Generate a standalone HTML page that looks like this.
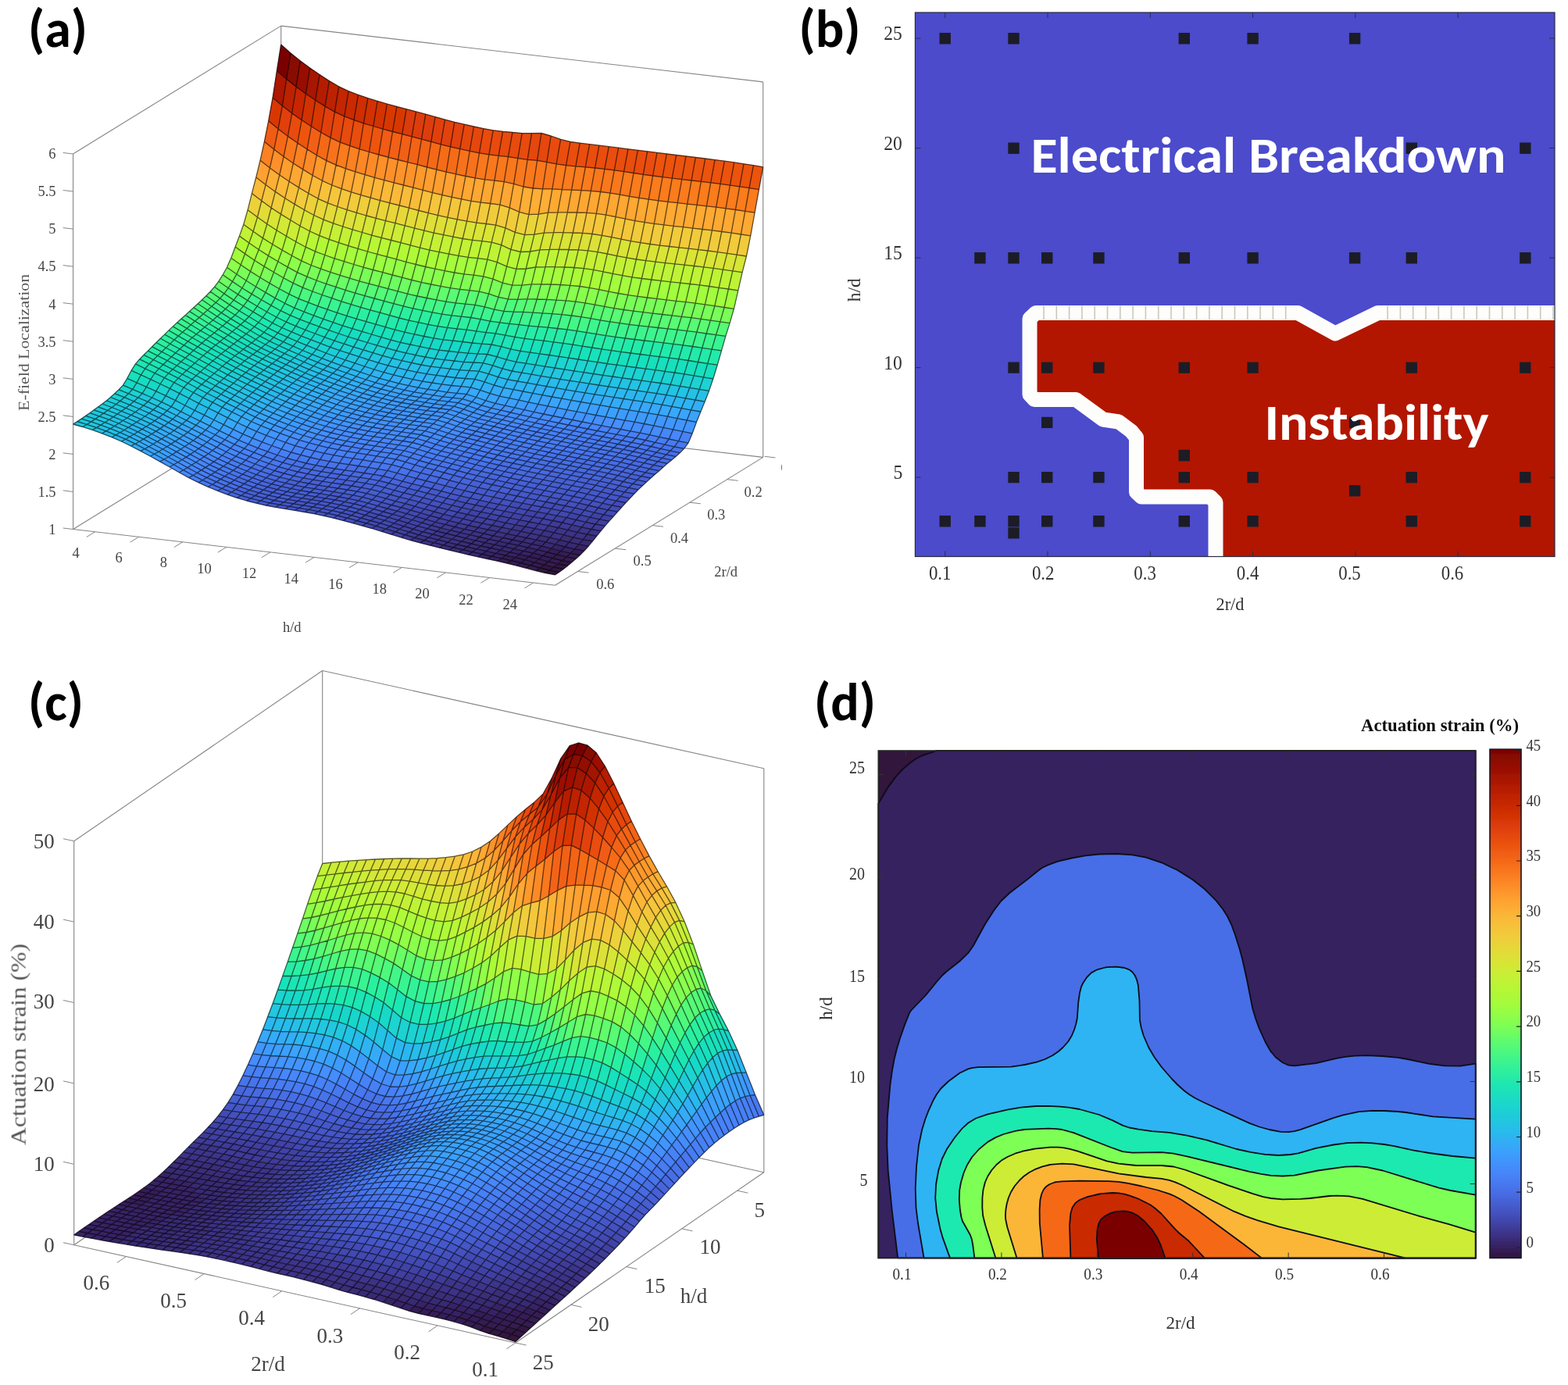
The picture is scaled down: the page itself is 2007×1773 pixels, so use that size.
<!DOCTYPE html><html><head><meta charset="utf-8"><title>Figure</title><style>html,body{margin:0;padding:0;background:#fff;width:2007px;height:1773px;overflow:hidden}svg{display:block}</style></head><body><svg width="2007" height="1773" viewBox="0 0 2007 1773"><defs><filter id="soft" x="0" y="0" width="2007" height="1773" filterUnits="userSpaceOnUse"><feGaussianBlur stdDeviation="0.45"/></filter><clipPath id="clipA"><rect x="0" y="0" width="1001" height="840"/></clipPath><linearGradient id="cbar" x1="0" y1="0" x2="0" y2="1"><stop offset="0.0000" stop-color="#7a0403"/><stop offset="0.0417" stop-color="#9b0f01"/><stop offset="0.0833" stop-color="#b91e02"/><stop offset="0.1250" stop-color="#d02f05"/><stop offset="0.1667" stop-color="#e4450a"/><stop offset="0.2083" stop-color="#f26014"/><stop offset="0.2500" stop-color="#fb7e21"/><stop offset="0.2917" stop-color="#fe9e2f"/><stop offset="0.3333" stop-color="#faba39"/><stop offset="0.3750" stop-color="#eecf3a"/><stop offset="0.4167" stop-color="#d9e436"/><stop offset="0.4583" stop-color="#bef434"/><stop offset="0.5000" stop-color="#a4fc3c"/><stop offset="0.5417" stop-color="#80ff53"/><stop offset="0.5833" stop-color="#55fa76"/><stop offset="0.6250" stop-color="#32f298"/><stop offset="0.6667" stop-color="#1ae4b6"/><stop offset="0.7083" stop-color="#1ad2d2"/><stop offset="0.7500" stop-color="#28bceb"/><stop offset="0.7917" stop-color="#3ba0fd"/><stop offset="0.8333" stop-color="#4685fa"/><stop offset="0.8750" stop-color="#466be3"/><stop offset="0.9167" stop-color="#434eba"/><stop offset="0.9583" stop-color="#3b2f80"/><stop offset="1.0000" stop-color="#30123b"/></linearGradient></defs><rect width="2007" height="1773" fill="#fff"/><g filter="url(#soft)"><line x1="93.6" y1="677.5" x2="93.6" y2="197" stroke="#858585" stroke-width="1.1"/><line x1="93.6" y1="197" x2="359.7" y2="33.1" stroke="#858585" stroke-width="1.1"/><line x1="359.7" y1="33.1" x2="976.7" y2="104.9" stroke="#858585" stroke-width="1.1"/><line x1="976.7" y1="104.9" x2="976.7" y2="585.4" stroke="#858585" stroke-width="1.1"/><line x1="359.7" y1="33.1" x2="359.7" y2="513.6" stroke="#858585" stroke-width="1.1"/><line x1="93.6" y1="677.5" x2="710.6" y2="749.3" stroke="#858585" stroke-width="1.1"/><line x1="710.6" y1="749.3" x2="976.7" y2="585.4" stroke="#858585" stroke-width="1.1"/><line x1="359.7" y1="513.6" x2="976.7" y2="585.4" stroke="#858585" stroke-width="1.1"/><line x1="93.6" y1="677.5" x2="359.7" y2="513.6" stroke="#858585" stroke-width="1.1"/><line x1="93.6" y1="677.5" x2="80.7" y2="676" stroke="#858585" stroke-width="1.0"/><text x="71.5" y="683.8" font-size="18.5" text-anchor="end" font-family="'Liberation Serif','Times New Roman',serif" fill="#444">1</text><line x1="93.6" y1="629.5" x2="80.7" y2="627.9" stroke="#858585" stroke-width="1.0"/><text x="71.5" y="635.7" font-size="18.5" text-anchor="end" font-family="'Liberation Serif','Times New Roman',serif" fill="#444">1.5</text><line x1="93.6" y1="581.4" x2="80.7" y2="579.9" stroke="#858585" stroke-width="1.0"/><text x="71.5" y="587.7" font-size="18.5" text-anchor="end" font-family="'Liberation Serif','Times New Roman',serif" fill="#444">2</text><line x1="93.6" y1="533.4" x2="80.7" y2="531.8" stroke="#858585" stroke-width="1.0"/><text x="71.5" y="539.6" font-size="18.5" text-anchor="end" font-family="'Liberation Serif','Times New Roman',serif" fill="#444">2.5</text><line x1="93.6" y1="485.3" x2="80.7" y2="483.8" stroke="#858585" stroke-width="1.0"/><text x="71.5" y="491.6" font-size="18.5" text-anchor="end" font-family="'Liberation Serif','Times New Roman',serif" fill="#444">3</text><line x1="93.6" y1="437.2" x2="80.7" y2="435.7" stroke="#858585" stroke-width="1.0"/><text x="71.5" y="443.5" font-size="18.5" text-anchor="end" font-family="'Liberation Serif','Times New Roman',serif" fill="#444">3.5</text><line x1="93.6" y1="389.2" x2="80.7" y2="387.7" stroke="#858585" stroke-width="1.0"/><text x="71.5" y="395.5" font-size="18.5" text-anchor="end" font-family="'Liberation Serif','Times New Roman',serif" fill="#444">4</text><line x1="93.6" y1="341.2" x2="80.7" y2="339.6" stroke="#858585" stroke-width="1.0"/><text x="71.5" y="347.4" font-size="18.5" text-anchor="end" font-family="'Liberation Serif','Times New Roman',serif" fill="#444">4.5</text><line x1="93.6" y1="293.1" x2="80.7" y2="291.6" stroke="#858585" stroke-width="1.0"/><text x="71.5" y="299.4" font-size="18.5" text-anchor="end" font-family="'Liberation Serif','Times New Roman',serif" fill="#444">5</text><line x1="93.6" y1="245.1" x2="80.7" y2="243.5" stroke="#858585" stroke-width="1.0"/><text x="71.5" y="251.3" font-size="18.5" text-anchor="end" font-family="'Liberation Serif','Times New Roman',serif" fill="#444">5.5</text><line x1="93.6" y1="197" x2="80.7" y2="195.5" stroke="#858585" stroke-width="1.0"/><text x="71.5" y="203.3" font-size="18.5" text-anchor="end" font-family="'Liberation Serif','Times New Roman',serif" fill="#444">6</text><line x1="121.6" y1="680.8" x2="110.6" y2="687.6" stroke="#858585" stroke-width="1.0"/><text x="97.2" y="713.8" font-size="18.5" text-anchor="middle" font-family="'Liberation Serif','Times New Roman',serif" fill="#444">4</text><line x1="177.7" y1="687.3" x2="166.7" y2="694.1" stroke="#858585" stroke-width="1.0"/><text x="152" y="719.8" font-size="18.5" text-anchor="middle" font-family="'Liberation Serif','Times New Roman',serif" fill="#444">6</text><line x1="233.8" y1="693.8" x2="222.8" y2="700.6" stroke="#858585" stroke-width="1.0"/><text x="209.3" y="726.3" font-size="18.5" text-anchor="middle" font-family="'Liberation Serif','Times New Roman',serif" fill="#444">8</text><line x1="289.9" y1="700.3" x2="278.8" y2="707.2" stroke="#858585" stroke-width="1.0"/><text x="261.6" y="733.8" font-size="18.5" text-anchor="middle" font-family="'Liberation Serif','Times New Roman',serif" fill="#444">10</text><line x1="346" y1="706.9" x2="334.9" y2="713.7" stroke="#858585" stroke-width="1.0"/><text x="318.9" y="740.3" font-size="18.5" text-anchor="middle" font-family="'Liberation Serif','Times New Roman',serif" fill="#444">12</text><line x1="402.1" y1="713.4" x2="391" y2="720.2" stroke="#858585" stroke-width="1.0"/><text x="372.7" y="747.3" font-size="18.5" text-anchor="middle" font-family="'Liberation Serif','Times New Roman',serif" fill="#444">14</text><line x1="458.2" y1="719.9" x2="447.1" y2="726.7" stroke="#858585" stroke-width="1.0"/><text x="429.5" y="753.7" font-size="18.5" text-anchor="middle" font-family="'Liberation Serif','Times New Roman',serif" fill="#444">16</text><line x1="514.3" y1="726.5" x2="503.2" y2="733.3" stroke="#858585" stroke-width="1.0"/><text x="485.8" y="760.2" font-size="18.5" text-anchor="middle" font-family="'Liberation Serif','Times New Roman',serif" fill="#444">18</text><line x1="570.4" y1="733" x2="559.3" y2="739.8" stroke="#858585" stroke-width="1.0"/><text x="540.6" y="766.1" font-size="18.5" text-anchor="middle" font-family="'Liberation Serif','Times New Roman',serif" fill="#444">20</text><line x1="626.5" y1="739.5" x2="615.4" y2="746.3" stroke="#858585" stroke-width="1.0"/><text x="596.4" y="773.6" font-size="18.5" text-anchor="middle" font-family="'Liberation Serif','Times New Roman',serif" fill="#444">22</text><line x1="682.6" y1="746" x2="671.5" y2="752.9" stroke="#858585" stroke-width="1.0"/><text x="652.7" y="779.6" font-size="18.5" text-anchor="middle" font-family="'Liberation Serif','Times New Roman',serif" fill="#444">24</text><line x1="978.6" y1="584.3" x2="992.5" y2="585.9" stroke="#858585" stroke-width="1.0"/><line x1="930.7" y1="613.7" x2="944.7" y2="615.3" stroke="#858585" stroke-width="1.0"/><text x="964.1" y="635.6" font-size="18.5" text-anchor="middle" font-family="'Liberation Serif','Times New Roman',serif" fill="#444">0.2</text><line x1="882.9" y1="643.2" x2="896.8" y2="644.8" stroke="#858585" stroke-width="1.0"/><text x="916.8" y="665" font-size="18.5" text-anchor="middle" font-family="'Liberation Serif','Times New Roman',serif" fill="#444">0.3</text><line x1="835.1" y1="672.6" x2="849" y2="674.2" stroke="#858585" stroke-width="1.0"/><text x="869.5" y="695.4" font-size="18.5" text-anchor="middle" font-family="'Liberation Serif','Times New Roman',serif" fill="#444">0.4</text><line x1="787.3" y1="702.1" x2="801.2" y2="703.7" stroke="#858585" stroke-width="1.0"/><text x="822.1" y="723.8" font-size="18.5" text-anchor="middle" font-family="'Liberation Serif','Times New Roman',serif" fill="#444">0.5</text><line x1="739.5" y1="731.5" x2="753.4" y2="733.1" stroke="#858585" stroke-width="1.0"/><text x="774.8" y="753.7" font-size="18.5" text-anchor="middle" font-family="'Liberation Serif','Times New Roman',serif" fill="#444">0.6</text><text x="1011" y="605.3" font-size="18.5" text-anchor="middle" font-family="'Liberation Serif','Times New Roman',serif" fill="#444" clip-path="url(#clipA)">0.1</text><text x="373.7" y="808.5" font-size="18.5" text-anchor="middle" font-family="'Liberation Serif','Times New Roman',serif" fill="#444">h/d</text><text x="929.2" y="737.7" font-size="18.5" text-anchor="middle" font-family="'Liberation Serif','Times New Roman',serif" fill="#444">2r/d</text><text x="30.5" y="444.9" font-size="19" text-anchor="middle" font-family="'Liberation Serif','Times New Roman',serif" fill="#555" textLength="175" lengthAdjust="spacingAndGlyphs" transform="rotate(-90 30.5 438.4)">E-field Localization</text><g><path fill="#30123b" stroke="#30123b" stroke-width="0.6" d="M698.3 733.5l12.3 2.3 5.3 -3.5 -12.3 -2.3z"/><path fill="#321543" stroke="#321543" stroke-width="0.6" d="M685.9 730.6l12.3 3 5.3 -3.6 -12.3 -3zM691.2 727l12.3 3 5.3 -3.9 -12.3 -3zM703.6 730l12.3 2.3 5.3 -3.9 -12.3 -2.3zM708.9 726.1l12.3 2.3 5.3 -4.2 -12.3 -2.3zM714.2 721.9l12.3 2.3 5.3 -4.4 -12.3 -2.3z"/><path fill="#341b51" stroke="#341b51" stroke-width="0.6" d="M661.2 724l12.3 3.3 5.3 -3.5 -12.3 -3.2zM666.6 720.5l12.3 3.2 5.3 -3.9 -12.3 -3.2zM673.6 727.3l12.3 3.3 5.3 -3.5 -12.3 -3.3zM678.9 723.7l12.3 3.3 5.3 -3.9 -12.3 -3.3zM684.2 719.9l12.3 3.3 5.3 -4.2 -12.3 -3.2zM696.6 723.1l12.3 3 5.3 -4.2 -12.3 -2.9zM701.9 718.9l12.3 2.9 5.3 -4.4 -12.3 -2.9zM707.2 714.5l12.3 2.9 5.3 -4.5 -12.3 -2.9zM719.5 717.5l12.3 2.3 5.3 -4.5 -12.3 -2.3zM724.9 712.9l12.3 2.3 5.3 -4.7 -12.3 -2.3z"/><path fill="#351e58" stroke="#351e58" stroke-width="0.6" d="M636.6 718.2l12.3 2.8 5.3 -3.5 -12.3 -2.8zM641.9 714.8l12.3 2.8 5.3 -3.8 -12.3 -2.8zM648.9 721l12.3 3 5.3 -3.5 -12.3 -2.9zM654.2 717.5l12.3 2.9 5.3 -3.9 -12.3 -2.9zM659.5 713.7l12.3 2.9 5.3 -4.1 -12.3 -2.9zM671.9 716.6l12.3 3.2 5.3 -4.2 -12.3 -3.2zM677.2 712.5l12.3 3.2 5.3 -4.4 -12.3 -3.2zM689.5 715.7l12.3 3.2 5.3 -4.4 -12.3 -3.2zM694.9 711.3l12.3 3.2 5.3 -4.5 -12.3 -3.2zM700.2 706.9l12.3 3.2 5.3 -4.7 -12.3 -3.1zM712.5 710l12.3 2.9 5.3 -4.7 -12.3 -2.9zM730.2 708.2l12.3 2.3 5.3 -5.4 -12.3 -2.3z"/><path fill="#372466" stroke="#372466" stroke-width="0.6" d="M611.9 712.8l12.3 2.7 5.3 -3.5 -12.3 -2.7zM617.2 709.4l12.3 2.7 5.3 -3.8 -12.3 -2.7zM624.2 715.5l12.3 2.7 5.3 -3.5 -12.3 -2.7zM629.5 712.1l12.3 2.7 5.3 -3.8 -12.3 -2.7zM634.9 708.3l12.3 2.7 5.3 -4.1 -12.3 -2.7zM647.2 711l12.3 2.8 5.3 -4.1 -12.3 -2.7zM652.5 706.9l12.3 2.7 5.3 -4.3 -12.3 -2.7zM664.9 709.6l12.3 2.9 5.3 -4.3 -12.3 -2.9zM670.2 705.3l12.3 2.9 5.3 -4.5 -12.3 -2.8zM682.5 708.2l12.3 3.2 5.3 -4.5 -12.3 -3.1zM687.9 703.7l12.3 3.1 5.3 -4.7 -12.3 -3.1zM705.5 702.2l12.3 3.1 5.3 -5.3 -12.3 -3.1zM717.9 705.3l12.3 2.9 5.3 -5.4 -12.3 -2.8zM735.5 702.9l12.3 2.3 5.3 -6 -12.3 -2.3z"/><path fill="#392a73" stroke="#392a73" stroke-width="0.6" d="M587.2 707.1l12.3 2.9 5.3 -3.4 -12.3 -2.9zM592.5 703.7l12.3 2.9 5.3 -3.8 -12.3 -2.9zM599.5 710l12.3 2.8 5.3 -3.4 -12.3 -2.8zM604.9 706.6l12.3 2.8 5.3 -3.8 -12.3 -2.7zM610.2 702.8l12.3 2.7 5.3 -4 -12.3 -2.7zM615.5 698.8l12.3 2.7 5.3 -4.2 -12.3 -2.7zM622.5 705.6l12.3 2.7 5.3 -4.1 -12.3 -2.7zM627.8 701.5l12.3 2.7 5.3 -4.3 -12.3 -2.6zM633.2 697.3l12.3 2.6 5.3 -4.4 -12.3 -2.6zM640.2 704.2l12.3 2.7 5.3 -4.3 -12.3 -2.6zM645.5 699.9l12.3 2.6 5.3 -4.4 -12.3 -2.6zM650.8 695.6l12.3 2.6 5.3 -4.6 -12.3 -2.6zM657.8 702.6l12.3 2.7 5.3 -4.4 -12.3 -2.7zM663.2 698.2l12.3 2.7 5.3 -4.6 -12.3 -2.7zM675.5 700.9l12.3 2.8 5.3 -4.6 -12.3 -2.8zM680.8 696.3l12.3 2.8 5.3 -5.2 -12.3 -2.8zM693.2 699.1l12.3 3.1 5.3 -5.3 -12.3 -3.1zM710.8 696.9l12.3 3.1 5.3 -5.9 -12.3 -3.1zM723.2 700l12.3 2.8 5.3 -5.9 -12.3 -2.8zM740.8 696.9l12.3 2.3 5.3 -6.4 -12.3 -2.2z"/><path fill="#3a2d79" stroke="#3a2d79" stroke-width="0.6" d="M562.5 701.2l12.3 3 5.3 -3.4 -12.3 -3zM567.8 697.8l12.3 3 5.3 -3.7 -12.3 -3zM574.9 704.2l12.3 2.9 5.3 -3.4 -12.3 -2.9zM580.2 700.8l12.3 2.9 5.3 -3.7 -12.3 -2.9zM585.5 697.1l12.3 2.9 5.3 -4 -12.3 -2.9zM590.8 693.1l12.3 2.9 5.3 -4.2 -12.3 -2.9zM597.8 700l12.3 2.9 5.3 -4 -12.3 -2.8zM603.2 696l12.3 2.8 5.3 -4.2 -12.3 -2.8zM608.5 691.8l12.3 2.8 5.3 -4.3 -12.3 -2.8zM620.8 694.6l12.3 2.7 5.3 -4.4 -12.3 -2.7zM626.2 690.3l12.3 2.7 5.3 -4.5 -12.3 -2.6zM638.5 692.9l12.3 2.6 5.3 -4.5 -12.3 -2.6zM643.8 688.4l12.3 2.6 5.3 -5.1 -12.3 -2.6zM656.2 691l12.3 2.6 5.3 -5.2 -12.3 -2.6zM668.5 693.6l12.3 2.7 5.3 -5.2 -12.3 -2.6zM686.2 691.1l12.3 2.8 5.3 -5.8 -12.3 -2.7zM698.5 693.8l12.3 3.1 5.3 -5.8 -12.3 -3zM716.2 691.1l12.3 3.1 5.3 -6.3 -12.3 -3zM728.5 694.1l12.3 2.8 5.3 -6.3 -12.3 -2.8zM746.2 690.6l12.3 2.2 5.3 -6.6 -12.3 -2.2z"/><path fill="#3c3286" stroke="#3c3286" stroke-width="0.6" d="M537.8 694.9l12.3 3.2 5.3 -3.4 -12.3 -3.2zM550.2 698.1l12.3 3.1 5.3 -3.4 -12.3 -3.1zM555.5 694.7l12.3 3.1 5.3 -3.7 -12.3 -3zM560.8 691.1l12.3 3 5.3 -3.9 -12.3 -3zM573.2 694.1l12.3 3 5.3 -4 -12.3 -2.9zM578.5 690.2l12.3 2.9 5.3 -4.2 -12.3 -2.9zM583.8 686l12.3 2.9 5.3 -4.3 -12.3 -2.9zM596.1 688.9l12.3 2.9 5.3 -4.3 -12.3 -2.8zM601.5 684.7l12.3 2.8 5.3 -4.5 -12.3 -2.8zM613.8 687.5l12.3 2.8 5.3 -4.5 -12.3 -2.7zM619.1 683l12.3 2.7 5.3 -5 -12.3 -2.7zM631.5 685.8l12.3 2.6 5.3 -5.1 -12.3 -2.6zM649.1 683.3l12.3 2.6 5.3 -5.6 -12.3 -2.5zM661.5 685.9l12.3 2.6 5.3 -5.7 -12.3 -2.5zM673.8 688.5l12.3 2.6 5.3 -5.7 -12.3 -2.6zM691.5 685.3l12.3 2.7 5.3 -6.2 -12.3 -2.7zM703.8 688.1l12.3 3 5.3 -6.2 -12.3 -3zM721.5 684.8l12.3 3 5.3 -6.5 -12.3 -2.9zM733.8 687.8l12.3 2.8 5.3 -6.5 -12.3 -2.7z"/><path fill="#3d358b" stroke="#3d358b" stroke-width="0.6" d="M525.5 691.6l12.3 3.3 5.3 -3.3 -12.3 -3.3zM530.8 688.3l12.3 3.3 5.3 -3.6 -12.3 -3.3zM543.2 691.6l12.3 3.2 5.3 -3.7 -12.3 -3.1zM548.5 687.9l12.3 3.1 5.3 -3.9 -12.3 -3.1zM553.8 684l12.3 3.1 5.3 -4.1 -12.3 -3.1zM559.1 680l12.3 3.1 5.3 -4.2 -12.3 -3zM566.1 687.1l12.3 3 5.3 -4.1 -12.3 -3zM571.5 683l12.3 3 5.3 -4.2 -12.3 -3zM576.8 678.8l12.3 3 5.3 -4.4 -12.3 -2.9zM589.1 681.8l12.3 2.9 5.3 -4.4 -12.3 -2.9zM594.5 677.4l12.3 2.9 5.3 -5 -12.3 -2.8zM606.8 680.2l12.3 2.8 5.3 -5 -12.3 -2.8zM624.5 678l12.3 2.7 5.3 -5.6 -12.3 -2.7zM636.8 680.7l12.3 2.6 5.3 -5.6 -12.3 -2.6zM654.5 677.7l12.3 2.5 5.3 -6 -12.3 -2.5zM666.8 680.2l12.3 2.5 5.3 -6.1 -12.3 -2.5zM679.1 682.8l12.3 2.6 5.3 -6.1 -12.3 -2.5zM696.8 679.2l12.3 2.7 5.3 -6.4 -12.3 -2.6zM709.1 681.9l12.3 3 5.3 -6.5 -12.3 -2.9zM726.8 678.4l12.3 2.9 5.3 -6.5 -12.3 -2.9zM739.1 681.3l12.3 2.7 5.3 -6.6 -12.3 -2.7zM751.5 684l12.3 2.2 5.3 -6.6 -12.3 -2.2z"/><path fill="#3f3b97" stroke="#3f3b97" stroke-width="0.6" d="M513.2 688l12.3 3.6 5.3 -3.3 -12.3 -3.6zM518.5 684.7l12.3 3.6 5.3 -3.6 -12.3 -3.6zM523.8 681.1l12.3 3.6 5.3 -3.9 -12.3 -3.5zM536.1 684.6l12.3 3.3 5.3 -3.9 -12.3 -3.2zM541.5 680.8l12.3 3.2 5.3 -4.1 -12.3 -3.2zM546.8 676.7l12.3 3.2 5.3 -4.2 -12.3 -3.2zM552.1 672.6l12.3 3.2 5.3 -4.3 -12.3 -3.1zM564.5 675.8l12.3 3 5.3 -4.4 -12.3 -3zM569.8 671.4l12.3 3 5.3 -4.9 -12.3 -3zM582.1 674.5l12.3 2.9 5.3 -4.9 -12.3 -2.9zM599.8 672.5l12.3 2.8 5.3 -5.5 -12.3 -2.8zM612.1 675.3l12.3 2.8 5.3 -5.5 -12.3 -2.7zM629.8 672.5l12.3 2.7 5.3 -5.9 -12.3 -2.6zM642.1 675.2l12.3 2.6 5.3 -6 -12.3 -2.5zM659.8 671.8l12.3 2.5 5.3 -6.3 -12.3 -2.4zM672.1 674.2l12.3 2.5 5.3 -6.3 -12.3 -2.4zM684.5 676.7l12.3 2.5 5.3 -6.3 -12.3 -2.5zM702.1 672.9l12.3 2.6 5.3 -6.4 -12.3 -2.6zM714.5 675.5l12.3 2.9 5.3 -6.5 -12.3 -2.8zM744.5 674.8l12.3 2.7 5.3 -6.4 -12.3 -2.7zM756.8 677.5l12.3 2.2 5.3 -6.4 -12.3 -2.2z"/><path fill="#4040a2" stroke="#4040a2" stroke-width="0.6" d="M500.8 684.1l12.3 3.8 5.3 -3.3 -12.3 -3.8zM506.1 680.9l12.3 3.8 5.3 -3.6 -12.3 -3.7zM511.5 677.3l12.3 3.7 5.3 -3.8 -12.3 -3.7zM516.8 673.6l12.3 3.7 5.3 -4 -12.3 -3.7zM529.1 677.3l12.3 3.5 5.3 -4 -12.3 -3.5zM534.4 673.3l12.3 3.5 5.3 -4.2 -12.3 -3.4zM539.8 669.2l12.3 3.4 5.3 -4.3 -12.3 -3.4zM557.4 668.3l12.3 3.1 5.3 -4.8 -12.3 -3.1zM575.1 666.6l12.3 3 5.3 -5.3 -12.3 -2.9zM587.4 669.6l12.3 2.9 5.3 -5.4 -12.3 -2.8zM592.8 664.2l12.3 2.8 5.3 -5.8 -12.3 -2.8zM605.1 667.1l12.3 2.8 5.3 -5.8 -12.3 -2.7zM617.4 669.8l12.3 2.7 5.3 -5.9 -12.3 -2.7zM635.1 666.6l12.3 2.6 5.3 -6.2 -12.3 -2.6zM647.4 669.3l12.3 2.5 5.3 -6.2 -12.3 -2.5zM665.1 665.6l12.3 2.4 5.3 -6.3 -12.3 -2.4zM677.4 668l12.3 2.4 5.3 -6.4 -12.3 -2.4zM689.8 670.4l12.3 2.5 5.3 -6.4 -12.3 -2.4zM707.4 666.5l12.3 2.6 5.3 -6.4 -12.3 -2.5zM719.8 669l12.3 2.8 5.3 -6.4 -12.3 -2.8zM732.1 671.9l12.3 2.9 5.3 -6.4 -12.3 -2.9zM749.8 668.4l12.3 2.7 5.3 -6.2 -12.3 -2.7zM762.1 671l12.3 2.2 5.3 -6.1 -12.3 -2.2z"/><path fill="#4143a7" stroke="#4143a7" stroke-width="0.6" d="M476.1 676.5l12.3 3.7 5.3 -3.2 -12.3 -3.7zM488.5 680.3l12.3 3.9 5.3 -3.2 -12.3 -3.8zM493.8 677.1l12.3 3.8 5.3 -3.5 -12.3 -3.8zM499.1 673.6l12.3 3.8 5.3 -3.8 -12.3 -3.7zM504.4 669.8l12.3 3.7 5.3 -4 -12.3 -3.7zM509.8 665.9l12.3 3.7 5.3 -4.1 -12.3 -3.7zM522.1 669.6l12.3 3.7 5.3 -4.1 -12.3 -3.6zM527.4 665.5l12.3 3.6 5.3 -4.2 -12.3 -3.6zM532.8 661.3l12.3 3.6 5.3 -4.7 -12.3 -3.5zM545.1 664.9l12.3 3.4 5.3 -4.8 -12.3 -3.3zM550.4 660.2l12.3 3.3 5.3 -5.2 -12.3 -3.3zM562.8 663.5l12.3 3.1 5.3 -5.3 -12.3 -3zM580.4 661.3l12.3 2.9 5.3 -5.7 -12.3 -2.9zM598.1 658.5l12.3 2.8 5.3 -6 -12.3 -2.7zM610.4 661.3l12.3 2.7 5.3 -6.1 -12.3 -2.7zM622.8 664l12.3 2.7 5.3 -6.1 -12.3 -2.6zM640.4 660.5l12.3 2.6 5.3 -6.2 -12.3 -2.5zM652.8 663.1l12.3 2.5 5.3 -6.3 -12.3 -2.4zM670.4 659.3l12.3 2.4 5.3 -6.3 -12.3 -2.3zM682.8 661.6l12.3 2.4 5.3 -6.3 -12.3 -2.3zM695.1 664l12.3 2.4 5.3 -6.3 -12.3 -2.4zM725.1 662.7l12.3 2.8 5.3 -6.2 -12.3 -2.9zM737.4 665.5l12.3 2.9 5.3 -6.2 -12.3 -2.9zM755.1 662.2l12.3 2.7 5.3 -6 -12.3 -2.8zM767.4 664.9l12.3 2.2 5.3 -5.9 -12.3 -2.3z"/><path fill="#4249b1" stroke="#4249b1" stroke-width="0.6" d="M463.8 673.1l12.3 3.5 5.3 -3.2 -12.3 -3.4zM469.1 669.9l12.3 3.4 5.3 -3.5 -12.3 -3.4zM474.4 666.5l12.3 3.4 5.3 -3.7 -12.3 -3.4zM481.5 673.3l12.3 3.7 5.3 -3.5 -12.3 -3.7zM486.8 669.9l12.3 3.7 5.3 -3.7 -12.3 -3.6zM492.1 666.2l12.3 3.6 5.3 -3.9 -12.3 -3.6zM497.4 662.3l12.3 3.6 5.3 -4 -12.3 -3.5zM502.8 658.3l12.3 3.5 5.3 -4.2 -12.3 -3.5zM515.1 661.9l12.3 3.7 5.3 -4.2 -12.3 -3.6zM520.4 657.7l12.3 3.6 5.3 -4.7 -12.3 -3.5zM538.1 656.7l12.3 3.5 5.3 -5.2 -12.3 -3.4zM555.7 655l12.3 3.3 5.3 -5.6 -12.3 -3.2zM568.1 658.3l12.3 3 5.3 -5.6 -12.3 -3zM573.4 652.7l12.3 3 5.3 -5.9 -12.3 -2.9zM585.7 655.7l12.3 2.9 5.3 -5.9 -12.3 -2.8zM603.4 652.6l12.3 2.7 5.3 -6.1 -12.3 -2.7zM615.7 655.3l12.3 2.7 5.3 -6.2 -12.3 -2.6zM628.1 657.9l12.3 2.6 5.3 -6.2 -12.3 -2.6zM645.7 654.3l12.3 2.5 5.3 -6.2 -12.3 -2.5zM658.1 656.9l12.3 2.4 5.3 -6.2 -12.3 -2.4zM688.1 655.4l12.3 2.3 5.3 -6.4 -12.3 -2.4zM700.4 657.7l12.3 2.4 5.3 -6.3 -12.3 -2.4zM712.8 660.1l12.3 2.5 5.3 -6.3 -12.3 -2.6zM730.4 656.4l12.3 2.9 5.3 -6.2 -12.3 -2.9zM742.8 659.3l12.3 2.9 5.3 -6.1 -12.3 -3zM760.4 656.1l12.3 2.8 5.3 -6 -12.3 -2.8zM772.8 658.8l12.3 2.3 5.3 -5.9 -12.3 -2.4z"/><path fill="#424bb5" stroke="#424bb5" stroke-width="0.6" d="M451.5 669.7l12.3 3.4 5.3 -3.2 -12.3 -3.4zM456.8 666.5l12.3 3.4 5.3 -3.4 -12.3 -3.4zM462.1 663.1l12.3 3.4 5.3 -3.7 -12.3 -3.4zM467.4 659.4l12.3 3.4 5.3 -3.8 -12.3 -3.4zM479.8 662.8l12.3 3.4 5.3 -3.9 -12.3 -3.3zM485.1 659l12.3 3.3 5.3 -4 -12.3 -3.3zM490.4 655l12.3 3.3 5.3 -4.1 -12.3 -3.3zM508.1 654.2l12.3 3.5 5.3 -4.6 -12.3 -3.4zM513.4 649.7l12.3 3.4 5.3 -5 -12.3 -3.4zM525.7 653.1l12.3 3.5 5.3 -5.1 -12.3 -3.5zM543.4 651.6l12.3 3.4 5.3 -5.5 -12.3 -3.4zM561.1 649.5l12.3 3.2 5.3 -5.8 -12.3 -3.1zM578.7 646.9l12.3 2.9 5.3 -6 -12.3 -2.9zM591.1 649.8l12.3 2.8 5.3 -6.1 -12.3 -2.7zM608.7 646.5l12.3 2.7 5.3 -6.1 -12.3 -2.6zM621.1 649.2l12.3 2.6 5.3 -6.2 -12.3 -2.6zM633.4 651.8l12.3 2.6 5.3 -6.2 -12.3 -2.5zM651.1 648.2l12.3 2.5 5.3 -6.5 -12.3 -2.5zM663.4 650.6l12.3 2.4 5.3 -6.4 -12.3 -2.4zM675.7 653l12.3 2.3 5.3 -6.4 -12.3 -2.4zM693.4 649l12.3 2.4 5.3 -6.4 -12.3 -2.5zM705.7 651.4l12.3 2.4 5.3 -6.3 -12.3 -2.5zM718.1 653.8l12.3 2.6 5.3 -6.2 -12.3 -2.7zM735.7 650.2l12.3 2.9 5.3 -6.1 -12.3 -3zM748.1 653.1l12.3 3 5.3 -6 -12.3 -3zM765.8 650l12.3 2.8 5.3 -5.9 -12.3 -2.8zM778.1 652.8l12.3 2.4 5.3 -5.9 -12.3 -2.4zM783.4 646.9l12.3 2.4 5.3 -5.8 -12.3 -2.4z"/><path fill="#4451bf" stroke="#4451bf" stroke-width="0.6" d="M426.8 663.2l12.3 3.2 5.3 -3.2 -12.3 -3.2zM432.1 660l12.3 3.2 5.3 -3.5 -12.3 -3.2zM437.4 656.5l12.3 3.2 5.3 -3.7 -12.3 -3.2zM439.1 666.4l12.3 3.3 5.3 -3.2 -12.3 -3.3zM444.4 663.2l12.3 3.3 5.3 -3.4 -12.3 -3.4zM449.8 659.7l12.3 3.4 5.3 -3.7 -12.3 -3.4zM455.1 656l12.3 3.4 5.3 -3.8 -12.3 -3.4zM460.4 652.2l12.3 3.4 5.3 -3.9 -12.3 -3.4zM472.7 655.6l12.3 3.4 5.3 -3.9 -12.3 -3.4zM478.1 651.7l12.3 3.4 5.3 -4.1 -12.3 -3.4zM483.4 647.6l12.3 3.4 5.3 -4.5 -12.3 -3.4zM495.7 651l12.3 3.3 5.3 -4.5 -12.3 -3.2zM501.1 646.5l12.3 3.2 5.3 -5 -12.3 -3.2zM518.7 644.7l12.3 3.4 5.3 -5.4 -12.3 -3.3zM531.1 648.1l12.3 3.5 5.3 -5.4 -12.3 -3.4zM536.4 642.7l12.3 3.4 5.3 -5.7 -12.3 -3.3zM548.7 646.1l12.3 3.4 5.3 -5.8 -12.3 -3.3zM566.4 643.7l12.3 3.1 5.3 -6 -12.3 -3.1zM584 640.9l12.3 2.9 5.3 -6.1 -12.3 -2.8zM596.4 643.8l12.3 2.7 5.3 -6.1 -12.3 -2.7zM626.4 643.1l12.3 2.6 5.3 -6.6 -12.3 -2.6zM638.7 645.6l12.3 2.5 5.3 -6.5 -12.3 -2.6zM668.7 644.1l12.3 2.4 5.3 -6.5 -12.3 -2.5zM681.1 646.6l12.3 2.4 5.3 -6.4 -12.3 -2.5zM698.7 642.5l12.3 2.5 5.3 -6.2 -12.3 -2.5zM711.1 645l12.3 2.5 5.3 -6.1 -12.3 -2.6zM723.4 647.5l12.3 2.7 5.3 -6.1 -12.3 -2.7zM741.1 644.1l12.3 3 5.3 -5.9 -12.3 -2.9zM753.4 647l12.3 3 5.3 -5.9 -12.3 -3zM771.1 644.1l12.3 2.8 5.3 -5.8 -12.3 -2.8zM788.7 641.1l12.3 2.4 5.3 -5.7 -12.3 -2.4z"/><path fill="#4456c7" stroke="#4456c7" stroke-width="0.6" d="M389.8 655.5l12.3 2.2 5.3 -3.1 -12.3 -2.2zM395.1 652.4l12.3 2.2 5.3 -3.4 -12.3 -2.2zM402.1 657.7l12.3 2.6 5.3 -3.2 -12.3 -2.5zM407.4 654.6l12.3 2.5 5.3 -3.4 -12.3 -2.5zM412.7 651.2l12.3 2.5 5.3 -3.6 -12.3 -2.4zM418.1 647.6l12.3 2.4 5.3 -3.8 -12.3 -2.4zM414.4 660.3l12.3 2.9 5.3 -3.2 -12.3 -2.9zM419.8 657.1l12.3 2.9 5.3 -3.5 -12.3 -2.8zM425.1 653.7l12.3 2.8 5.3 -3.7 -12.3 -2.8zM430.4 650.1l12.3 2.8 5.3 -3.9 -12.3 -2.7zM435.7 646.3l12.3 2.7 5.3 -4 -12.3 -2.6zM442.7 652.8l12.3 3.2 5.3 -3.8 -12.3 -3.2zM448.1 649l12.3 3.2 5.3 -4 -12.3 -3.2zM453.4 645l12.3 3.2 5.3 -4.1 -12.3 -3.2zM465.7 648.2l12.3 3.4 5.3 -4.1 -12.3 -3.5zM471.1 644.1l12.3 3.5 5.3 -4.5 -12.3 -3.5zM488.7 643.1l12.3 3.4 5.3 -4.9 -12.3 -3.3zM494 638.2l12.3 3.3 5.3 -5.2 -12.3 -3.3zM506.4 641.6l12.3 3.2 5.3 -5.3 -12.3 -3.1zM524 639.4l12.3 3.3 5.3 -5.6 -12.3 -3.2zM541.7 637.1l12.3 3.3 5.3 -5.8 -12.3 -3.3zM554 640.4l12.3 3.3 5.3 -5.9 -12.3 -3.2zM571.7 637.8l12.3 3.1 5.3 -6 -12.3 -3zM601.7 637.7l12.3 2.7 5.3 -6.6 -12.3 -2.7zM614 640.4l12.3 2.6 5.3 -6.6 -12.3 -2.7zM631.7 636.4l12.3 2.6 5.3 -6.7 -12.3 -2.7zM644 639.1l12.3 2.6 5.3 -6.7 -12.3 -2.6zM656.4 641.6l12.3 2.5 5.3 -6.6 -12.3 -2.6zM674 637.6l12.3 2.5 5.3 -6.3 -12.3 -2.5zM686.4 640.1l12.3 2.5 5.3 -6.2 -12.3 -2.5zM704.1 636.3l12.3 2.5 5.3 -5.9 -12.3 -2.5zM716.4 638.8l12.3 2.6 5.3 -5.9 -12.3 -2.6zM728.7 641.4l12.3 2.7 5.3 -5.9 -12.3 -2.7zM746.4 638.2l12.3 2.9 5.3 -5.8 -12.3 -2.9zM758.7 641.1l12.3 3 5.3 -5.8 -12.3 -3zM764.1 635.3l12.3 3 5.3 -5.7 -12.3 -3zM776.4 638.3l12.3 2.8 5.3 -5.7 -12.3 -2.8zM794.1 635.4l12.3 2.4 5.3 -5.6 -12.3 -2.4z"/><path fill="#4559cb" stroke="#4559cb" stroke-width="0.6" d="M340.4 647l12.3 2.3 5.3 -3.1 -12.3 -2.4zM345.7 643.8l12.3 2.4 5.3 -3.4 -12.3 -2.4zM352.7 649.3l12.3 2.1 5.3 -3.1 -12.3 -2.1zM358.1 646.2l12.3 2.1 5.3 -3.4 -12.3 -2.1zM363.4 642.8l12.3 2.1 5.3 -3.6 -12.3 -2.1zM368.7 639.3l12.3 2.1 5.3 -3.7 -12.3 -2.1zM365.1 651.4l12.3 2 5.3 -3.1 -12.3 -2zM370.4 648.3l12.3 2 5.3 -3.4 -12.3 -2zM375.7 644.9l12.3 2 5.3 -3.6 -12.3 -2zM381 641.4l12.3 2 5.3 -3.7 -12.3 -2zM386.4 637.7l12.3 2 5.3 -3.8 -12.3 -2zM377.4 653.4l12.3 2.1 5.3 -3.1 -12.3 -2.1zM382.7 650.3l12.3 2.1 5.3 -3.4 -12.3 -2zM388.1 646.9l12.3 2 5.3 -3.6 -12.3 -2zM393.4 643.4l12.3 2 5.3 -3.7 -12.3 -2zM398.7 639.7l12.3 2 5.3 -3.8 -12.3 -2zM404 635.9l12.3 2 5.3 -3.9 -12.3 -2zM400.4 649l12.3 2.2 5.3 -3.6 -12.3 -2.2zM405.7 645.4l12.3 2.2 5.3 -3.7 -12.3 -2.2zM411 641.7l12.3 2.2 5.3 -3.9 -12.3 -2.2zM416.4 637.9l12.3 2.2 5.3 -4 -12.3 -2.1zM421.7 633.9l12.3 2.1 5.3 -4.3 -12.3 -2.1zM423.4 643.9l12.3 2.4 5.3 -3.9 -12.3 -2.3zM428.7 640l12.3 2.3 5.3 -4 -12.3 -2.3zM434 636l12.3 2.3 5.3 -4.4 -12.3 -2.2zM441.1 642.4l12.3 2.6 5.3 -4.1 -12.3 -2.6zM446.4 638.3l12.3 2.6 5.3 -4.5 -12.3 -2.5zM458.7 640.9l12.3 3.2 5.3 -4.5 -12.3 -3.2zM464 636.4l12.3 3.2 5.3 -4.9 -12.3 -3.2zM476.4 639.7l12.3 3.5 5.3 -4.9 -12.3 -3.5zM481.7 634.8l12.3 3.5 5.3 -5.2 -12.3 -3.4zM499.4 633l12.3 3.3 5.3 -5.5 -12.3 -3.3zM511.7 636.3l12.3 3.1 5.3 -5.6 -12.3 -3zM517 630.8l12.3 3 5.3 -5.7 -12.3 -3zM529.4 633.9l12.3 3.2 5.3 -5.8 -12.3 -3.2zM547 631.3l12.3 3.3 5.3 -5.9 -12.3 -3.2zM559.4 634.6l12.3 3.2 5.3 -6 -12.3 -3.2zM577 631.9l12.3 3 5.3 -6.7 -12.3 -3.1zM589.4 634.9l12.3 2.8 5.3 -6.7 -12.3 -2.8zM607 631l12.3 2.7 5.3 -6.9 -12.3 -2.8zM619.4 633.8l12.3 2.7 5.3 -6.8 -12.3 -2.7zM649.4 632.3l12.3 2.6 5.3 -6.3 -12.3 -2.7zM661.7 635l12.3 2.6 5.3 -6.3 -12.3 -2.6zM679.4 631.3l12.3 2.5 5.3 -5.9 -12.3 -2.5zM691.7 633.8l12.3 2.5 5.3 -5.9 -12.3 -2.5zM709.4 630.4l12.3 2.5 5.3 -5.7 -12.3 -2.5zM721.7 632.9l12.3 2.6 5.3 -5.8 -12.3 -2.5zM734.1 635.5l12.3 2.7 5.3 -5.8 -12.3 -2.7zM739.4 629.7l12.3 2.7 5.3 -5.7 -12.3 -2.6zM751.7 632.4l12.3 2.9 5.3 -5.7 -12.3 -2.9zM769.4 629.6l12.3 3 5.3 -5.5 -12.3 -2.9zM781.7 632.6l12.3 2.8 5.3 -5.6 -12.3 -2.8zM787 627l12.3 2.8 5.3 -5.4 -12.3 -2.8zM799.4 629.8l12.3 2.4 5.3 -5.4 -12.3 -2.4z"/><path fill="#455ed3" stroke="#455ed3" stroke-width="0.6" d="M315.7 641l12.3 3.2 5.3 -3.1 -12.3 -3.2zM328.1 644.2l12.3 2.8 5.3 -3.1 -12.3 -2.8zM333.4 641.1l12.3 2.8 5.3 -3.4 -12.3 -2.8zM338.7 637.7l12.3 2.8 5.3 -3.6 -12.3 -2.8zM344 634.1l12.3 2.8 5.3 -3.7 -12.3 -2.8zM349.3 630.4l12.3 2.8 5.3 -3.8 -12.3 -2.8zM351 640.5l12.3 2.4 5.3 -3.6 -12.3 -2.4zM356.4 636.9l12.3 2.4 5.3 -3.7 -12.3 -2.4zM361.7 633.2l12.3 2.4 5.3 -3.8 -12.3 -2.4zM367 629.4l12.3 2.4 5.3 -3.9 -12.3 -2.4zM372.3 625.4l12.3 2.4 5.3 -4.2 -12.3 -2.4zM374 635.6l12.3 2.1 5.3 -3.8 -12.3 -2.1zM379.4 631.7l12.3 2.1 5.3 -3.9 -12.3 -2.1zM384.7 627.8l12.3 2.1 5.3 -4.2 -12.3 -2.1zM391.7 633.9l12.3 2 5.3 -3.9 -12.3 -2zM397 630l12.3 2 5.3 -4.3 -12.3 -1.9zM402.3 625.7l12.3 1.9 5.3 -4.6 -12.3 -1.9zM409.4 631.9l12.3 2 5.3 -4.3 -12.3 -2zM414.7 627.7l12.3 2 5.3 -4.7 -12.3 -1.9zM427 629.6l12.3 2.1 5.3 -4.7 -12.3 -2zM439.4 631.7l12.3 2.2 5.3 -4.8 -12.3 -2.2zM444.7 627l12.3 2.2 5.3 -5.1 -12.3 -2.1zM451.7 633.9l12.3 2.5 5.3 -4.9 -12.3 -2.4zM457 629.2l12.3 2.4 5.3 -5.2 -12.3 -2.3zM469.4 631.6l12.3 3.2 5.3 -5.2 -12.3 -3.2zM487 629.6l12.3 3.4 5.3 -5.5 -12.3 -3.4zM504.7 627.6l12.3 3.3 5.3 -5.7 -12.3 -3.2zM522.3 625.2l12.3 3 5.3 -5.8 -12.3 -3zM534.7 628.2l12.3 3.2 5.3 -5.9 -12.3 -3.1zM552.3 625.5l12.3 3.2 5.3 -6.8 -12.3 -3.2zM564.7 628.7l12.3 3.2 5.3 -6.7 -12.3 -3.2zM594.7 628.2l12.3 2.8 5.3 -6.9 -12.3 -2.9zM624.7 626.9l12.3 2.7 5.3 -6.4 -12.3 -2.8zM637 629.6l12.3 2.7 5.3 -6.4 -12.3 -2.7zM654.7 626l12.3 2.7 5.3 -5.9 -12.3 -2.7zM667 628.6l12.3 2.6 5.3 -5.9 -12.3 -2.6zM672.4 622.8l12.3 2.6 5.3 -5.7 -12.3 -2.6zM684.7 625.4l12.3 2.5 5.3 -5.7 -12.3 -2.5zM697 627.9l12.3 2.5 5.3 -5.7 -12.3 -2.5zM702.4 622.2l12.3 2.5 5.3 -5.6 -12.3 -2.5zM714.7 624.7l12.3 2.5 5.3 -5.6 -12.3 -2.5zM727 627.2l12.3 2.5 5.3 -5.6 -12.3 -2.5zM744.7 624.1l12.3 2.6 5.3 -5.5 -12.3 -2.6zM757 626.7l12.3 2.9 5.3 -5.5 -12.3 -2.9zM762.4 621.2l12.3 2.9 5.3 -5.3 -12.3 -2.9zM774.7 624.1l12.3 2.9 5.3 -5.4 -12.3 -2.9zM792.4 621.7l12.3 2.8 5.3 -5.1 -12.3 -2.8zM804.7 624.4l12.3 2.4 5.3 -5.1 -12.3 -2.4zM810 619.3l12.3 2.4 5.3 -4.9 -12.3 -2.4z"/><path fill="#4661d6" stroke="#4661d6" stroke-width="0.6" d="M303.4 637.4l12.3 3.6 5.3 -3.1 -12.3 -3.6zM308.7 634.3l12.3 3.6 5.3 -3.4 -12.3 -3.6zM314 630.9l12.3 3.6 5.3 -3.6 -12.3 -3.6zM321 637.9l12.3 3.2 5.3 -3.4 -12.3 -3.2zM326.4 634.5l12.3 3.2 5.3 -3.6 -12.3 -3.2zM331.7 630.9l12.3 3.2 5.3 -3.7 -12.3 -3.2zM337 627.2l12.3 3.2 5.3 -3.8 -12.3 -3.2zM342.3 623.4l12.3 3.2 5.3 -3.9 -12.3 -3.2zM354.7 626.6l12.3 2.8 5.3 -3.9 -12.3 -2.8zM360 622.7l12.3 2.8 5.3 -4.2 -12.3 -2.8zM365.3 618.4l12.3 2.8 5.3 -4.5 -12.3 -2.8zM377.7 621.2l12.3 2.4 5.3 -4.6 -12.3 -2.4zM383 616.7l12.3 2.4 5.3 -4.9 -12.3 -2.3zM390 623.6l12.3 2.1 5.3 -4.6 -12.3 -2.1zM395.3 619l12.3 2.1 5.3 -4.9 -12.3 -2.1zM407.7 621.1l12.3 1.9 5.3 -4.9 -12.3 -1.9zM420 623.1l12.3 1.9 5.3 -5 -12.3 -1.9zM425.3 618.1l12.3 1.9 5.3 -5.2 -12.3 -1.8zM432.3 625l12.3 2 5.3 -5 -12.3 -2zM437.7 620l12.3 2 5.3 -5.3 -12.3 -2zM450 622l12.3 2.1 5.3 -5.4 -12.3 -2zM462.3 624.1l12.3 2.3 5.3 -5.4 -12.3 -2.2zM474.7 626.4l12.3 3.2 5.3 -5.5 -12.3 -3.2zM480 620.9l12.3 3.2 5.3 -5.6 -12.3 -3.2zM492.3 624.1l12.3 3.4 5.3 -5.6 -12.3 -3.4zM510 621.9l12.3 3.2 5.3 -5.8 -12.3 -3.2zM540 622.3l12.3 3.1 5.3 -6.8 -12.3 -3.2zM570 621.9l12.3 3.2 5.3 -7.1 -12.3 -3.3zM582.3 625.1l12.3 3.1 5.3 -7 -12.3 -3.1zM600 621.2l12.3 2.9 5.3 -6.5 -12.3 -2.9zM612.3 624.1l12.3 2.8 5.3 -6.4 -12.3 -2.8zM617.7 617.6l12.3 2.8 5.3 -5.8 -12.3 -2.8zM630 620.5l12.3 2.8 5.3 -5.8 -12.3 -2.8zM642.4 623.2l12.3 2.7 5.3 -5.8 -12.3 -2.7zM647.7 617.4l12.3 2.7 5.3 -5.7 -12.3 -2.7zM660 620.1l12.3 2.7 5.3 -5.7 -12.3 -2.6zM677.7 617.1l12.3 2.6 5.3 -5.5 -12.3 -2.6zM690 619.7l12.3 2.5 5.3 -5.6 -12.3 -2.5zM707.7 616.6l12.3 2.5 5.3 -5.5 -12.3 -2.4zM720 619.1l12.3 2.5 5.3 -5.5 -12.3 -2.4zM732.4 621.6l12.3 2.5 5.3 -5.5 -12.3 -2.5zM737.7 616.1l12.3 2.5 5.3 -5.3 -12.3 -2.5zM750 618.6l12.3 2.6 5.3 -5.3 -12.3 -2.6zM767.7 615.9l12.3 2.9 5.3 -5.1 -12.3 -2.8zM780 618.7l12.3 2.9 5.3 -5.1 -12.3 -2.9zM785.3 613.6l12.3 2.9 5.3 -4.9 -12.3 -2.9zM797.7 616.5l12.3 2.8 5.3 -4.9 -12.3 -2.8zM803 611.6l12.3 2.8 5.3 -4.8 -12.3 -2.8zM815.3 614.4l12.3 2.4 5.3 -4.8 -12.3 -2.4zM820.7 609.6l12.3 2.4 5.3 -4.7 -12.3 -2.5z"/><path fill="#4666dd" stroke="#4666dd" stroke-width="0.6" d="M291 633.1l12.3 4.3 5.3 -3.2 -12.3 -4.3zM296.4 630l12.3 4.3 5.3 -3.4 -12.3 -4.3zM301.7 626.6l12.3 4.3 5.3 -3.6 -12.3 -4.2zM319.3 627.3l12.3 3.6 5.3 -3.7 -12.3 -3.6zM324.7 623.6l12.3 3.6 5.3 -3.8 -12.3 -3.6zM330 619.8l12.3 3.6 5.3 -3.9 -12.3 -3.6zM335.3 615.9l12.3 3.6 5.3 -4.2 -12.3 -3.6zM347.7 619.5l12.3 3.2 5.3 -4.2 -12.3 -3.2zM353 615.3l12.3 3.2 5.3 -4.5 -12.3 -3.1zM370.6 613.9l12.3 2.8 5.3 -4.9 -12.3 -2.7zM388.3 611.8l12.3 2.3 5.3 -5.1 -12.3 -2.3zM400.6 614.2l12.3 2.1 5.3 -5.2 -12.3 -2zM413 616.2l12.3 1.9 5.3 -5.2 -12.3 -1.8zM418.3 611.1l12.3 1.8 5.3 -5.4 -12.3 -1.8zM430.6 612.9l12.3 1.8 5.3 -5.4 -12.3 -1.8zM443 614.7l12.3 2 5.3 -5.5 -12.3 -1.9zM455.3 616.7l12.3 2 5.3 -5.6 -12.3 -1.9zM467.7 618.7l12.3 2.2 5.3 -5.6 -12.3 -2.2zM485.3 615.3l12.3 3.2 5.3 -5.8 -12.3 -3.2zM497.7 618.5l12.3 3.4 5.3 -5.8 -12.3 -3.5zM515.3 616.1l12.3 3.2 5.3 -6.8 -12.3 -3.3zM527.7 619.4l12.3 3 5.3 -6.8 -12.3 -3zM557.7 618.7l12.3 3.2 5.3 -7.1 -12.3 -3.3zM575.3 614.8l12.3 3.3 5.3 -6.5 -12.3 -3.3zM587.7 618.1l12.3 3.1 5.3 -6.5 -12.3 -3.1zM605.3 614.7l12.3 2.9 5.3 -5.8 -12.3 -2.9zM623 611.8l12.3 2.8 5.3 -5.6 -12.3 -2.8zM635.3 614.6l12.3 2.8 5.3 -5.6 -12.3 -2.7zM653 611.8l12.3 2.7 5.3 -5.5 -12.3 -2.7zM665.3 614.5l12.3 2.6 5.3 -5.5 -12.3 -2.6zM670.7 608.9l12.3 2.6 5.3 -5.4 -12.3 -2.6zM683 611.6l12.3 2.6 5.3 -5.4 -12.3 -2.6zM695.3 614.1l12.3 2.5 5.3 -5.4 -12.3 -2.5zM700.7 608.7l12.3 2.5 5.3 -5.3 -12.3 -2.5zM713 611.2l12.3 2.4 5.3 -5.3 -12.3 -2.4zM725.3 613.6l12.3 2.4 5.3 -5.3 -12.3 -2.4zM730.7 608.4l12.3 2.4 5.3 -5.1 -12.3 -2.4zM743 610.8l12.3 2.5 5.3 -5.1 -12.3 -2.5zM748.3 605.7l12.3 2.5 5.3 -4.9 -12.3 -2.5zM755.3 613.3l12.3 2.6 5.3 -5.1 -12.3 -2.6zM760.7 608.2l12.3 2.6 5.3 -4.9 -12.3 -2.6zM773 610.8l12.3 2.8 5.3 -4.9 -12.3 -2.8zM778.3 605.9l12.3 2.8 5.3 -4.8 -12.3 -2.8zM790.7 608.7l12.3 2.9 5.3 -4.8 -12.3 -2.9zM796 603.9l12.3 2.9 5.3 -4.7 -12.3 -2.9zM808.3 606.8l12.3 2.8 5.3 -4.7 -12.3 -2.8zM813.6 602.1l12.3 2.8 5.3 -4.7 -12.3 -2.8zM826 604.9l12.3 2.5 5.3 -4.7 -12.3 -2.5zM831.3 600.2l12.3 2.5 5.3 -4.7 -12.3 -2.5z"/><path fill="#466be3" stroke="#466be3" stroke-width="0.6" d="M278.7 628.4l12.3 4.7 5.3 -3.1 -12.3 -4.7zM284 625.3l12.3 4.7 5.3 -3.4 -12.3 -4.7zM307 623.1l12.3 4.2 5.3 -3.7 -12.3 -4.2zM312.3 619.4l12.3 4.2 5.3 -3.8 -12.3 -4.2zM317.6 615.6l12.3 4.2 5.3 -3.9 -12.3 -4.2zM323 611.7l12.3 4.2 5.3 -4.2 -12.3 -4.2zM340.6 611.7l12.3 3.6 5.3 -4.5 -12.3 -3.5zM346 607.3l12.3 3.5 5.3 -4.8 -12.3 -3.5zM358.3 610.8l12.3 3.1 5.3 -4.8 -12.3 -3.1zM363.6 606l12.3 3.1 5.3 -5.1 -12.3 -3.1zM376 609.1l12.3 2.7 5.3 -5.1 -12.3 -2.7zM381.3 604l12.3 2.7 5.3 -5.4 -12.3 -2.7zM393.6 606.7l12.3 2.3 5.3 -5.4 -12.3 -2.3zM406 609l12.3 2 5.3 -5.4 -12.3 -2zM411.3 603.7l12.3 2 5.3 -5.7 -12.3 -2zM423.6 605.7l12.3 1.8 5.3 -5.7 -12.3 -1.8zM436 607.5l12.3 1.8 5.3 -5.7 -12.3 -1.8zM448.3 609.3l12.3 1.9 5.3 -5.7 -12.3 -1.9zM460.6 611.2l12.3 1.9 5.3 -5.8 -12.3 -1.9zM473 613.1l12.3 2.2 5.3 -5.8 -12.3 -2.1zM503 612.6l12.3 3.5 5.3 -6.9 -12.3 -3.6zM533 612.5l12.3 3 5.3 -7.2 -12.3 -3.1zM545.3 615.5l12.3 3.2 5.3 -7.2 -12.3 -3.2zM563 611.5l12.3 3.3 5.3 -6.5 -12.3 -3.3zM580.7 608.3l12.3 3.3 5.3 -5.8 -12.3 -3.2zM593 611.6l12.3 3.1 5.3 -5.8 -12.3 -3.1zM598.3 605.8l12.3 3.1 5.3 -5.6 -12.3 -3.1zM610.7 608.9l12.3 2.9 5.3 -5.6 -12.3 -2.9zM628.3 606.2l12.3 2.8 5.3 -5.5 -12.3 -2.8zM640.7 609l12.3 2.7 5.3 -5.5 -12.3 -2.7zM646 603.6l12.3 2.7 5.3 -5.4 -12.3 -2.7zM658.3 606.3l12.3 2.7 5.3 -5.4 -12.3 -2.6zM676 603.6l12.3 2.6 5.3 -5.3 -12.3 -2.6zM688.3 606.2l12.3 2.6 5.3 -5.3 -12.3 -2.5zM693.6 600.9l12.3 2.5 5.3 -5.1 -12.3 -2.5zM706 603.5l12.3 2.5 5.3 -5.1 -12.3 -2.5zM718.3 605.9l12.3 2.4 5.3 -5.1 -12.3 -2.4zM723.6 600.9l12.3 2.4 5.3 -4.9 -12.3 -2.4zM736 603.3l12.3 2.4 5.3 -4.9 -12.3 -2.4zM741.3 598.4l12.3 2.4 5.3 -4.8 -12.3 -2.4zM753.6 600.8l12.3 2.5 5.3 -4.8 -12.3 -2.5zM766 603.3l12.3 2.6 5.3 -4.8 -12.3 -2.6zM771.3 598.5l12.3 2.6 5.3 -4.7 -12.3 -2.6zM783.6 601.1l12.3 2.8 5.3 -4.7 -12.3 -2.8zM789 596.4l12.3 2.8 5.3 -4.7 -12.3 -2.8zM801.3 599.2l12.3 2.9 5.3 -4.7 -12.3 -2.9zM806.6 594.5l12.3 2.9 5.3 -4.7 -12.3 -2.9zM819 597.4l12.3 2.8 5.3 -4.8 -12.3 -2.8zM824.3 592.7l12.3 2.8 5.3 -4.7 -12.3 -2.8zM836.6 595.4l12.3 2.5 5.3 -4.6 -12.3 -2.5zM842 590.8l12.3 2.5 5.3 -4.4 -12.3 -2.5z"/><path fill="#476ee6" stroke="#476ee6" stroke-width="0.6" d="M289.3 621.9l12.3 4.7 5.3 -3.6 -12.3 -4.7zM294.7 618.4l12.3 4.7 5.3 -3.7 -12.3 -4.6zM300 614.7l12.3 4.6 5.3 -3.8 -12.3 -4.6zM305.3 611l12.3 4.6 5.3 -3.9 -12.3 -4.6zM310.6 607.1l12.3 4.6 5.3 -4.1 -12.3 -4.5zM328.3 607.6l12.3 4.2 5.3 -4.5 -12.3 -4.1zM333.6 603.1l12.3 4.1 5.3 -4.8 -12.3 -4.1zM351.3 602.5l12.3 3.5 5.3 -5.1 -12.3 -3.5zM368.9 600.9l12.3 3.1 5.3 -5.3 -12.3 -3zM386.6 598.6l12.3 2.7 5.3 -5.7 -12.3 -2.7zM398.9 601.3l12.3 2.3 5.3 -5.7 -12.3 -2.3zM441.3 601.8l12.3 1.8 5.3 -7.1 -12.3 -1.8zM453.6 603.6l12.3 1.9 5.3 -7.1 -12.3 -1.9zM466 605.5l12.3 1.9 5.3 -7.1 -12.3 -1.9zM478.3 607.4l12.3 2.1 5.3 -7 -12.3 -2.1zM490.6 609.5l12.3 3.2 5.3 -7 -12.3 -3.2zM520.6 609.2l12.3 3.3 5.3 -7.3 -12.3 -3.4zM538.3 605.3l12.3 3.1 5.3 -6.6 -12.3 -3.1zM550.6 608.3l12.3 3.2 5.3 -6.5 -12.3 -3.2zM568.3 605l12.3 3.3 5.3 -5.7 -12.3 -3.3zM586 602.5l12.3 3.2 5.3 -5.5 -12.3 -3.2zM603.6 600.3l12.3 3.1 5.3 -5.4 -12.3 -3zM616 603.3l12.3 2.9 5.3 -5.4 -12.3 -2.9zM621.3 597.9l12.3 2.9 5.3 -5.3 -12.3 -2.8zM633.6 600.8l12.3 2.8 5.3 -5.3 -12.3 -2.8zM639 595.5l12.3 2.8 5.3 -5.2 -12.3 -2.7zM651.3 598.2l12.3 2.7 5.3 -5.2 -12.3 -2.7zM663.6 600.9l12.3 2.6 5.3 -5.2 -12.3 -2.6zM669 595.7l12.3 2.6 5.3 -5 -12.3 -2.6zM681.3 598.3l12.3 2.6 5.3 -5 -12.3 -2.6zM686.6 593.3l12.3 2.6 5.3 -4.9 -12.3 -2.6zM699 595.9l12.3 2.5 5.3 -4.9 -12.3 -2.5zM704.3 591l12.3 2.5 5.3 -4.8 -12.3 -2.5zM711.3 598.4l12.3 2.5 5.3 -4.9 -12.3 -2.5zM716.6 593.5l12.3 2.5 5.3 -4.8 -12.3 -2.5zM729 596l12.3 2.4 5.3 -4.8 -12.3 -2.4zM734.3 591.2l12.3 2.4 5.3 -4.7 -12.3 -2.4zM746.6 593.6l12.3 2.4 5.3 -4.7 -12.3 -2.4zM751.9 588.9l12.3 2.4 5.3 -4.7 -12.3 -2.4zM759 596.1l12.3 2.5 5.3 -4.7 -12.3 -2.5zM764.3 591.4l12.3 2.5 5.3 -4.7 -12.3 -2.5zM776.6 593.8l12.3 2.6 5.3 -4.7 -12.3 -2.6zM782 589.2l12.3 2.6 5.3 -4.7 -12.3 -2.6zM794.3 591.7l12.3 2.8 5.3 -4.7 -12.3 -2.8zM799.6 587l12.3 2.8 5.3 -4.6 -12.3 -2.8zM812 589.8l12.3 2.9 5.3 -4.6 -12.3 -2.9zM817.3 585.2l12.3 2.9 5.3 -4.4 -12.3 -2.9zM829.6 588l12.3 2.8 5.3 -4.4 -12.3 -2.8zM834.9 583.6l12.3 2.8 5.3 -4.5 -12.3 -2.8zM847.3 586.4l12.3 2.5 5.3 -4.4 -12.3 -2.5zM852.6 581.9l12.3 2.5 5.3 -4.7 -12.3 -2.5z"/><path fill="#4773eb" stroke="#4773eb" stroke-width="0.6" d="M266.4 623.3l12.3 5.1 5.3 -3.1 -12.3 -5.1zM271.7 620.2l12.3 5.1 5.3 -3.4 -12.3 -5.1zM277 616.9l12.3 5.1 5.3 -3.5 -12.3 -5zM282.3 613.4l12.3 5 5.3 -3.7 -12.3 -5zM287.6 609.7l12.3 5 5.3 -3.8 -12.3 -5zM293 606l12.3 5 5.3 -3.9 -12.3 -4.9zM316 603l12.3 4.5 5.3 -4.4 -12.3 -4.5zM321.3 598.7l12.3 4.5 5.3 -4.7 -12.3 -4.4zM338.9 598.4l12.3 4.1 5.3 -5 -12.3 -4zM356.6 597.5l12.3 3.5 5.3 -5.3 -12.3 -3.4zM361.9 592.2l12.3 3.4 5.3 -5.7 -12.3 -3.4zM374.3 595.6l12.3 3 5.3 -5.7 -12.3 -3zM404.3 595.7l12.3 2.3 5.3 -7.3 -12.3 -2.4zM416.6 598l12.3 2 5.3 -7.2 -12.3 -2.1zM428.9 600l12.3 1.8 5.3 -7.2 -12.3 -1.9zM496 602.4l12.3 3.2 5.3 -7.5 -12.3 -3.3zM508.3 605.7l12.3 3.6 5.3 -7.4 -12.3 -3.7zM526 601.9l12.3 3.4 5.3 -6.6 -12.3 -3.5zM543.6 598.7l12.3 3.1 5.3 -5.7 -12.3 -3.1zM556 601.7l12.3 3.2 5.3 -5.7 -12.3 -3.2zM561.3 596.1l12.3 3.2 5.3 -5.4 -12.3 -3.2zM573.6 599.3l12.3 3.3 5.3 -5.5 -12.3 -3.2zM579 593.8l12.3 3.2 5.3 -5.3 -12.3 -3.2zM591.3 597.1l12.3 3.2 5.3 -5.4 -12.3 -3.2zM596.6 591.7l12.3 3.2 5.3 -5.3 -12.3 -3.1zM609 594.9l12.3 3 5.3 -5.3 -12.3 -3zM626.6 592.7l12.3 2.8 5.3 -5.2 -12.3 -2.8zM644.3 590.3l12.3 2.7 5.3 -5 -12.3 -2.7zM656.6 593l12.3 2.7 5.3 -5 -12.3 -2.7zM661.9 588l12.3 2.7 5.3 -4.9 -12.3 -2.6zM674.3 590.7l12.3 2.6 5.3 -4.9 -12.3 -2.6zM679.6 585.8l12.3 2.6 5.3 -4.7 -12.3 -2.6zM691.9 588.4l12.3 2.6 5.3 -4.8 -12.3 -2.6zM697.3 583.7l12.3 2.6 5.3 -4.7 -12.3 -2.6zM709.6 586.2l12.3 2.5 5.3 -4.7 -12.3 -2.5zM714.9 581.6l12.3 2.5 5.3 -4.7 -12.3 -2.5zM721.9 588.8l12.3 2.5 5.3 -4.7 -12.3 -2.5zM727.3 584.1l12.3 2.5 5.3 -4.7 -12.3 -2.4zM739.6 586.5l12.3 2.4 5.3 -4.7 -12.3 -2.4zM744.9 581.9l12.3 2.4 5.3 -4.7 -12.3 -2.4zM757.3 584.3l12.3 2.4 5.3 -4.7 -12.3 -2.4zM762.6 579.6l12.3 2.4 5.3 -4.6 -12.3 -2.4zM769.6 586.7l12.3 2.5 5.3 -4.7 -12.3 -2.5zM774.9 582l12.3 2.5 5.3 -4.6 -12.3 -2.4zM780.3 577.4l12.3 2.4 5.3 -4.4 -12.3 -2.4zM787.3 584.4l12.3 2.6 5.3 -4.6 -12.3 -2.5zM792.6 579.8l12.3 2.5 5.3 -4.4 -12.3 -2.5zM797.9 575.4l12.3 2.5 5.3 -4.4 -12.3 -2.5zM804.9 582.4l12.3 2.8 5.3 -4.4 -12.3 -2.8zM810.3 578l12.3 2.8 5.3 -4.5 -12.3 -2.8zM822.6 580.7l12.3 2.9 5.3 -4.5 -12.3 -2.8zM827.9 576.3l12.3 2.8 5.3 -4.8 -12.3 -2.8zM840.3 579.1l12.3 2.8 5.3 -4.8 -12.3 -2.8zM845.6 574.4l12.3 2.8 5.3 -5.3 -12.3 -2.8zM857.9 577.1l12.3 2.5 5.3 -5.3 -12.3 -2.5z"/><path fill="#4778f0" stroke="#4778f0" stroke-width="0.6" d="M254 617.7l12.3 5.6 5.3 -3.1 -12.3 -5.6zM259.3 614.6l12.3 5.6 5.3 -3.3 -12.3 -5.6zM264.7 611.3l12.3 5.6 5.3 -3.5 -12.3 -5.5zM270 607.9l12.3 5.5 5.3 -3.6 -12.3 -5.5zM298.3 602.2l12.3 4.9 5.3 -4.1 -12.3 -4.9zM303.6 598.2l12.3 4.9 5.3 -4.4 -12.3 -4.8zM308.9 593.8l12.3 4.8 5.3 -4.7 -12.3 -4.7zM326.6 594l12.3 4.4 5.3 -5 -12.3 -4.4zM344.3 593.4l12.3 4 5.3 -5.3 -12.3 -4zM349.6 588.2l12.3 4 5.3 -5.7 -12.3 -4zM379.6 589.9l12.3 3 5.3 -7.4 -12.3 -3.1zM391.9 593l12.3 2.7 5.3 -7.4 -12.3 -2.8zM434.3 592.8l12.3 1.9 5.3 -7.8 -12.3 -1.9zM446.6 594.7l12.3 1.8 5.3 -7.7 -12.3 -1.9zM458.9 596.5l12.3 1.9 5.3 -7.7 -12.3 -2zM471.3 598.4l12.3 1.9 5.3 -7.6 -12.3 -1.9zM483.6 600.3l12.3 2.1 5.3 -7.6 -12.3 -2.2zM513.6 598.2l12.3 3.7 5.3 -6.7 -12.3 -3.8zM531.3 595.2l12.3 3.5 5.3 -5.7 -12.3 -3.5zM549 593l12.3 3.1 5.3 -5.4 -12.3 -3zM566.6 590.7l12.3 3.2 5.3 -5.3 -12.3 -3.1zM584.3 588.6l12.3 3.2 5.3 -5.2 -12.3 -3.2zM601.9 586.5l12.3 3.1 5.3 -5.1 -12.3 -3.1zM614.3 589.7l12.3 3 5.3 -5.2 -12.3 -3zM619.6 584.5l12.3 3 5.3 -5 -12.3 -2.9zM631.9 587.5l12.3 2.8 5.3 -5 -12.3 -2.8zM637.3 582.5l12.3 2.8 5.3 -4.8 -12.3 -2.8zM649.6 585.3l12.3 2.7 5.3 -4.8 -12.3 -2.7zM654.9 580.5l12.3 2.7 5.3 -4.7 -12.3 -2.7zM667.3 583.2l12.3 2.6 5.3 -4.7 -12.3 -2.6zM672.6 578.4l12.3 2.6 5.3 -4.7 -12.3 -2.6zM684.9 581.1l12.3 2.6 5.3 -4.7 -12.3 -2.6zM690.2 576.4l12.3 2.6 5.3 -4.6 -12.3 -2.6zM702.6 579l12.3 2.6 5.3 -4.7 -12.3 -2.5zM707.9 574.4l12.3 2.5 5.3 -4.7 -12.3 -2.5zM720.2 576.9l12.3 2.5 5.3 -4.7 -12.3 -2.5zM725.6 572.2l12.3 2.5 5.3 -4.6 -12.3 -2.5zM732.6 579.4l12.3 2.4 5.3 -4.7 -12.3 -2.4zM737.9 574.7l12.3 2.4 5.3 -4.6 -12.3 -2.4zM743.2 570.2l12.3 2.4 5.3 -4.4 -12.3 -2.4zM750.3 577.2l12.3 2.4 5.3 -4.6 -12.3 -2.4zM755.6 572.6l12.3 2.4 5.3 -4.4 -12.3 -2.4zM767.9 575l12.3 2.4 5.3 -4.4 -12.3 -2.4zM773.2 570.6l12.3 2.4 5.3 -4.4 -12.3 -2.4zM785.6 573l12.3 2.4 5.3 -4.4 -12.3 -2.4zM790.9 568.5l12.3 2.4 5.3 -4.7 -12.3 -2.4zM803.2 571l12.3 2.5 5.3 -4.7 -12.3 -2.5zM815.6 573.5l12.3 2.8 5.3 -4.7 -12.3 -2.7zM820.9 568.8l12.3 2.7 5.3 -5.3 -12.3 -2.7zM833.2 571.5l12.3 2.8 5.3 -5.3 -12.3 -2.8zM863.2 571.8l12.3 2.5 5.3 -7.1 -12.3 -2.5z"/><path fill="#477bf2" stroke="#477bf2" stroke-width="0.6" d="M275.3 604.3l12.3 5.5 5.3 -3.7 -12.3 -5.4zM280.6 600.6l12.3 5.4 5.3 -3.8 -12.3 -5.4zM286 596.8l12.3 5.4 5.3 -4 -12.3 -5.3zM291.3 592.9l12.3 5.3 5.3 -4.3 -12.3 -5.2zM314.3 589.2l12.3 4.7 5.3 -5 -12.3 -4.7zM331.9 589l12.3 4.4 5.3 -5.3 -12.3 -4.4zM337.2 583.8l12.3 4.4 5.3 -5.6 -12.3 -4.3zM367.2 586.5l12.3 3.4 5.3 -7.5 -12.3 -3.5zM397.2 585.5l12.3 2.8 5.3 -8.1 -12.3 -2.9zM409.6 588.3l12.3 2.4 5.3 -8 -12.3 -2.5zM421.9 590.7l12.3 2.1 5.3 -7.9 -12.3 -2.2zM451.9 586.8l12.3 1.9 5.3 -6.9 -12.3 -2zM464.3 588.7l12.3 2 5.3 -6.8 -12.3 -2zM476.6 590.8l12.3 1.9 5.3 -6.8 -12.3 -2zM488.9 592.7l12.3 2.2 5.3 -6.8 -12.3 -2.2zM501.3 594.9l12.3 3.3 5.3 -6.7 -12.3 -3.4zM506.6 588l12.3 3.4 5.3 -5.7 -12.3 -3.4zM519 591.4l12.3 3.8 5.3 -5.7 -12.3 -3.8zM524.3 585.7l12.3 3.8 5.3 -5.4 -12.3 -3.8zM536.6 589.5l12.3 3.5 5.3 -5.4 -12.3 -3.5zM541.9 584.1l12.3 3.5 5.3 -5.2 -12.3 -3.5zM554.3 587.6l12.3 3 5.3 -5.2 -12.3 -3zM559.6 582.4l12.3 3 5.3 -5.1 -12.3 -3zM571.9 585.4l12.3 3.1 5.3 -5.2 -12.3 -3.1zM577.3 580.3l12.3 3.1 5.3 -5.1 -12.3 -3.1zM589.6 583.4l12.3 3.2 5.3 -5.1 -12.3 -3.1zM594.9 578.3l12.3 3.1 5.3 -4.9 -12.3 -3.1zM607.3 581.4l12.3 3.1 5.3 -5 -12.3 -3.1zM612.6 576.5l12.3 3.1 5.3 -4.8 -12.3 -3zM624.9 579.6l12.3 2.9 5.3 -4.8 -12.3 -2.9zM630.2 574.8l12.3 2.9 5.3 -4.7 -12.3 -2.9zM642.6 577.7l12.3 2.8 5.3 -4.7 -12.3 -2.8zM647.9 573l12.3 2.8 5.3 -4.6 -12.3 -2.7zM660.2 575.7l12.3 2.7 5.3 -4.7 -12.3 -2.7zM665.6 571.1l12.3 2.7 5.3 -4.6 -12.3 -2.7zM677.9 573.8l12.3 2.6 5.3 -4.6 -12.3 -2.6zM683.2 569.2l12.3 2.6 5.3 -4.6 -12.3 -2.6zM695.6 571.8l12.3 2.6 5.3 -4.7 -12.3 -2.6zM700.9 567.1l12.3 2.6 5.3 -4.6 -12.3 -2.6zM713.2 569.7l12.3 2.5 5.3 -4.6 -12.3 -2.5zM718.6 565.1l12.3 2.5 5.3 -4.4 -12.3 -2.5zM730.9 567.7l12.3 2.5 5.3 -4.4 -12.3 -2.5zM736.2 563.3l12.3 2.5 5.3 -4.4 -12.3 -2.5zM748.6 565.8l12.3 2.4 5.3 -4.4 -12.3 -2.4zM753.9 561.3l12.3 2.4 5.3 -4.7 -12.3 -2.4zM760.9 568.2l12.3 2.4 5.3 -4.4 -12.3 -2.4zM766.2 563.8l12.3 2.4 5.3 -4.7 -12.3 -2.4zM778.6 566.1l12.3 2.4 5.3 -4.7 -12.3 -2.4zM783.9 561.4l12.3 2.4 5.3 -5.2 -12.3 -2.4zM796.2 563.8l12.3 2.4 5.3 -5.2 -12.3 -2.4zM808.6 566.3l12.3 2.5 5.3 -5.3 -12.3 -2.5zM838.6 566.3l12.3 2.8 5.3 -7.1 -12.3 -2.8zM850.9 569.1l12.3 2.8 5.3 -7.1 -12.3 -2.7z"/><path fill="#4680f6" stroke="#4680f6" stroke-width="0.6" d="M241.7 611.6l12.3 6.1 5.3 -3.1 -12.3 -6.1zM247 608.5l12.3 6.1 5.3 -3.3 -12.3 -6zM252.3 605.3l12.3 6 5.3 -3.5 -12.3 -6zM257.6 601.9l12.3 6 5.3 -3.6 -12.3 -5.9zM263 598.4l12.3 5.9 5.3 -3.7 -12.3 -5.8zM268.3 594.8l12.3 5.8 5.3 -3.8 -12.3 -5.8zM296.6 588.6l12.3 5.2 5.3 -4.6 -12.3 -5.2zM301.9 584.1l12.3 5.2 5.3 -4.9 -12.3 -5.1zM319.6 584.3l12.3 4.7 5.3 -5.2 -12.3 -4.6zM354.9 582.5l12.3 4 5.3 -7.6 -12.3 -4zM384.9 582.4l12.3 3.1 5.3 -8.2 -12.3 -3.2zM414.9 580.2l12.3 2.5 5.3 -7 -12.3 -2.6zM427.2 582.7l12.3 2.2 5.3 -7 -12.3 -2.3zM439.6 584.9l12.3 1.9 5.3 -6.9 -12.3 -2zM444.9 577.9l12.3 2 5.3 -5.7 -12.3 -2zM457.2 579.9l12.3 2 5.3 -5.7 -12.3 -2zM469.6 581.9l12.3 2 5.3 -5.7 -12.3 -2zM481.9 583.9l12.3 2 5.3 -5.7 -12.3 -1.9zM494.3 585.9l12.3 2.2 5.3 -5.7 -12.3 -2.1zM499.6 580.2l12.3 2.1 5.3 -5.4 -12.3 -2.1zM511.9 582.3l12.3 3.4 5.3 -5.4 -12.3 -3.4zM529.6 580.3l12.3 3.8 5.3 -5.2 -12.3 -3.8zM547.3 578.9l12.3 3.5 5.3 -5.1 -12.3 -3.5zM564.9 577.3l12.3 3 5.3 -5 -12.3 -3zM570.2 572.3l12.3 3 5.3 -4.9 -12.3 -2.9zM582.6 575.2l12.3 3.1 5.3 -4.9 -12.3 -3zM587.9 570.4l12.3 3 5.3 -4.7 -12.3 -3zM600.2 573.4l12.3 3.1 5.3 -4.8 -12.3 -3.1zM605.6 568.7l12.3 3.1 5.3 -4.7 -12.3 -3zM617.9 571.7l12.3 3 5.3 -4.7 -12.3 -3zM623.2 567.1l12.3 3 5.3 -4.6 -12.3 -3zM635.6 570.1l12.3 2.9 5.3 -4.6 -12.3 -2.9zM640.9 565.5l12.3 2.9 5.3 -4.6 -12.3 -2.9zM653.2 568.4l12.3 2.7 5.3 -4.6 -12.3 -2.7zM658.5 563.8l12.3 2.7 5.3 -4.6 -12.3 -2.7zM670.9 566.5l12.3 2.7 5.3 -4.6 -12.3 -2.7zM676.2 561.9l12.3 2.7 5.3 -4.5 -12.3 -2.6zM681.5 557.4l12.3 2.6 5.3 -4.4 -12.3 -2.6zM688.6 564.5l12.3 2.6 5.3 -4.5 -12.3 -2.6zM693.9 560l12.3 2.6 5.3 -4.4 -12.3 -2.6zM699.2 555.6l12.3 2.6 5.3 -4.4 -12.3 -2.6zM706.2 562.6l12.3 2.6 5.3 -4.4 -12.3 -2.5zM711.5 558.2l12.3 2.5 5.3 -4.4 -12.3 -2.5zM723.9 560.8l12.3 2.5 5.3 -4.4 -12.3 -2.5zM729.2 556.3l12.3 2.5 5.3 -4.7 -12.3 -2.5zM741.5 558.8l12.3 2.5 5.3 -4.7 -12.3 -2.5zM746.9 554.2l12.3 2.5 5.3 -5.2 -12.3 -2.5zM759.2 556.6l12.3 2.4 5.3 -5.2 -12.3 -2.4zM771.5 559l12.3 2.4 5.3 -5.2 -12.3 -2.4zM801.5 558.6l12.3 2.4 5.3 -6.9 -12.3 -2.4zM813.9 561l12.3 2.5 5.3 -6.9 -12.3 -2.5zM826.2 563.5l12.3 2.7 5.3 -7 -12.3 -2.7z"/><path fill="#4682f8" stroke="#4682f8" stroke-width="0.6" d="M273.6 591.1l12.3 5.8 5.3 -4 -12.3 -5.7zM278.9 587.2l12.3 5.7 5.3 -4.2 -12.3 -5.6zM284.3 583l12.3 5.6 5.3 -4.5 -12.3 -5.5zM307.2 579.3l12.3 5.1 5.3 -5.2 -12.3 -5zM324.9 579.2l12.3 4.6 5.3 -5.6 -12.3 -4.6zM342.6 578.2l12.3 4.3 5.3 -7.6 -12.3 -4.4zM372.6 579l12.3 3.5 5.3 -8.3 -12.3 -3.6zM390.2 574.1l12.3 3.2 5.3 -7.2 -12.3 -3.2zM402.6 577.3l12.3 2.9 5.3 -7.1 -12.3 -2.9zM420.2 573.1l12.3 2.6 5.3 -5.7 -12.3 -2.6zM432.6 575.7l12.3 2.3 5.3 -5.7 -12.3 -2.3zM437.9 570l12.3 2.3 5.3 -5.3 -12.3 -2.3zM450.2 572.2l12.3 2 5.3 -5.3 -12.3 -2zM462.6 574.3l12.3 2 5.3 -5.3 -12.3 -2zM474.9 576.2l12.3 2 5.3 -5.3 -12.3 -2zM480.2 570.9l12.3 2 5.3 -5.1 -12.3 -2zM487.3 578.3l12.3 1.9 5.3 -5.4 -12.3 -1.9zM492.6 572.9l12.3 1.9 5.3 -5.2 -12.3 -1.8zM504.9 574.8l12.3 2.1 5.3 -5.2 -12.3 -2zM517.3 576.9l12.3 3.4 5.3 -5.2 -12.3 -3.5zM534.9 575.1l12.3 3.8 5.3 -5.1 -12.3 -3.9zM540.2 569.9l12.3 3.9 5.3 -5 -12.3 -3.9zM552.6 573.8l12.3 3.5 5.3 -5 -12.3 -3.5zM557.9 568.8l12.3 3.5 5.3 -4.9 -12.3 -3.5zM575.6 567.4l12.3 2.9 5.3 -4.7 -12.3 -2.9zM580.9 562.7l12.3 2.9 5.3 -4.6 -12.3 -2.9zM593.2 565.7l12.3 3 5.3 -4.6 -12.3 -3zM598.5 561l12.3 3 5.3 -4.6 -12.3 -3zM610.9 564l12.3 3 5.3 -4.6 -12.3 -3zM616.2 559.5l12.3 3 5.3 -4.5 -12.3 -3zM628.5 562.5l12.3 3 5.3 -4.6 -12.3 -3zM633.9 557.9l12.3 3 5.3 -4.6 -12.3 -2.9zM646.2 560.9l12.3 2.9 5.3 -4.6 -12.3 -2.8zM651.5 556.3l12.3 2.8 5.3 -4.5 -12.3 -2.8zM656.9 551.9l12.3 2.8 5.3 -4.3 -12.3 -2.8zM663.9 559.2l12.3 2.7 5.3 -4.5 -12.3 -2.7zM669.2 554.7l12.3 2.7 5.3 -4.4 -12.3 -2.7zM674.5 550.3l12.3 2.7 5.3 -4.4 -12.3 -2.7zM686.9 553l12.3 2.6 5.3 -4.4 -12.3 -2.6zM692.2 548.6l12.3 2.6 5.3 -4.7 -12.3 -2.6zM704.5 551.2l12.3 2.6 5.3 -4.7 -12.3 -2.6zM716.9 553.8l12.3 2.5 5.3 -4.7 -12.3 -2.5zM722.2 549.1l12.3 2.5 5.3 -5.1 -12.3 -2.5zM734.5 551.6l12.3 2.5 5.3 -5.1 -12.3 -2.5zM764.5 551.5l12.3 2.4 5.3 -6.7 -12.3 -2.3zM776.9 553.9l12.3 2.4 5.3 -6.8 -12.3 -2.3zM789.2 556.2l12.3 2.4 5.3 -6.8 -12.3 -2.3zM868.6 564.7l12.3 2.5 5.3 -12.4 -12.3 -2.4z"/><path fill="#4687fb" stroke="#4687fb" stroke-width="0.6" d="M229.3 604.7l12.3 6.8 5.3 -3 -12.3 -6.8zM234.7 601.8l12.3 6.8 5.3 -3.2 -12.3 -6.7zM240 598.6l12.3 6.7 5.3 -3.4 -12.3 -6.6zM245.3 595.3l12.3 6.6 5.3 -3.5 -12.3 -6.6zM250.6 591.8l12.3 6.6 5.3 -3.6 -12.3 -6.5zM256 588.3l12.3 6.5 5.3 -3.7 -12.3 -6.4zM261.3 584.6l12.3 6.4 5.3 -3.9 -12.3 -6.3zM289.6 578.5l12.3 5.5 5.3 -4.8 -12.3 -5.5zM294.9 573.8l12.3 5.5 5.3 -5.1 -12.3 -5.4zM312.6 574.2l12.3 5 5.3 -5.6 -12.3 -5zM330.2 573.6l12.3 4.6 5.3 -7.6 -12.3 -4.6zM360.2 574.9l12.3 4 5.3 -8.4 -12.3 -4.1zM377.9 570.6l12.3 3.6 5.3 -7.2 -12.3 -3.6zM395.6 566.9l12.3 3.2 5.3 -5.7 -12.3 -3.3zM407.9 570.2l12.3 2.9 5.3 -5.7 -12.3 -2.9zM413.2 564.4l12.3 2.9 5.3 -5.3 -12.3 -3zM425.6 567.4l12.3 2.6 5.3 -5.3 -12.3 -2.6zM443.2 564.7l12.3 2.3 5.3 -5.1 -12.3 -2.3zM455.6 566.9l12.3 2 5.3 -5.1 -12.3 -2zM460.9 561.8l12.3 2 5.3 -5.1 -12.3 -2zM467.9 569l12.3 2 5.3 -5.1 -12.3 -1.9zM473.2 563.9l12.3 1.9 5.3 -5.1 -12.3 -1.9zM485.6 565.8l12.3 2 5.3 -5.1 -12.3 -2zM497.9 567.8l12.3 1.8 5.3 -5.1 -12.3 -1.8zM510.2 569.6l12.3 2 5.3 -5.2 -12.3 -2zM515.6 564.5l12.3 2 5.3 -5.1 -12.3 -1.9zM522.6 571.6l12.3 3.5 5.3 -5.2 -12.3 -3.5zM527.9 566.5l12.3 3.5 5.3 -5.1 -12.3 -3.5zM545.6 564.9l12.3 3.9 5.3 -4.9 -12.3 -3.9zM563.2 563.9l12.3 3.5 5.3 -4.7 -12.3 -3.5zM568.5 559.2l12.3 3.5 5.3 -4.6 -12.3 -3.5zM586.2 558.1l12.3 2.9 5.3 -4.5 -12.3 -2.9zM591.5 553.6l12.3 2.9 5.3 -4.5 -12.3 -2.9zM603.9 556.5l12.3 3 5.3 -4.5 -12.3 -2.9zM609.2 552l12.3 2.9 5.3 -4.5 -12.3 -2.9zM621.5 555l12.3 3 5.3 -4.5 -12.3 -3zM626.9 550.5l12.3 3 5.3 -4.4 -12.3 -2.9zM632.2 546l12.3 2.9 5.3 -4.3 -12.3 -2.9zM639.2 553.4l12.3 2.9 5.3 -4.5 -12.3 -2.9zM644.5 549l12.3 2.9 5.3 -4.3 -12.3 -2.9zM649.8 544.7l12.3 2.9 5.3 -4.4 -12.3 -2.8zM662.2 547.5l12.3 2.8 5.3 -4.4 -12.3 -2.8zM667.5 543.2l12.3 2.8 5.3 -4.6 -12.3 -2.7zM679.8 545.9l12.3 2.7 5.3 -4.7 -12.3 -2.6zM685.2 541.3l12.3 2.6 5.3 -5 -12.3 -2.6zM697.5 544l12.3 2.6 5.3 -5.1 -12.3 -2.6zM709.8 546.6l12.3 2.6 5.3 -5.1 -12.3 -2.5zM727.5 544l12.3 2.5 5.3 -6.6 -12.3 -2.5zM739.8 546.5l12.3 2.5 5.3 -6.6 -12.3 -2.4zM752.2 549l12.3 2.5 5.3 -6.7 -12.3 -2.4zM843.9 559.3l12.3 2.8 5.3 -12.1 -12.3 -2.6zM856.2 562l12.3 2.7 5.3 -12.3 -12.3 -2.6z"/><path fill="#458cfd" stroke="#458cfd" stroke-width="0.6" d="M266.6 580.8l12.3 6.3 5.3 -4.2 -12.3 -6.3zM271.9 576.7l12.3 6.3 5.3 -4.5 -12.3 -6.2zM277.2 572.4l12.3 6.2 5.3 -4.7 -12.3 -6.1zM300.2 568.8l12.3 5.4 5.3 -5.5 -12.3 -5.3zM317.9 568.6l12.3 5 5.3 -7.7 -12.3 -5zM347.9 570.5l12.3 4.4 5.3 -8.5 -12.3 -4.4zM365.5 566.4l12.3 4.1 5.3 -7.3 -12.3 -4.2zM383.2 563.3l12.3 3.6 5.3 -5.7 -12.3 -3.6zM400.9 561.2l12.3 3.3 5.3 -5.3 -12.3 -3.3zM418.5 559.1l12.3 3 5.3 -5.1 -12.3 -3zM430.9 562l12.3 2.6 5.3 -5.1 -12.3 -2.6zM436.2 556.9l12.3 2.6 5.3 -5.1 -12.3 -2.6zM448.5 559.6l12.3 2.3 5.3 -5.1 -12.3 -2.3zM453.9 554.5l12.3 2.3 5.3 -5 -12.3 -2.3zM466.2 556.8l12.3 2 5.3 -5 -12.3 -2zM478.5 558.8l12.3 1.9 5.3 -5 -12.3 -1.9zM483.9 553.8l12.3 1.9 5.3 -4.8 -12.3 -1.9zM490.9 560.7l12.3 2 5.3 -5 -12.3 -2zM496.2 555.7l12.3 2 5.3 -4.8 -12.3 -2zM503.2 562.7l12.3 1.8 5.3 -5 -12.3 -1.7zM508.5 557.7l12.3 1.7 5.3 -4.9 -12.3 -1.7zM520.9 559.5l12.3 1.9 5.3 -4.9 -12.3 -1.9zM533.2 561.4l12.3 3.5 5.3 -4.9 -12.3 -3.5zM538.5 556.5l12.3 3.5 5.3 -4.8 -12.3 -3.5zM550.9 560l12.3 3.9 5.3 -4.7 -12.3 -4zM556.2 555.2l12.3 4 5.3 -4.6 -12.3 -4zM573.9 554.6l12.3 3.5 5.3 -4.5 -12.3 -3.6zM579.2 550l12.3 3.6 5.3 -4.5 -12.3 -3.6zM584.5 545.5l12.3 3.6 5.3 -4.5 -12.3 -3.6zM596.8 549.1l12.3 2.9 5.3 -4.5 -12.3 -2.9zM602.2 544.7l12.3 2.9 5.3 -4.4 -12.3 -2.8zM607.5 540.3l12.3 2.8 5.3 -4.2 -12.3 -2.8zM614.5 547.5l12.3 2.9 5.3 -4.4 -12.3 -2.9zM619.8 543.2l12.3 2.9 5.3 -4.3 -12.3 -2.9zM625.2 538.9l12.3 2.9 5.3 -4.3 -12.3 -2.8zM637.5 541.8l12.3 2.9 5.3 -4.4 -12.3 -2.9zM642.8 537.4l12.3 2.9 5.3 -4.6 -12.3 -2.8zM655.2 540.3l12.3 2.8 5.3 -4.6 -12.3 -2.8zM660.5 535.7l12.3 2.8 5.3 -5 -12.3 -2.8zM672.8 538.6l12.3 2.7 5.3 -5 -12.3 -2.7zM702.8 538.9l12.3 2.6 5.3 -6.5 -12.3 -2.5zM715.2 541.5l12.3 2.5 5.3 -6.5 -12.3 -2.5zM806.9 551.8l12.3 2.4 5.3 -11.7 -12.3 -2.2zM819.2 554.1l12.3 2.5 5.3 -11.8 -12.3 -2.3zM831.5 556.6l12.3 2.7 5.3 -12 -12.3 -2.5z"/><path fill="#448ffe" stroke="#448ffe" stroke-width="0.6" d="M217 597.8l12.3 7 5.3 -3 -12.3 -6.9zM222.3 594.8l12.3 6.9 5.3 -3.2 -12.3 -6.9zM227.6 591.7l12.3 6.9 5.3 -3.3 -12.3 -6.8zM233 588.5l12.3 6.8 5.3 -3.5 -12.3 -6.8zM238.3 585.1l12.3 6.8 5.3 -3.6 -12.3 -6.7zM243.6 581.6l12.3 6.7 5.3 -3.6 -12.3 -6.6zM248.9 578l12.3 6.6 5.3 -3.8 -12.3 -6.5zM254.3 574.3l12.3 6.5 5.3 -4.1 -12.3 -6.4zM282.6 567.7l12.3 6.1 5.3 -5 -12.3 -6zM335.5 565.9l12.3 4.6 5.3 -8.5 -12.3 -4.7zM353.2 562l12.3 4.4 5.3 -7.3 -12.3 -4.5zM370.9 559.1l12.3 4.2 5.3 -5.8 -12.3 -4.2zM388.5 557.5l12.3 3.6 5.3 -5.3 -12.3 -3.6zM406.2 555.8l12.3 3.3 5.3 -5.1 -12.3 -3.3zM411.5 550.7l12.3 3.3 5.3 -5.1 -12.3 -3.3zM423.9 554l12.3 3 5.3 -5.1 -12.3 -3zM429.2 548.9l12.3 3 5.3 -5 -12.3 -3zM441.5 551.9l12.3 2.6 5.3 -5 -12.3 -2.7zM446.8 546.8l12.3 2.7 5.3 -4.9 -12.3 -2.7zM459.2 549.5l12.3 2.3 5.3 -4.9 -12.3 -2.3zM471.5 551.8l12.3 2 5.3 -4.8 -12.3 -2zM476.8 547l12.3 2 5.3 -4.7 -12.3 -2zM489.2 549l12.3 1.9 5.3 -4.7 -12.3 -1.9zM494.5 544.3l12.3 1.9 5.3 -4.6 -12.3 -1.9zM501.5 550.9l12.3 2 5.3 -4.7 -12.3 -2zM506.8 546.2l12.3 2 5.3 -4.6 -12.3 -2zM513.9 552.9l12.3 1.7 5.3 -4.7 -12.3 -1.7zM519.2 548.2l12.3 1.7 5.3 -4.6 -12.3 -1.7zM526.2 554.6l12.3 1.9 5.3 -4.8 -12.3 -1.8zM531.5 549.8l12.3 1.8 5.3 -4.7 -12.3 -1.8zM536.8 545.2l12.3 1.8 5.3 -4.6 -12.3 -1.7zM543.9 551.7l12.3 3.5 5.3 -4.7 -12.3 -3.6zM549.2 547l12.3 3.6 5.3 -4.6 -12.3 -3.6zM561.5 550.6l12.3 4 5.3 -4.5 -12.3 -4.1zM566.8 546l12.3 4.1 5.3 -4.5 -12.3 -4.1zM572.2 541.4l12.3 4.1 5.3 -4.5 -12.3 -4.1zM589.8 541.1l12.3 3.6 5.3 -4.4 -12.3 -3.6zM595.2 536.7l12.3 3.6 5.3 -4.2 -12.3 -3.6zM612.8 536.1l12.3 2.8 5.3 -4.3 -12.3 -2.8zM618.1 531.8l12.3 2.8 5.3 -4.5 -12.3 -2.8zM630.5 534.6l12.3 2.8 5.3 -4.6 -12.3 -2.8zM635.8 530.1l12.3 2.8 5.3 -4.9 -12.3 -2.8zM648.1 532.9l12.3 2.8 5.3 -4.9 -12.3 -2.8zM665.8 530.8l12.3 2.8 5.3 -6.3 -12.3 -2.7zM678.1 533.6l12.3 2.7 5.3 -6.3 -12.3 -2.6zM690.5 536.3l12.3 2.6 5.3 -6.4 -12.3 -2.6zM757.5 542.4l12.3 2.4 5.3 -11.1 -12.3 -2.2zM769.8 544.8l12.3 2.3 5.3 -11.2 -12.3 -2.2zM782.2 547.1l12.3 2.3 5.3 -11.4 -12.3 -2.2zM794.5 549.5l12.3 2.3 5.3 -11.5 -12.3 -2.2z"/><path fill="#4294ff" stroke="#4294ff" stroke-width="0.6" d="M259.6 570.3l12.3 6.4 5.3 -4.4 -12.3 -6.4zM264.9 566l12.3 6.4 5.3 -4.7 -12.3 -6.3zM287.9 562.8l12.3 6 5.3 -5.5 -12.3 -5.9zM305.5 563.3l12.3 5.3 5.3 -7.7 -12.3 -5.3zM323.2 560.9l12.3 5 5.3 -8.6 -12.3 -5zM358.5 554.6l12.3 4.5 5.3 -5.8 -12.3 -4.5zM376.2 553.4l12.3 4.2 5.3 -5.3 -12.3 -4.2zM393.9 552.2l12.3 3.6 5.3 -5.1 -12.3 -3.6zM399.2 547.1l12.3 3.6 5.3 -5.1 -12.3 -3.6zM416.8 545.6l12.3 3.3 5.3 -5 -12.3 -3.3zM434.5 543.9l12.3 3 5.3 -4.9 -12.3 -3zM452.2 541.9l12.3 2.7 5.3 -4.8 -12.3 -2.7zM457.5 537.2l12.3 2.7 5.3 -4.7 -12.3 -2.7zM464.5 544.6l12.3 2.3 5.3 -4.7 -12.3 -2.4zM469.8 539.9l12.3 2.4 5.3 -4.6 -12.3 -2.4zM475.1 535.2l12.3 2.4 5.3 -4.6 -12.3 -2.4zM482.2 542.2l12.3 2 5.3 -4.6 -12.3 -2zM487.5 537.6l12.3 2 5.3 -4.5 -12.3 -2zM499.8 539.6l12.3 1.9 5.3 -4.5 -12.3 -1.9zM505.1 535.1l12.3 1.9 5.3 -4.5 -12.3 -2zM512.2 541.6l12.3 2 5.3 -4.5 -12.3 -2zM517.5 537l12.3 2 5.3 -4.5 -12.3 -2zM524.5 543.6l12.3 1.7 5.3 -4.6 -12.3 -1.6zM529.8 539l12.3 1.6 5.3 -4.5 -12.3 -1.6zM535.2 534.5l12.3 1.6 5.3 -4.5 -12.3 -1.6zM542.2 540.6l12.3 1.7 5.3 -4.6 -12.3 -1.7zM547.5 536.1l12.3 1.7 5.3 -4.5 -12.3 -1.7zM554.5 542.4l12.3 3.6 5.3 -4.5 -12.3 -3.6zM559.8 537.8l12.3 3.6 5.3 -4.5 -12.3 -3.7zM577.5 536.9l12.3 4.1 5.3 -4.4 -12.3 -4.2zM582.8 532.5l12.3 4.2 5.3 -4.3 -12.3 -4.2zM600.5 532.5l12.3 3.6 5.3 -4.3 -12.3 -3.6zM605.8 528.1l12.3 3.6 5.3 -4.5 -12.3 -3.7zM623.5 527.3l12.3 2.8 5.3 -4.9 -12.3 -2.8zM641.1 525.2l12.3 2.8 5.3 -6.1 -12.3 -2.7zM653.5 528l12.3 2.8 5.3 -6.2 -12.3 -2.7zM720.5 535l12.3 2.5 5.3 -10.6 -12.3 -2.3zM732.8 537.5l12.3 2.5 5.3 -10.8 -12.3 -2.3zM745.2 540l12.3 2.4 5.3 -10.9 -12.3 -2.3zM873.9 552.4l12.3 2.4 5.3 -14.6 -12.3 -2.2z"/><path fill="#4196ff" stroke="#4196ff" stroke-width="0.6" d="M204.7 590.9l12.3 6.9 5.3 -2.9 -12.3 -6.8zM210 588l12.3 6.8 5.3 -3.1 -12.3 -6.8zM215.3 585l12.3 6.8 5.3 -3.3 -12.3 -6.7zM220.6 581.8l12.3 6.7 5.3 -3.4 -12.3 -6.7zM225.9 578.4l12.3 6.7 5.3 -3.5 -12.3 -6.6zM231.3 575l12.3 6.6 5.3 -3.6 -12.3 -6.5zM236.6 571.5l12.3 6.5 5.3 -3.7 -12.3 -6.5zM241.9 567.8l12.3 6.5 5.3 -4 -12.3 -6.4zM247.2 563.9l12.3 6.4 5.3 -4.3 -12.3 -6.3zM270.2 561.5l12.3 6.3 5.3 -4.9 -12.3 -6.2zM293.2 557.4l12.3 5.9 5.3 -7.7 -12.3 -5.9zM340.9 557.3l12.3 4.7 5.3 -7.4 -12.3 -4.7zM346.2 549.9l12.3 4.7 5.3 -5.8 -12.3 -4.7zM363.9 548.9l12.3 4.5 5.3 -5.3 -12.3 -4.5zM381.5 548l12.3 4.2 5.3 -5.1 -12.3 -4.1zM386.8 542.9l12.3 4.1 5.3 -5.1 -12.3 -4.1zM404.5 542l12.3 3.6 5.3 -5 -12.3 -3.6zM409.8 536.9l12.3 3.6 5.3 -4.9 -12.3 -3.7zM422.2 540.6l12.3 3.3 5.3 -4.9 -12.3 -3.3zM427.5 535.7l12.3 3.3 5.3 -4.8 -12.3 -3.3zM439.8 538.9l12.3 3 5.3 -4.8 -12.3 -3zM445.1 534.1l12.3 3 5.3 -4.7 -12.3 -3zM462.8 532.5l12.3 2.7 5.3 -4.6 -12.3 -2.8zM468.1 527.9l12.3 2.8 5.3 -4.5 -12.3 -2.8zM480.5 530.6l12.3 2.4 5.3 -4.5 -12.3 -2.4zM485.8 526.1l12.3 2.4 5.3 -4.4 -12.3 -2.4zM492.8 533l12.3 2 5.3 -4.5 -12.3 -2.1zM498.1 528.5l12.3 2.1 5.3 -4.4 -12.3 -2.1zM503.5 524.1l12.3 2.1 5.3 -4.4 -12.3 -2.1zM510.5 530.6l12.3 2 5.3 -4.4 -12.3 -1.9zM515.8 526.2l12.3 1.9 5.3 -4.4 -12.3 -2zM521.1 521.8l12.3 2 5.3 -4.3 -12.3 -2zM522.8 532.5l12.3 2 5.3 -4.4 -12.3 -2zM528.1 528.1l12.3 2 5.3 -4.4 -12.3 -2zM533.5 523.8l12.3 2 5.3 -4.3 -12.3 -2zM540.5 530.1l12.3 1.6 5.3 -4.4 -12.3 -1.5zM545.8 525.7l12.3 1.5 5.3 -4.3 -12.3 -1.5zM551.1 521.5l12.3 1.5 5.3 -4.3 -12.3 -1.5zM552.8 531.6l12.3 1.7 5.3 -4.4 -12.3 -1.6zM558.1 527.2l12.3 1.6 5.3 -4.3 -12.3 -1.6zM563.5 523l12.3 1.6 5.3 -4.4 -12.3 -1.5zM565.2 533.3l12.3 3.7 5.3 -4.4 -12.3 -3.7zM570.5 528.9l12.3 3.7 5.3 -4.3 -12.3 -3.7zM575.8 524.5l12.3 3.7 5.3 -4.4 -12.3 -3.7zM588.1 528.2l12.3 4.2 5.3 -4.3 -12.3 -4.3zM593.5 523.9l12.3 4.3 5.3 -4.5 -12.3 -4.3zM611.1 523.6l12.3 3.7 5.3 -4.8 -12.3 -3.7zM628.8 522.4l12.3 2.8 5.3 -6 -12.3 -2.7zM683.5 527.3l12.3 2.6 5.3 -10.1 -12.3 -2.5zM695.8 530l12.3 2.6 5.3 -10.3 -12.3 -2.4zM708.1 532.5l12.3 2.5 5.3 -10.5 -12.3 -2.4zM836.9 544.8l12.3 2.5 5.3 -14.1 -12.3 -2.3zM849.2 547.3l12.3 2.6 5.3 -14.2 -12.3 -2.4zM861.5 549.9l12.3 2.6 5.3 -14.4 -12.3 -2.4z"/><path fill="#3e9bfe" stroke="#3e9bfe" stroke-width="0.6" d="M252.6 559.7l12.3 6.3 5.3 -4.6 -12.3 -6.2zM257.9 555.3l12.3 6.2 5.3 -4.9 -12.3 -6.1zM275.5 556.6l12.3 6.2 5.3 -5.4 -12.3 -6.1zM310.9 555.6l12.3 5.3 5.3 -8.7 -12.3 -5.4zM328.5 552.3l12.3 5 5.3 -7.4 -12.3 -5zM351.5 544.2l12.3 4.7 5.3 -5.3 -12.3 -4.7zM369.2 543.6l12.3 4.5 5.3 -5.1 -12.3 -4.4zM374.5 538.5l12.3 4.4 5.3 -5.1 -12.3 -4.4zM392.2 537.9l12.3 4.1 5.3 -5.1 -12.3 -4.1zM397.5 532.8l12.3 4.1 5.3 -4.9 -12.3 -4.1zM415.1 532l12.3 3.7 5.3 -4.8 -12.3 -3.7zM432.8 530.9l12.3 3.3 5.3 -4.7 -12.3 -3.3zM438.1 526.1l12.3 3.3 5.3 -4.6 -12.3 -3.3zM450.5 529.4l12.3 3 5.3 -4.6 -12.3 -3.1zM455.8 524.8l12.3 3.1 5.3 -4.5 -12.3 -3.1zM461.1 520.2l12.3 3.1 5.3 -4.5 -12.3 -3.1zM473.4 523.3l12.3 2.8 5.3 -4.5 -12.3 -2.8zM478.8 518.8l12.3 2.8 5.3 -4.4 -12.3 -2.8zM491.1 521.7l12.3 2.4 5.3 -4.4 -12.3 -2.5zM496.4 517.3l12.3 2.5 5.3 -4.3 -12.3 -2.5zM501.8 513l12.3 2.5 5.3 -4.3 -12.3 -2.5zM508.8 519.7l12.3 2.1 5.3 -4.3 -12.3 -2.1zM514.1 515.5l12.3 2.1 5.3 -4.3 -12.3 -2.1zM526.4 517.5l12.3 2 5.3 -4.3 -12.3 -2zM531.8 513.2l12.3 2 5.3 -4.5 -12.3 -2zM538.8 519.5l12.3 2 5.3 -4.3 -12.3 -2zM544.1 515.2l12.3 2 5.3 -4.5 -12.3 -2zM556.4 517.1l12.3 1.5 5.3 -4.6 -12.3 -1.4zM561.8 512.6l12.3 1.4 5.3 -4.8 -12.3 -1.4zM568.8 518.6l12.3 1.5 5.3 -4.6 -12.3 -1.5zM574.1 514.1l12.3 1.5 5.3 -4.9 -12.3 -1.4zM581.1 520.2l12.3 3.7 5.3 -4.6 -12.3 -3.8zM586.4 515.6l12.3 3.8 5.3 -4.9 -12.3 -3.8zM598.8 519.3l12.3 4.3 5.3 -4.8 -12.3 -4.3zM616.4 518.8l12.3 3.7 5.3 -6 -12.3 -3.6zM658.8 521.9l12.3 2.7 5.3 -9.8 -12.3 -2.6zM671.1 524.6l12.3 2.7 5.3 -10 -12.3 -2.5zM787.5 535.9l12.3 2.2 5.3 -13.3 -12.3 -2zM799.8 538.1l12.3 2.2 5.3 -13.5 -12.3 -2zM812.2 540.2l12.3 2.2 5.3 -13.7 -12.3 -2zM824.5 542.5l12.3 2.3 5.3 -13.9 -12.3 -2.1z"/><path fill="#3ba0fd" stroke="#3ba0fd" stroke-width="0.6" d="M192.3 584l12.3 6.9 5.3 -2.9 -12.3 -6.8zM197.6 581.2l12.3 6.8 5.3 -3.1 -12.3 -6.8zM203 578.2l12.3 6.8 5.3 -3.2 -12.3 -6.7zM208.3 575l12.3 6.7 5.3 -3.3 -12.3 -6.7zM213.6 571.8l12.3 6.7 5.3 -3.4 -12.3 -6.6zM218.9 568.4l12.3 6.6 5.3 -3.5 -12.3 -6.6zM224.3 564.9l12.3 6.6 5.3 -3.7 -12.3 -6.5zM229.6 561.3l12.3 6.5 5.3 -3.9 -12.3 -6.4zM234.9 557.5l12.3 6.4 5.3 -4.2 -12.3 -6.3zM263.2 550.5l12.3 6.1 5.3 -5.3 -12.3 -6.1zM280.9 551.3l12.3 6.1 5.3 -7.7 -12.3 -6.1zM298.5 549.7l12.3 5.9 5.3 -8.7 -12.3 -5.9zM316.2 546.9l12.3 5.4 5.3 -7.4 -12.3 -5.4zM333.9 544.9l12.3 5 5.3 -5.7 -12.3 -5zM339.2 539.2l12.3 5 5.3 -5.3 -12.3 -5zM356.8 538.9l12.3 4.7 5.3 -5.1 -12.3 -4.6zM362.2 533.9l12.3 4.6 5.3 -5.1 -12.3 -4.6zM379.8 533.4l12.3 4.4 5.3 -5 -12.3 -4.4zM385.1 528.4l12.3 4.4 5.3 -4.9 -12.3 -4.4zM402.8 527.9l12.3 4.1 5.3 -4.8 -12.3 -4.1zM408.1 523l12.3 4.1 5.3 -4.7 -12.3 -4.1zM420.5 527.2l12.3 3.7 5.3 -4.7 -12.3 -3.7zM425.8 522.5l12.3 3.7 5.3 -4.6 -12.3 -3.7zM431.1 517.8l12.3 3.7 5.3 -4.6 -12.3 -3.7zM443.4 521.5l12.3 3.3 5.3 -4.6 -12.3 -3.3zM448.8 516.9l12.3 3.3 5.3 -4.5 -12.3 -3.3zM466.4 515.7l12.3 3.1 5.3 -4.4 -12.3 -3.1zM471.8 511.3l12.3 3.1 5.3 -4.3 -12.3 -3.1zM484.1 514.4l12.3 2.8 5.3 -4.3 -12.3 -2.9zM489.4 510.1l12.3 2.9 5.3 -4.4 -12.3 -2.9zM494.7 505.7l12.3 2.9 5.3 -4.5 -12.3 -2.9zM507.1 508.6l12.3 2.5 5.3 -4.5 -12.3 -2.5zM512.4 504.1l12.3 2.5 5.3 -4.8 -12.3 -2.5zM519.4 511.1l12.3 2.1 5.3 -4.5 -12.3 -2.1zM524.7 506.6l12.3 2.1 5.3 -4.8 -12.3 -2.1zM537.1 508.7l12.3 2 5.3 -4.8 -12.3 -2zM549.4 510.7l12.3 2 5.3 -4.8 -12.3 -1.9zM567.1 507.8l12.3 1.4 5.3 -5.8 -12.3 -1.3zM579.4 509.2l12.3 1.4 5.3 -5.9 -12.3 -1.4zM591.8 510.7l12.3 3.8 5.3 -5.9 -12.3 -3.8zM604.1 514.4l12.3 4.3 5.3 -6 -12.3 -4.3zM634.1 516.4l12.3 2.7 5.3 -9.5 -12.3 -2.5zM646.4 519.2l12.3 2.7 5.3 -9.6 -12.3 -2.5zM738.1 526.9l12.3 2.3 5.3 -12.6 -12.3 -2.1zM750.5 529.2l12.3 2.3 5.3 -12.8 -12.3 -2.1zM762.8 531.5l12.3 2.2 5.3 -13 -12.3 -2.1zM775.2 533.7l12.3 2.2 5.3 -13.1 -12.3 -2z"/><path fill="#3aa3fc" stroke="#3aa3fc" stroke-width="0.6" d="M185.3 574.6l12.3 6.6 5.3 -3 -12.3 -6.5zM190.6 571.7l12.3 6.5 5.3 -3.2 -12.3 -6.5zM195.9 568.5l12.3 6.5 5.3 -3.3 -12.3 -6.5zM201.3 565.3l12.3 6.5 5.3 -3.4 -12.3 -6.4zM206.6 561.9l12.3 6.4 5.3 -3.5 -12.3 -6.4zM240.2 553.4l12.3 6.3 5.3 -4.5 -12.3 -6.3zM245.5 549l12.3 6.3 5.3 -4.8 -12.3 -6.2zM321.5 539.5l12.3 5.4 5.3 -5.7 -12.3 -5.4zM344.5 533.9l12.3 5 5.3 -5 -12.3 -4.9zM367.5 528.8l12.3 4.6 5.3 -5 -12.3 -4.6zM390.5 523.5l12.3 4.4 5.3 -4.8 -12.3 -4.4zM413.4 518.3l12.3 4.1 5.3 -4.7 -12.3 -4.2zM418.8 513.6l12.3 4.2 5.3 -4.6 -12.3 -4.2zM436.4 513.2l12.3 3.7 5.3 -4.5 -12.3 -3.7zM441.8 508.7l12.3 3.7 5.3 -4.4 -12.3 -3.7zM454.1 512.4l12.3 3.3 5.3 -4.4 -12.3 -3.3zM459.4 508l12.3 3.3 5.3 -4.3 -12.3 -3.4zM464.7 503.6l12.3 3.4 5.3 -4.4 -12.3 -3.4zM477.1 507l12.3 3.1 5.3 -4.4 -12.3 -3.2zM482.4 502.6l12.3 3.2 5.3 -4.6 -12.3 -3.2zM500.1 501.2l12.3 2.9 5.3 -4.8 -12.3 -2.9zM517.7 499.3l12.3 2.5 5.3 -5.6 -12.3 -2.5zM530.1 501.9l12.3 2.1 5.3 -5.7 -12.3 -2.1zM542.4 503.9l12.3 2 5.3 -5.7 -12.3 -1.9zM554.7 505.9l12.3 1.9 5.3 -5.8 -12.3 -1.9zM621.8 512.8l12.3 3.6 5.3 -9.3 -12.3 -3.5zM688.8 517.3l12.3 2.5 5.3 -11.8 -12.3 -2.3zM701.1 519.8l12.3 2.4 5.3 -12 -12.3 -2.2zM713.5 522.2l12.3 2.4 5.3 -12.2 -12.3 -2.2zM725.8 524.6l12.3 2.3 5.3 -12.4 -12.3 -2.1zM866.9 535.6l12.3 2.4 5.3 -13.2 -12.3 -2.3zM879.2 538l12.3 2.2 5.3 -13.3 -12.3 -2.1z"/><path fill="#37a8fa" stroke="#37a8fa" stroke-width="0.6" d="M180 577.4l12.3 6.6 5.3 -2.8 -12.3 -6.6zM211.9 558.5l12.3 6.4 5.3 -3.6 -12.3 -6.3zM217.2 555l12.3 6.3 5.3 -3.8 -12.3 -6.3zM222.6 551.2l12.3 6.3 5.3 -4.1 -12.3 -6.2zM227.9 547.2l12.3 6.2 5.3 -4.4 -12.3 -6.2zM250.9 544.3l12.3 6.2 5.3 -5.3 -12.3 -6.1zM268.5 545.2l12.3 6.1 5.3 -7.7 -12.3 -6.1zM286.2 543.6l12.3 6.1 5.3 -8.7 -12.3 -6.1zM303.8 541l12.3 5.9 5.3 -7.4 -12.3 -5.9zM326.8 533.8l12.3 5.4 5.3 -5.2 -12.3 -5.3zM332.2 528.6l12.3 5.3 5.3 -5 -12.3 -5.3zM349.8 528.9l12.3 4.9 5.3 -5 -12.3 -4.9zM355.1 524l12.3 4.9 5.3 -5 -12.3 -4.9zM372.8 523.8l12.3 4.6 5.3 -4.9 -12.3 -4.6zM378.1 518.9l12.3 4.6 5.3 -4.8 -12.3 -4.5zM395.8 518.7l12.3 4.4 5.3 -4.7 -12.3 -4.4zM401.1 513.9l12.3 4.4 5.3 -4.7 -12.3 -4.4zM424.1 509l12.3 4.2 5.3 -4.5 -12.3 -4.2zM429.4 504.5l12.3 4.2 5.3 -4.4 -12.3 -4.2zM447.1 504.2l12.3 3.7 5.3 -4.4 -12.3 -3.7zM452.4 499.9l12.3 3.7 5.3 -4.4 -12.3 -3.8zM470.1 499.2l12.3 3.4 5.3 -4.6 -12.3 -3.4zM475.4 494.6l12.3 3.4 5.3 -4.8 -12.3 -3.4zM487.7 498l12.3 3.2 5.3 -4.8 -12.3 -3.2zM493 493.2l12.3 3.2 5.3 -5.6 -12.3 -3.2zM505.4 496.4l12.3 2.9 5.3 -5.6 -12.3 -2.9zM560.1 500.2l12.3 1.9 5.3 -8.6 -12.3 -1.7zM572.4 502.1l12.3 1.3 5.3 -8.8 -12.3 -1.1zM584.7 503.4l12.3 1.4 5.3 -8.9 -12.3 -1.2zM597.1 504.7l12.3 3.8 5.3 -9.1 -12.3 -3.6zM609.4 508.5l12.3 4.3 5.3 -9.2 -12.3 -4.2zM651.8 509.7l12.3 2.5 5.3 -11.2 -12.3 -2.3zM664.1 512.2l12.3 2.6 5.3 -11.4 -12.3 -2.4zM676.4 514.8l12.3 2.5 5.3 -11.6 -12.3 -2.3zM805.2 524.8l12.3 2 5.3 -12.5 -12.3 -1.9zM817.5 526.8l12.3 2 5.3 -12.6 -12.3 -1.9zM829.8 528.8l12.3 2.1 5.3 -12.8 -12.3 -2zM842.2 530.9l12.3 2.3 5.3 -12.9 -12.3 -2.2zM854.5 533.2l12.3 2.4 5.3 -13.1 -12.3 -2.3z"/><path fill="#35abf8" stroke="#35abf8" stroke-width="0.6" d="M167.6 571l12.3 6.4 5.3 -2.8 -12.3 -6.4zM173 568.2l12.3 6.4 5.3 -3 -12.3 -6.4zM178.3 565.2l12.3 6.4 5.3 -3.1 -12.3 -6.4zM183.6 562.1l12.3 6.4 5.3 -3.2 -12.3 -6.4zM188.9 558.9l12.3 6.4 5.3 -3.3 -12.3 -6.4zM194.2 555.5l12.3 6.4 5.3 -3.4 -12.3 -6.4zM199.6 552.1l12.3 6.4 5.3 -3.5 -12.3 -6.4zM204.9 548.6l12.3 6.4 5.3 -3.8 -12.3 -6.3zM233.2 542.8l12.3 6.2 5.3 -4.7 -12.3 -6.1zM256.2 539.1l12.3 6.1 5.3 -7.7 -12.3 -6.1zM309.2 533.5l12.3 5.9 5.3 -5.7 -12.3 -5.9zM314.5 527.9l12.3 5.9 5.3 -5.2 -12.3 -5.8zM337.5 523.7l12.3 5.3 5.3 -5 -12.3 -5.2zM360.5 519l12.3 4.9 5.3 -4.9 -12.3 -4.8zM365.8 514.1l12.3 4.8 5.3 -4.8 -12.3 -4.8zM383.4 514.1l12.3 4.5 5.3 -4.7 -12.3 -4.5zM388.8 509.4l12.3 4.5 5.3 -4.7 -12.3 -4.5zM406.4 509.3l12.3 4.4 5.3 -4.6 -12.3 -4.4zM411.8 504.7l12.3 4.4 5.3 -4.5 -12.3 -4.4zM417.1 500.2l12.3 4.4 5.3 -4.4 -12.3 -4.4zM434.7 500.1l12.3 4.2 5.3 -4.4 -12.3 -4.2zM440.1 495.7l12.3 4.2 5.3 -4.4 -12.3 -4.2zM457.7 495.4l12.3 3.8 5.3 -4.6 -12.3 -3.8zM463 490.8l12.3 3.8 5.3 -4.8 -12.3 -3.8zM480.7 489.8l12.3 3.4 5.3 -5.6 -12.3 -3.4zM523 493.7l12.3 2.5 5.3 -8.2 -12.3 -2.4zM535.4 496.2l12.3 2.1 5.3 -8.3 -12.3 -1.9zM547.7 498.3l12.3 1.9 5.3 -8.4 -12.3 -1.8zM627.1 503.6l12.3 3.5 5.3 -10.8 -12.3 -3.3zM639.4 507.1l12.3 2.5 5.3 -11 -12.3 -2.4zM731.1 512.4l12.3 2.1 5.3 -11.7 -12.3 -2zM743.5 514.5l12.3 2.1 5.3 -11.8 -12.3 -2zM755.8 516.6l12.3 2.1 5.3 -12 -12.3 -2zM768.1 518.7l12.3 2.1 5.3 -12.1 -12.3 -1.9zM780.5 520.8l12.3 2 5.3 -12.3 -12.3 -1.9zM792.8 522.8l12.3 2 5.3 -12.4 -12.3 -1.9z"/><path fill="#31aff5" stroke="#31aff5" stroke-width="0.6" d="M210.2 544.9l12.3 6.3 5.3 -4 -12.3 -6.3zM215.5 540.9l12.3 6.3 5.3 -4.3 -12.3 -6.3zM238.5 538.2l12.3 6.1 5.3 -5.2 -12.3 -6.1zM273.8 537.5l12.3 6.1 5.3 -8.8 -12.3 -6.1zM291.5 534.8l12.3 6.1 5.3 -7.4 -12.3 -6.1zM296.8 527.4l12.3 6.1 5.3 -5.6 -12.3 -6.1zM319.8 522.8l12.3 5.8 5.3 -4.9 -12.3 -5.8zM342.8 518.7l12.3 5.2 5.3 -5 -12.3 -5.2zM348.1 513.8l12.3 5.2 5.3 -4.9 -12.3 -5.1zM371.1 509.3l12.3 4.8 5.3 -4.7 -12.3 -4.8zM376.4 504.6l12.3 4.8 5.3 -4.6 -12.3 -4.7zM394.1 504.8l12.3 4.5 5.3 -4.6 -12.3 -4.5zM399.4 500.2l12.3 4.5 5.3 -4.5 -12.3 -4.5zM404.7 495.7l12.3 4.5 5.3 -4.4 -12.3 -4.5zM422.4 495.7l12.3 4.4 5.3 -4.4 -12.3 -4.4zM427.7 491.4l12.3 4.4 5.3 -4.5 -12.3 -4.4zM445.4 491.3l12.3 4.2 5.3 -4.6 -12.3 -4.2zM450.7 486.6l12.3 4.2 5.3 -4.8 -12.3 -4.2zM468.4 486l12.3 3.8 5.3 -5.5 -12.3 -3.7zM498.4 487.6l12.3 3.2 5.3 -7.9 -12.3 -3.1zM510.7 490.8l12.3 2.9 5.3 -8 -12.3 -2.8zM614.7 499.4l12.3 4.2 5.3 -10.7 -12.3 -4.1zM681.8 503.4l12.3 2.3 5.3 -11.1 -12.3 -2.2zM694.1 505.7l12.3 2.3 5.3 -11.3 -12.3 -2.1zM706.4 508l12.3 2.2 5.3 -11.4 -12.3 -2.1zM718.8 510.2l12.3 2.2 5.3 -11.6 -12.3 -2zM884.5 524.8l12.3 2.1 5.3 -12.9 -12.3 -2z"/><path fill="#2eb4f2" stroke="#2eb4f2" stroke-width="0.6" d="M155.3 565l12.3 6 5.3 -2.8 -12.3 -6zM160.6 562.2l12.3 6 5.3 -3 -12.3 -6.1zM165.9 559.2l12.3 6.1 5.3 -3.1 -12.3 -6.1zM171.3 556l12.3 6.1 5.3 -3.2 -12.3 -6.1zM176.6 552.8l12.3 6.1 5.3 -3.3 -12.3 -6.1zM181.9 549.4l12.3 6.1 5.3 -3.4 -12.3 -6.2zM187.2 546l12.3 6.2 5.3 -3.5 -12.3 -6.2zM192.6 542.4l12.3 6.2 5.3 -3.7 -12.3 -6.2zM197.9 538.7l12.3 6.2 5.3 -4 -12.3 -6.2zM220.9 536.6l12.3 6.3 5.3 -4.7 -12.3 -6.2zM226.2 532l12.3 6.2 5.3 -5.2 -12.3 -6.2zM243.8 533l12.3 6.1 5.3 -7.7 -12.3 -6.1zM261.5 531.4l12.3 6.1 5.3 -8.8 -12.3 -6.2zM279.2 528.7l12.3 6.1 5.3 -7.4 -12.3 -6.1zM302.2 521.8l12.3 6.1 5.3 -5.1 -12.3 -6zM325.1 517.9l12.3 5.8 5.3 -4.9 -12.3 -5.7zM330.5 513l12.3 5.7 5.3 -4.9 -12.3 -5.7zM353.4 509l12.3 5.1 5.3 -4.8 -12.3 -5.1zM358.8 504.2l12.3 5.1 5.3 -4.7 -12.3 -5zM381.7 500l12.3 4.7 5.3 -4.6 -12.3 -4.7zM387.1 495.5l12.3 4.7 5.3 -4.5 -12.3 -4.7zM410.1 491.3l12.3 4.5 5.3 -4.4 -12.3 -4.4zM415.4 486.9l12.3 4.4 5.3 -4.5 -12.3 -4.4zM433 486.9l12.3 4.4 5.3 -4.6 -12.3 -4.3zM438.4 482.3l12.3 4.3 5.3 -4.8 -12.3 -4.3zM456 481.9l12.3 4.2 5.3 -5.5 -12.3 -4.1zM473.7 480.5l12.3 3.7 5.3 -7.7 -12.3 -3.6zM486 484.3l12.3 3.4 5.3 -7.8 -12.3 -3.2zM528.4 485.7l12.3 2.4 5.3 -9.4 -12.3 -2.2zM540.7 488.1l12.3 1.9 5.3 -9.6 -12.3 -1.8zM553 490l12.3 1.8 5.3 -9.8 -12.3 -1.6zM565.4 491.8l12.3 1.7 5.3 -10 -12.3 -1.6zM577.7 493.5l12.3 1.1 5.3 -10.2 -12.3 -0.9zM590.1 494.6l12.3 1.2 5.3 -10.4 -12.3 -1zM602.4 495.8l12.3 3.6 5.3 -10.5 -12.3 -3.5zM644.7 496.3l12.3 2.4 5.3 -10.7 -12.3 -2.2zM657.1 498.7l12.3 2.3 5.3 -10.8 -12.3 -2.2zM669.4 501l12.3 2.4 5.3 -11 -12.3 -2.2zM835.2 516.1l12.3 2 5.3 -12.5 -12.3 -1.9zM847.5 518.1l12.3 2.2 5.3 -12.6 -12.3 -2.1zM859.9 520.3l12.3 2.3 5.3 -12.7 -12.3 -2.2zM872.2 522.6l12.3 2.3 5.3 -12.8 -12.3 -2.2z"/><path fill="#2cb7f0" stroke="#2cb7f0" stroke-width="0.6" d="M143 559.7l12.3 5.3 5.3 -2.8 -12.3 -5.4zM148.3 556.8l12.3 5.4 5.3 -3 -12.3 -5.4zM153.6 553.7l12.3 5.4 5.3 -3.1 -12.3 -5.5zM158.9 550.5l12.3 5.5 5.3 -3.3 -12.3 -5.6zM164.2 547.2l12.3 5.6 5.3 -3.4 -12.3 -5.6zM169.6 543.8l12.3 5.6 5.3 -3.4 -12.3 -5.7zM203.2 534.7l12.3 6.2 5.3 -4.3 -12.3 -6.2zM208.5 530.4l12.3 6.2 5.3 -4.6 -12.3 -6.2zM284.5 521.3l12.3 6.1 5.3 -5.6 -12.3 -6.1zM307.5 516.8l12.3 6 5.3 -4.9 -12.3 -6zM312.8 512l12.3 6 5.3 -4.9 -12.3 -5.9zM335.8 508.2l12.3 5.7 5.3 -4.8 -12.3 -5.6zM341.1 503.4l12.3 5.6 5.3 -4.7 -12.3 -5.6zM364.1 499.6l12.3 5 5.3 -4.6 -12.3 -5zM369.4 495l12.3 5 5.3 -4.5 -12.3 -5zM374.7 490.5l12.3 5 5.3 -4.5 -12.3 -4.9zM392.4 491l12.3 4.7 5.3 -4.4 -12.3 -4.6zM397.7 486.6l12.3 4.6 5.3 -4.4 -12.3 -4.6zM403 482.3l12.3 4.6 5.3 -4.4 -12.3 -4.6zM420.7 482.5l12.3 4.4 5.3 -4.6 -12.3 -4.4zM426 477.9l12.3 4.4 5.3 -4.8 -12.3 -4.4zM443.7 477.5l12.3 4.3 5.3 -5.5 -12.3 -4.3zM461.3 476.4l12.3 4.1 5.3 -7.5 -12.3 -4zM503.7 479.8l12.3 3.1 5.3 -9.1 -12.3 -2.9zM516 482.9l12.3 2.8 5.3 -9.3 -12.3 -2.6zM632.4 493l12.3 3.3 5.3 -10.5 -12.3 -3.2zM736.5 500.8l12.3 2 5.3 -11.7 -12.3 -1.9zM748.8 502.8l12.3 2 5.3 -11.8 -12.3 -1.9zM761.1 504.8l12.3 2 5.3 -11.9 -12.3 -1.8zM773.5 506.7l12.3 1.9 5.3 -12 -12.3 -1.8zM785.8 508.6l12.3 1.9 5.3 -12.1 -12.3 -1.8zM798.2 510.5l12.3 1.9 5.3 -12.2 -12.3 -1.8zM810.5 512.4l12.3 1.9 5.3 -12.3 -12.3 -1.8zM822.8 514.2l12.3 1.9 5.3 -12.4 -12.3 -1.8z"/><path fill="#28bceb" stroke="#28bceb" stroke-width="0.6" d="M174.9 540.3l12.3 5.7 5.3 -3.5 -12.3 -5.7zM180.2 536.7l12.3 5.7 5.3 -3.7 -12.3 -5.7zM185.5 533l12.3 5.7 5.3 -4 -12.3 -5.8zM190.9 528.9l12.3 5.8 5.3 -4.3 -12.3 -5.8zM213.8 525.8l12.3 6.2 5.3 -5.2 -12.3 -6.2zM231.5 526.8l12.3 6.2 5.3 -7.7 -12.3 -6.3zM249.2 525.3l12.3 6.1 5.3 -8.8 -12.3 -6.2zM266.8 522.5l12.3 6.2 5.3 -7.4 -12.3 -6.2zM289.8 515.8l12.3 6.1 5.3 -5.1 -12.3 -6zM295.1 510.8l12.3 6 5.3 -4.8 -12.3 -5.9zM318.1 507.1l12.3 5.9 5.3 -4.9 -12.3 -5.9zM323.4 502.3l12.3 5.9 5.3 -4.8 -12.3 -5.8zM346.4 498.7l12.3 5.6 5.3 -4.7 -12.3 -5.5zM351.7 494.1l12.3 5.5 5.3 -4.6 -12.3 -5.5zM357.1 489.5l12.3 5.5 5.3 -4.5 -12.3 -5.4zM380.1 486.1l12.3 4.9 5.3 -4.4 -12.3 -4.9zM385.4 481.7l12.3 4.9 5.3 -4.3 -12.3 -4.9zM408.4 477.9l12.3 4.6 5.3 -4.6 -12.3 -4.6zM413.7 473.3l12.3 4.6 5.3 -4.7 -12.3 -4.5zM431.3 473.2l12.3 4.4 5.3 -5.4 -12.3 -4.3zM449 472.2l12.3 4.3 5.3 -7.4 -12.3 -4.1zM479 473l12.3 3.6 5.3 -8.8 -12.3 -3.4zM491.3 476.6l12.3 3.2 5.3 -9 -12.3 -3.1zM533.7 476.4l12.3 2.2 5.3 -9.5 -12.3 -2.1zM546 478.6l12.3 1.8 5.3 -9.6 -12.3 -1.6zM558.4 480.4l12.3 1.6 5.3 -9.8 -12.3 -1.5zM570.7 482l12.3 1.6 5.3 -9.9 -12.3 -1.4zM583 483.5l12.3 0.9 5.3 -10.1 -12.3 -0.8zM595.4 484.5l12.3 1 5.3 -10.2 -12.3 -0.8zM620.1 488.9l12.3 4.1 5.3 -10.4 -12.3 -4zM674.8 490.2l12.3 2.2 5.3 -11.1 -12.3 -2.1zM687.1 492.4l12.3 2.2 5.3 -11.2 -12.3 -2.1zM699.4 494.6l12.3 2.1 5.3 -11.4 -12.3 -2zM711.8 496.7l12.3 2.1 5.3 -11.5 -12.3 -1.9zM724.1 498.8l12.3 2 5.3 -11.6 -12.3 -1.9z"/><path fill="#25c0e7" stroke="#25c0e7" stroke-width="0.6" d="M130.6 554.8l12.3 4.9 5.3 -2.9 -12.3 -5zM135.9 551.8l12.3 5 5.3 -3.1 -12.3 -5zM141.3 548.7l12.3 5 5.3 -3.2 -12.3 -5.1zM146.6 545.4l12.3 5.1 5.3 -3.3 -12.3 -5.2zM151.9 542l12.3 5.2 5.3 -3.4 -12.3 -5.3zM157.2 538.5l12.3 5.3 5.3 -3.5 -12.3 -5.3zM162.6 535l12.3 5.3 5.3 -3.6 -12.3 -5.4zM167.9 531.3l12.3 5.4 5.3 -3.8 -12.3 -5.4zM173.2 527.5l12.3 5.4 5.3 -4 -12.3 -5.5zM196.2 524.6l12.3 5.8 5.3 -4.6 -12.3 -5.8zM272.1 515.1l12.3 6.2 5.3 -5.5 -12.3 -6.2zM277.5 509.6l12.3 6.2 5.3 -5 -12.3 -6.1zM300.5 506l12.3 5.9 5.3 -4.8 -12.3 -5.9zM305.8 501.2l12.3 5.9 5.3 -4.8 -12.3 -5.8zM328.8 497.6l12.3 5.8 5.3 -4.7 -12.3 -5.8zM334.1 492.9l12.3 5.8 5.3 -4.6 -12.3 -5.7zM362.4 485.1l12.3 5.4 5.3 -4.4 -12.3 -5.4zM367.7 480.7l12.3 5.4 5.3 -4.3 -12.3 -5.3zM390.7 477.5l12.3 4.9 5.3 -4.4 -12.3 -4.8zM396 473.1l12.3 4.8 5.3 -4.6 -12.3 -4.8zM419 468.7l12.3 4.5 5.3 -5.3 -12.3 -4.4zM436.7 467.8l12.3 4.3 5.3 -7.2 -12.3 -4.1zM466.7 469l12.3 4 5.3 -8.6 -12.3 -3.8zM509 470.9l12.3 2.9 5.3 -9.3 -12.3 -2.8zM521.3 473.8l12.3 2.6 5.3 -9.4 -12.3 -2.5zM607.7 485.4l12.3 3.5 5.3 -10.3 -12.3 -3.4zM650.1 485.8l12.3 2.2 5.3 -10.9 -12.3 -2.1zM662.4 488l12.3 2.2 5.3 -11 -12.3 -2.1zM877.5 509.9l12.3 2.2 5.3 -13.6 -12.3 -2.1zM889.9 512l12.3 2 5.3 -13.7 -12.3 -1.9z"/><path fill="#23c3e4" stroke="#23c3e4" stroke-width="0.6" d="M118.3 550.4l12.3 4.4 5.3 -3 -12.3 -4.5zM123.6 547.4l12.3 4.5 5.3 -3.1 -12.3 -4.6zM128.9 544.1l12.3 4.6 5.3 -3.3 -12.3 -4.7zM134.2 540.7l12.3 4.7 5.3 -3.4 -12.3 -4.8zM139.6 537.2l12.3 4.8 5.3 -3.5 -12.3 -4.9zM144.9 533.7l12.3 4.9 5.3 -3.5 -12.3 -5zM150.2 530l12.3 5 5.3 -3.6 -12.3 -5zM155.5 526.3l12.3 5 5.3 -3.8 -12.3 -5.1zM178.5 523.5l12.3 5.5 5.3 -4.3 -12.3 -5.5zM183.8 519.1l12.3 5.5 5.3 -4.7 -12.3 -5.6zM201.5 519.9l12.3 5.8 5.3 -5.2 -12.3 -5.9zM219.2 520.6l12.3 6.2 5.3 -7.8 -12.3 -6.3zM236.8 519l12.3 6.3 5.3 -8.9 -12.3 -6.4zM254.5 516.4l12.3 6.2 5.3 -7.4 -12.3 -6.2zM259.8 508.9l12.3 6.2 5.3 -5.5 -12.3 -6.2zM282.8 504.7l12.3 6.1 5.3 -4.8 -12.3 -6.1zM288.1 499.9l12.3 6.1 5.3 -4.8 -12.3 -6zM311.1 496.5l12.3 5.8 5.3 -4.7 -12.3 -5.8zM316.4 491.8l12.3 5.8 5.3 -4.6 -12.3 -5.8zM339.4 488.4l12.3 5.7 5.3 -4.5 -12.3 -5.7zM344.7 483.9l12.3 5.7 5.3 -4.5 -12.3 -5.6zM350.1 479.5l12.3 5.6 5.3 -4.4 -12.3 -5.6zM373 476.4l12.3 5.3 5.3 -4.3 -12.3 -5.3zM378.4 472.2l12.3 5.3 5.3 -4.4 -12.3 -5.2zM383.7 467.8l12.3 5.2 5.3 -4.5 -12.3 -5.2zM401.3 468.5l12.3 4.8 5.3 -4.7 -12.3 -4.7zM406.7 463.9l12.3 4.7 5.3 -5.3 -12.3 -4.7zM424.3 463.4l12.3 4.4 5.3 -7.1 -12.3 -4.3zM454.3 464.9l12.3 4.1 5.3 -8.5 -12.3 -3.9zM484.3 464.4l12.3 3.4 5.3 -9.1 -12.3 -3.3zM496.7 467.8l12.3 3.1 5.3 -9.2 -12.3 -2.9zM625.4 478.6l12.3 4 5.3 -10.7 -12.3 -3.9zM637.7 482.6l12.3 3.2 5.3 -10.8 -12.3 -3.2zM778.8 494.8l12.3 1.8 5.3 -12.9 -12.3 -1.7zM791.1 496.6l12.3 1.8 5.3 -13 -12.3 -1.7zM803.5 498.4l12.3 1.8 5.3 -13 -12.3 -1.7zM815.8 500.2l12.3 1.8 5.3 -13.1 -12.3 -1.7zM828.2 501.9l12.3 1.8 5.3 -13.2 -12.3 -1.7zM840.5 503.7l12.3 1.9 5.3 -13.3 -12.3 -1.8zM852.8 505.6l12.3 2.1 5.3 -13.4 -12.3 -2zM865.2 507.7l12.3 2.2 5.3 -13.5 -12.3 -2.1z"/><path fill="#20c7df" stroke="#20c7df" stroke-width="0.6" d="M93.6 543l12.3 3.5 5.3 -3.2 -12.3 -3.7zM105.9 546.5l12.3 4 5.3 -3.1 -12.3 -4.1zM111.3 543.3l12.3 4.1 5.3 -3.2 -12.3 -4.2zM116.6 539.9l12.3 4.2 5.3 -3.4 -12.3 -4.3zM121.9 536.4l12.3 4.3 5.3 -3.5 -12.3 -4.5zM127.2 532.8l12.3 4.5 5.3 -3.6 -12.3 -4.6zM132.6 529.1l12.3 4.6 5.3 -3.6 -12.3 -4.7zM137.9 525.3l12.3 4.7 5.3 -3.7 -12.3 -4.8zM160.9 522.4l12.3 5.1 5.3 -4.1 -12.3 -5.2zM166.2 518.3l12.3 5.2 5.3 -4.4 -12.3 -5.2zM189.2 514.3l12.3 5.6 5.3 -5.2 -12.3 -5.7zM206.8 514.7l12.3 5.9 5.3 -7.9 -12.3 -6zM242.1 510l12.3 6.4 5.3 -7.4 -12.3 -6.4zM265.1 503.5l12.3 6.2 5.3 -5 -12.3 -6.1zM293.4 495.2l12.3 6 5.3 -4.8 -12.3 -6zM298.8 490.5l12.3 6 5.3 -4.7 -12.3 -5.9zM321.7 487.2l12.3 5.8 5.3 -4.6 -12.3 -5.7zM327.1 482.6l12.3 5.7 5.3 -4.5 -12.3 -5.7zM355.4 475.1l12.3 5.6 5.3 -4.3 -12.3 -5.5zM360.7 470.9l12.3 5.5 5.3 -4.2 -12.3 -5.5zM366 466.7l12.3 5.5 5.3 -4.3 -12.3 -5.4zM389 463.4l12.3 5.2 5.3 -4.6 -12.3 -5.1zM412 458.7l12.3 4.7 5.3 -6.9 -12.3 -4.5zM442 460.8l12.3 4.1 5.3 -8.3 -12.3 -4zM472 460.6l12.3 3.8 5.3 -9 -12.3 -3.7zM526.7 464.4l12.3 2.5 5.3 -10 -12.3 -2.5zM539 467l12.3 2.1 5.3 -10 -12.3 -2.1zM551.4 469.1l12.3 1.6 5.3 -10.1 -12.3 -1.6zM563.7 470.7l12.3 1.5 5.3 -10.2 -12.3 -1.4zM576 472.2l12.3 1.4 5.3 -10.3 -12.3 -1.3zM588.4 473.6l12.3 0.8 5.3 -10.4 -12.3 -0.6zM600.7 474.4l12.3 0.8 5.3 -10.6 -12.3 -0.6zM613 475.2l12.3 3.4 5.3 -10.6 -12.3 -3.3zM692.4 481.3l12.3 2.1 5.3 -12.3 -12.3 -1.9zM704.8 483.3l12.3 2 5.3 -12.4 -12.3 -1.9zM717.1 485.3l12.3 1.9 5.3 -12.5 -12.3 -1.9zM729.4 487.3l12.3 1.9 5.3 -12.5 -12.3 -1.9zM741.8 489.2l12.3 1.9 5.3 -12.6 -12.3 -1.8zM754.1 491.1l12.3 1.9 5.3 -12.7 -12.3 -1.8zM766.5 493l12.3 1.8 5.3 -12.8 -12.3 -1.8z"/><path fill="#1fc9dd" stroke="#1fc9dd" stroke-width="0.6" d="M98.9 539.6l12.3 3.7 5.3 -3.4 -12.3 -3.8zM104.2 536.1l12.3 3.8 5.3 -3.5 -12.3 -4zM109.6 532.4l12.3 4 5.3 -3.6 -12.3 -4.1zM114.9 528.7l12.3 4.1 5.3 -3.7 -12.3 -4.3zM120.2 524.8l12.3 4.3 5.3 -3.8 -12.3 -4.4zM143.2 521.5l12.3 4.8 5.3 -3.9 -12.3 -4.9zM148.5 517.5l12.3 4.9 5.3 -4.1 -12.3 -5zM153.8 513.3l12.3 5 5.3 -4.5 -12.3 -5.1zM171.5 513.8l12.3 5.2 5.3 -4.7 -12.3 -5.3zM176.8 509l12.3 5.3 5.3 -5.3 -12.3 -5.4zM224.5 512.7l12.3 6.3 5.3 -9 -12.3 -6.4zM247.5 502.5l12.3 6.4 5.3 -5.5 -12.3 -6.4zM270.5 498.5l12.3 6.1 5.3 -4.7 -12.3 -6.1zM275.8 493.8l12.3 6.1 5.3 -4.7 -12.3 -6.1zM304.1 485.8l12.3 5.9 5.3 -4.6 -12.3 -5.9zM309.4 481.2l12.3 5.9 5.3 -4.5 -12.3 -5.9zM332.4 478.2l12.3 5.7 5.3 -4.4 -12.3 -5.6zM337.7 473.8l12.3 5.6 5.3 -4.3 -12.3 -5.6zM343 469.6l12.3 5.6 5.3 -4.2 -12.3 -5.5zM348.4 465.4l12.3 5.5 5.3 -4.2 -12.3 -5.5zM371.3 462.4l12.3 5.4 5.3 -4.5 -12.3 -5.4zM376.7 458l12.3 5.4 5.3 -4.6 -12.3 -5.3zM394.3 458.8l12.3 5.1 5.3 -5.2 -12.3 -5zM429.6 456.5l12.3 4.3 5.3 -8.1 -12.3 -4.1zM459.6 456.6l12.3 3.9 5.3 -8.8 -12.3 -3.8zM502 458.7l12.3 2.9 5.3 -9.8 -12.3 -2.9zM514.3 461.7l12.3 2.8 5.3 -9.9 -12.3 -2.7zM655.4 475l12.3 2.1 5.3 -11.9 -12.3 -1.9zM667.7 477.1l12.3 2.1 5.3 -12 -12.3 -1.9zM680.1 479.2l12.3 2.1 5.3 -12.2 -12.3 -1.9z"/><path fill="#1ccdd8" stroke="#1ccdd8" stroke-width="0.6" d="M125.5 520.9l12.3 4.4 5.3 -3.8 -12.3 -4.5zM130.9 517l12.3 4.5 5.3 -4 -12.3 -4.7zM136.2 512.9l12.3 4.7 5.3 -4.2 -12.3 -4.8zM159.2 508.7l12.3 5.1 5.3 -4.8 -12.3 -5.2zM194.5 509l12.3 5.7 5.3 -8 -12.3 -5.8zM212.1 506.7l12.3 6 5.3 -9.1 -12.3 -6.2zM229.8 503.6l12.3 6.4 5.3 -7.5 -12.3 -6.5zM252.8 497l12.3 6.4 5.3 -4.9 -12.3 -6.4zM258.1 492.1l12.3 6.4 5.3 -4.7 -12.3 -6.4zM281.1 489.1l12.3 6.1 5.3 -4.7 -12.3 -6.1zM286.4 484.4l12.3 6.1 5.3 -4.7 -12.3 -6zM291.7 479.8l12.3 6 5.3 -4.6 -12.3 -6zM314.7 476.8l12.3 5.9 5.3 -4.5 -12.3 -5.8zM320 472.3l12.3 5.8 5.3 -4.4 -12.3 -5.8zM325.4 468l12.3 5.8 5.3 -4.3 -12.3 -5.8zM353.7 461.2l12.3 5.5 5.3 -4.3 -12.3 -5.5zM359 456.9l12.3 5.5 5.3 -4.4 -12.3 -5.4zM382 453.5l12.3 5.3 5.3 -5.1 -12.3 -5.2zM399.6 453.7l12.3 5 5.3 -6.7 -12.3 -4.8zM417.3 452l12.3 4.5 5.3 -7.9 -12.3 -4.3zM447.3 452.7l12.3 4 5.3 -8.7 -12.3 -3.8zM489.7 455.4l12.3 3.3 5.3 -9.7 -12.3 -3.2zM556.7 459.1l12.3 1.6 5.3 -11.1 -12.3 -1.5zM569 460.6l12.3 1.4 5.3 -11.1 -12.3 -1.3zM581.4 462l12.3 1.3 5.3 -11.1 -12.3 -1.3zM593.7 463.3l12.3 0.6 5.3 -11.1 -12.3 -0.7zM630.7 467.9l12.3 3.9 5.3 -11.5 -12.3 -3.7zM643.1 471.9l12.3 3.2 5.3 -11.7 -12.3 -3z"/><path fill="#1ad2d2" stroke="#1ad2d2" stroke-width="0.6" d="M141.5 508.5l12.3 4.8 5.3 -4.6 -12.3 -4.9zM146.8 503.8l12.3 4.9 5.3 -4.9 -12.3 -5zM164.5 503.8l12.3 5.2 5.3 -5.4 -12.3 -5.3zM182.1 503.6l12.3 5.4 5.3 -8.2 -12.3 -5.6zM235.1 496l12.3 6.5 5.3 -5.5 -12.3 -6.5zM263.4 487.4l12.3 6.4 5.3 -4.7 -12.3 -6.4zM268.8 482.7l12.3 6.4 5.3 -4.7 -12.3 -6.4zM297.1 475.2l12.3 6 5.3 -4.5 -12.3 -6zM302.4 470.8l12.3 6 5.3 -4.4 -12.3 -6zM330.7 463.8l12.3 5.8 5.3 -4.2 -12.3 -5.7zM336 459.6l12.3 5.7 5.3 -4.2 -12.3 -5.7zM341.3 455.5l12.3 5.7 5.3 -4.3 -12.3 -5.7zM364.3 452.6l12.3 5.4 5.3 -4.5 -12.3 -5.4zM369.6 448.1l12.3 5.4 5.3 -5 -12.3 -5.3zM387.3 448.5l12.3 5.2 5.3 -6.5 -12.3 -5zM405 447.2l12.3 4.8 5.3 -7.7 -12.3 -4.6zM435 448.6l12.3 4.1 5.3 -8.6 -12.3 -3.9zM465 447.9l12.3 3.8 5.3 -9.6 -12.3 -3.7zM477.3 451.7l12.3 3.7 5.3 -9.7 -12.3 -3.6zM519.7 451.8l12.3 2.7 5.3 -10.9 -12.3 -2.6zM532 454.6l12.3 2.5 5.3 -10.9 -12.3 -2.4zM544.3 457l12.3 2.1 5.3 -11 -12.3 -2zM606 464l12.3 0.6 5.3 -11.1 -12.3 -0.6zM618.4 464.6l12.3 3.3 5.3 -11.3 -12.3 -3.1zM796.5 483.8l12.3 1.7 5.3 -15 -12.3 -1.6zM808.8 485.5l12.3 1.7 5.3 -15 -12.3 -1.6zM821.1 487.1l12.3 1.7 5.3 -15.1 -12.3 -1.6zM833.5 488.8l12.3 1.7 5.3 -15.2 -12.3 -1.6zM845.8 490.5l12.3 1.8 5.3 -15.3 -12.3 -1.7zM858.2 492.3l12.3 2 5.3 -15.4 -12.3 -1.9zM870.5 494.3l12.3 2.1 5.3 -15.5 -12.3 -2zM882.8 496.3l12.3 2.1 5.3 -15.5 -12.3 -2zM895.2 498.4l12.3 1.9 5.3 -15.6 -12.3 -1.9z"/><path fill="#1ad4d0" stroke="#1ad4d0" stroke-width="0.6" d="M152.1 498.8l12.3 5 5.3 -5.5 -12.3 -5.2zM199.8 500.9l12.3 5.8 5.3 -9.3 -12.3 -6zM217.5 497.4l12.3 6.2 5.3 -7.6 -12.3 -6.3zM240.5 490.5l12.3 6.5 5.3 -4.9 -12.3 -6.6zM245.8 485.5l12.3 6.6 5.3 -4.7 -12.3 -6.6zM274.1 478l12.3 6.4 5.3 -4.6 -12.3 -6.4zM279.4 473.4l12.3 6.4 5.3 -4.6 -12.3 -6.4zM307.7 466.4l12.3 6 5.3 -4.3 -12.3 -6zM313 462l12.3 6 5.3 -4.2 -12.3 -5.9zM318.4 457.8l12.3 5.9 5.3 -4.2 -12.3 -5.9zM346.7 451.3l12.3 5.7 5.3 -4.4 -12.3 -5.6zM352 446.9l12.3 5.6 5.3 -4.5 -12.3 -5.6zM375 443.2l12.3 5.3 5.3 -6.3 -12.3 -5.1zM392.6 442.2l12.3 5 5.3 -7.4 -12.3 -4.8zM422.6 444.4l12.3 4.3 5.3 -8.4 -12.3 -4.1zM452.6 444.1l12.3 3.8 5.3 -9.5 -12.3 -3.7zM495 445.7l12.3 3.2 5.3 -10.7 -12.3 -3.2zM507.3 449l12.3 2.9 5.3 -10.8 -12.3 -2.8zM697.7 469.1l12.3 1.9 5.3 -14.7 -12.3 -1.8zM710.1 471l12.3 1.9 5.3 -14.8 -12.3 -1.8zM722.4 472.9l12.3 1.9 5.3 -14.8 -12.3 -1.9zM734.8 474.8l12.3 1.9 5.3 -14.7 -12.3 -1.9zM747.1 476.7l12.3 1.8 5.3 -14.7 -12.3 -1.8zM759.4 478.5l12.3 1.8 5.3 -14.8 -12.3 -1.8zM771.8 480.3l12.3 1.8 5.3 -14.8 -12.3 -1.7zM784.1 482l12.3 1.7 5.3 -14.9 -12.3 -1.7z"/><path fill="#18d7ca" stroke="#18d7ca" stroke-width="0.6" d="M169.8 498.3l12.3 5.3 5.3 -8.3 -12.3 -5.5zM222.8 489.7l12.3 6.3 5.3 -5.5 -12.3 -6.4zM228.1 484.1l12.3 6.4 5.3 -5 -12.3 -6.4zM251.1 480.8l12.3 6.6 5.3 -4.7 -12.3 -6.6zM256.4 476.1l12.3 6.6 5.3 -4.7 -12.3 -6.7zM284.7 468.8l12.3 6.4 5.3 -4.5 -12.3 -6.4zM290 464.3l12.3 6.4 5.3 -4.4 -12.3 -6.5zM323.7 453.7l12.3 5.9 5.3 -4.1 -12.3 -5.9zM329 449.6l12.3 5.9 5.3 -4.2 -12.3 -5.9zM334.3 445.4l12.3 5.9 5.3 -4.4 -12.3 -5.9zM357.3 442.5l12.3 5.6 5.3 -4.9 -12.3 -5.5zM410.3 439.7l12.3 4.6 5.3 -8.2 -12.3 -4.4zM440.3 440.2l12.3 3.9 5.3 -9.3 -12.3 -3.8zM482.6 442.2l12.3 3.6 5.3 -10.7 -12.3 -3.5zM648.4 460.3l12.3 3 5.3 -13.9 -12.3 -2.6zM660.7 463.3l12.3 1.9 5.3 -14.2 -12.3 -1.7zM673.1 465.2l12.3 1.9 5.3 -14.4 -12.3 -1.7zM685.4 467.2l12.3 1.9 5.3 -14.6 -12.3 -1.7z"/><path fill="#18d9c8" stroke="#18d9c8" stroke-width="0.6" d="M157.5 493.1l12.3 5.2 5.3 -8.5 -12.3 -5.4zM187.5 495.3l12.3 5.6 5.3 -9.4 -12.3 -5.8zM205.1 491.5l12.3 6 5.3 -7.7 -12.3 -6.1zM233.4 479.1l12.3 6.4 5.3 -4.7 -12.3 -6.5zM261.7 471.3l12.3 6.7 5.3 -4.6 -12.3 -6.7zM267.1 466.6l12.3 6.7 5.3 -4.6 -12.3 -6.8zM295.4 459.9l12.3 6.5 5.3 -4.3 -12.3 -6.5zM300.7 455.6l12.3 6.5 5.3 -4.2 -12.3 -6.5zM306 451.4l12.3 6.5 5.3 -4.1 -12.3 -6.5zM311.3 447.2l12.3 6.5 5.3 -4.1 -12.3 -6.5zM339.6 441l12.3 5.9 5.3 -4.4 -12.3 -5.8zM345 436.7l12.3 5.8 5.3 -4.8 -12.3 -5.8zM362.6 437.7l12.3 5.5 5.3 -6.1 -12.3 -5.3zM380.3 437.1l12.3 5.1 5.3 -7.2 -12.3 -4.9zM397.9 434.9l12.3 4.8 5.3 -8.1 -12.3 -4.6zM428 436.1l12.3 4.1 5.3 -9.2 -12.3 -4zM470.3 438.5l12.3 3.7 5.3 -10.6 -12.3 -3.6zM537.3 443.7l12.3 2.4 5.3 -13.2 -12.3 -2.3zM549.7 446.1l12.3 2 5.3 -13.3 -12.3 -1.9zM562 448.1l12.3 1.5 5.3 -13.3 -12.3 -1.4zM574.3 449.5l12.3 1.3 5.3 -13.3 -12.3 -1.3zM586.7 450.9l12.3 1.3 5.3 -13.2 -12.3 -1.5zM599 452.2l12.3 0.7 5.3 -12.8 -12.3 -1.1zM611.4 452.9l12.3 0.6 5.3 -12.6 -12.3 -0.8zM623.7 453.5l12.3 3.1 5.3 -12.9 -12.3 -2.7zM636 456.7l12.3 3.7 5.3 -13.5 -12.3 -3.1z"/><path fill="#18ddc2" stroke="#18ddc2" stroke-width="0.6" d="M175.1 489.8l12.3 5.5 5.3 -9.6 -12.3 -5.7zM192.8 485.7l12.3 5.8 5.3 -7.8 -12.3 -5.9zM210.4 483.6l12.3 6.1 5.3 -5.6 -12.3 -6.2zM215.8 477.9l12.3 6.2 5.3 -5 -12.3 -6.3zM238.8 474.3l12.3 6.5 5.3 -4.7 -12.3 -6.5zM244.1 469.5l12.3 6.5 5.3 -4.8 -12.3 -6.6zM272.4 462l12.3 6.8 5.3 -4.5 -12.3 -6.8zM277.7 457.5l12.3 6.8 5.3 -4.4 -12.3 -6.9zM283 453l12.3 6.9 5.3 -4.3 -12.3 -6.9zM316.7 443.1l12.3 6.5 5.3 -4.2 -12.3 -6.5zM322 438.9l12.3 6.5 5.3 -4.3 -12.3 -6.5zM350.3 431.9l12.3 5.8 5.3 -6 -12.3 -5.6zM367.9 431.7l12.3 5.3 5.3 -7 -12.3 -5.1zM385.6 430.1l12.3 4.9 5.3 -7.9 -12.3 -4.7zM415.6 431.7l12.3 4.4 5.3 -9.1 -12.3 -4.3zM445.6 431l12.3 3.8 5.3 -10.4 -12.3 -3.7zM458 434.8l12.3 3.7 5.3 -10.5 -12.3 -3.6zM512.6 438.3l12.3 2.8 5.3 -13.1 -12.3 -2.7zM525 441l12.3 2.6 5.3 -13.1 -12.3 -2.6z"/><path fill="#18e0bd" stroke="#18e0bd" stroke-width="0.6" d="M198.1 477.7l12.3 5.9 5.3 -5.7 -12.3 -6zM221.1 472.8l12.3 6.3 5.3 -4.8 -12.3 -6.3zM226.4 468l12.3 6.3 5.3 -4.8 -12.3 -6.4zM249.4 464.7l12.3 6.6 5.3 -4.7 -12.3 -6.7zM254.7 460l12.3 6.7 5.3 -4.6 -12.3 -6.8zM288.4 448.7l12.3 6.9 5.3 -4.2 -12.3 -6.9zM293.7 444.4l12.3 6.9 5.3 -4.1 -12.3 -7zM299 440.2l12.3 7 5.3 -4.1 -12.3 -7zM327.3 434.5l12.3 6.5 5.3 -4.4 -12.3 -6.5zM332.6 430.2l12.3 6.5 5.3 -4.8 -12.3 -6.5zM355.6 426.1l12.3 5.6 5.3 -6.8 -12.3 -5.4zM373.3 424.9l12.3 5.1 5.3 -7.7 -12.3 -5zM403.3 427l12.3 4.6 5.3 -8.9 -12.3 -4.5zM433.3 427l12.3 4 5.3 -10.3 -12.3 -3.8zM500.3 435.1l12.3 3.2 5.3 -13 -12.3 -3.1zM789.4 467.2l12.3 1.7 5.3 -16.9 -12.3 -1.6zM801.8 468.9l12.3 1.6 5.3 -16.9 -12.3 -1.5zM814.1 470.5l12.3 1.6 5.3 -17 -12.3 -1.5zM826.5 472.1l12.3 1.6 5.3 -17.1 -12.3 -1.5zM838.8 473.7l12.3 1.6 5.3 -17.2 -12.3 -1.5zM851.1 475.3l12.3 1.7 5.3 -17.2 -12.3 -1.6zM863.5 477l12.3 1.9 5.3 -17.3 -12.3 -1.8zM875.8 478.9l12.3 2 5.3 -17.4 -12.3 -1.9zM888.2 480.9l12.3 2 5.3 -17.5 -12.3 -1.9zM900.5 482.9l12.3 1.9 5.3 -17.5 -12.3 -1.8z"/><path fill="#19e2bb" stroke="#19e2bb" stroke-width="0.6" d="M162.8 484.4l12.3 5.4 5.3 -9.8 -12.3 -5.6zM180.4 479.9l12.3 5.7 5.3 -8 -12.3 -5.9zM203.4 471.9l12.3 6 5.3 -5.1 -12.3 -6.2zM208.8 466.7l12.3 6.2 5.3 -4.8 -12.3 -6.3zM231.7 463.1l12.3 6.4 5.3 -4.8 -12.3 -6.5zM237.1 458.2l12.3 6.5 5.3 -4.8 -12.3 -6.6zM260 455.3l12.3 6.8 5.3 -4.5 -12.3 -6.8zM265.4 450.7l12.3 6.8 5.3 -4.5 -12.3 -6.9zM270.7 446.1l12.3 6.9 5.3 -4.4 -12.3 -7zM304.3 436.1l12.3 7 5.3 -4.2 -12.3 -7.1zM309.6 431.8l12.3 7.1 5.3 -4.3 -12.3 -7.1zM337.9 425.4l12.3 6.5 5.3 -5.8 -12.3 -6.3zM390.9 422.3l12.3 4.7 5.3 -8.8 -12.3 -4.6zM420.9 422.7l12.3 4.3 5.3 -10.1 -12.3 -4.2zM475.6 428l12.3 3.6 5.3 -12.9 -12.3 -3.5zM488 431.6l12.3 3.5 5.3 -13 -12.3 -3.4zM666 449.4l12.3 1.7 5.3 -16.3 -12.3 -1.4zM678.4 451.1l12.3 1.7 5.3 -16.5 -12.3 -1.4zM690.7 452.8l12.3 1.7 5.3 -16.8 -12.3 -1.5zM703.1 454.5l12.3 1.8 5.3 -16.9 -12.3 -1.6zM715.4 456.3l12.3 1.8 5.3 -17 -12.3 -1.8zM727.7 458.2l12.3 1.9 5.3 -16.9 -12.3 -1.9zM740.1 460l12.3 1.9 5.3 -16.9 -12.3 -1.9zM752.4 461.9l12.3 1.8 5.3 -16.8 -12.3 -1.9zM764.8 463.7l12.3 1.8 5.3 -16.8 -12.3 -1.8zM777.1 465.5l12.3 1.7 5.3 -16.8 -12.3 -1.7z"/><path fill="#1ae4b6" stroke="#1ae4b6" stroke-width="0.6" d="M168.1 474.3l12.3 5.6 5.3 -8.2 -12.3 -5.8zM185.8 471.8l12.3 5.9 5.3 -5.8 -12.3 -6.1zM214.1 461.7l12.3 6.3 5.3 -4.9 -12.3 -6.4zM242.4 453.4l12.3 6.6 5.3 -4.7 -12.3 -6.7zM276 441.7l12.3 7 5.3 -4.3 -12.3 -7.1zM281.3 437.4l12.3 7.1 5.3 -4.2 -12.3 -7.1zM315 427.4l12.3 7.1 5.3 -4.4 -12.3 -7.2zM320.3 423l12.3 7.2 5.3 -4.7 -12.3 -7.1zM343.3 419.8l12.3 6.3 5.3 -6.6 -12.3 -6.2zM360.9 419.5l12.3 5.4 5.3 -7.6 -12.3 -5.3zM378.6 417.4l12.3 5 5.3 -8.7 -12.3 -4.8zM408.6 418.2l12.3 4.5 5.3 -10 -12.3 -4.4zM463.3 424.4l12.3 3.6 5.3 -12.8 -12.3 -3.5zM555 432.9l12.3 1.9 5.3 -15.4 -12.3 -1.9zM567.3 434.8l12.3 1.4 5.3 -15.4 -12.3 -1.4zM579.7 436.2l12.3 1.3 5.3 -15.4 -12.3 -1.3zM592 437.5l12.3 1.5 5.3 -15.1 -12.3 -1.8zM604.3 439l12.3 1.1 5.3 -14.5 -12.3 -1.8zM616.7 440.1l12.3 0.8 5.3 -14.1 -12.3 -1.2zM629 441l12.3 2.7 5.3 -14.7 -12.3 -2.2zM641.4 443.7l12.3 3.1 5.3 -15.5 -12.3 -2.3zM653.7 446.8l12.3 2.6 5.3 -16 -12.3 -2.1z"/><path fill="#1ce6b4" stroke="#1ce6b4" stroke-width="0.6" d="M173.4 465.9l12.3 5.8 5.3 -5.9 -12.3 -6zM191.1 465.8l12.3 6.1 5.3 -5.2 -12.3 -6.2zM196.4 460.5l12.3 6.2 5.3 -4.9 -12.3 -6.3zM219.4 456.8l12.3 6.4 5.3 -4.9 -12.3 -6.5zM224.7 451.7l12.3 6.5 5.3 -4.8 -12.3 -6.6zM247.7 448.6l12.3 6.7 5.3 -4.6 -12.3 -6.8zM253 443.9l12.3 6.8 5.3 -4.5 -12.3 -6.9zM258.3 439.3l12.3 6.9 5.3 -4.4 -12.3 -7zM286.7 433.1l12.3 7.1 5.3 -4.2 -12.3 -7.2zM292 428.9l12.3 7.2 5.3 -4.3 -12.3 -7.3zM297.3 424.5l12.3 7.3 5.3 -4.4 -12.3 -7.4zM325.6 418.3l12.3 7.1 5.3 -5.7 -12.3 -7zM396.3 413.7l12.3 4.6 5.3 -9.9 -12.3 -4.4zM450.9 420.7l12.3 3.7 5.3 -12.7 -12.3 -3.6zM530.3 427.9l12.3 2.6 5.3 -15.3 -12.3 -2.5zM542.6 430.5l12.3 2.3 5.3 -15.3 -12.3 -2.3z"/><path fill="#1fe9af" stroke="#1fe9af" stroke-width="0.6" d="M178.8 459.8l12.3 6 5.3 -5.3 -12.3 -6.2zM201.7 455.4l12.3 6.3 5.3 -5 -12.3 -6.5zM230 446.8l12.3 6.6 5.3 -4.8 -12.3 -6.7zM235.4 441.9l12.3 6.7 5.3 -4.7 -12.3 -6.8zM263.7 434.7l12.3 7 5.3 -4.3 -12.3 -7.1zM269 430.3l12.3 7.1 5.3 -4.3 -12.3 -7.1zM302.6 420l12.3 7.4 5.3 -4.4 -12.3 -7.4zM307.9 415.6l12.3 7.4 5.3 -4.7 -12.3 -7.5zM330.9 412.7l12.3 7 5.3 -6.4 -12.3 -6.9zM348.6 413.3l12.3 6.2 5.3 -7.4 -12.3 -6zM366.3 412.1l12.3 5.3 5.3 -8.5 -12.3 -5.2zM438.6 416.9l12.3 3.8 5.3 -12.6 -12.3 -3.7zM505.6 422.1l12.3 3.1 5.3 -15.2 -12.3 -3zM518 425.2l12.3 2.7 5.3 -15.2 -12.3 -2.7z"/><path fill="#22ebaa" stroke="#22ebaa" stroke-width="0.6" d="M184.1 454.3l12.3 6.2 5.3 -5.1 -12.3 -6.3zM207.1 450.3l12.3 6.5 5.3 -5 -12.3 -6.6zM212.4 445.2l12.3 6.6 5.3 -5 -12.3 -6.7zM240.7 437.1l12.3 6.8 5.3 -4.6 -12.3 -6.9zM246 432.3l12.3 6.9 5.3 -4.5 -12.3 -7zM274.3 426l12.3 7.1 5.3 -4.2 -12.3 -7.2zM279.6 421.6l12.3 7.2 5.3 -4.3 -12.3 -7.3zM285 417.2l12.3 7.3 5.3 -4.5 -12.3 -7.4zM313.3 410.8l12.3 7.5 5.3 -5.6 -12.3 -7.4zM336.2 406.4l12.3 6.9 5.3 -7.3 -12.3 -6.8zM353.9 406l12.3 6 5.3 -8.4 -12.3 -6zM383.9 408.8l12.3 4.8 5.3 -9.7 -12.3 -4.7zM426.3 412.7l12.3 4.2 5.3 -12.5 -12.3 -4zM493.3 418.7l12.3 3.4 5.3 -15.1 -12.3 -3.4zM794.8 450.4l12.3 1.6 5.3 -17.5 -12.3 -1.5zM807.1 452l12.3 1.5 5.3 -17.5 -12.3 -1.5zM819.4 453.5l12.3 1.5 5.3 -17.6 -12.3 -1.4zM831.8 455.1l12.3 1.5 5.3 -17.7 -12.3 -1.4zM844.1 456.6l12.3 1.5 5.3 -17.8 -12.3 -1.4zM856.5 458.1l12.3 1.6 5.3 -17.9 -12.3 -1.5zM868.8 459.7l12.3 1.8 5.3 -18 -12.3 -1.7zM881.1 461.5l12.3 1.9 5.3 -18.1 -12.3 -1.8zM893.5 463.5l12.3 1.9 5.3 -18.2 -12.3 -1.8zM905.8 465.4l12.3 1.8 5.3 -18.3 -12.3 -1.7z"/><path fill="#25eca7" stroke="#25eca7" stroke-width="0.6" d="M189.4 449.1l12.3 6.3 5.3 -5.1 -12.3 -6.5zM194.7 443.8l12.3 6.5 5.3 -5.2 -12.3 -6.6zM217.7 440.1l12.3 6.7 5.3 -4.9 -12.3 -6.9zM223 435l12.3 6.9 5.3 -4.8 -12.3 -7zM251.3 427.7l12.3 7 5.3 -4.4 -12.3 -7.2zM256.7 423.2l12.3 7.2 5.3 -4.3 -12.3 -7.3zM290.3 412.6l12.3 7.4 5.3 -4.5 -12.3 -7.5zM295.6 408.1l12.3 7.5 5.3 -4.7 -12.3 -7.5zM318.6 405.3l12.3 7.4 5.3 -6.3 -12.3 -7.3zM371.6 403.7l12.3 5.2 5.3 -9.6 -12.3 -5.1zM413.9 408.4l12.3 4.4 5.3 -12.4 -12.3 -4.2zM468.6 411.7l12.3 3.5 5.3 -15 -12.3 -3.4zM480.9 415.2l12.3 3.5 5.3 -15 -12.3 -3.5zM609.7 423.9l12.3 1.8 5.3 -14.5 -12.3 -2.5zM622 425.7l12.3 1.2 5.3 -14.1 -12.3 -1.6zM634.3 426.8l12.3 2.2 5.3 -14.7 -12.3 -1.6zM646.7 429.1l12.3 2.3 5.3 -15.7 -12.3 -1.3zM659 431.3l12.3 2.1 5.3 -16.3 -12.3 -1.5zM671.4 433.4l12.3 1.4 5.3 -16.7 -12.3 -1zM683.7 434.8l12.3 1.4 5.3 -17 -12.3 -1.1zM696 436.2l12.3 1.5 5.3 -17.3 -12.3 -1.2zM708.4 437.8l12.3 1.6 5.3 -17.5 -12.3 -1.5zM720.7 439.4l12.3 1.8 5.3 -17.5 -12.3 -1.7zM733.1 441.2l12.3 1.9 5.3 -17.5 -12.3 -2zM745.4 443.1l12.3 1.9 5.3 -17.4 -12.3 -2zM757.7 445l12.3 1.9 5.3 -17.3 -12.3 -1.9zM770.1 446.9l12.3 1.8 5.3 -17.3 -12.3 -1.8zM782.4 448.7l12.3 1.7 5.3 -17.4 -12.3 -1.6z"/><path fill="#2aefa1" stroke="#2aefa1" stroke-width="0.6" d="M200 438.5l12.3 6.6 5.3 -5.1 -12.3 -6.8zM228.3 430.1l12.3 7 5.3 -4.7 -12.3 -7.2zM262 418.7l12.3 7.3 5.3 -4.3 -12.3 -7.4zM267.3 414.2l12.3 7.4 5.3 -4.4 -12.3 -7.5zM300.9 403.3l12.3 7.5 5.3 -5.5 -12.3 -7.5zM341.6 399.2l12.3 6.8 5.3 -8.3 -12.3 -6.8zM401.6 403.9l12.3 4.4 5.3 -12.2 -12.3 -4.3zM456.3 408.1l12.3 3.6 5.3 -14.9 -12.3 -3.5zM535.6 412.7l12.3 2.5 5.3 -15.4 -12.3 -2.5zM548 415.3l12.3 2.3 5.3 -15.4 -12.3 -2.2zM560.3 417.6l12.3 1.9 5.3 -15.5 -12.3 -1.8zM572.6 419.4l12.3 1.4 5.3 -15.6 -12.3 -1.3zM585 420.8l12.3 1.3 5.3 -15.6 -12.3 -1.3zM597.3 422.1l12.3 1.8 5.3 -15.2 -12.3 -2.1z"/><path fill="#2cf09e" stroke="#2cf09e" stroke-width="0.6" d="M205.4 433.3l12.3 6.8 5.3 -5 -12.3 -6.9zM210.7 428.1l12.3 6.9 5.3 -5 -12.3 -7.1zM233.7 425.2l12.3 7.2 5.3 -4.7 -12.3 -7.3zM239 420.4l12.3 7.3 5.3 -4.5 -12.3 -7.4zM272.6 409.7l12.3 7.5 5.3 -4.6 -12.3 -7.6zM277.9 405l12.3 7.6 5.3 -4.5 -12.3 -7.7zM306.2 397.9l12.3 7.5 5.3 -6.2 -12.3 -7.4zM323.9 399.1l12.3 7.3 5.3 -7.2 -12.3 -7.2zM359.2 397.7l12.3 6 5.3 -9.5 -12.3 -5.9zM389.2 399.2l12.3 4.7 5.3 -12.1 -12.3 -4.6zM443.9 404.4l12.3 3.7 5.3 -14.8 -12.3 -3.6zM510.9 407l12.3 3 5.3 -15.2 -12.3 -3zM523.3 410.1l12.3 2.7 5.3 -15.3 -12.3 -2.6z"/><path fill="#32f298" stroke="#32f298" stroke-width="0.6" d="M216 422.9l12.3 7.1 5.3 -4.9 -12.3 -7.3zM244.3 415.7l12.3 7.4 5.3 -4.5 -12.3 -7.6zM249.6 411.1l12.3 7.6 5.3 -4.5 -12.3 -7.7zM283.3 400.4l12.3 7.7 5.3 -4.8 -12.3 -7.8zM329.2 392l12.3 7.2 5.3 -8.3 -12.3 -7.2zM346.9 390.9l12.3 6.8 5.3 -9.4 -12.3 -6.7zM376.9 394.2l12.3 5.1 5.3 -12 -12.3 -5zM431.6 400.4l12.3 4 5.3 -14.7 -12.3 -3.9zM498.6 403.7l12.3 3.4 5.3 -15.1 -12.3 -3.3z"/><path fill="#38f491" stroke="#38f491" stroke-width="0.6" d="M221.3 417.9l12.3 7.3 5.3 -4.8 -12.3 -7.4zM226.7 412.9l12.3 7.4 5.3 -4.7 -12.3 -7.6zM255 406.5l12.3 7.7 5.3 -4.6 -12.3 -7.9zM260.3 401.8l12.3 7.9 5.3 -4.7 -12.3 -8zM288.6 395.5l12.3 7.8 5.3 -5.4 -12.3 -7.8zM311.6 391.7l12.3 7.4 5.3 -7.2 -12.3 -7.4zM419.2 396.1l12.3 4.2 5.3 -14.5 -12.3 -4.1zM473.9 396.8l12.3 3.4 5.3 -14.9 -12.3 -3.3zM486.3 400.2l12.3 3.5 5.3 -15 -12.3 -3.4zM627.3 411.2l12.3 1.6 5.3 -14.5 -12.3 -2zM639.7 412.8l12.3 1.6 5.3 -15.2 -12.3 -0.9zM652 414.3l12.3 1.3 5.3 -16.2 -12.3 -0.2zM911.1 447.1l12.3 1.7 5.3 -18.5 -12.3 -1.7z"/><path fill="#3cf58e" stroke="#3cf58e" stroke-width="0.6" d="M232 408.1l12.3 7.6 5.3 -4.6 -12.3 -7.8zM237.3 403.4l12.3 7.8 5.3 -4.6 -12.3 -7.9zM265.6 397l12.3 8 5.3 -4.6 -12.3 -8.1zM270.9 392.2l12.3 8.1 5.3 -4.9 -12.3 -8.2zM293.9 390.1l12.3 7.8 5.3 -6.1 -12.3 -7.7zM316.9 384.6l12.3 7.4 5.3 -8.3 -12.3 -7.4zM334.6 383.7l12.3 7.2 5.3 -9.4 -12.3 -7.2zM364.6 388.3l12.3 5.9 5.3 -11.9 -12.3 -5.8zM406.9 391.8l12.3 4.3 5.3 -14.4 -12.3 -4.2zM461.6 393.4l12.3 3.5 5.3 -14.8 -12.3 -3.3zM565.6 402.1l12.3 1.8 5.3 -16.1 -12.3 -1.8zM578 403.9l12.3 1.3 5.3 -16.2 -12.3 -1.2zM590.3 405.2l12.3 1.3 5.3 -16.1 -12.3 -1.3zM602.6 406.5l12.3 2.1 5.3 -15.8 -12.3 -2.5zM615 408.7l12.3 2.5 5.3 -15 -12.3 -3.3zM664.3 415.6l12.3 1.5 5.3 -16.8 -12.3 -0.8zM676.7 417.1l12.3 1 5.3 -17.2 -12.3 -0.7zM689 418.1l12.3 1.1 5.3 -17.5 -12.3 -0.8zM701.4 419.2l12.3 1.2 5.3 -17.8 -12.3 -1zM750.7 425.6l12.3 2 5.3 -17.8 -12.3 -2.1zM763.1 427.6l12.3 1.9 5.3 -17.7 -12.3 -2zM775.4 429.6l12.3 1.8 5.3 -17.7 -12.3 -1.8zM787.7 431.4l12.3 1.6 5.3 -17.7 -12.3 -1.6zM800.1 433l12.3 1.5 5.3 -17.8 -12.3 -1.5zM812.4 434.5l12.3 1.5 5.3 -17.9 -12.3 -1.4zM824.8 436l12.3 1.4 5.3 -17.9 -12.3 -1.3zM837.1 437.4l12.3 1.4 5.3 -18 -12.3 -1.3zM849.4 438.8l12.3 1.4 5.3 -18.1 -12.3 -1.4zM861.8 440.3l12.3 1.5 5.3 -18.2 -12.3 -1.4zM874.1 441.8l12.3 1.7 5.3 -18.3 -12.3 -1.6zM886.5 443.5l12.3 1.8 5.3 -18.4 -12.3 -1.7zM898.8 445.3l12.3 1.8 5.3 -18.4 -12.3 -1.8z"/><path fill="#43f787" stroke="#43f787" stroke-width="0.6" d="M242.6 398.6l12.3 7.9 5.3 -4.7 -12.3 -8.1zM276.2 387.3l12.3 8.2 5.3 -5.4 -12.3 -8.2zM299.2 384.1l12.3 7.7 5.3 -7.1 -12.3 -7.7zM352.2 381.6l12.3 6.7 5.3 -11.8 -12.3 -6.7zM394.6 387.2l12.3 4.6 5.3 -14.3 -12.3 -4.5zM449.2 389.7l12.3 3.6 5.3 -14.7 -12.3 -3.5zM528.6 394.9l12.3 2.6 5.3 -15.9 -12.3 -2.5zM540.9 397.4l12.3 2.5 5.3 -16 -12.3 -2.4zM553.3 399.9l12.3 2.2 5.3 -16 -12.3 -2.2zM713.7 420.5l12.3 1.5 5.3 -17.9 -12.3 -1.3zM726 421.9l12.3 1.7 5.3 -18 -12.3 -1.7zM738.4 423.7l12.3 2 5.3 -17.9 -12.3 -2z"/><path fill="#4af880" stroke="#4af880" stroke-width="0.6" d="M247.9 393.7l12.3 8.1 5.3 -4.8 -12.3 -8.3zM253.3 388.7l12.3 8.3 5.3 -4.8 -12.3 -8.4zM281.6 381.9l12.3 8.2 5.3 -6.1 -12.3 -8.2zM382.2 382.3l12.3 5 5.3 -14.2 -12.3 -4.9zM436.9 385.8l12.3 3.9 5.3 -14.6 -12.3 -3.8zM516.3 391.9l12.3 3 5.3 -15.9 -12.3 -2.9z"/><path fill="#4ef97d" stroke="#4ef97d" stroke-width="0.6" d="M258.6 383.8l12.3 8.4 5.3 -5 -12.3 -8.5zM286.9 375.9l12.3 8.2 5.3 -7.1 -12.3 -8.2zM304.6 376.9l12.3 7.7 5.3 -8.3 -12.3 -7.7zM322.2 376.4l12.3 7.4 5.3 -9.4 -12.3 -7.4zM369.9 376.4l12.3 5.8 5.3 -14.1 -12.3 -5.7zM412.2 377.5l12.3 4.2 5.3 -14.3 -12.3 -4.1zM424.6 381.7l12.3 4.1 5.3 -14.4 -12.3 -4zM491.6 385.3l12.3 3.4 5.3 -15.7 -12.3 -3.3zM503.9 388.6l12.3 3.3 5.3 -15.8 -12.3 -3.2zM645 398.3l12.3 0.9 5.3 -15.9 -12.3 -0.4z"/><path fill="#55fa76" stroke="#55fa76" stroke-width="0.6" d="M263.9 378.7l12.3 8.5 5.3 -5.4 -12.3 -8.6zM269.2 373.3l12.3 8.6 5.3 -6 -12.3 -8.5zM339.9 374.4l12.3 7.2 5.3 -11.8 -12.3 -7.2zM466.9 378.6l12.3 3.3 5.3 -15.5 -12.3 -3.2zM479.2 382l12.3 3.3 5.3 -15.6 -12.3 -3.2zM632.6 396.2l12.3 2 5.3 -15.4 -12.3 -2.6zM657.3 399.2l12.3 0.2 5.3 -16.8 -12.3 0.7zM904.1 427l12.3 1.8 5.3 -16.8 -12.3 -1.8zM916.5 428.7l12.3 1.7 5.3 -16.8 -12.3 -1.7z"/><path fill="#59fb73" stroke="#59fb73" stroke-width="0.6" d="M292.2 368.7l12.3 8.2 5.3 -8.3 -12.3 -8.3zM309.9 368.7l12.3 7.7 5.3 -9.4 -12.3 -7.7zM357.5 369.7l12.3 6.7 5.3 -14.1 -12.3 -6.7zM399.9 373l12.3 4.5 5.3 -14.2 -12.3 -4.4zM454.6 375.2l12.3 3.5 5.3 -15.4 -12.3 -3.4zM570.9 386.1l12.3 1.8 5.3 -17.4 -12.3 -1.8zM583.3 387.8l12.3 1.2 5.3 -17.3 -12.3 -1.3zM595.6 389.1l12.3 1.3 5.3 -17.2 -12.3 -1.5zM608 390.4l12.3 2.5 5.3 -16.8 -12.3 -2.9zM620.3 392.9l12.3 3.3 5.3 -15.9 -12.3 -4.2zM669.7 399.4l12.3 0.8 5.3 -17.2 -12.3 -0.4zM682 400.2l12.3 0.7 5.3 -17.5 -12.3 -0.4zM694.3 400.9l12.3 0.8 5.3 -17.7 -12.3 -0.6zM756 407.7l12.3 2.1 5.3 -17.5 -12.3 -2.3zM768.4 409.9l12.3 2 5.3 -17.3 -12.3 -2.2zM780.7 411.9l12.3 1.8 5.3 -17.1 -12.3 -1.9zM793.1 413.7l12.3 1.6 5.3 -17.1 -12.3 -1.7zM805.4 415.3l12.3 1.5 5.3 -17 -12.3 -1.5zM817.7 416.8l12.3 1.4 5.3 -17 -12.3 -1.4zM830.1 418.1l12.3 1.3 5.3 -17 -12.3 -1.4zM842.4 419.5l12.3 1.3 5.3 -16.9 -12.3 -1.4zM854.8 420.8l12.3 1.4 5.3 -16.9 -12.3 -1.4zM867.1 422.2l12.3 1.4 5.3 -16.9 -12.3 -1.5zM879.4 423.6l12.3 1.6 5.3 -16.9 -12.3 -1.6zM891.8 425.2l12.3 1.7 5.3 -16.9 -12.3 -1.8z"/><path fill="#61fc6c" stroke="#61fc6c" stroke-width="0.6" d="M274.5 367.3l12.3 8.5 5.3 -7.1 -12.3 -8.6zM327.5 367l12.3 7.4 5.3 -11.8 -12.3 -7.4zM387.5 368.1l12.3 4.9 5.3 -14 -12.3 -4.8zM442.2 371.4l12.3 3.8 5.3 -15.3 -12.3 -3.6zM533.9 379l12.3 2.5 5.3 -17.5 -12.3 -2.6zM546.3 381.5l12.3 2.4 5.3 -17.5 -12.3 -2.5zM558.6 383.9l12.3 2.2 5.3 -17.4 -12.3 -2.2zM706.7 401.7l12.3 1 5.3 -17.8 -12.3 -0.8zM719 402.7l12.3 1.3 5.3 -17.9 -12.3 -1.2zM731.4 404l12.3 1.7 5.3 -17.8 -12.3 -1.8zM743.7 405.7l12.3 2 5.3 -17.7 -12.3 -2.2z"/><path fill="#69fd66" stroke="#69fd66" stroke-width="0.6" d="M297.5 360.4l12.3 8.3 5.3 -9.4 -12.3 -8.3zM345.2 362.6l12.3 7.2 5.3 -14 -12.3 -7.2zM375.2 362.4l12.3 5.7 5.3 -13.9 -12.3 -5.7zM429.9 367.4l12.3 4 5.3 -15.2 -12.3 -3.8zM521.6 376.1l12.3 2.9 5.3 -17.6 -12.3 -2.9z"/><path fill="#6dfe62" stroke="#6dfe62" stroke-width="0.6" d="M279.9 360.2l12.3 8.6 5.3 -8.3 -12.3 -8.7zM315.2 359.3l12.3 7.7 5.3 -11.8 -12.3 -7.8zM417.5 363.4l12.3 4.1 5.3 -15.1 -12.3 -4zM496.9 369.6l12.3 3.3 5.3 -17.7 -12.3 -3.3zM509.2 372.9l12.3 3.2 5.3 -17.6 -12.3 -3.2z"/><path fill="#75fe5c" stroke="#75fe5c" stroke-width="0.6" d="M362.9 355.7l12.3 6.7 5.3 -13.8 -12.3 -6.6zM405.2 359l12.3 4.4 5.3 -14.9 -12.3 -4.2zM484.6 366.4l12.3 3.2 5.3 -17.7 -12.3 -3.2zM638 380.4l12.3 2.6 5.3 -17.7 -12.3 -3zM650.3 382.9l12.3 0.4 5.3 -18.1 -12.3 0zM662.6 383.3l12.3 -0.7 5.3 -18.8 -12.3 1.4z"/><path fill="#79fe59" stroke="#79fe59" stroke-width="0.6" d="M285.2 351.8l12.3 8.7 5.3 -9.4 -12.3 -8.7zM302.9 351l12.3 8.3 5.3 -11.9 -12.3 -8.4zM332.9 355.2l12.3 7.4 5.3 -14 -12.3 -7.4zM392.9 354.2l12.3 4.8 5.3 -14.8 -12.3 -4.7zM459.9 359.8l12.3 3.4 5.3 -17.7 -12.3 -3.4zM472.2 363.2l12.3 3.2 5.3 -17.7 -12.3 -3.2zM625.6 376.1l12.3 4.2 5.3 -18.2 -12.3 -5zM675 382.6l12.3 0.4 5.3 -19.2 -12.3 0zM798.4 396.5l12.3 1.7 5.3 -18.8 -12.3 -1.8zM810.7 398.2l12.3 1.5 5.3 -18.8 -12.3 -1.6zM823.1 399.7l12.3 1.4 5.3 -18.7 -12.3 -1.5zM835.4 401.2l12.3 1.4 5.3 -18.7 -12.3 -1.4zM847.7 402.5l12.3 1.4 5.3 -18.6 -12.3 -1.4zM860.1 403.9l12.3 1.4 5.3 -18.6 -12.3 -1.4zM872.4 405.3l12.3 1.5 5.3 -18.5 -12.3 -1.5zM884.8 406.7l12.3 1.6 5.3 -18.5 -12.3 -1.7zM897.1 408.3l12.3 1.8 5.3 -18.4 -12.3 -1.8zM909.4 410.1l12.3 1.8 5.3 -18.4 -12.3 -1.8zM921.8 411.9l12.3 1.7 5.3 -18.3 -12.3 -1.8z"/><path fill="#80ff53" stroke="#80ff53" stroke-width="0.6" d="M350.5 348.5l12.3 7.2 5.3 -13.8 -12.3 -7.2zM380.5 348.6l12.3 5.7 5.3 -14.7 -12.3 -5.6zM447.5 356.2l12.3 3.6 5.3 -17.7 -12.3 -3.6zM576.3 368.6l12.3 1.8 5.3 -19.6 -12.3 -1.9zM588.6 370.4l12.3 1.3 5.3 -19.5 -12.3 -1.3zM600.9 371.7l12.3 1.5 5.3 -19.4 -12.3 -1.6zM613.3 373.2l12.3 2.9 5.3 -19 -12.3 -3.4zM687.3 383l12.3 0.4 5.3 -19.4 -12.3 -0.3zM699.7 383.4l12.3 0.6 5.3 -19.5 -12.3 -0.5zM712 384.1l12.3 0.8 5.3 -19.6 -12.3 -0.7zM761.4 390.1l12.3 2.3 5.3 -19.2 -12.3 -2.5zM773.7 392.4l12.3 2.2 5.3 -19.1 -12.3 -2.4zM786 394.6l12.3 1.9 5.3 -18.9 -12.3 -2.1z"/><path fill="#88ff4e" stroke="#88ff4e" stroke-width="0.6" d="M320.5 347.4l12.3 7.8 5.3 -14.1 -12.3 -7.8zM435.2 352.4l12.3 3.8 5.3 -17.7 -12.3 -3.8zM539.2 361.4l12.3 2.6 5.3 -19.8 -12.3 -2.6zM551.6 364l12.3 2.5 5.3 -19.7 -12.3 -2.5zM563.9 366.4l12.3 2.2 5.3 -19.7 -12.3 -2.3zM724.3 384.9l12.3 1.2 5.3 -19.7 -12.3 -1.2zM736.7 386.1l12.3 1.8 5.3 -19.6 -12.3 -1.8zM749 387.9l12.3 2.2 5.3 -19.4 -12.3 -2.3z"/><path fill="#8bff4b" stroke="#8bff4b" stroke-width="0.6" d="M290.5 342.2l12.3 8.7 5.3 -11.9 -12.3 -8.8zM338.2 341.1l12.3 7.4 5.3 -13.8 -12.3 -7.4zM368.2 341.9l12.3 6.6 5.3 -14.7 -12.3 -6.6zM422.9 348.4l12.3 4 5.3 -17.6 -12.3 -3.9zM526.9 358.5l12.3 2.9 5.3 -19.9 -12.3 -3z"/><path fill="#92ff47" stroke="#92ff47" stroke-width="0.6" d="M308.2 339l12.3 8.4 5.3 -14.1 -12.3 -8.4zM410.5 344.2l12.3 4.2 5.3 -17.6 -12.3 -4.2zM502.2 352l12.3 3.3 5.3 -20 -12.3 -3.3zM514.6 355.2l12.3 3.2 5.3 -19.9 -12.3 -3.3z"/><path fill="#96fe44" stroke="#96fe44" stroke-width="0.6" d="M355.8 334.8l12.3 7.2 5.3 -14.6 -12.3 -7.2zM398.2 339.5l12.3 4.7 5.3 -17.6 -12.3 -4.7zM489.9 348.7l12.3 3.2 5.3 -20 -12.3 -3.2zM655.6 365.2l12.3 0 5.3 -21.2 -12.3 0.4z"/><path fill="#9cfe40" stroke="#9cfe40" stroke-width="0.6" d="M325.8 333.3l12.3 7.8 5.3 -13.8 -12.3 -7.8zM465.2 342.2l12.3 3.4 5.3 -20.1 -12.3 -3.4zM477.5 345.5l12.3 3.2 5.3 -20.1 -12.3 -3.3zM643.3 362.2l12.3 3 5.3 -20.8 -12.3 -3.2zM668 365.2l12.3 -1.4 5.3 -21.8 -12.3 1.9z"/><path fill="#a1fd3d" stroke="#a1fd3d" stroke-width="0.6" d="M295.8 330.2l12.3 8.8 5.3 -14.2 -12.3 -8.9zM343.5 327.4l12.3 7.4 5.3 -14.6 -12.3 -7.4zM385.8 333.9l12.3 5.6 5.3 -17.6 -12.3 -5.6zM452.9 338.5l12.3 3.6 5.3 -20.1 -12.3 -3.6zM630.9 357.2l12.3 5 5.3 -21 -12.3 -5.4zM680.3 363.8l12.3 0 5.3 -22.1 -12.3 0.4zM692.6 363.8l12.3 0.3 5.3 -22.4 -12.3 0zM803.7 377.6l12.3 1.8 5.3 -22.9 -12.3 -1.8zM816 379.4l12.3 1.6 5.3 -22.9 -12.3 -1.5zM828.4 381l12.3 1.5 5.3 -23 -12.3 -1.4zM840.7 382.4l12.3 1.4 5.3 -23.1 -12.3 -1.4zM853.1 383.9l12.3 1.4 5.3 -23.1 -12.3 -1.3zM865.4 385.3l12.3 1.4 5.3 -23.2 -12.3 -1.4zM877.7 386.7l12.3 1.5 5.3 -23.3 -12.3 -1.4zM890.1 388.2l12.3 1.7 5.3 -23.3 -12.3 -1.6zM902.4 389.9l12.3 1.8 5.3 -23.4 -12.3 -1.7zM914.8 391.7l12.3 1.8 5.3 -23.5 -12.3 -1.8zM927.1 393.5l12.3 1.8 5.3 -23.5 -12.3 -1.7z"/><path fill="#a4fc3c" stroke="#a4fc3c" stroke-width="0.6" d="M313.5 324.9l12.3 8.4 5.3 -13.8 -12.3 -8.5zM373.5 327.3l12.3 6.6 5.3 -17.7 -12.3 -6.7zM440.5 334.7l12.3 3.8 5.3 -20.1 -12.3 -3.8zM569.2 346.7l12.3 2.3 5.3 -21.6 -12.3 -2.3zM581.6 349l12.3 1.9 5.3 -21.6 -12.3 -1.8zM593.9 350.9l12.3 1.3 5.3 -21.6 -12.3 -1.3zM606.3 352.2l12.3 1.6 5.3 -21.6 -12.3 -1.6zM618.6 353.8l12.3 3.4 5.3 -21.5 -12.3 -3.5zM705 364l12.3 0.5 5.3 -22.6 -12.3 -0.3zM717.3 364.5l12.3 0.7 5.3 -22.7 -12.3 -0.5zM766.7 370.7l12.3 2.5 5.3 -22.9 -12.3 -2.5zM779 373.2l12.3 2.4 5.3 -22.8 -12.3 -2.4zM791.4 375.5l12.3 2.1 5.3 -22.8 -12.3 -2.1z"/><path fill="#a9fb39" stroke="#a9fb39" stroke-width="0.6" d="M428.2 330.8l12.3 3.9 5.3 -20.1 -12.3 -3.9zM532.2 338.5l12.3 3 5.3 -21.4 -12.3 -2.9zM544.6 341.5l12.3 2.6 5.3 -21.5 -12.3 -2.6zM556.9 344.1l12.3 2.5 5.3 -21.5 -12.3 -2.5zM729.7 365.3l12.3 1.2 5.3 -22.9 -12.3 -1.1zM742 366.5l12.3 1.8 5.3 -22.9 -12.3 -1.8zM754.3 368.3l12.3 2.3 5.3 -22.9 -12.3 -2.4z"/><path fill="#affa37" stroke="#affa37" stroke-width="0.6" d="M331.2 319.5l12.3 7.8 5.3 -14.6 -12.3 -7.9zM361.2 320.1l12.3 7.2 5.3 -17.8 -12.3 -7.3zM415.8 326.5l12.3 4.2 5.3 -20.1 -12.3 -4.3zM519.9 335.3l12.3 3.3 5.3 -21.4 -12.3 -3.2z"/><path fill="#b1f936" stroke="#b1f936" stroke-width="0.6" d="M301.2 316l12.3 8.9 5.3 -13.8 -12.3 -9zM403.5 321.8l12.3 4.7 5.3 -20.1 -12.3 -4.7zM495.2 328.7l12.3 3.2 5.3 -21.3 -12.3 -3.2zM507.5 331.9l12.3 3.3 5.3 -21.3 -12.3 -3.3z"/><path fill="#b7f735" stroke="#b7f735" stroke-width="0.6" d="M318.8 311l12.3 8.5 5.3 -14.7 -12.3 -8.5zM482.9 325.4l12.3 3.3 5.3 -21.2 -12.3 -3.2zM648.6 341.1l12.3 3.2 5.3 -21.8 -12.3 -3.3zM660.9 344.4l12.3 -0.4 5.3 -21.9 -12.3 0.5zM673.3 344l12.3 -1.9 5.3 -22.1 -12.3 2.1z"/><path fill="#b9f635" stroke="#b9f635" stroke-width="0.6" d="M348.8 312.7l12.3 7.4 5.3 -17.9 -12.3 -7.5zM391.2 316.2l12.3 5.6 5.3 -20.2 -12.3 -5.7zM458.2 318.4l12.3 3.6 5.3 -21 -12.3 -3.5zM470.5 322l12.3 3.4 5.3 -21.1 -12.3 -3.3z"/><path fill="#bef434" stroke="#bef434" stroke-width="0.6" d="M445.8 314.6l12.3 3.8 5.3 -20.9 -12.3 -3.7zM599.2 329.3l12.3 1.3 5.3 -22 -12.3 -1.3zM611.6 330.6l12.3 1.6 5.3 -22 -12.3 -1.6zM623.9 332.2l12.3 3.5 5.3 -22 -12.3 -3.6zM636.3 335.7l12.3 5.4 5.3 -21.9 -12.3 -5.5zM685.6 342l12.3 -0.4 5.3 -22.3 -12.3 0.5zM698 341.6l12.3 0 5.3 -22.4 -12.3 0.1zM809 354.8l12.3 1.8 5.3 -22.8 -12.3 -1.7zM821.4 356.5l12.3 1.5 5.3 -22.8 -12.3 -1.5zM833.7 358l12.3 1.4 5.3 -22.9 -12.3 -1.4zM846 359.4l12.3 1.4 5.3 -22.9 -12.3 -1.3zM858.4 360.8l12.3 1.3 5.3 -23 -12.3 -1.3zM870.7 362.1l12.3 1.4 5.3 -23 -12.3 -1.3zM883.1 363.5l12.3 1.4 5.3 -23 -12.3 -1.4zM895.4 364.9l12.3 1.6 5.3 -23.1 -12.3 -1.5zM907.7 366.5l12.3 1.7 5.3 -23.1 -12.3 -1.7zM920.1 368.3l12.3 1.8 5.3 -23.2 -12.3 -1.7zM932.4 370l12.3 1.7 5.3 -23.2 -12.3 -1.7z"/><path fill="#c3f134" stroke="#c3f134" stroke-width="0.6" d="M306.5 302.1l12.3 9 5.3 -14.7 -12.3 -9.1zM336.5 304.9l12.3 7.9 5.3 -18 -12.3 -8zM378.8 309.5l12.3 6.7 5.3 -20.2 -12.3 -6.8zM433.5 310.6l12.3 3.9 5.3 -20.8 -12.3 -3.8zM562.2 322.7l12.3 2.5 5.3 -22 -12.3 -2.5zM574.6 325.2l12.3 2.3 5.3 -22 -12.3 -2.3zM586.9 327.4l12.3 1.8 5.3 -22 -12.3 -1.8zM710.3 341.7l12.3 0.3 5.3 -22.5 -12.3 -0.2zM722.6 342l12.3 0.5 5.3 -22.6 -12.3 -0.4zM772 347.8l12.3 2.5 5.3 -22.7 -12.3 -2.5zM784.3 350.3l12.3 2.4 5.3 -22.7 -12.3 -2.4zM796.7 352.7l12.3 2.1 5.3 -22.8 -12.3 -2z"/><path fill="#c6f034" stroke="#c6f034" stroke-width="0.6" d="M421.2 306.4l12.3 4.3 5.3 -20.7 -12.3 -4.2zM537.5 317.1l12.3 2.9 5.3 -21.9 -12.3 -2.9zM549.9 320.1l12.3 2.6 5.3 -22 -12.3 -2.6zM735 342.5l12.3 1.1 5.3 -22.7 -12.3 -1zM747.3 343.6l12.3 1.8 5.3 -22.7 -12.3 -1.8zM759.7 345.4l12.3 2.4 5.3 -22.7 -12.3 -2.3z"/><path fill="#cbed34" stroke="#cbed34" stroke-width="0.6" d="M366.5 302.3l12.3 7.3 5.3 -20.3 -12.3 -7.4zM408.8 301.6l12.3 4.7 5.3 -20.6 -12.3 -4.6zM512.9 310.7l12.3 3.3 5.3 -21.9 -12.3 -3.2zM525.2 313.9l12.3 3.2 5.3 -21.9 -12.3 -3.2z"/><path fill="#cdec34" stroke="#cdec34" stroke-width="0.6" d="M324.1 296.3l12.3 8.5 5.3 -18.1 -12.3 -8.7zM500.5 307.5l12.3 3.2 5.3 -21.8 -12.3 -3.1zM666.3 322.5l12.3 -0.5 5.3 -21.8 -12.3 0.4z"/><path fill="#d2e935" stroke="#d2e935" stroke-width="0.6" d="M354.1 294.7l12.3 7.5 5.3 -20.5 -12.3 -7.7zM396.5 296l12.3 5.7 5.3 -20.5 -12.3 -5.6zM475.8 301.1l12.3 3.3 5.3 -21.7 -12.3 -3.2zM488.2 304.3l12.3 3.2 5.3 -21.8 -12.3 -3.1zM653.9 319.3l12.3 3.3 5.3 -21.9 -12.3 -3.3zM678.6 322l12.3 -2.1 5.3 -21.7 -12.3 2z"/><path fill="#d7e535" stroke="#d7e535" stroke-width="0.6" d="M311.8 287.2l12.3 9.1 5.3 -18.3 -12.3 -9.3zM463.5 297.5l12.3 3.5 5.3 -21.6 -12.3 -3.4zM641.6 313.7l12.3 5.5 5.3 -21.9 -12.3 -5.6zM690.9 319.9l12.3 -0.5 5.3 -21.6 -12.3 0.5zM937.8 346.9l12.3 1.7 5.3 -20.6 -12.3 -1.8z"/><path fill="#d9e436" stroke="#d9e436" stroke-width="0.6" d="M341.8 286.7l12.3 8 5.3 -20.6 -12.3 -8.2zM384.1 289.2l12.3 6.8 5.3 -20.4 -12.3 -6.7zM451.2 293.8l12.3 3.7 5.3 -21.6 -12.3 -3.6zM592.2 305.5l12.3 1.8 5.3 -22.1 -12.3 -1.9zM604.6 307.3l12.3 1.3 5.3 -22.1 -12.3 -1.3zM616.9 308.6l12.3 1.6 5.3 -22 -12.3 -1.6zM629.2 310.1l12.3 3.6 5.3 -21.9 -12.3 -3.7zM703.3 319.3l12.3 -0.1 5.3 -21.6 -12.3 0zM715.6 319.3l12.3 0.2 5.3 -21.5 -12.3 -0.2zM789.7 327.6l12.3 2.4 5.3 -21.3 -12.3 -2.4zM802 329.9l12.3 2 5.3 -21.2 -12.3 -2.1zM814.4 332l12.3 1.7 5.3 -21.2 -12.3 -1.8zM826.7 333.7l12.3 1.5 5.3 -21.1 -12.3 -1.6zM839 335.2l12.3 1.4 5.3 -21.1 -12.3 -1.4zM851.4 336.6l12.3 1.3 5.3 -21 -12.3 -1.4zM863.7 337.9l12.3 1.3 5.3 -21 -12.3 -1.4zM876.1 339.2l12.3 1.3 5.3 -20.9 -12.3 -1.4zM888.4 340.5l12.3 1.4 5.3 -20.9 -12.3 -1.4zM900.7 341.9l12.3 1.5 5.3 -20.8 -12.3 -1.6zM913.1 343.4l12.3 1.7 5.3 -20.8 -12.3 -1.7zM925.4 345.1l12.3 1.7 5.3 -20.7 -12.3 -1.8z"/><path fill="#dde037" stroke="#dde037" stroke-width="0.6" d="M438.8 290l12.3 3.8 5.3 -21.5 -12.3 -3.8zM567.6 300.7l12.3 2.5 5.3 -22.3 -12.3 -2.6zM579.9 303.2l12.3 2.3 5.3 -22.2 -12.3 -2.4zM728 319.5l12.3 0.4 5.3 -21.5 -12.3 -0.5zM740.3 319.9l12.3 1 5.3 -21.5 -12.3 -1zM752.6 320.9l12.3 1.8 5.3 -21.4 -12.3 -1.8zM765 322.7l12.3 2.3 5.3 -21.4 -12.3 -2.4zM777.3 325l12.3 2.5 5.3 -21.3 -12.3 -2.6z"/><path fill="#dfdf37" stroke="#dfdf37" stroke-width="0.6" d="M371.8 281.8l12.3 7.4 5.3 -20.4 -12.3 -7.4zM426.5 285.8l12.3 4.2 5.3 -21.4 -12.3 -4.1zM542.9 295.2l12.3 2.9 5.3 -22.4 -12.3 -3zM555.2 298.2l12.3 2.6 5.3 -22.4 -12.3 -2.6z"/><path fill="#e3db38" stroke="#e3db38" stroke-width="0.6" d="M329.5 278l12.3 8.7 5.3 -20.8 -12.3 -8.9zM414.1 281.2l12.3 4.6 5.3 -21.3 -12.3 -4.6zM518.2 288.8l12.3 3.2 5.3 -22.6 -12.3 -3.3zM530.5 292.1l12.3 3.2 5.3 -22.5 -12.3 -3.2z"/><path fill="#e7d739" stroke="#e7d739" stroke-width="0.6" d="M359.5 274.1l12.3 7.7 5.3 -20.4 -12.3 -7.7zM401.8 275.5l12.3 5.6 5.3 -21.3 -12.3 -5.6zM505.9 285.7l12.3 3.1 5.3 -22.6 -12.3 -3.2z"/><path fill="#e9d539" stroke="#e9d539" stroke-width="0.6" d="M481.2 279.4l12.3 3.2 5.3 -22.7 -12.3 -3.2zM493.5 282.6l12.3 3.1 5.3 -22.7 -12.3 -3.1zM671.6 300.7l12.3 -0.4 5.3 -26 -12.3 0.4z"/><path fill="#ecd13a" stroke="#ecd13a" stroke-width="0.6" d="M317.1 268.8l12.3 9.3 5.3 -21 -12.3 -9.5zM389.5 268.8l12.3 6.7 5.3 -21.2 -12.3 -6.8zM468.8 276l12.3 3.4 5.3 -22.7 -12.3 -3.5zM659.3 297.4l12.3 3.3 5.3 -26 -12.3 -3.3zM683.9 300.2l12.3 -2 5.3 -26 -12.3 2z"/><path fill="#efcd3a" stroke="#efcd3a" stroke-width="0.6" d="M347.1 266l12.3 8.2 5.3 -20.5 -12.3 -8.2zM456.5 272.3l12.3 3.6 5.3 -22.7 -12.3 -3.7zM696.3 298.2l12.3 -0.5 5.3 -25.9 -12.3 0.4z"/><path fill="#f1cb3a" stroke="#f1cb3a" stroke-width="0.6" d="M377.1 261.4l12.3 7.4 5.3 -21.3 -12.3 -7.5zM444.2 268.6l12.3 3.8 5.3 -22.8 -12.3 -3.8zM609.9 285.2l12.3 1.3 5.3 -26 -12.3 -1.4zM622.2 286.5l12.3 1.6 5.3 -25.9 -12.3 -1.6zM634.6 288.1l12.3 3.7 5.3 -26 -12.3 -3.7zM646.9 291.8l12.3 5.6 5.3 -26 -12.3 -5.5zM708.6 297.7l12.3 0 5.3 -26 -12.3 0zM721 297.7l12.3 0.2 5.3 -26 -12.3 -0.2zM807.3 308.7l12.3 2.1 5.3 -26.1 -12.3 -2.1zM819.7 310.7l12.3 1.8 5.3 -26.1 -12.3 -1.8zM832 312.5l12.3 1.6 5.3 -26.1 -12.3 -1.5zM844.4 314.1l12.3 1.4 5.3 -26.1 -12.3 -1.4zM856.7 315.5l12.3 1.4 5.3 -26.1 -12.3 -1.4zM869 316.9l12.3 1.4 5.3 -26.1 -12.3 -1.4zM881.4 318.2l12.3 1.4 5.3 -26.1 -12.3 -1.4zM893.7 319.6l12.3 1.4 5.3 -26.1 -12.3 -1.4zM906.1 321l12.3 1.6 5.3 -26.2 -12.3 -1.6zM918.4 322.6l12.3 1.7 5.3 -26.2 -12.3 -1.7zM930.7 324.4l12.3 1.8 5.3 -26.2 -12.3 -1.8zM943.1 326.2l12.3 1.8 5.3 -26.2 -12.3 -1.8z"/><path fill="#f4c73a" stroke="#f4c73a" stroke-width="0.6" d="M334.8 257l12.3 8.9 5.3 -20.5 -12.3 -9zM431.8 264.5l12.3 4.1 5.3 -22.8 -12.3 -4.1zM572.9 278.3l12.3 2.6 5.3 -26 -12.3 -2.6zM585.2 280.9l12.3 2.4 5.3 -26 -12.3 -2.4zM597.6 283.2l12.3 1.9 5.3 -26 -12.3 -1.9zM733.3 298l12.3 0.5 5.3 -26 -12.3 -0.4zM745.6 298.4l12.3 1 5.3 -26 -12.3 -1zM758 299.5l12.3 1.8 5.3 -26.1 -12.3 -1.8zM770.3 301.3l12.3 2.4 5.3 -26.1 -12.3 -2.4zM782.7 303.6l12.3 2.6 5.3 -26.1 -12.3 -2.6zM795 306.2l12.3 2.4 5.3 -26.1 -12.3 -2.4z"/><path fill="#f5c53a" stroke="#f5c53a" stroke-width="0.6" d="M419.5 259.9l12.3 4.6 5.3 -22.8 -12.3 -4.6zM548.2 272.7l12.3 3 5.3 -26 -12.3 -3zM560.5 275.7l12.3 2.6 5.3 -26 -12.3 -2.6z"/><path fill="#f7c13a" stroke="#f7c13a" stroke-width="0.6" d="M364.8 253.7l12.3 7.7 5.3 -21.3 -12.3 -7.8zM407.1 254.3l12.3 5.6 5.3 -22.8 -12.3 -5.7zM535.9 269.5l12.3 3.2 5.3 -26.1 -12.3 -3.2z"/><path fill="#f9bc39" stroke="#f9bc39" stroke-width="0.6" d="M322.4 247.6l12.3 9.5 5.3 -20.6 -12.3 -9.6zM511.2 263l12.3 3.2 5.3 -26.1 -12.3 -3.1zM523.5 266.2l12.3 3.3 5.3 -26.1 -12.3 -3.3z"/><path fill="#faba39" stroke="#faba39" stroke-width="0.6" d="M352.4 245.4l12.3 8.2 5.3 -21.4 -12.3 -8.3zM394.8 247.5l12.3 6.8 5.3 -22.9 -12.3 -6.9zM486.5 256.7l12.3 3.2 5.3 -26 -12.3 -3.2zM498.8 259.9l12.3 3.1 5.3 -26 -12.3 -3.1z"/><path fill="#fbb637" stroke="#fbb637" stroke-width="0.6" d="M474.2 253.2l12.3 3.5 5.3 -26 -12.3 -3.4z"/><path fill="#fcb336" stroke="#fcb336" stroke-width="0.6" d="M382.5 240.1l12.3 7.5 5.3 -23 -12.3 -7.6zM461.8 249.6l12.3 3.7 5.3 -25.9 -12.3 -3.6z"/><path fill="#fdae35" stroke="#fdae35" stroke-width="0.6" d="M340.1 236.4l12.3 9 5.3 -21.4 -12.3 -9.1zM449.5 245.8l12.3 3.8 5.3 -25.9 -12.3 -3.7zM664.6 271.4l12.3 3.3 5.3 -33.6 -12.3 -2.1zM676.9 274.6l12.3 -0.4 5.3 -32.4 -12.3 -0.8zM689.3 274.2l12.3 -2 5.3 -30.3 -12.3 0z"/><path fill="#fea933" stroke="#fea933" stroke-width="0.6" d="M437.1 241.7l12.3 4.1 5.3 -25.8 -12.3 -4.1zM652.2 265.8l12.3 5.5 5.3 -32.4 -12.3 -3.6zM701.6 272.2l12.3 -0.4 5.3 -29.2 -12.3 -0.7zM713.9 271.8l12.3 0 5.3 -28.7 -12.3 -0.5zM812.7 282.6l12.3 2.1 5.3 -29.4 -12.3 -1.8zM825 284.6l12.3 1.8 5.3 -29.5 -12.3 -1.6zM837.3 286.4l12.3 1.5 5.3 -29.6 -12.3 -1.5zM849.7 287.9l12.3 1.4 5.3 -29.6 -12.3 -1.4zM862 289.4l12.3 1.4 5.3 -29.7 -12.3 -1.3zM874.4 290.7l12.3 1.4 5.3 -29.7 -12.3 -1.3zM886.7 292.1l12.3 1.4 5.3 -29.7 -12.3 -1.4zM899 293.5l12.3 1.4 5.3 -29.7 -12.3 -1.4zM911.4 294.9l12.3 1.6 5.3 -29.7 -12.3 -1.6zM923.7 296.5l12.3 1.7 5.3 -29.7 -12.3 -1.7zM936.1 298.2l12.3 1.8 5.3 -29.7 -12.3 -1.8zM948.4 300l12.3 1.8 5.3 -29.7 -12.3 -1.8z"/><path fill="#fea732" stroke="#fea732" stroke-width="0.6" d="M370.1 232.3l12.3 7.8 5.3 -23.2 -12.3 -7.9zM424.8 237l12.3 4.6 5.3 -25.8 -12.3 -4.6zM590.5 254.9l12.3 2.4 5.3 -29.4 -12.3 -2.4zM602.9 257.3l12.3 1.9 5.3 -29.4 -12.3 -1.9zM615.2 259.2l12.3 1.4 5.3 -29.4 -12.3 -1.3zM627.6 260.5l12.3 1.6 5.3 -29.6 -12.3 -1.4zM639.9 262.2l12.3 3.7 5.3 -30.5 -12.3 -2.7zM726.3 271.8l12.3 0.2 5.3 -28.3 -12.3 -0.6zM738.6 272l12.3 0.4 5.3 -28 -12.3 -0.7zM751 272.4l12.3 1 5.3 -27.9 -12.3 -1.1zM763.3 273.4l12.3 1.8 5.3 -28.1 -12.3 -1.6zM775.6 275.2l12.3 2.4 5.3 -28.4 -12.3 -2zM788 277.6l12.3 2.6 5.3 -28.8 -12.3 -2.2zM800.3 280.1l12.3 2.4 5.3 -29.2 -12.3 -2.1z"/><path fill="#fea130" stroke="#fea130" stroke-width="0.6" d="M327.8 226.9l12.3 9.6 5.3 -21.5 -12.3 -9.7zM412.5 231.3l12.3 5.7 5.3 -25.8 -12.3 -5.7zM565.9 249.7l12.3 2.6 5.3 -29.4 -12.3 -2.6zM578.2 252.3l12.3 2.6 5.3 -29.4 -12.3 -2.6z"/><path fill="#fe9e2f" stroke="#fe9e2f" stroke-width="0.6" d="M357.8 224l12.3 8.3 5.3 -23.3 -12.3 -8.5zM541.2 243.4l12.3 3.2 5.3 -29.4 -12.3 -3.2zM553.5 246.7l12.3 3 5.3 -29.4 -12.3 -3z"/><path fill="#fe992c" stroke="#fe992c" stroke-width="0.6" d="M400.1 224.5l12.3 6.9 5.3 -25.8 -12.3 -6.9zM528.8 240.1l12.3 3.3 5.3 -29.4 -12.3 -3.3z"/><path fill="#fe932a" stroke="#fe932a" stroke-width="0.6" d="M504.2 233.9l12.3 3.1 5.3 -29.4 -12.3 -3.1zM516.5 237l12.3 3.1 5.3 -29.4 -12.3 -3.1z"/><path fill="#fe9029" stroke="#fe9029" stroke-width="0.6" d="M345.4 214.9l12.3 9.1 5.3 -23.5 -12.3 -9.3zM479.5 227.3l12.3 3.4 5.3 -29.3 -12.3 -3.4zM491.8 230.7l12.3 3.2 5.3 -29.4 -12.3 -3.1z"/><path fill="#fd8a26" stroke="#fd8a26" stroke-width="0.6" d="M387.8 216.9l12.3 7.6 5.3 -25.8 -12.3 -7.7zM467.1 223.7l12.3 3.6 5.3 -29.3 -12.3 -3.6z"/><path fill="#fc8725" stroke="#fc8725" stroke-width="0.6" d="M454.8 219.9l12.3 3.7 5.3 -29.2 -12.3 -3.7z"/><path fill="#fb8122" stroke="#fb8122" stroke-width="0.6" d="M333.1 205.2l12.3 9.7 5.3 -23.7 -12.3 -9.9zM375.4 209l12.3 7.9 5.3 -25.9 -12.3 -8zM442.5 215.9l12.3 4.1 5.3 -29.2 -12.3 -4z"/><path fill="#fa7b1f" stroke="#fa7b1f" stroke-width="0.6" d="M430.1 211.2l12.3 4.6 5.3 -29.1 -12.3 -4.6zM706.9 241.9l12.3 0.7 5.3 -30.9 -12.3 -2zM719.3 242.6l12.3 0.5 5.3 -30.3 -12.3 -1.1zM731.6 243.1l12.3 0.6 5.3 -29.8 -12.3 -1.1zM743.9 243.7l12.3 0.7 5.3 -29.4 -12.3 -1.1zM793.3 249.2l12.3 2.2 5.3 -29.8 -12.3 -1.9zM805.6 251.3l12.3 2.1 5.3 -30.1 -12.3 -1.8zM818 253.4l12.3 1.8 5.3 -30.2 -12.3 -1.7zM830.3 255.2l12.3 1.6 5.3 -30.2 -12.3 -1.6zM842.7 256.9l12.3 1.5 5.3 -30.2 -12.3 -1.5zM855 258.3l12.3 1.4 5.3 -30.1 -12.3 -1.5zM867.3 259.7l12.3 1.3 5.3 -30.1 -12.3 -1.4zM879.7 261.1l12.3 1.3 5.3 -30 -12.3 -1.4zM892 262.4l12.3 1.4 5.3 -29.9 -12.3 -1.5zM904.4 263.8l12.3 1.4 5.3 -29.8 -12.3 -1.5zM916.7 265.2l12.3 1.6 5.3 -29.7 -12.3 -1.7zM929 266.8l12.3 1.7 5.3 -29.6 -12.3 -1.8zM941.4 268.5l12.3 1.8 5.3 -29.5 -12.3 -1.9zM953.7 270.3l12.3 1.8 5.3 -29.4 -12.3 -1.9z"/><path fill="#f9781e" stroke="#f9781e" stroke-width="0.6" d="M363.1 200.5l12.3 8.5 5.3 -26 -12.3 -8.6zM608.2 227.9l12.3 1.9 5.3 -31.9 -12.3 -2.1zM620.5 229.8l12.3 1.3 5.3 -31.8 -12.3 -1.4zM632.9 231.2l12.3 1.4 5.3 -31.9 -12.3 -1.3zM645.2 232.6l12.3 2.7 5.3 -32.7 -12.3 -1.9zM657.6 235.3l12.3 3.6 5.3 -34.5 -12.3 -1.8zM669.9 239l12.3 2.1 5.3 -35.6 -12.3 -1zM682.2 241l12.3 0.8 5.3 -34.3 -12.3 -2.2zM694.6 241.9l12.3 0 5.3 -32.1 -12.3 -2.2zM756.3 244.4l12.3 1.1 5.3 -29.2 -12.3 -1.3zM768.6 245.5l12.3 1.6 5.3 -29.3 -12.3 -1.6zM781 247.1l12.3 2 5.3 -29.5 -12.3 -1.8z"/><path fill="#f8721c" stroke="#f8721c" stroke-width="0.6" d="M417.8 205.6l12.3 5.7 5.3 -29.1 -12.3 -5.7zM583.5 222.9l12.3 2.6 5.3 -32.1 -12.3 -2.7zM595.9 225.5l12.3 2.4 5.3 -32 -12.3 -2.5z"/><path fill="#f66c19" stroke="#f66c19" stroke-width="0.6" d="M558.8 217.2l12.3 3 5.3 -32.4 -12.3 -3.1zM571.2 220.2l12.3 2.6 5.3 -32.2 -12.3 -2.8z"/><path fill="#f56918" stroke="#f56918" stroke-width="0.6" d="M350.8 191.2l12.3 9.3 5.3 -26.1 -12.3 -9.4zM405.4 198.7l12.3 6.9 5.3 -29.1 -12.3 -6.9zM546.5 214l12.3 3.2 5.3 -32.5 -12.3 -3.3z"/><path fill="#f36315" stroke="#f36315" stroke-width="0.6" d="M521.8 207.6l12.3 3.1 5.3 -32.6 -12.3 -3.2zM534.2 210.7l12.3 3.3 5.3 -32.6 -12.3 -3.4z"/><path fill="#f26014" stroke="#f26014" stroke-width="0.6" d="M393.1 191l12.3 7.7 5.3 -29.1 -12.3 -7.7zM497.1 201.4l12.3 3.1 5.3 -32.8 -12.3 -3.2zM509.5 204.5l12.3 3.1 5.3 -32.7 -12.3 -3.1z"/><path fill="#f05b12" stroke="#f05b12" stroke-width="0.6" d="M338.4 181.3l12.3 9.9 5.3 -26.3 -12.3 -10.1zM484.8 198l12.3 3.4 5.3 -32.9 -12.3 -3.4z"/><path fill="#ed5510" stroke="#ed5510" stroke-width="0.6" d="M380.8 183l12.3 8 5.3 -29.2 -12.3 -8.1zM472.5 194.5l12.3 3.6 5.3 -32.9 -12.3 -3.6z"/><path fill="#ec530f" stroke="#ec530f" stroke-width="0.6" d="M460.1 190.8l12.3 3.7 5.3 -32.9 -12.3 -3.8zM835.6 225l12.3 1.6 5.3 -29.6 -12.3 -1.5zM848 226.6l12.3 1.5 5.3 -29.6 -12.3 -1.5zM860.3 228.1l12.3 1.5 5.3 -29.6 -12.3 -1.5zM872.7 229.6l12.3 1.4 5.3 -29.5 -12.3 -1.5zM885 231l12.3 1.4 5.3 -29.4 -12.3 -1.5zM897.3 232.4l12.3 1.5 5.3 -29.3 -12.3 -1.5zM909.7 233.9l12.3 1.5 5.3 -29.2 -12.3 -1.6zM922 235.4l12.3 1.7 5.3 -29.2 -12.3 -1.7zM934.4 237.1l12.3 1.8 5.3 -29.1 -12.3 -1.9zM946.7 238.8l12.3 1.9 5.3 -29 -12.3 -2zM959 240.7l12.3 1.9 5.3 -28.9 -12.3 -2z"/><path fill="#ea4e0d" stroke="#ea4e0d" stroke-width="0.6" d="M447.8 186.7l12.3 4 5.3 -33 -12.3 -4.1zM712.2 209.8l12.3 2 5.3 -30.2 -12.3 -3.2zM724.6 211.7l12.3 1.1 5.3 -29.6 -12.3 -1.7zM736.9 212.8l12.3 1.1 5.3 -29.1 -12.3 -1.6zM749.3 213.9l12.3 1.1 5.3 -28.8 -12.3 -1.5zM761.6 215l12.3 1.3 5.3 -28.6 -12.3 -1.5zM773.9 216.3l12.3 1.6 5.3 -28.6 -12.3 -1.5zM786.3 217.9l12.3 1.8 5.3 -28.9 -12.3 -1.5zM798.6 219.6l12.3 1.9 5.3 -29.2 -12.3 -1.5zM811 221.5l12.3 1.8 5.3 -29.5 -12.3 -1.6zM823.3 223.3l12.3 1.7 5.3 -29.6 -12.3 -1.6z"/><path fill="#e84b0c" stroke="#e84b0c" stroke-width="0.6" d="M368.4 174.4l12.3 8.6 5.3 -29.3 -12.3 -8.7zM435.4 182.1l12.3 4.6 5.3 -33.1 -12.3 -4.7zM613.5 195.9l12.3 2.1 5.3 -31.2 -12.3 -2.2zM625.9 197.9l12.3 1.4 5.3 -31.1 -12.3 -1.5zM638.2 199.3l12.3 1.3 5.3 -31.2 -12.3 -1.2zM650.5 200.7l12.3 1.9 5.3 -32 -12.3 -1.1zM662.9 202.6l12.3 1.8 5.3 -33.8 -12.3 0zM699.9 207.6l12.3 2.2 5.3 -31.5 -12.3 -4.3z"/><path fill="#e5470b" stroke="#e5470b" stroke-width="0.6" d="M423.1 176.4l12.3 5.7 5.3 -33.1 -12.3 -5.8zM588.8 190.6l12.3 2.7 5.3 -31.4 -12.3 -2.8zM601.2 193.4l12.3 2.5 5.3 -31.3 -12.3 -2.6zM675.2 204.4l12.3 1 5.3 -34.9 -12.3 0.1zM687.6 205.4l12.3 2.2 5.3 -33.6 -12.3 -3.5z"/><path fill="#e2430a" stroke="#e2430a" stroke-width="0.6" d="M564.2 184.8l12.3 3.1 5.3 -31.6 -12.3 -3.2zM576.5 187.9l12.3 2.8 5.3 -31.5 -12.3 -2.9z"/><path fill="#e14109" stroke="#e14109" stroke-width="0.6" d="M356.1 164.9l12.3 9.4 5.3 -29.4 -12.3 -9.6zM410.8 169.5l12.3 6.9 5.3 -33.2 -12.3 -7.1zM551.8 181.4l12.3 3.3 5.3 -31.7 -12.3 -3.4z"/><path fill="#dd3d08" stroke="#dd3d08" stroke-width="0.6" d="M527.1 174.9l12.3 3.2 5.3 -31.9 -12.3 -3.3zM539.5 178.1l12.3 3.4 5.3 -31.8 -12.3 -3.4z"/><path fill="#dc3b07" stroke="#dc3b07" stroke-width="0.6" d="M514.8 171.7l12.3 3.1 5.3 -31.9 -12.3 -3.2z"/><path fill="#d83706" stroke="#d83706" stroke-width="0.6" d="M343.7 154.8l12.3 10.1 5.3 -29.5 -12.3 -10.3zM398.4 161.8l12.3 7.7 5.3 -33.4 -12.3 -7.9zM490.1 165.1l12.3 3.4 5.3 -32.1 -12.3 -3.4zM502.5 168.5l12.3 3.2 5.3 -32 -12.3 -3.3z"/><path fill="#d43305" stroke="#d43305" stroke-width="0.6" d="M477.8 161.5l12.3 3.6 5.3 -32.1 -12.3 -3.6z"/><path fill="#d23105" stroke="#d23105" stroke-width="0.6" d="M386.1 153.7l12.3 8.1 5.3 -33.6 -12.3 -8.3zM465.4 157.8l12.3 3.8 5.3 -32.1 -12.3 -3.8z"/><path fill="#ce2d04" stroke="#ce2d04" stroke-width="0.6" d="M453.1 153.7l12.3 4.1 5.3 -32.2 -12.3 -4.2z"/><path fill="#ca2a04" stroke="#ca2a04" stroke-width="0.6" d="M440.8 149l12.3 4.7 5.3 -32.2 -12.3 -4.7z"/><path fill="#c82803" stroke="#c82803" stroke-width="0.6" d="M373.7 145l12.3 8.7 5.3 -33.7 -12.3 -8.9z"/><path fill="#c32503" stroke="#c32503" stroke-width="0.6" d="M428.4 143.2l12.3 5.8 5.3 -32.3 -12.3 -5.9z"/><path fill="#bc2002" stroke="#bc2002" stroke-width="0.6" d="M361.4 135.4l12.3 9.6 5.3 -33.9 -12.3 -9.8zM416.1 136.1l12.3 7.1 5.3 -32.4 -12.3 -7.2z"/><path fill="#b41b01" stroke="#b41b01" stroke-width="0.6" d="M403.7 128.2l12.3 7.9 5.3 -32.5 -12.3 -8.1z"/><path fill="#af1801" stroke="#af1801" stroke-width="0.6" d="M349.1 125.1l12.3 10.3 5.3 -34.2 -12.3 -10.5z"/><path fill="#a71401" stroke="#a71401" stroke-width="0.6" d="M391.4 120l12.3 8.3 5.3 -32.7 -12.3 -8.5z"/><path fill="#980e01" stroke="#980e01" stroke-width="0.6" d="M379.1 111l12.3 8.9 5.3 -32.9 -12.3 -9.1z"/><path fill="#880802" stroke="#880802" stroke-width="0.6" d="M366.7 101.2l12.3 9.8 5.3 -33.1 -12.3 -10z"/><path fill="#7a0403" stroke="#7a0403" stroke-width="0.6" d="M354.4 90.7l12.3 10.5 5.3 -33.3 -12.3 -10.8z"/></g><path fill="none" stroke="#000" stroke-opacity="0.62" stroke-width="1.3" stroke-linejoin="round" d="M93.6 543L98.9 539.6 104.2 536.1 109.6 532.4 114.9 528.7 120.2 524.8 125.5 520.9 130.9 517 136.2 512.9 141.5 508.5 146.8 503.8 152.1 498.8 157.5 493.1 162.8 484.4 168.1 474.3 173.4 465.9 178.8 459.8 184.1 454.3 189.4 449.1 194.7 443.8 200 438.5 205.4 433.3 210.7 428.1 216 422.9 221.3 417.9 226.7 412.9 232 408.1 237.3 403.4 242.6 398.6 247.9 393.7 253.3 388.7 258.6 383.8 263.9 378.7 269.2 373.3 274.5 367.3 279.9 360.2 285.2 351.8 290.5 342.2 295.8 330.2 301.2 316 306.5 302.1 311.8 287.2 317.1 268.8 322.4 247.6 327.8 226.9 333.1 205.2 338.4 181.3 343.7 154.8 349.1 125.1 354.4 90.7 359.7 57.1M105.9 546.5L111.3 543.3 116.6 539.9 121.9 536.4 127.2 532.8 132.6 529.1 137.9 525.3 143.2 521.5 148.5 517.5 153.8 513.3 159.2 508.7 164.5 503.8 169.8 498.3 175.1 489.8 180.4 479.9 185.8 471.8 191.1 465.8 196.4 460.5 201.7 455.4 207.1 450.3 212.4 445.2 217.7 440.1 223 435 228.3 430.1 233.7 425.2 239 420.4 244.3 415.7 249.6 411.1 255 406.5 260.3 401.8 265.6 397 270.9 392.2 276.2 387.3 281.6 381.9 286.9 375.9 292.2 368.7 297.5 360.4 302.9 351 308.2 339 313.5 324.9 318.8 311 324.1 296.3 329.5 278 334.8 257 340.1 236.4 345.4 214.9 350.8 191.2 356.1 164.9 361.4 135.4 366.7 101.2 372 67.9M118.3 550.4L123.6 547.4 128.9 544.1 134.2 540.7 139.6 537.2 144.9 533.7 150.2 530 155.5 526.3 160.9 522.4 166.2 518.3 171.5 513.8 176.8 509 182.1 503.6 187.5 495.3 192.8 485.7 198.1 477.7 203.4 471.9 208.8 466.7 214.1 461.7 219.4 456.8 224.7 451.7 230 446.8 235.4 441.9 240.7 437.1 246 432.3 251.3 427.7 256.7 423.2 262 418.7 267.3 414.2 272.6 409.7 277.9 405 283.3 400.4 288.6 395.5 293.9 390.1 299.2 384.1 304.6 376.9 309.9 368.7 315.2 359.3 320.5 347.4 325.8 333.3 331.2 319.5 336.5 304.9 341.8 286.7 347.1 266 352.4 245.4 357.8 224 363.1 200.5 368.4 174.4 373.7 145 379.1 111 384.4 77.9M130.6 554.8L135.9 551.8 141.3 548.7 146.6 545.4 151.9 542 157.2 538.5 162.6 535 167.9 531.3 173.2 527.5 178.5 523.5 183.8 519.1 189.2 514.3 194.5 509 199.8 500.9 205.1 491.5 210.4 483.6 215.8 477.9 221.1 472.8 226.4 468 231.7 463.1 237.1 458.2 242.4 453.4 247.7 448.6 253 443.9 258.3 439.3 263.7 434.7 269 430.3 274.3 426 279.6 421.6 285 417.2 290.3 412.6 295.6 408.1 300.9 403.3 306.2 397.9 311.6 391.7 316.9 384.6 322.2 376.4 327.5 367 332.9 355.2 338.2 341.1 343.5 327.4 348.8 312.7 354.1 294.7 359.5 274.1 364.8 253.7 370.1 232.3 375.4 209 380.8 183 386.1 153.7 391.4 120 396.7 87.1M143 559.7L148.3 556.8 153.6 553.7 158.9 550.5 164.2 547.2 169.6 543.8 174.9 540.3 180.2 536.7 185.5 533 190.9 528.9 196.2 524.6 201.5 519.9 206.8 514.7 212.1 506.7 217.5 497.4 222.8 489.7 228.1 484.1 233.4 479.1 238.8 474.3 244.1 469.5 249.4 464.7 254.7 460 260 455.3 265.4 450.7 270.7 446.1 276 441.7 281.3 437.4 286.7 433.1 292 428.9 297.3 424.5 302.6 420 307.9 415.6 313.3 410.8 318.6 405.3 323.9 399.1 329.2 392 334.6 383.7 339.9 374.4 345.2 362.6 350.5 348.5 355.8 334.8 361.2 320.1 366.5 302.3 371.8 281.8 377.1 261.4 382.5 240.1 387.8 216.9 393.1 191 398.4 161.8 403.7 128.2 409.1 95.5M155.3 565L160.6 562.2 165.9 559.2 171.3 556 176.6 552.8 181.9 549.4 187.2 546 192.6 542.4 197.9 538.7 203.2 534.7 208.5 530.4 213.8 525.8 219.2 520.6 224.5 512.7 229.8 503.6 235.1 496 240.5 490.5 245.8 485.5 251.1 480.8 256.4 476.1 261.7 471.3 267.1 466.6 272.4 462 277.7 457.5 283 453 288.4 448.7 293.7 444.4 299 440.2 304.3 436.1 309.6 431.8 315 427.4 320.3 423 325.6 418.3 330.9 412.7 336.2 406.4 341.6 399.2 346.9 390.9 352.2 381.6 357.5 369.7 362.9 355.7 368.2 341.9 373.5 327.3 378.8 309.5 384.1 289.2 389.5 268.8 394.8 247.5 400.1 224.5 405.4 198.7 410.8 169.5 416.1 136.1 421.4 103.6M167.6 571L173 568.2 178.3 565.2 183.6 562.1 188.9 558.9 194.2 555.5 199.6 552.1 204.9 548.6 210.2 544.9 215.5 540.9 220.9 536.6 226.2 532 231.5 526.8 236.8 519 242.1 510 247.5 502.5 252.8 497 258.1 492.1 263.4 487.4 268.8 482.7 274.1 478 279.4 473.4 284.7 468.8 290 464.3 295.4 459.9 300.7 455.6 306 451.4 311.3 447.2 316.7 443.1 322 438.9 327.3 434.5 332.6 430.2 337.9 425.4 343.3 419.8 348.6 413.3 353.9 406 359.2 397.7 364.6 388.3 369.9 376.4 375.2 362.4 380.5 348.6 385.8 333.9 391.2 316.2 396.5 296 401.8 275.5 407.1 254.3 412.5 231.3 417.8 205.6 423.1 176.4 428.4 143.2 433.7 110.8M180 577.4L185.3 574.6 190.6 571.7 195.9 568.5 201.3 565.3 206.6 561.9 211.9 558.5 217.2 555 222.6 551.2 227.9 547.2 233.2 542.8 238.5 538.2 243.8 533 249.2 525.3 254.5 516.4 259.8 508.9 265.1 503.5 270.5 498.5 275.8 493.8 281.1 489.1 286.4 484.4 291.7 479.8 297.1 475.2 302.4 470.8 307.7 466.4 313 462 318.4 457.8 323.7 453.7 329 449.6 334.3 445.4 339.6 441 345 436.7 350.3 431.9 355.6 426.1 360.9 419.5 366.3 412.1 371.6 403.7 376.9 394.2 382.2 382.3 387.5 368.1 392.9 354.2 398.2 339.5 403.5 321.8 408.8 301.6 414.1 281.2 419.5 259.9 424.8 237 430.1 211.2 435.4 182.1 440.8 149 446.1 116.7M192.3 584L197.6 581.2 203 578.2 208.3 575 213.6 571.8 218.9 568.4 224.3 564.9 229.6 561.3 234.9 557.5 240.2 553.4 245.5 549 250.9 544.3 256.2 539.1 261.5 531.4 266.8 522.5 272.1 515.1 277.5 509.6 282.8 504.7 288.1 499.9 293.4 495.2 298.8 490.5 304.1 485.8 309.4 481.2 314.7 476.8 320 472.3 325.4 468 330.7 463.8 336 459.6 341.3 455.5 346.7 451.3 352 446.9 357.3 442.5 362.6 437.7 367.9 431.7 373.3 424.9 378.6 417.4 383.9 408.8 389.2 399.2 394.6 387.2 399.9 373 405.2 359 410.5 344.2 415.8 326.5 421.2 306.4 426.5 285.8 431.8 264.5 437.1 241.7 442.5 215.9 447.8 186.7 453.1 153.7 458.4 121.4M204.7 590.9L210 588 215.3 585 220.6 581.8 225.9 578.4 231.3 575 236.6 571.5 241.9 567.8 247.2 563.9 252.6 559.7 257.9 555.3 263.2 550.5 268.5 545.2 273.8 537.5 279.2 528.7 284.5 521.3 289.8 515.8 295.1 510.8 300.5 506 305.8 501.2 311.1 496.5 316.4 491.8 321.7 487.2 327.1 482.6 332.4 478.2 337.7 473.8 343 469.6 348.4 465.4 353.7 461.2 359 456.9 364.3 452.6 369.6 448.1 375 443.2 380.3 437.1 385.6 430.1 390.9 422.3 396.3 413.7 401.6 403.9 406.9 391.8 412.2 377.5 417.5 363.4 422.9 348.4 428.2 330.8 433.5 310.6 438.8 290 444.2 268.6 449.5 245.8 454.8 219.9 460.1 190.8 465.4 157.8 470.8 125.6M217 597.8L222.3 594.8 227.6 591.7 233 588.5 238.3 585.1 243.6 581.6 248.9 578 254.3 574.3 259.6 570.3 264.9 566 270.2 561.5 275.5 556.6 280.9 551.3 286.2 543.6 291.5 534.8 296.8 527.4 302.2 521.8 307.5 516.8 312.8 512 318.1 507.1 323.4 502.3 328.8 497.6 334.1 492.9 339.4 488.4 344.7 483.9 350.1 479.5 355.4 475.1 360.7 470.9 366 466.7 371.3 462.4 376.7 458 382 453.5 387.3 448.5 392.6 442.2 397.9 434.9 403.3 427 408.6 418.2 413.9 408.4 419.2 396.1 424.6 381.7 429.9 367.4 435.2 352.4 440.5 334.7 445.8 314.6 451.2 293.8 456.5 272.3 461.8 249.6 467.1 223.7 472.5 194.5 477.8 161.5 483.1 129.4M229.3 604.7L234.7 601.8 240 598.6 245.3 595.3 250.6 591.8 256 588.3 261.3 584.6 266.6 580.8 271.9 576.7 277.2 572.4 282.6 567.7 287.9 562.8 293.2 557.4 298.5 549.7 303.8 541 309.2 533.5 314.5 527.9 319.8 522.8 325.1 517.9 330.5 513 335.8 508.2 341.1 503.4 346.4 498.7 351.7 494.1 357.1 489.5 362.4 485.1 367.7 480.7 373 476.4 378.4 472.2 383.7 467.8 389 463.4 394.3 458.8 399.6 453.7 405 447.2 410.3 439.7 415.6 431.7 420.9 422.7 426.3 412.7 431.6 400.4 436.9 385.8 442.2 371.4 447.5 356.2 452.9 338.5 458.2 318.4 463.5 297.5 468.8 276 474.2 253.2 479.5 227.3 484.8 198 490.1 165.1 495.4 133M241.7 611.6L247 608.5 252.3 605.3 257.6 601.9 263 598.4 268.3 594.8 273.6 591.1 278.9 587.2 284.3 583 289.6 578.5 294.9 573.8 300.2 568.8 305.5 563.3 310.9 555.6 316.2 546.9 321.5 539.5 326.8 533.8 332.2 528.6 337.5 523.7 342.8 518.7 348.1 513.8 353.4 509 358.8 504.2 364.1 499.6 369.4 495 374.7 490.5 380.1 486.1 385.4 481.7 390.7 477.5 396 473.1 401.3 468.5 406.7 463.9 412 458.7 417.3 452 422.6 444.4 428 436.1 433.3 427 438.6 416.9 443.9 404.4 449.2 389.7 454.6 375.2 459.9 359.8 465.2 342.2 470.5 322 475.8 301.1 481.2 279.4 486.5 256.7 491.8 230.7 497.1 201.4 502.5 168.5 507.8 136.5M254 617.7L259.3 614.6 264.7 611.3 270 607.9 275.3 604.3 280.6 600.6 286 596.8 291.3 592.9 296.6 588.6 301.9 584.1 307.2 579.3 312.6 574.2 317.9 568.6 323.2 560.9 328.5 552.3 333.9 544.9 339.2 539.2 344.5 533.9 349.8 528.9 355.1 524 360.5 519 365.8 514.1 371.1 509.3 376.4 504.6 381.7 500 387.1 495.5 392.4 491 397.7 486.6 403 482.3 408.4 477.9 413.7 473.3 419 468.7 424.3 463.4 429.6 456.5 435 448.6 440.3 440.2 445.6 431 450.9 420.7 456.3 408.1 461.6 393.4 466.9 378.6 472.2 363.2 477.5 345.5 482.9 325.4 488.2 304.3 493.5 282.6 498.8 259.9 504.2 233.9 509.5 204.5 514.8 171.7 520.1 139.7M266.4 623.3L271.7 620.2 277 616.9 282.3 613.4 287.6 609.7 293 606 298.3 602.2 303.6 598.2 308.9 593.8 314.3 589.2 319.6 584.3 324.9 579.2 330.2 573.6 335.5 565.9 340.9 557.3 346.2 549.9 351.5 544.2 356.8 538.9 362.2 533.9 367.5 528.8 372.8 523.8 378.1 518.9 383.4 514.1 388.8 509.4 394.1 504.8 399.4 500.2 404.7 495.7 410.1 491.3 415.4 486.9 420.7 482.5 426 477.9 431.3 473.2 436.7 467.8 442 460.8 447.3 452.7 452.6 444.1 458 434.8 463.3 424.4 468.6 411.7 473.9 396.8 479.2 382 484.6 366.4 489.9 348.7 495.2 328.7 500.5 307.5 505.9 285.7 511.2 263 516.5 237 521.8 207.6 527.1 174.9 532.5 142.9M278.7 628.4L284 625.3 289.3 621.9 294.7 618.4 300 614.7 305.3 611 310.6 607.1 316 603 321.3 598.7 326.6 594 331.9 589 337.2 583.8 342.6 578.2 347.9 570.5 353.2 562 358.5 554.6 363.9 548.9 369.2 543.6 374.5 538.5 379.8 533.4 385.1 528.4 390.5 523.5 395.8 518.7 401.1 513.9 406.4 509.3 411.8 504.7 417.1 500.2 422.4 495.7 427.7 491.4 433 486.9 438.4 482.3 443.7 477.5 449 472.2 454.3 464.9 459.6 456.6 465 447.9 470.3 438.5 475.6 428 480.9 415.2 486.3 400.2 491.6 385.3 496.9 369.6 502.2 352 507.5 331.9 512.9 310.7 518.2 288.8 523.5 266.2 528.8 240.1 534.2 210.7 539.5 178.1 544.8 146.2M291 633.1L296.4 630 301.7 626.6 307 623.1 312.3 619.4 317.6 615.6 323 611.7 328.3 607.6 333.6 603.1 338.9 598.4 344.3 593.4 349.6 588.2 354.9 582.5 360.2 574.9 365.5 566.4 370.9 559.1 376.2 553.4 381.5 548 386.8 542.9 392.2 537.9 397.5 532.8 402.8 527.9 408.1 523 413.4 518.3 418.8 513.6 424.1 509 429.4 504.5 434.7 500.1 440.1 495.7 445.4 491.3 450.7 486.6 456 481.9 461.3 476.4 466.7 469 472 460.6 477.3 451.7 482.6 442.2 488 431.6 493.3 418.7 498.6 403.7 503.9 388.6 509.2 372.9 514.6 355.2 519.9 335.3 525.2 313.9 530.5 292.1 535.9 269.5 541.2 243.4 546.5 214 551.8 181.4 557.1 149.6M303.4 637.4L308.7 634.3 314 630.9 319.3 627.3 324.7 623.6 330 619.8 335.3 615.9 340.6 611.7 346 607.3 351.3 602.5 356.6 597.5 361.9 592.2 367.2 586.5 372.6 579 377.9 570.6 383.2 563.3 388.5 557.5 393.9 552.2 399.2 547.1 404.5 542 409.8 536.9 415.1 532 420.5 527.2 425.8 522.5 431.1 517.8 436.4 513.2 441.8 508.7 447.1 504.2 452.4 499.9 457.7 495.4 463 490.8 468.4 486 473.7 480.5 479 473 484.3 464.4 489.7 455.4 495 445.7 500.3 435.1 505.6 422.1 510.9 407 516.3 391.9 521.6 376.1 526.9 358.5 532.2 338.5 537.5 317.1 542.9 295.2 548.2 272.7 553.5 246.7 558.8 217.2 564.2 184.8 569.5 153.1M315.7 641L321 637.9 326.4 634.5 331.7 630.9 337 627.2 342.3 623.4 347.7 619.5 353 615.3 358.3 610.8 363.6 606 368.9 600.9 374.3 595.6 379.6 589.9 384.9 582.4 390.2 574.1 395.6 566.9 400.9 561.2 406.2 555.8 411.5 550.7 416.8 545.6 422.2 540.6 427.5 535.7 432.8 530.9 438.1 526.1 443.4 521.5 448.8 516.9 454.1 512.4 459.4 508 464.7 503.6 470.1 499.2 475.4 494.6 480.7 489.8 486 484.3 491.3 476.6 496.7 467.8 502 458.7 507.3 449 512.6 438.3 518 425.2 523.3 410.1 528.6 394.9 533.9 379 539.2 361.4 544.6 341.5 549.9 320.1 555.2 298.2 560.5 275.7 565.9 249.7 571.2 220.2 576.5 187.9 581.8 156.3M328.1 644.2L333.4 641.1 338.7 637.7 344 634.1 349.3 630.4 354.7 626.6 360 622.7 365.3 618.4 370.6 613.9 376 609.1 381.3 604 386.6 598.6 391.9 593 397.2 585.5 402.6 577.3 407.9 570.2 413.2 564.4 418.5 559.1 423.9 554 429.2 548.9 434.5 543.9 439.8 538.9 445.1 534.1 450.5 529.4 455.8 524.8 461.1 520.2 466.4 515.7 471.8 511.3 477.1 507 482.4 502.6 487.7 498 493 493.2 498.4 487.6 503.7 479.8 509 470.9 514.3 461.7 519.7 451.8 525 441 530.3 427.9 535.6 412.7 540.9 397.4 546.3 381.5 551.6 364 556.9 344.1 562.2 322.7 567.6 300.7 572.9 278.3 578.2 252.3 583.5 222.9 588.8 190.6 594.2 159.1M340.4 647L345.7 643.8 351 640.5 356.4 636.9 361.7 633.2 367 629.4 372.3 625.4 377.7 621.2 383 616.7 388.3 611.8 393.6 606.7 398.9 601.3 404.3 595.7 409.6 588.3 414.9 580.2 420.2 573.1 425.6 567.4 430.9 562 436.2 556.9 441.5 551.9 446.8 546.8 452.2 541.9 457.5 537.2 462.8 532.5 468.1 527.9 473.4 523.3 478.8 518.8 484.1 514.4 489.4 510.1 494.7 505.7 500.1 501.2 505.4 496.4 510.7 490.8 516 482.9 521.3 473.8 526.7 464.4 532 454.6 537.3 443.7 542.6 430.5 548 415.3 553.3 399.9 558.6 383.9 563.9 366.4 569.2 346.7 574.6 325.2 579.9 303.2 585.2 280.9 590.5 254.9 595.9 225.5 601.2 193.4 606.5 162M352.7 649.3L358.1 646.2 363.4 642.8 368.7 639.3 374 635.6 379.4 631.7 384.7 627.8 390 623.6 395.3 619 400.6 614.2 406 609 411.3 603.7 416.6 598 421.9 590.7 427.2 582.7 432.6 575.7 437.9 570 443.2 564.7 448.5 559.6 453.9 554.5 459.2 549.5 464.5 544.6 469.8 539.9 475.1 535.2 480.5 530.6 485.8 526.1 491.1 521.7 496.4 517.3 501.8 513 507.1 508.6 512.4 504.1 517.7 499.3 523 493.7 528.4 485.7 533.7 476.4 539 467 544.3 457 549.7 446.1 555 432.9 560.3 417.6 565.6 402.1 570.9 386.1 576.3 368.6 581.6 349 586.9 327.4 592.2 305.5 597.6 283.2 602.9 257.3 608.2 227.9 613.5 195.9 618.8 164.6M365.1 651.4L370.4 648.3 375.7 644.9 381 641.4 386.4 637.7 391.7 633.9 397 630 402.3 625.7 407.7 621.1 413 616.2 418.3 611.1 423.6 605.7 428.9 600 434.3 592.8 439.6 584.9 444.9 577.9 450.2 572.2 455.6 566.9 460.9 561.8 466.2 556.8 471.5 551.8 476.8 547 482.2 542.2 487.5 537.6 492.8 533 498.1 528.5 503.5 524.1 508.8 519.7 514.1 515.5 519.4 511.1 524.7 506.6 530.1 501.9 535.4 496.2 540.7 488.1 546 478.6 551.4 469.1 556.7 459.1 562 448.1 567.3 434.8 572.6 419.4 578 403.9 583.3 387.8 588.6 370.4 593.9 350.9 599.2 329.3 604.6 307.3 609.9 285.2 615.2 259.2 620.5 229.8 625.9 197.9 631.2 166.8M377.4 653.4L382.7 650.3 388.1 646.9 393.4 643.4 398.7 639.7 404 635.9 409.4 631.9 414.7 627.7 420 623.1 425.3 618.1 430.6 612.9 436 607.5 441.3 601.8 446.6 594.7 451.9 586.8 457.2 579.9 462.6 574.3 467.9 569 473.2 563.9 478.5 558.8 483.9 553.8 489.2 549 494.5 544.3 499.8 539.6 505.1 535.1 510.5 530.6 515.8 526.2 521.1 521.8 526.4 517.5 531.8 513.2 537.1 508.7 542.4 503.9 547.7 498.3 553 490 558.4 480.4 563.7 470.7 569 460.6 574.3 449.5 579.7 436.2 585 420.8 590.3 405.2 595.6 389.1 600.9 371.7 606.3 352.2 611.6 330.6 616.9 308.6 622.2 286.5 627.6 260.5 632.9 231.2 638.2 199.3 643.5 168.3M389.8 655.5L395.1 652.4 400.4 649 405.7 645.4 411 641.7 416.4 637.9 421.7 633.9 427 629.6 432.3 625 437.7 620 443 614.7 448.3 609.3 453.6 603.6 458.9 596.5 464.3 588.7 469.6 581.9 474.9 576.2 480.2 570.9 485.6 565.8 490.9 560.7 496.2 555.7 501.5 550.9 506.8 546.2 512.2 541.6 517.5 537 522.8 532.5 528.1 528.1 533.5 523.8 538.8 519.5 544.1 515.2 549.4 510.7 554.7 505.9 560.1 500.2 565.4 491.8 570.7 482 576 472.2 581.4 462 586.7 450.9 592 437.5 597.3 422.1 602.6 406.5 608 390.4 613.3 373.2 618.6 353.8 623.9 332.2 629.2 310.1 634.6 288.1 639.9 262.2 645.2 232.6 650.5 200.7 655.9 169.5M402.1 657.7L407.4 654.6 412.7 651.2 418.1 647.6 423.4 643.9 428.7 640 434 636 439.4 631.7 444.7 627 450 622 455.3 616.7 460.6 611.2 466 605.5 471.3 598.4 476.6 590.8 481.9 583.9 487.3 578.3 492.6 572.9 497.9 567.8 503.2 562.7 508.5 557.7 513.9 552.9 519.2 548.2 524.5 543.6 529.8 539 535.2 534.5 540.5 530.1 545.8 525.7 551.1 521.5 556.4 517.1 561.8 512.6 567.1 507.8 572.4 502.1 577.7 493.5 583 483.5 588.4 473.6 593.7 463.3 599 452.2 604.3 439 609.7 423.9 615 408.7 620.3 392.9 625.6 376.1 630.9 357.2 636.3 335.7 641.6 313.7 646.9 291.8 652.2 265.8 657.6 235.3 662.9 202.6 668.2 170.6M414.4 660.3L419.8 657.1 425.1 653.7 430.4 650.1 435.7 646.3 441.1 642.4 446.4 638.3 451.7 633.9 457 629.2 462.3 624.1 467.7 618.7 473 613.1 478.3 607.4 483.6 600.3 488.9 592.7 494.3 585.9 499.6 580.2 504.9 574.8 510.2 569.6 515.6 564.5 520.9 559.5 526.2 554.6 531.5 549.8 536.8 545.2 542.2 540.6 547.5 536.1 552.8 531.6 558.1 527.2 563.5 523 568.8 518.6 574.1 514.1 579.4 509.2 584.7 503.4 590.1 494.6 595.4 484.5 600.7 474.4 606 464 611.4 452.9 616.7 440.1 622 425.7 627.3 411.2 632.6 396.2 638 380.4 643.3 362.2 648.6 341.1 653.9 319.3 659.3 297.4 664.6 271.4 669.9 239 675.2 204.4 680.5 170.6M426.8 663.2L432.1 660 437.4 656.5 442.7 652.8 448.1 649 453.4 645 458.7 640.9 464 636.4 469.4 631.6 474.7 626.4 480 620.9 485.3 615.3 490.6 609.5 496 602.4 501.3 594.9 506.6 588 511.9 582.3 517.3 576.9 522.6 571.6 527.9 566.5 533.2 561.4 538.5 556.5 543.9 551.7 549.2 547 554.5 542.4 559.8 537.8 565.2 533.3 570.5 528.9 575.8 524.5 581.1 520.2 586.4 515.6 591.8 510.7 597.1 504.7 602.4 495.8 607.7 485.4 613 475.2 618.4 464.6 623.7 453.5 629 441 634.3 426.8 639.7 412.8 645 398.3 650.3 382.9 655.6 365.2 660.9 344.4 666.3 322.5 671.6 300.7 676.9 274.6 682.2 241 687.6 205.4 692.9 170.5M439.1 666.4L444.4 663.2 449.8 659.7 455.1 656 460.4 652.2 465.7 648.2 471.1 644.1 476.4 639.7 481.7 634.8 487 629.6 492.3 624.1 497.7 618.5 503 612.6 508.3 605.7 513.6 598.2 519 591.4 524.3 585.7 529.6 580.3 534.9 575.1 540.2 569.9 545.6 564.9 550.9 560 556.2 555.2 561.5 550.6 566.8 546 572.2 541.4 577.5 536.9 582.8 532.5 588.1 528.2 593.5 523.9 598.8 519.3 604.1 514.4 609.4 508.5 614.7 499.4 620.1 488.9 625.4 478.6 630.7 467.9 636 456.7 641.4 443.7 646.7 429.1 652 414.3 657.3 399.2 662.6 383.3 668 365.2 673.3 344 678.6 322 683.9 300.2 689.3 274.2 694.6 241.9 699.9 207.6 705.2 174M451.5 669.7L456.8 666.5 462.1 663.1 467.4 659.4 472.7 655.6 478.1 651.7 483.4 647.6 488.7 643.1 494 638.2 499.4 633 504.7 627.6 510 621.9 515.3 616.1 520.6 609.2 526 601.9 531.3 595.2 536.6 589.5 541.9 584.1 547.3 578.9 552.6 573.8 557.9 568.8 563.2 563.9 568.5 559.2 573.9 554.6 579.2 550 584.5 545.5 589.8 541.1 595.2 536.7 600.5 532.5 605.8 528.1 611.1 523.6 616.4 518.8 621.8 512.8 627.1 503.6 632.4 493 637.7 482.6 643.1 471.9 648.4 460.3 653.7 446.8 659 431.3 664.3 415.6 669.7 399.4 675 382.6 680.3 363.8 685.6 342 690.9 319.9 696.3 298.2 701.6 272.2 706.9 241.9 712.2 209.8 717.6 178.3M463.8 673.1L469.1 669.9 474.4 666.5 479.8 662.8 485.1 659 490.4 655 495.7 651 501.1 646.5 506.4 641.6 511.7 636.3 517 630.8 522.3 625.2 527.7 619.4 533 612.5 538.3 605.3 543.6 598.7 549 593 554.3 587.6 559.6 582.4 564.9 577.3 570.2 572.3 575.6 567.4 580.9 562.7 586.2 558.1 591.5 553.6 596.8 549.1 602.2 544.7 607.5 540.3 612.8 536.1 618.1 531.8 623.5 527.3 628.8 522.4 634.1 516.4 639.4 507.1 644.7 496.3 650.1 485.8 655.4 475 660.7 463.3 666 449.4 671.4 433.4 676.7 417.1 682 400.2 687.3 383 692.6 363.8 698 341.6 703.3 319.3 708.6 297.7 713.9 271.8 719.3 242.6 724.6 211.7 729.9 181.5M476.1 676.5L481.5 673.3 486.8 669.9 492.1 666.2 497.4 662.3 502.8 658.3 508.1 654.2 513.4 649.7 518.7 644.7 524 639.4 529.4 633.9 534.7 628.2 540 622.3 545.3 615.5 550.6 608.3 556 601.7 561.3 596.1 566.6 590.7 571.9 585.4 577.3 580.3 582.6 575.2 587.9 570.4 593.2 565.7 598.5 561 603.9 556.5 609.2 552 614.5 547.5 619.8 543.2 625.2 538.9 630.5 534.6 635.8 530.1 641.1 525.2 646.4 519.2 651.8 509.7 657.1 498.7 662.4 488 667.7 477.1 673.1 465.2 678.4 451.1 683.7 434.8 689 418.1 694.3 400.9 699.7 383.4 705 364 710.3 341.7 715.6 319.3 721 297.7 726.3 271.8 731.6 243.1 736.9 212.8 742.2 183.2M488.5 680.3L493.8 677.1 499.1 673.6 504.4 669.8 509.8 665.9 515.1 661.9 520.4 657.7 525.7 653.1 531.1 648.1 536.4 642.7 541.7 637.1 547 631.3 552.3 625.5 557.7 618.7 563 611.5 568.3 605 573.6 599.3 579 593.8 584.3 588.6 589.6 583.4 594.9 578.3 600.2 573.4 605.6 568.7 610.9 564 616.2 559.5 621.5 555 626.9 550.5 632.2 546 637.5 541.8 642.8 537.4 648.1 532.9 653.5 528 658.8 521.9 664.1 512.2 669.4 501 674.8 490.2 680.1 479.2 685.4 467.2 690.7 452.8 696 436.2 701.4 419.2 706.7 401.7 712 384.1 717.3 364.5 722.6 342 728 319.5 733.3 298 738.6 272 743.9 243.7 749.3 213.9 754.6 184.7M500.8 684.1L506.1 680.9 511.5 677.3 516.8 673.6 522.1 669.6 527.4 665.5 532.8 661.3 538.1 656.7 543.4 651.6 548.7 646.1 554 640.4 559.4 634.6 564.7 628.7 570 621.9 575.3 614.8 580.7 608.3 586 602.5 591.3 597.1 596.6 591.7 601.9 586.5 607.3 581.4 612.6 576.5 617.9 571.7 623.2 567.1 628.5 562.5 633.9 557.9 639.2 553.4 644.5 549 649.8 544.7 655.2 540.3 660.5 535.7 665.8 530.8 671.1 524.6 676.4 514.8 681.8 503.4 687.1 492.4 692.4 481.3 697.7 469.1 703.1 454.5 708.4 437.8 713.7 420.5 719 402.7 724.3 384.9 729.7 365.3 735 342.5 740.3 319.9 745.6 298.4 751 272.4 756.3 244.4 761.6 215 766.9 186.2M513.2 688L518.5 684.7 523.8 681.1 529.1 677.3 534.4 673.3 539.8 669.2 545.1 664.9 550.4 660.2 555.7 655 561.1 649.5 566.4 643.7 571.7 637.8 577 631.9 582.3 625.1 587.7 618.1 593 611.6 598.3 605.8 603.6 600.3 609 594.9 614.3 589.7 619.6 584.5 624.9 579.6 630.2 574.8 635.6 570.1 640.9 565.5 646.2 560.9 651.5 556.3 656.9 551.9 662.2 547.5 667.5 543.2 672.8 538.6 678.1 533.6 683.5 527.3 688.8 517.3 694.1 505.7 699.4 494.6 704.8 483.3 710.1 471 715.4 456.3 720.7 439.4 726 421.9 731.4 404 736.7 386.1 742 366.5 747.3 343.6 752.6 320.9 758 299.5 763.3 273.4 768.6 245.5 773.9 216.3 779.3 187.7M525.5 691.6L530.8 688.3 536.1 684.6 541.5 680.8 546.8 676.7 552.1 672.6 557.4 668.3 562.8 663.5 568.1 658.3 573.4 652.7 578.7 646.9 584 640.9 589.4 634.9 594.7 628.2 600 621.2 605.3 614.7 610.7 608.9 616 603.3 621.3 597.9 626.6 592.7 631.9 587.5 637.3 582.5 642.6 577.7 647.9 573 653.2 568.4 658.5 563.8 663.9 559.2 669.2 554.7 674.5 550.3 679.8 545.9 685.2 541.3 690.5 536.3 695.8 530 701.1 519.8 706.4 508 711.8 496.7 717.1 485.3 722.4 472.9 727.7 458.2 733.1 441.2 738.4 423.7 743.7 405.7 749 387.9 754.3 368.3 759.7 345.4 765 322.7 770.3 301.3 775.6 275.2 781 247.1 786.3 217.9 791.6 189.2M537.8 694.9L543.2 691.6 548.5 687.9 553.8 684 559.1 680 564.5 675.8 569.8 671.4 575.1 666.6 580.4 661.3 585.7 655.7 591.1 649.8 596.4 643.8 601.7 637.7 607 631 612.3 624.1 617.7 617.6 623 611.8 628.3 606.2 633.6 600.8 639 595.5 644.3 590.3 649.6 585.3 654.9 580.5 660.2 575.7 665.6 571.1 670.9 566.5 676.2 561.9 681.5 557.4 686.9 553 692.2 548.6 697.5 544 702.8 538.9 708.1 532.5 713.5 522.2 718.8 510.2 724.1 498.8 729.4 487.3 734.8 474.8 740.1 460 745.4 443.1 750.7 425.6 756 407.7 761.4 390.1 766.7 370.7 772 347.8 777.3 325 782.7 303.6 788 277.6 793.3 249.2 798.6 219.6 803.9 190.8M550.2 698.1L555.5 694.7 560.8 691.1 566.1 687.1 571.5 683 576.8 678.8 582.1 674.5 587.4 669.6 592.8 664.2 598.1 658.5 603.4 652.6 608.7 646.5 614 640.4 619.4 633.8 624.7 626.9 630 620.5 635.3 614.6 640.7 609 646 603.6 651.3 598.2 656.6 593 661.9 588 667.3 583.2 672.6 578.4 677.9 573.8 683.2 569.2 688.6 564.5 693.9 560 699.2 555.6 704.5 551.2 709.8 546.6 715.2 541.5 720.5 535 725.8 524.6 731.1 512.4 736.5 500.8 741.8 489.2 747.1 476.7 752.4 461.9 757.7 445 763.1 427.6 768.4 409.9 773.7 392.4 779 373.2 784.3 350.3 789.7 327.6 795 306.2 800.3 280.1 805.6 251.3 811 221.5 816.3 192.3M562.5 701.2L567.8 697.8 573.2 694.1 578.5 690.2 583.8 686 589.1 681.8 594.5 677.4 599.8 672.5 605.1 667.1 610.4 661.3 615.7 655.3 621.1 649.2 626.4 643.1 631.7 636.4 637 629.6 642.4 623.2 647.7 617.4 653 611.8 658.3 606.3 663.6 600.9 669 595.7 674.3 590.7 679.6 585.8 684.9 581.1 690.2 576.4 695.6 571.8 700.9 567.1 706.2 562.6 711.5 558.2 716.9 553.8 722.2 549.1 727.5 544 732.8 537.5 738.1 526.9 743.5 514.5 748.8 502.8 754.1 491.1 759.4 478.5 764.8 463.7 770.1 446.9 775.4 429.6 780.7 411.9 786 394.6 791.4 375.5 796.7 352.7 802 329.9 807.3 308.7 812.7 282.6 818 253.4 823.3 223.3 828.6 193.9M574.9 704.2L580.2 700.8 585.5 697.1 590.8 693.1 596.1 688.9 601.5 684.7 606.8 680.2 612.1 675.3 617.4 669.8 622.8 664 628.1 657.9 633.4 651.8 638.7 645.6 644 639.1 649.4 632.3 654.7 626 660 620.1 665.3 614.5 670.7 608.9 676 603.6 681.3 598.3 686.6 593.3 691.9 588.4 697.3 583.7 702.6 579 707.9 574.4 713.2 569.7 718.6 565.1 723.9 560.8 729.2 556.3 734.5 551.6 739.8 546.5 745.2 540 750.5 529.2 755.8 516.6 761.1 504.8 766.5 493 771.8 480.3 777.1 465.5 782.4 448.7 787.7 431.4 793.1 413.7 798.4 396.5 803.7 377.6 809 354.8 814.4 332 819.7 310.7 825 284.6 830.3 255.2 835.6 225 841 195.4M587.2 707.1L592.5 703.7 597.8 700 603.2 696 608.5 691.8 613.8 687.5 619.1 683 624.5 678 629.8 672.5 635.1 666.6 640.4 660.5 645.7 654.3 651.1 648.2 656.4 641.6 661.7 635 667 628.6 672.4 622.8 677.7 617.1 683 611.6 688.3 606.2 693.6 600.9 699 595.9 704.3 591 709.6 586.2 714.9 581.6 720.2 576.9 725.6 572.2 730.9 567.7 736.2 563.3 741.5 558.8 746.9 554.2 752.2 549 757.5 542.4 762.8 531.5 768.1 518.7 773.5 506.7 778.8 494.8 784.1 482 789.4 467.2 794.8 450.4 800.1 433 805.4 415.3 810.7 398.2 816 379.4 821.4 356.5 826.7 333.7 832 312.5 837.3 286.4 842.7 256.9 848 226.6 853.3 197M599.5 710L604.9 706.6 610.2 702.8 615.5 698.8 620.8 694.6 626.2 690.3 631.5 685.8 636.8 680.7 642.1 675.2 647.4 669.3 652.8 663.1 658.1 656.9 663.4 650.6 668.7 644.1 674 637.6 679.4 631.3 684.7 625.4 690 619.7 695.3 614.1 700.7 608.7 706 603.5 711.3 598.4 716.6 593.5 721.9 588.8 727.3 584.1 732.6 579.4 737.9 574.7 743.2 570.2 748.6 565.8 753.9 561.3 759.2 556.6 764.5 551.5 769.8 544.8 775.2 533.7 780.5 520.8 785.8 508.6 791.1 496.6 796.5 483.8 801.8 468.9 807.1 452 812.4 434.5 817.7 416.8 823.1 399.7 828.4 381 833.7 358 839 335.2 844.4 314.1 849.7 287.9 855 258.3 860.3 228.1 865.6 198.5M611.9 712.8L617.2 709.4 622.5 705.6 627.8 701.5 633.2 697.3 638.5 692.9 643.8 688.4 649.1 683.3 654.5 677.7 659.8 671.8 665.1 665.6 670.4 659.3 675.7 653 681.1 646.6 686.4 640.1 691.7 633.8 697 627.9 702.4 622.2 707.7 616.6 713 611.2 718.3 605.9 723.6 600.9 729 596 734.3 591.2 739.6 586.5 744.9 581.9 750.3 577.2 755.6 572.6 760.9 568.2 766.2 563.8 771.5 559 776.9 553.9 782.2 547.1 787.5 535.9 792.8 522.8 798.2 510.5 803.5 498.4 808.8 485.5 814.1 470.5 819.4 453.5 824.8 436 830.1 418.1 835.4 401.2 840.7 382.4 846 359.4 851.4 336.6 856.7 315.5 862 289.4 867.3 259.7 872.7 229.6 878 200M624.2 715.5L629.5 712.1 634.9 708.3 640.2 704.2 645.5 699.9 650.8 695.6 656.2 691 661.5 685.9 666.8 680.2 672.1 674.2 677.4 668 682.8 661.6 688.1 655.4 693.4 649 698.7 642.5 704.1 636.3 709.4 630.4 714.7 624.7 720 619.1 725.3 613.6 730.7 608.4 736 603.3 741.3 598.4 746.6 593.6 751.9 588.9 757.3 584.3 762.6 579.6 767.9 575 773.2 570.6 778.6 566.1 783.9 561.4 789.2 556.2 794.5 549.5 799.8 538.1 805.2 524.8 810.5 512.4 815.8 500.2 821.1 487.1 826.5 472.1 831.8 455.1 837.1 437.4 842.4 419.5 847.7 402.5 853.1 383.9 858.4 360.8 863.7 337.9 869 316.9 874.4 290.7 879.7 261.1 885 231 890.3 201.5M636.6 718.2L641.9 714.8 647.2 711 652.5 706.9 657.8 702.6 663.2 698.2 668.5 693.6 673.8 688.5 679.1 682.8 684.5 676.7 689.8 670.4 695.1 664 700.4 657.7 705.7 651.4 711.1 645 716.4 638.8 721.7 632.9 727 627.2 732.4 621.6 737.7 616.1 743 610.8 748.3 605.7 753.6 600.8 759 596.1 764.3 591.4 769.6 586.7 774.9 582 780.3 577.4 785.6 573 790.9 568.5 796.2 563.8 801.5 558.6 806.9 551.8 812.2 540.2 817.5 526.8 822.8 514.2 828.2 501.9 833.5 488.8 838.8 473.7 844.1 456.6 849.4 438.8 854.8 420.8 860.1 403.9 865.4 385.3 870.7 362.1 876.1 339.2 881.4 318.2 886.7 292.1 892 262.4 897.3 232.4 902.7 203M648.9 721L654.2 717.5 659.5 713.7 664.9 709.6 670.2 705.3 675.5 700.9 680.8 696.3 686.2 691.1 691.5 685.3 696.8 679.2 702.1 672.9 707.4 666.5 712.8 660.1 718.1 653.8 723.4 647.5 728.7 641.4 734.1 635.5 739.4 629.7 744.7 624.1 750 618.6 755.3 613.3 760.7 608.2 766 603.3 771.3 598.5 776.6 593.8 782 589.2 787.3 584.4 792.6 579.8 797.9 575.4 803.2 571 808.6 566.3 813.9 561 819.2 554.1 824.5 542.5 829.8 528.8 835.2 516.1 840.5 503.7 845.8 490.5 851.1 475.3 856.5 458.1 861.8 440.3 867.1 422.2 872.4 405.3 877.7 386.7 883.1 363.5 888.4 340.5 893.7 319.6 899 293.5 904.4 263.8 909.7 233.9 915 204.6M661.2 724L666.6 720.5 671.9 716.6 677.2 712.5 682.5 708.2 687.9 703.7 693.2 699.1 698.5 693.8 703.8 688.1 709.1 681.9 714.5 675.5 719.8 669 725.1 662.7 730.4 656.4 735.7 650.2 741.1 644.1 746.4 638.2 751.7 632.4 757 626.7 762.4 621.2 767.7 615.9 773 610.8 778.3 605.9 783.6 601.1 789 596.4 794.3 591.7 799.6 587 804.9 582.4 810.3 578 815.6 573.5 820.9 568.8 826.2 563.5 831.5 556.6 836.9 544.8 842.2 530.9 847.5 518.1 852.8 505.6 858.2 492.3 863.5 477 868.8 459.7 874.1 441.8 879.4 423.6 884.8 406.7 890.1 388.2 895.4 364.9 900.7 341.9 906.1 321 911.4 294.9 916.7 265.2 922 235.4 927.3 206.2M673.6 727.3L678.9 723.7 684.2 719.9 689.5 715.7 694.9 711.3 700.2 706.9 705.5 702.2 710.8 696.9 716.2 691.1 721.5 684.8 726.8 678.4 732.1 671.9 737.4 665.5 742.8 659.3 748.1 653.1 753.4 647 758.7 641.1 764.1 635.3 769.4 629.6 774.7 624.1 780 618.7 785.3 613.6 790.7 608.7 796 603.9 801.3 599.2 806.6 594.5 812 589.8 817.3 585.2 822.6 580.7 827.9 576.3 833.2 571.5 838.6 566.3 843.9 559.3 849.2 547.3 854.5 533.2 859.9 520.3 865.2 507.7 870.5 494.3 875.8 478.9 881.1 461.5 886.5 443.5 891.8 425.2 897.1 408.3 902.4 389.9 907.7 366.5 913.1 343.4 918.4 322.6 923.7 296.5 929 266.8 934.4 237.1 939.7 207.9M685.9 730.6L691.2 727 696.6 723.1 701.9 718.9 707.2 714.5 712.5 710 717.9 705.3 723.2 700 728.5 694.1 733.8 687.8 739.1 681.3 744.5 674.8 749.8 668.4 755.1 662.2 760.4 656.1 765.8 650 771.1 644.1 776.4 638.3 781.7 632.6 787 627 792.4 621.7 797.7 616.5 803 611.6 808.3 606.8 813.6 602.1 819 597.4 824.3 592.7 829.6 588 834.9 583.6 840.3 579.1 845.6 574.4 850.9 569.1 856.2 562 861.5 549.9 866.9 535.6 872.2 522.6 877.5 509.9 882.8 496.3 888.2 480.9 893.5 463.5 898.8 445.3 904.1 427 909.4 410.1 914.8 391.7 920.1 368.3 925.4 345.1 930.7 324.4 936.1 298.2 941.4 268.5 946.7 238.8 952 209.8M698.3 733.5L703.6 730 708.9 726.1 714.2 721.9 719.5 717.5 724.9 712.9 730.2 708.2 735.5 702.9 740.8 696.9 746.2 690.6 751.5 684 756.8 677.5 762.1 671 767.4 664.9 772.8 658.8 778.1 652.8 783.4 646.9 788.7 641.1 794.1 635.4 799.4 629.8 804.7 624.4 810 619.3 815.3 614.4 820.7 609.6 826 604.9 831.3 600.2 836.6 595.4 842 590.8 847.3 586.4 852.6 581.9 857.9 577.1 863.2 571.8 868.6 564.7 873.9 552.4 879.2 538 884.5 524.8 889.9 512 895.2 498.4 900.5 482.9 905.8 465.4 911.1 447.1 916.5 428.7 921.8 411.9 927.1 393.5 932.4 370 937.8 346.9 943.1 326.2 948.4 300 953.7 270.3 959 240.7 964.4 211.7M710.6 735.8L715.9 732.3 721.2 728.4 726.6 724.2 731.9 719.8 737.2 715.2 742.5 710.5 747.9 705.1 753.2 699.2 758.5 692.8 763.8 686.2 769.1 679.6 774.5 673.2 779.8 667.1 785.1 661.2 790.4 655.2 795.8 649.3 801.1 643.5 806.4 637.8 811.7 632.2 817 626.8 822.4 621.7 827.7 616.8 833 612 838.3 607.3 843.7 602.7 849 597.9 854.3 593.3 859.6 588.9 864.9 584.4 870.3 579.7 875.6 574.4 880.9 567.2 886.2 554.8 891.5 540.3 896.9 527 902.2 514.1 907.5 500.4 912.8 484.8 918.2 467.2 923.5 448.9 928.8 430.4 934.1 413.6 939.4 395.3 944.8 371.8 950.1 348.6 955.4 328 960.7 301.8 966.1 272.1 971.4 242.7 976.7 213.8M93.6 543L105.9 546.5 118.3 550.4 130.6 554.8 143 559.7 155.3 565 167.6 571 180 577.4 192.3 584 204.7 590.9 217 597.8 229.3 604.7 241.7 611.6 254 617.7 266.4 623.3 278.7 628.4 291 633.1 303.4 637.4 315.7 641 328.1 644.2 340.4 647 352.7 649.3 365.1 651.4 377.4 653.4 389.8 655.5 402.1 657.7 414.4 660.3 426.8 663.2 439.1 666.4 451.5 669.7 463.8 673.1 476.1 676.5 488.5 680.3 500.8 684.1 513.2 688 525.5 691.6 537.8 694.9 550.2 698.1 562.5 701.2 574.9 704.2 587.2 707.1 599.5 710 611.9 712.8 624.2 715.5 636.6 718.2 648.9 721 661.2 724 673.6 727.3 685.9 730.6 698.3 733.5 710.6 735.8M98.9 539.6L111.3 543.3 123.6 547.4 135.9 551.8 148.3 556.8 160.6 562.2 173 568.2 185.3 574.6 197.6 581.2 210 588 222.3 594.8 234.7 601.8 247 608.5 259.3 614.6 271.7 620.2 284 625.3 296.4 630 308.7 634.3 321 637.9 333.4 641.1 345.7 643.8 358.1 646.2 370.4 648.3 382.7 650.3 395.1 652.4 407.4 654.6 419.8 657.1 432.1 660 444.4 663.2 456.8 666.5 469.1 669.9 481.5 673.3 493.8 677.1 506.1 680.9 518.5 684.7 530.8 688.3 543.2 691.6 555.5 694.7 567.8 697.8 580.2 700.8 592.5 703.7 604.9 706.6 617.2 709.4 629.5 712.1 641.9 714.8 654.2 717.5 666.6 720.5 678.9 723.7 691.2 727 703.6 730 715.9 732.3M104.2 536.1L116.6 539.9 128.9 544.1 141.3 548.7 153.6 553.7 165.9 559.2 178.3 565.2 190.6 571.7 203 578.2 215.3 585 227.6 591.7 240 598.6 252.3 605.3 264.7 611.3 277 616.9 289.3 621.9 301.7 626.6 314 630.9 326.4 634.5 338.7 637.7 351 640.5 363.4 642.8 375.7 644.9 388.1 646.9 400.4 649 412.7 651.2 425.1 653.7 437.4 656.5 449.8 659.7 462.1 663.1 474.4 666.5 486.8 669.9 499.1 673.6 511.5 677.3 523.8 681.1 536.1 684.6 548.5 687.9 560.8 691.1 573.2 694.1 585.5 697.1 597.8 700 610.2 702.8 622.5 705.6 634.9 708.3 647.2 711 659.5 713.7 671.9 716.6 684.2 719.9 696.6 723.1 708.9 726.1 721.2 728.4M109.6 532.4L121.9 536.4 134.2 540.7 146.6 545.4 158.9 550.5 171.3 556 183.6 562.1 195.9 568.5 208.3 575 220.6 581.8 233 588.5 245.3 595.3 257.6 601.9 270 607.9 282.3 613.4 294.7 618.4 307 623.1 319.3 627.3 331.7 630.9 344 634.1 356.4 636.9 368.7 639.3 381 641.4 393.4 643.4 405.7 645.4 418.1 647.6 430.4 650.1 442.7 652.8 455.1 656 467.4 659.4 479.8 662.8 492.1 666.2 504.4 669.8 516.8 673.6 529.1 677.3 541.5 680.8 553.8 684 566.1 687.1 578.5 690.2 590.8 693.1 603.2 696 615.5 698.8 627.8 701.5 640.2 704.2 652.5 706.9 664.9 709.6 677.2 712.5 689.5 715.7 701.9 718.9 714.2 721.9 726.6 724.2M114.9 528.7L127.2 532.8 139.6 537.2 151.9 542 164.2 547.2 176.6 552.8 188.9 558.9 201.3 565.3 213.6 571.8 225.9 578.4 238.3 585.1 250.6 591.8 263 598.4 275.3 604.3 287.6 609.7 300 614.7 312.3 619.4 324.7 623.6 337 627.2 349.3 630.4 361.7 633.2 374 635.6 386.4 637.7 398.7 639.7 411 641.7 423.4 643.9 435.7 646.3 448.1 649 460.4 652.2 472.7 655.6 485.1 659 497.4 662.3 509.8 665.9 522.1 669.6 534.4 673.3 546.8 676.7 559.1 680 571.5 683 583.8 686 596.1 688.9 608.5 691.8 620.8 694.6 633.2 697.3 645.5 699.9 657.8 702.6 670.2 705.3 682.5 708.2 694.9 711.3 707.2 714.5 719.5 717.5 731.9 719.8M120.2 524.8L132.6 529.1 144.9 533.7 157.2 538.5 169.6 543.8 181.9 549.4 194.2 555.5 206.6 561.9 218.9 568.4 231.3 575 243.6 581.6 256 588.3 268.3 594.8 280.6 600.6 293 606 305.3 611 317.6 615.6 330 619.8 342.3 623.4 354.7 626.6 367 629.4 379.4 631.7 391.7 633.9 404 635.9 416.4 637.9 428.7 640 441.1 642.4 453.4 645 465.7 648.2 478.1 651.7 490.4 655 502.8 658.3 515.1 661.9 527.4 665.5 539.8 669.2 552.1 672.6 564.5 675.8 576.8 678.8 589.1 681.8 601.5 684.7 613.8 687.5 626.2 690.3 638.5 692.9 650.8 695.6 663.2 698.2 675.5 700.9 687.9 703.7 700.2 706.9 712.5 710 724.9 712.9 737.2 715.2M125.5 520.9L137.9 525.3 150.2 530 162.6 535 174.9 540.3 187.2 546 199.6 552.1 211.9 558.5 224.3 564.9 236.6 571.5 248.9 578 261.3 584.6 273.6 591.1 286 596.8 298.3 602.2 310.6 607.1 323 611.7 335.3 615.9 347.7 619.5 360 622.7 372.3 625.4 384.7 627.8 397 630 409.4 631.9 421.7 633.9 434 636 446.4 638.3 458.7 640.9 471.1 644.1 483.4 647.6 495.7 651 508.1 654.2 520.4 657.7 532.8 661.3 545.1 664.9 557.4 668.3 569.8 671.4 582.1 674.5 594.5 677.4 606.8 680.2 619.1 683 631.5 685.8 643.8 688.4 656.2 691 668.5 693.6 680.8 696.3 693.2 699.1 705.5 702.2 717.9 705.3 730.2 708.2 742.5 710.5M130.9 517L143.2 521.5 155.5 526.3 167.9 531.3 180.2 536.7 192.6 542.4 204.9 548.6 217.2 555 229.6 561.3 241.9 567.8 254.3 574.3 266.6 580.8 278.9 587.2 291.3 592.9 303.6 598.2 316 603 328.3 607.6 340.6 611.7 353 615.3 365.3 618.4 377.7 621.2 390 623.6 402.3 625.7 414.7 627.7 427 629.6 439.4 631.7 451.7 633.9 464 636.4 476.4 639.7 488.7 643.1 501.1 646.5 513.4 649.7 525.7 653.1 538.1 656.7 550.4 660.2 562.8 663.5 575.1 666.6 587.4 669.6 599.8 672.5 612.1 675.3 624.5 678 636.8 680.7 649.1 683.3 661.5 685.9 673.8 688.5 686.2 691.1 698.5 693.8 710.8 696.9 723.2 700 735.5 702.9 747.9 705.1M136.2 512.9L148.5 517.5 160.9 522.4 173.2 527.5 185.5 533 197.9 538.7 210.2 544.9 222.6 551.2 234.9 557.5 247.2 563.9 259.6 570.3 271.9 576.7 284.3 583 296.6 588.6 308.9 593.8 321.3 598.7 333.6 603.1 346 607.3 358.3 610.8 370.6 613.9 383 616.7 395.3 619 407.7 621.1 420 623.1 432.3 625 444.7 627 457 629.2 469.4 631.6 481.7 634.8 494 638.2 506.4 641.6 518.7 644.7 531.1 648.1 543.4 651.6 555.7 655 568.1 658.3 580.4 661.3 592.8 664.2 605.1 667.1 617.4 669.8 629.8 672.5 642.1 675.2 654.5 677.7 666.8 680.2 679.1 682.8 691.5 685.3 703.8 688.1 716.2 691.1 728.5 694.1 740.8 696.9 753.2 699.2M141.5 508.5L153.8 513.3 166.2 518.3 178.5 523.5 190.9 528.9 203.2 534.7 215.5 540.9 227.9 547.2 240.2 553.4 252.6 559.7 264.9 566 277.2 572.4 289.6 578.5 301.9 584.1 314.3 589.2 326.6 594 338.9 598.4 351.3 602.5 363.6 606 376 609.1 388.3 611.8 400.6 614.2 413 616.2 425.3 618.1 437.7 620 450 622 462.3 624.1 474.7 626.4 487 629.6 499.4 633 511.7 636.3 524 639.4 536.4 642.7 548.7 646.1 561.1 649.5 573.4 652.7 585.7 655.7 598.1 658.5 610.4 661.3 622.8 664 635.1 666.6 647.4 669.3 659.8 671.8 672.1 674.2 684.5 676.7 696.8 679.2 709.1 681.9 721.5 684.8 733.8 687.8 746.2 690.6 758.5 692.8M146.8 503.8L159.2 508.7 171.5 513.8 183.8 519.1 196.2 524.6 208.5 530.4 220.9 536.6 233.2 542.8 245.5 549 257.9 555.3 270.2 561.5 282.6 567.7 294.9 573.8 307.2 579.3 319.6 584.3 331.9 589 344.3 593.4 356.6 597.5 368.9 600.9 381.3 604 393.6 606.7 406 609 418.3 611.1 430.6 612.9 443 614.7 455.3 616.7 467.7 618.7 480 620.9 492.3 624.1 504.7 627.6 517 630.8 529.4 633.9 541.7 637.1 554 640.4 566.4 643.7 578.7 646.9 591.1 649.8 603.4 652.6 615.7 655.3 628.1 657.9 640.4 660.5 652.8 663.1 665.1 665.6 677.4 668 689.8 670.4 702.1 672.9 714.5 675.5 726.8 678.4 739.1 681.3 751.5 684 763.8 686.2M152.1 498.8L164.5 503.8 176.8 509 189.2 514.3 201.5 519.9 213.8 525.8 226.2 532 238.5 538.2 250.9 544.3 263.2 550.5 275.5 556.6 287.9 562.8 300.2 568.8 312.6 574.2 324.9 579.2 337.2 583.8 349.6 588.2 361.9 592.2 374.3 595.6 386.6 598.6 398.9 601.3 411.3 603.7 423.6 605.7 436 607.5 448.3 609.3 460.6 611.2 473 613.1 485.3 615.3 497.7 618.5 510 621.9 522.3 625.2 534.7 628.2 547 631.3 559.4 634.6 571.7 637.8 584 640.9 596.4 643.8 608.7 646.5 621.1 649.2 633.4 651.8 645.7 654.3 658.1 656.9 670.4 659.3 682.8 661.6 695.1 664 707.4 666.5 719.8 669 732.1 671.9 744.5 674.8 756.8 677.5 769.1 679.6M157.5 493.1L169.8 498.3 182.1 503.6 194.5 509 206.8 514.7 219.2 520.6 231.5 526.8 243.8 533 256.2 539.1 268.5 545.2 280.9 551.3 293.2 557.4 305.5 563.3 317.9 568.6 330.2 573.6 342.6 578.2 354.9 582.5 367.2 586.5 379.6 589.9 391.9 593 404.3 595.7 416.6 598 428.9 600 441.3 601.8 453.6 603.6 466 605.5 478.3 607.4 490.6 609.5 503 612.6 515.3 616.1 527.7 619.4 540 622.3 552.3 625.5 564.7 628.7 577 631.9 589.4 634.9 601.7 637.7 614 640.4 626.4 643.1 638.7 645.6 651.1 648.2 663.4 650.6 675.7 653 688.1 655.4 700.4 657.7 712.8 660.1 725.1 662.7 737.4 665.5 749.8 668.4 762.1 671 774.5 673.2M162.8 484.4L175.1 489.8 187.5 495.3 199.8 500.9 212.1 506.7 224.5 512.7 236.8 519 249.2 525.3 261.5 531.4 273.8 537.5 286.2 543.6 298.5 549.7 310.9 555.6 323.2 560.9 335.5 565.9 347.9 570.5 360.2 574.9 372.6 579 384.9 582.4 397.2 585.5 409.6 588.3 421.9 590.7 434.3 592.8 446.6 594.7 458.9 596.5 471.3 598.4 483.6 600.3 496 602.4 508.3 605.7 520.6 609.2 533 612.5 545.3 615.5 557.7 618.7 570 621.9 582.3 625.1 594.7 628.2 607 631 619.4 633.8 631.7 636.4 644 639.1 656.4 641.6 668.7 644.1 681.1 646.6 693.4 649 705.7 651.4 718.1 653.8 730.4 656.4 742.8 659.3 755.1 662.2 767.4 664.9 779.8 667.1M168.1 474.3L180.4 479.9 192.8 485.7 205.1 491.5 217.5 497.4 229.8 503.6 242.1 510 254.5 516.4 266.8 522.5 279.2 528.7 291.5 534.8 303.8 541 316.2 546.9 328.5 552.3 340.9 557.3 353.2 562 365.5 566.4 377.9 570.6 390.2 574.1 402.6 577.3 414.9 580.2 427.2 582.7 439.6 584.9 451.9 586.8 464.3 588.7 476.6 590.8 488.9 592.7 501.3 594.9 513.6 598.2 526 601.9 538.3 605.3 550.6 608.3 563 611.5 575.3 614.8 587.7 618.1 600 621.2 612.3 624.1 624.7 626.9 637 629.6 649.4 632.3 661.7 635 674 637.6 686.4 640.1 698.7 642.5 711.1 645 723.4 647.5 735.7 650.2 748.1 653.1 760.4 656.1 772.8 658.8 785.1 661.2M173.4 465.9L185.8 471.8 198.1 477.7 210.4 483.6 222.8 489.7 235.1 496 247.5 502.5 259.8 508.9 272.1 515.1 284.5 521.3 296.8 527.4 309.2 533.5 321.5 539.5 333.9 544.9 346.2 549.9 358.5 554.6 370.9 559.1 383.2 563.3 395.6 566.9 407.9 570.2 420.2 573.1 432.6 575.7 444.9 577.9 457.2 579.9 469.6 581.9 481.9 583.9 494.3 585.9 506.6 588 519 591.4 531.3 595.2 543.6 598.7 556 601.7 568.3 605 580.7 608.3 593 611.6 605.3 614.7 617.7 617.6 630 620.5 642.4 623.2 654.7 626 667 628.6 679.4 631.3 691.7 633.8 704.1 636.3 716.4 638.8 728.7 641.4 741.1 644.1 753.4 647 765.8 650 778.1 652.8 790.4 655.2M178.8 459.8L191.1 465.8 203.4 471.9 215.8 477.9 228.1 484.1 240.5 490.5 252.8 497 265.1 503.5 277.5 509.6 289.8 515.8 302.2 521.8 314.5 527.9 326.8 533.8 339.2 539.2 351.5 544.2 363.9 548.9 376.2 553.4 388.5 557.5 400.9 561.2 413.2 564.4 425.6 567.4 437.9 570 450.2 572.2 462.6 574.3 474.9 576.2 487.3 578.3 499.6 580.2 511.9 582.3 524.3 585.7 536.6 589.5 549 593 561.3 596.1 573.6 599.3 586 602.5 598.3 605.8 610.7 608.9 623 611.8 635.3 614.6 647.7 617.4 660 620.1 672.4 622.8 684.7 625.4 697 627.9 709.4 630.4 721.7 632.9 734.1 635.5 746.4 638.2 758.7 641.1 771.1 644.1 783.4 646.9 795.8 649.3M184.1 454.3L196.4 460.5 208.8 466.7 221.1 472.8 233.4 479.1 245.8 485.5 258.1 492.1 270.5 498.5 282.8 504.7 295.1 510.8 307.5 516.8 319.8 522.8 332.2 528.6 344.5 533.9 356.8 538.9 369.2 543.6 381.5 548 393.9 552.2 406.2 555.8 418.5 559.1 430.9 562 443.2 564.7 455.6 566.9 467.9 569 480.2 570.9 492.6 572.9 504.9 574.8 517.3 576.9 529.6 580.3 541.9 584.1 554.3 587.6 566.6 590.7 579 593.8 591.3 597.1 603.6 600.3 616 603.3 628.3 606.2 640.7 609 653 611.8 665.3 614.5 677.7 617.1 690 619.7 702.4 622.2 714.7 624.7 727 627.2 739.4 629.7 751.7 632.4 764.1 635.3 776.4 638.3 788.7 641.1 801.1 643.5M189.4 449.1L201.7 455.4 214.1 461.7 226.4 468 238.8 474.3 251.1 480.8 263.4 487.4 275.8 493.8 288.1 499.9 300.5 506 312.8 512 325.1 517.9 337.5 523.7 349.8 528.9 362.2 533.9 374.5 538.5 386.8 542.9 399.2 547.1 411.5 550.7 423.9 554 436.2 556.9 448.5 559.6 460.9 561.8 473.2 563.9 485.6 565.8 497.9 567.8 510.2 569.6 522.6 571.6 534.9 575.1 547.3 578.9 559.6 582.4 571.9 585.4 584.3 588.6 596.6 591.7 609 594.9 621.3 597.9 633.6 600.8 646 603.6 658.3 606.3 670.7 608.9 683 611.6 695.3 614.1 707.7 616.6 720 619.1 732.4 621.6 744.7 624.1 757 626.7 769.4 629.6 781.7 632.6 794.1 635.4 806.4 637.8M194.7 443.8L207.1 450.3 219.4 456.8 231.7 463.1 244.1 469.5 256.4 476.1 268.8 482.7 281.1 489.1 293.4 495.2 305.8 501.2 318.1 507.1 330.5 513 342.8 518.7 355.1 524 367.5 528.8 379.8 533.4 392.2 537.9 404.5 542 416.8 545.6 429.2 548.9 441.5 551.9 453.9 554.5 466.2 556.8 478.5 558.8 490.9 560.7 503.2 562.7 515.6 564.5 527.9 566.5 540.2 569.9 552.6 573.8 564.9 577.3 577.3 580.3 589.6 583.4 601.9 586.5 614.3 589.7 626.6 592.7 639 595.5 651.3 598.2 663.6 600.9 676 603.6 688.3 606.2 700.7 608.7 713 611.2 725.3 613.6 737.7 616.1 750 618.6 762.4 621.2 774.7 624.1 787 627 799.4 629.8 811.7 632.2M200 438.5L212.4 445.2 224.7 451.7 237.1 458.2 249.4 464.7 261.7 471.3 274.1 478 286.4 484.4 298.8 490.5 311.1 496.5 323.4 502.3 335.8 508.2 348.1 513.8 360.5 519 372.8 523.8 385.1 528.4 397.5 532.8 409.8 536.9 422.2 540.6 434.5 543.9 446.8 546.8 459.2 549.5 471.5 551.8 483.9 553.8 496.2 555.7 508.5 557.7 520.9 559.5 533.2 561.4 545.6 564.9 557.9 568.8 570.2 572.3 582.6 575.2 594.9 578.3 607.3 581.4 619.6 584.5 631.9 587.5 644.3 590.3 656.6 593 669 595.7 681.3 598.3 693.6 600.9 706 603.5 718.3 605.9 730.7 608.4 743 610.8 755.3 613.3 767.7 615.9 780 618.7 792.4 621.7 804.7 624.4 817 626.8M205.4 433.3L217.7 440.1 230 446.8 242.4 453.4 254.7 460 267.1 466.6 279.4 473.4 291.7 479.8 304.1 485.8 316.4 491.8 328.8 497.6 341.1 503.4 353.4 509 365.8 514.1 378.1 518.9 390.5 523.5 402.8 527.9 415.1 532 427.5 535.7 439.8 538.9 452.2 541.9 464.5 544.6 476.8 547 489.2 549 501.5 550.9 513.9 552.9 526.2 554.6 538.5 556.5 550.9 560 563.2 563.9 575.6 567.4 587.9 570.4 600.2 573.4 612.6 576.5 624.9 579.6 637.3 582.5 649.6 585.3 661.9 588 674.3 590.7 686.6 593.3 699 595.9 711.3 598.4 723.6 600.9 736 603.3 748.3 605.7 760.7 608.2 773 610.8 785.3 613.6 797.7 616.5 810 619.3 822.4 621.7M210.7 428.1L223 435 235.4 441.9 247.7 448.6 260 455.3 272.4 462 284.7 468.8 297.1 475.2 309.4 481.2 321.7 487.2 334.1 492.9 346.4 498.7 358.8 504.2 371.1 509.3 383.4 514.1 395.8 518.7 408.1 523 420.5 527.2 432.8 530.9 445.1 534.1 457.5 537.2 469.8 539.9 482.2 542.2 494.5 544.3 506.8 546.2 519.2 548.2 531.5 549.8 543.9 551.7 556.2 555.2 568.5 559.2 580.9 562.7 593.2 565.7 605.6 568.7 617.9 571.7 630.2 574.8 642.6 577.7 654.9 580.5 667.3 583.2 679.6 585.8 691.9 588.4 704.3 591 716.6 593.5 729 596 741.3 598.4 753.6 600.8 766 603.3 778.3 605.9 790.7 608.7 803 611.6 815.3 614.4 827.7 616.8M216 422.9L228.3 430.1 240.7 437.1 253 443.9 265.4 450.7 277.7 457.5 290 464.3 302.4 470.8 314.7 476.8 327.1 482.6 339.4 488.4 351.7 494.1 364.1 499.6 376.4 504.6 388.8 509.4 401.1 513.9 413.4 518.3 425.8 522.5 438.1 526.1 450.5 529.4 462.8 532.5 475.1 535.2 487.5 537.6 499.8 539.6 512.2 541.6 524.5 543.6 536.8 545.2 549.2 547 561.5 550.6 573.9 554.6 586.2 558.1 598.5 561 610.9 564 623.2 567.1 635.6 570.1 647.9 573 660.2 575.7 672.6 578.4 684.9 581.1 697.3 583.7 709.6 586.2 721.9 588.8 734.3 591.2 746.6 593.6 759 596.1 771.3 598.5 783.6 601.1 796 603.9 808.3 606.8 820.7 609.6 833 612M221.3 417.9L233.7 425.2 246 432.3 258.3 439.3 270.7 446.1 283 453 295.4 459.9 307.7 466.4 320 472.3 332.4 478.2 344.7 483.9 357.1 489.5 369.4 495 381.7 500 394.1 504.8 406.4 509.3 418.8 513.6 431.1 517.8 443.4 521.5 455.8 524.8 468.1 527.9 480.5 530.6 492.8 533 505.1 535.1 517.5 537 529.8 539 542.2 540.6 554.5 542.4 566.8 546 579.2 550 591.5 553.6 603.9 556.5 616.2 559.5 628.5 562.5 640.9 565.5 653.2 568.4 665.6 571.1 677.9 573.8 690.2 576.4 702.6 579 714.9 581.6 727.3 584.1 739.6 586.5 751.9 588.9 764.3 591.4 776.6 593.8 789 596.4 801.3 599.2 813.6 602.1 826 604.9 838.3 607.3M226.7 412.9L239 420.4 251.3 427.7 263.7 434.7 276 441.7 288.4 448.7 300.7 455.6 313 462 325.4 468 337.7 473.8 350.1 479.5 362.4 485.1 374.7 490.5 387.1 495.5 399.4 500.2 411.8 504.7 424.1 509 436.4 513.2 448.8 516.9 461.1 520.2 473.4 523.3 485.8 526.1 498.1 528.5 510.5 530.6 522.8 532.5 535.2 534.5 547.5 536.1 559.8 537.8 572.2 541.4 584.5 545.5 596.8 549.1 609.2 552 621.5 555 633.9 557.9 646.2 560.9 658.5 563.8 670.9 566.5 683.2 569.2 695.6 571.8 707.9 574.4 720.2 576.9 732.6 579.4 744.9 581.9 757.3 584.3 769.6 586.7 782 589.2 794.3 591.7 806.6 594.5 819 597.4 831.3 600.2 843.7 602.7M232 408.1L244.3 415.7 256.7 423.2 269 430.3 281.3 437.4 293.7 444.4 306 451.4 318.4 457.8 330.7 463.8 343 469.6 355.4 475.1 367.7 480.7 380.1 486.1 392.4 491 404.7 495.7 417.1 500.2 429.4 504.5 441.8 508.7 454.1 512.4 466.4 515.7 478.8 518.8 491.1 521.7 503.5 524.1 515.8 526.2 528.1 528.1 540.5 530.1 552.8 531.6 565.2 533.3 577.5 536.9 589.8 541.1 602.2 544.7 614.5 547.5 626.9 550.5 639.2 553.4 651.5 556.3 663.9 559.2 676.2 561.9 688.6 564.5 700.9 567.1 713.2 569.7 725.6 572.2 737.9 574.7 750.3 577.2 762.6 579.6 774.9 582 787.3 584.4 799.6 587 812 589.8 824.3 592.7 836.6 595.4 849 597.9M237.3 403.4L249.6 411.1 262 418.7 274.3 426 286.7 433.1 299 440.2 311.3 447.2 323.7 453.7 336 459.6 348.4 465.4 360.7 470.9 373 476.4 385.4 481.7 397.7 486.6 410.1 491.3 422.4 495.7 434.7 500.1 447.1 504.2 459.4 508 471.8 511.3 484.1 514.4 496.4 517.3 508.8 519.7 521.1 521.8 533.5 523.8 545.8 525.7 558.1 527.2 570.5 528.9 582.8 532.5 595.2 536.7 607.5 540.3 619.8 543.2 632.2 546 644.5 549 656.9 551.9 669.2 554.7 681.5 557.4 693.9 560 706.2 562.6 718.6 565.1 730.9 567.7 743.2 570.2 755.6 572.6 767.9 575 780.3 577.4 792.6 579.8 804.9 582.4 817.3 585.2 829.6 588 842 590.8 854.3 593.3M242.6 398.6L255 406.5 267.3 414.2 279.6 421.6 292 428.9 304.3 436.1 316.7 443.1 329 449.6 341.3 455.5 353.7 461.2 366 466.7 378.4 472.2 390.7 477.5 403 482.3 415.4 486.9 427.7 491.4 440.1 495.7 452.4 499.9 464.7 503.6 477.1 507 489.4 510.1 501.8 513 514.1 515.5 526.4 517.5 538.8 519.5 551.1 521.5 563.5 523 575.8 524.5 588.1 528.2 600.5 532.5 612.8 536.1 625.2 538.9 637.5 541.8 649.8 544.7 662.2 547.5 674.5 550.3 686.9 553 699.2 555.6 711.5 558.2 723.9 560.8 736.2 563.3 748.6 565.8 760.9 568.2 773.2 570.6 785.6 573 797.9 575.4 810.3 578 822.6 580.7 834.9 583.6 847.3 586.4 859.6 588.9M247.9 393.7L260.3 401.8 272.6 409.7 285 417.2 297.3 424.5 309.6 431.8 322 438.9 334.3 445.4 346.7 451.3 359 456.9 371.3 462.4 383.7 467.8 396 473.1 408.4 477.9 420.7 482.5 433 486.9 445.4 491.3 457.7 495.4 470.1 499.2 482.4 502.6 494.7 505.7 507.1 508.6 519.4 511.1 531.8 513.2 544.1 515.2 556.4 517.1 568.8 518.6 581.1 520.2 593.5 523.9 605.8 528.1 618.1 531.8 630.5 534.6 642.8 537.4 655.2 540.3 667.5 543.2 679.8 545.9 692.2 548.6 704.5 551.2 716.9 553.8 729.2 556.3 741.5 558.8 753.9 561.3 766.2 563.8 778.6 566.1 790.9 568.5 803.2 571 815.6 573.5 827.9 576.3 840.3 579.1 852.6 581.9 864.9 584.4M253.3 388.7L265.6 397 277.9 405 290.3 412.6 302.6 420 315 427.4 327.3 434.5 339.6 441 352 446.9 364.3 452.6 376.7 458 389 463.4 401.3 468.5 413.7 473.3 426 477.9 438.4 482.3 450.7 486.6 463 490.8 475.4 494.6 487.7 498 500.1 501.2 512.4 504.1 524.7 506.6 537.1 508.7 549.4 510.7 561.8 512.6 574.1 514.1 586.4 515.6 598.8 519.3 611.1 523.6 623.5 527.3 635.8 530.1 648.1 532.9 660.5 535.7 672.8 538.6 685.2 541.3 697.5 544 709.8 546.6 722.2 549.1 734.5 551.6 746.9 554.2 759.2 556.6 771.5 559 783.9 561.4 796.2 563.8 808.6 566.3 820.9 568.8 833.2 571.5 845.6 574.4 857.9 577.1 870.3 579.7M258.6 383.8L270.9 392.2 283.3 400.4 295.6 408.1 307.9 415.6 320.3 423 332.6 430.2 345 436.7 357.3 442.5 369.6 448.1 382 453.5 394.3 458.8 406.7 463.9 419 468.7 431.3 473.2 443.7 477.5 456 481.9 468.4 486 480.7 489.8 493 493.2 505.4 496.4 517.7 499.3 530.1 501.9 542.4 503.9 554.7 505.9 567.1 507.8 579.4 509.2 591.8 510.7 604.1 514.4 616.4 518.8 628.8 522.4 641.1 525.2 653.5 528 665.8 530.8 678.1 533.6 690.5 536.3 702.8 538.9 715.2 541.5 727.5 544 739.8 546.5 752.2 549 764.5 551.5 776.9 553.9 789.2 556.2 801.5 558.6 813.9 561 826.2 563.5 838.6 566.3 850.9 569.1 863.2 571.8 875.6 574.4M263.9 378.7L276.2 387.3 288.6 395.5 300.9 403.3 313.3 410.8 325.6 418.3 337.9 425.4 350.3 431.9 362.6 437.7 375 443.2 387.3 448.5 399.6 453.7 412 458.7 424.3 463.4 436.7 467.8 449 472.2 461.3 476.4 473.7 480.5 486 484.3 498.4 487.6 510.7 490.8 523 493.7 535.4 496.2 547.7 498.3 560.1 500.2 572.4 502.1 584.7 503.4 597.1 504.7 609.4 508.5 621.8 512.8 634.1 516.4 646.4 519.2 658.8 521.9 671.1 524.6 683.5 527.3 695.8 530 708.1 532.5 720.5 535 732.8 537.5 745.2 540 757.5 542.4 769.8 544.8 782.2 547.1 794.5 549.5 806.9 551.8 819.2 554.1 831.5 556.6 843.9 559.3 856.2 562 868.6 564.7 880.9 567.2M269.2 373.3L281.6 381.9 293.9 390.1 306.2 397.9 318.6 405.3 330.9 412.7 343.3 419.8 355.6 426.1 367.9 431.7 380.3 437.1 392.6 442.2 405 447.2 417.3 452 429.6 456.5 442 460.8 454.3 464.9 466.7 469 479 473 491.3 476.6 503.7 479.8 516 482.9 528.4 485.7 540.7 488.1 553 490 565.4 491.8 577.7 493.5 590.1 494.6 602.4 495.8 614.7 499.4 627.1 503.6 639.4 507.1 651.8 509.7 664.1 512.2 676.4 514.8 688.8 517.3 701.1 519.8 713.5 522.2 725.8 524.6 738.1 526.9 750.5 529.2 762.8 531.5 775.2 533.7 787.5 535.9 799.8 538.1 812.2 540.2 824.5 542.5 836.9 544.8 849.2 547.3 861.5 549.9 873.9 552.4 886.2 554.8M274.5 367.3L286.9 375.9 299.2 384.1 311.6 391.7 323.9 399.1 336.2 406.4 348.6 413.3 360.9 419.5 373.3 424.9 385.6 430.1 397.9 434.9 410.3 439.7 422.6 444.4 435 448.6 447.3 452.7 459.6 456.6 472 460.6 484.3 464.4 496.7 467.8 509 470.9 521.3 473.8 533.7 476.4 546 478.6 558.4 480.4 570.7 482 583 483.5 595.4 484.5 607.7 485.4 620.1 488.9 632.4 493 644.7 496.3 657.1 498.7 669.4 501 681.8 503.4 694.1 505.7 706.4 508 718.8 510.2 731.1 512.4 743.5 514.5 755.8 516.6 768.1 518.7 780.5 520.8 792.8 522.8 805.2 524.8 817.5 526.8 829.8 528.8 842.2 530.9 854.5 533.2 866.9 535.6 879.2 538 891.5 540.3M279.9 360.2L292.2 368.7 304.6 376.9 316.9 384.6 329.2 392 341.6 399.2 353.9 406 366.3 412.1 378.6 417.4 390.9 422.3 403.3 427 415.6 431.7 428 436.1 440.3 440.2 452.6 444.1 465 447.9 477.3 451.7 489.7 455.4 502 458.7 514.3 461.7 526.7 464.4 539 467 551.4 469.1 563.7 470.7 576 472.2 588.4 473.6 600.7 474.4 613 475.2 625.4 478.6 637.7 482.6 650.1 485.8 662.4 488 674.8 490.2 687.1 492.4 699.4 494.6 711.8 496.7 724.1 498.8 736.5 500.8 748.8 502.8 761.1 504.8 773.5 506.7 785.8 508.6 798.2 510.5 810.5 512.4 822.8 514.2 835.2 516.1 847.5 518.1 859.9 520.3 872.2 522.6 884.5 524.8 896.9 527M285.2 351.8L297.5 360.4 309.9 368.7 322.2 376.4 334.6 383.7 346.9 390.9 359.2 397.7 371.6 403.7 383.9 408.8 396.3 413.7 408.6 418.2 420.9 422.7 433.3 427 445.6 431 458 434.8 470.3 438.5 482.6 442.2 495 445.7 507.3 449 519.7 451.8 532 454.6 544.3 457 556.7 459.1 569 460.6 581.4 462 593.7 463.3 606 464 618.4 464.6 630.7 467.9 643.1 471.9 655.4 475 667.7 477.1 680.1 479.2 692.4 481.3 704.8 483.3 717.1 485.3 729.4 487.3 741.8 489.2 754.1 491.1 766.5 493 778.8 494.8 791.1 496.6 803.5 498.4 815.8 500.2 828.2 501.9 840.5 503.7 852.8 505.6 865.2 507.7 877.5 509.9 889.9 512 902.2 514.1M290.5 342.2L302.9 351 315.2 359.3 327.5 367 339.9 374.4 352.2 381.6 364.6 388.3 376.9 394.2 389.2 399.2 401.6 403.9 413.9 408.4 426.3 412.7 438.6 416.9 450.9 420.7 463.3 424.4 475.6 428 488 431.6 500.3 435.1 512.6 438.3 525 441 537.3 443.7 549.7 446.1 562 448.1 574.3 449.5 586.7 450.9 599 452.2 611.4 452.9 623.7 453.5 636 456.7 648.4 460.3 660.7 463.3 673.1 465.2 685.4 467.2 697.7 469.1 710.1 471 722.4 472.9 734.8 474.8 747.1 476.7 759.4 478.5 771.8 480.3 784.1 482 796.5 483.8 808.8 485.5 821.1 487.1 833.5 488.8 845.8 490.5 858.2 492.3 870.5 494.3 882.8 496.3 895.2 498.4 907.5 500.4M295.8 330.2L308.2 339 320.5 347.4 332.9 355.2 345.2 362.6 357.5 369.7 369.9 376.4 382.2 382.3 394.6 387.2 406.9 391.8 419.2 396.1 431.6 400.4 443.9 404.4 456.3 408.1 468.6 411.7 480.9 415.2 493.3 418.7 505.6 422.1 518 425.2 530.3 427.9 542.6 430.5 555 432.9 567.3 434.8 579.7 436.2 592 437.5 604.3 439 616.7 440.1 629 441 641.4 443.7 653.7 446.8 666 449.4 678.4 451.1 690.7 452.8 703.1 454.5 715.4 456.3 727.7 458.2 740.1 460 752.4 461.9 764.8 463.7 777.1 465.5 789.4 467.2 801.8 468.9 814.1 470.5 826.5 472.1 838.8 473.7 851.1 475.3 863.5 477 875.8 478.9 888.2 480.9 900.5 482.9 912.8 484.8M301.2 316L313.5 324.9 325.8 333.3 338.2 341.1 350.5 348.5 362.9 355.7 375.2 362.4 387.5 368.1 399.9 373 412.2 377.5 424.6 381.7 436.9 385.8 449.2 389.7 461.6 393.4 473.9 396.8 486.3 400.2 498.6 403.7 510.9 407 523.3 410.1 535.6 412.7 548 415.3 560.3 417.6 572.6 419.4 585 420.8 597.3 422.1 609.7 423.9 622 425.7 634.3 426.8 646.7 429.1 659 431.3 671.4 433.4 683.7 434.8 696 436.2 708.4 437.8 720.7 439.4 733.1 441.2 745.4 443.1 757.7 445 770.1 446.9 782.4 448.7 794.8 450.4 807.1 452 819.4 453.5 831.8 455.1 844.1 456.6 856.5 458.1 868.8 459.7 881.1 461.5 893.5 463.5 905.8 465.4 918.2 467.2M306.5 302.1L318.8 311 331.2 319.5 343.5 327.4 355.8 334.8 368.2 341.9 380.5 348.6 392.9 354.2 405.2 359 417.5 363.4 429.9 367.4 442.2 371.4 454.6 375.2 466.9 378.6 479.2 382 491.6 385.3 503.9 388.6 516.3 391.9 528.6 394.9 540.9 397.4 553.3 399.9 565.6 402.1 578 403.9 590.3 405.2 602.6 406.5 615 408.7 627.3 411.2 639.7 412.8 652 414.3 664.3 415.6 676.7 417.1 689 418.1 701.4 419.2 713.7 420.5 726 421.9 738.4 423.7 750.7 425.6 763.1 427.6 775.4 429.6 787.7 431.4 800.1 433 812.4 434.5 824.8 436 837.1 437.4 849.4 438.8 861.8 440.3 874.1 441.8 886.5 443.5 898.8 445.3 911.1 447.1 923.5 448.9M311.8 287.2L324.1 296.3 336.5 304.9 348.8 312.7 361.2 320.1 373.5 327.3 385.8 333.9 398.2 339.5 410.5 344.2 422.9 348.4 435.2 352.4 447.5 356.2 459.9 359.8 472.2 363.2 484.6 366.4 496.9 369.6 509.2 372.9 521.6 376.1 533.9 379 546.3 381.5 558.6 383.9 570.9 386.1 583.3 387.8 595.6 389.1 608 390.4 620.3 392.9 632.6 396.2 645 398.3 657.3 399.2 669.7 399.4 682 400.2 694.3 400.9 706.7 401.7 719 402.7 731.4 404 743.7 405.7 756 407.7 768.4 409.9 780.7 411.9 793.1 413.7 805.4 415.3 817.7 416.8 830.1 418.1 842.4 419.5 854.8 420.8 867.1 422.2 879.4 423.6 891.8 425.2 904.1 427 916.5 428.7 928.8 430.4M317.1 268.8L329.5 278 341.8 286.7 354.1 294.7 366.5 302.3 378.8 309.5 391.2 316.2 403.5 321.8 415.8 326.5 428.2 330.8 440.5 334.7 452.9 338.5 465.2 342.2 477.5 345.5 489.9 348.7 502.2 352 514.6 355.2 526.9 358.5 539.2 361.4 551.6 364 563.9 366.4 576.3 368.6 588.6 370.4 600.9 371.7 613.3 373.2 625.6 376.1 638 380.4 650.3 382.9 662.6 383.3 675 382.6 687.3 383 699.7 383.4 712 384.1 724.3 384.9 736.7 386.1 749 387.9 761.4 390.1 773.7 392.4 786 394.6 798.4 396.5 810.7 398.2 823.1 399.7 835.4 401.2 847.7 402.5 860.1 403.9 872.4 405.3 884.8 406.7 897.1 408.3 909.4 410.1 921.8 411.9 934.1 413.6M322.4 247.6L334.8 257 347.1 266 359.5 274.1 371.8 281.8 384.1 289.2 396.5 296 408.8 301.6 421.2 306.4 433.5 310.6 445.8 314.6 458.2 318.4 470.5 322 482.9 325.4 495.2 328.7 507.5 331.9 519.9 335.3 532.2 338.5 544.6 341.5 556.9 344.1 569.2 346.7 581.6 349 593.9 350.9 606.3 352.2 618.6 353.8 630.9 357.2 643.3 362.2 655.6 365.2 668 365.2 680.3 363.8 692.6 363.8 705 364 717.3 364.5 729.7 365.3 742 366.5 754.3 368.3 766.7 370.7 779 373.2 791.4 375.5 803.7 377.6 816 379.4 828.4 381 840.7 382.4 853.1 383.9 865.4 385.3 877.7 386.7 890.1 388.2 902.4 389.9 914.8 391.7 927.1 393.5 939.4 395.3M327.8 226.9L340.1 236.4 352.4 245.4 364.8 253.7 377.1 261.4 389.5 268.8 401.8 275.5 414.1 281.2 426.5 285.8 438.8 290 451.2 293.8 463.5 297.5 475.8 301.1 488.2 304.3 500.5 307.5 512.9 310.7 525.2 313.9 537.5 317.1 549.9 320.1 562.2 322.7 574.6 325.2 586.9 327.4 599.2 329.3 611.6 330.6 623.9 332.2 636.3 335.7 648.6 341.1 660.9 344.4 673.3 344 685.6 342 698 341.6 710.3 341.7 722.6 342 735 342.5 747.3 343.6 759.7 345.4 772 347.8 784.3 350.3 796.7 352.7 809 354.8 821.4 356.5 833.7 358 846 359.4 858.4 360.8 870.7 362.1 883.1 363.5 895.4 364.9 907.7 366.5 920.1 368.3 932.4 370 944.8 371.8M333.1 205.2L345.4 214.9 357.8 224 370.1 232.3 382.5 240.1 394.8 247.5 407.1 254.3 419.5 259.9 431.8 264.5 444.2 268.6 456.5 272.3 468.8 276 481.2 279.4 493.5 282.6 505.9 285.7 518.2 288.8 530.5 292.1 542.9 295.2 555.2 298.2 567.6 300.7 579.9 303.2 592.2 305.5 604.6 307.3 616.9 308.6 629.2 310.1 641.6 313.7 653.9 319.3 666.3 322.5 678.6 322 690.9 319.9 703.3 319.3 715.6 319.3 728 319.5 740.3 319.9 752.6 320.9 765 322.7 777.3 325 789.7 327.6 802 329.9 814.4 332 826.7 333.7 839 335.2 851.4 336.6 863.7 337.9 876.1 339.2 888.4 340.5 900.7 341.9 913.1 343.4 925.4 345.1 937.8 346.9 950.1 348.6M338.4 181.3L350.8 191.2 363.1 200.5 375.4 209 387.8 216.9 400.1 224.5 412.5 231.3 424.8 237 437.1 241.7 449.5 245.8 461.8 249.6 474.2 253.2 486.5 256.7 498.8 259.9 511.2 263 523.5 266.2 535.9 269.5 548.2 272.7 560.5 275.7 572.9 278.3 585.2 280.9 597.6 283.2 609.9 285.2 622.2 286.5 634.6 288.1 646.9 291.8 659.3 297.4 671.6 300.7 683.9 300.2 696.3 298.2 708.6 297.7 721 297.7 733.3 298 745.6 298.4 758 299.5 770.3 301.3 782.7 303.6 795 306.2 807.3 308.7 819.7 310.7 832 312.5 844.4 314.1 856.7 315.5 869 316.9 881.4 318.2 893.7 319.6 906.1 321 918.4 322.6 930.7 324.4 943.1 326.2 955.4 328M343.7 154.8L356.1 164.9 368.4 174.4 380.8 183 393.1 191 405.4 198.7 417.8 205.6 430.1 211.2 442.5 215.9 454.8 219.9 467.1 223.7 479.5 227.3 491.8 230.7 504.2 233.9 516.5 237 528.8 240.1 541.2 243.4 553.5 246.7 565.9 249.7 578.2 252.3 590.5 254.9 602.9 257.3 615.2 259.2 627.6 260.5 639.9 262.2 652.2 265.8 664.6 271.4 676.9 274.6 689.3 274.2 701.6 272.2 713.9 271.8 726.3 271.8 738.6 272 751 272.4 763.3 273.4 775.6 275.2 788 277.6 800.3 280.1 812.7 282.6 825 284.6 837.3 286.4 849.7 287.9 862 289.4 874.4 290.7 886.7 292.1 899 293.5 911.4 294.9 923.7 296.5 936.1 298.2 948.4 300 960.7 301.8M349.1 125.1L361.4 135.4 373.7 145 386.1 153.7 398.4 161.8 410.8 169.5 423.1 176.4 435.4 182.1 447.8 186.7 460.1 190.8 472.5 194.5 484.8 198 497.1 201.4 509.5 204.5 521.8 207.6 534.2 210.7 546.5 214 558.8 217.2 571.2 220.2 583.5 222.9 595.9 225.5 608.2 227.9 620.5 229.8 632.9 231.2 645.2 232.6 657.6 235.3 669.9 239 682.2 241 694.6 241.9 706.9 241.9 719.3 242.6 731.6 243.1 743.9 243.7 756.3 244.4 768.6 245.5 781 247.1 793.3 249.2 805.6 251.3 818 253.4 830.3 255.2 842.7 256.9 855 258.3 867.3 259.7 879.7 261.1 892 262.4 904.4 263.8 916.7 265.2 929 266.8 941.4 268.5 953.7 270.3 966.1 272.1M354.4 90.7L366.7 101.2 379.1 111 391.4 120 403.7 128.2 416.1 136.1 428.4 143.2 440.8 149 453.1 153.7 465.4 157.8 477.8 161.5 490.1 165.1 502.5 168.5 514.8 171.7 527.1 174.9 539.5 178.1 551.8 181.4 564.2 184.8 576.5 187.9 588.8 190.6 601.2 193.4 613.5 195.9 625.9 197.9 638.2 199.3 650.5 200.7 662.9 202.6 675.2 204.4 687.6 205.4 699.9 207.6 712.2 209.8 724.6 211.7 736.9 212.8 749.3 213.9 761.6 215 773.9 216.3 786.3 217.9 798.6 219.6 811 221.5 823.3 223.3 835.6 225 848 226.6 860.3 228.1 872.7 229.6 885 231 897.3 232.4 909.7 233.9 922 235.4 934.4 237.1 946.7 238.8 959 240.7 971.4 242.7M359.7 57.1L372 67.9 384.4 77.9 396.7 87.1 409.1 95.5 421.4 103.6 433.7 110.8 446.1 116.7 458.4 121.4 470.8 125.6 483.1 129.4 495.4 133 507.8 136.5 520.1 139.7 532.5 142.9 544.8 146.2 557.1 149.6 569.5 153.1 581.8 156.3 594.2 159.1 606.5 162 618.8 164.6 631.2 166.8 643.5 168.3 655.9 169.5 668.2 170.6 680.5 170.6 692.9 170.5 705.2 174 717.6 178.3 729.9 181.5 742.2 183.2 754.6 184.7 766.9 186.2 779.3 187.7 791.6 189.2 803.9 190.8 816.3 192.3 828.6 193.9 841 195.4 853.3 197 865.6 198.5 878 200 890.3 201.5 902.7 203 915 204.6 927.3 206.2 939.7 207.9 952 209.8 964.4 211.7 976.7 213.8"/><text x="74" y="60.1" font-size="68" text-anchor="middle" font-family="Carlito,'Liberation Sans',Arial,sans-serif" fill="#000" font-weight="bold" textLength="75.9" lengthAdjust="spacingAndGlyphs">(a)</text><rect x="1171.4" y="16.0" width="818.6" height="696.5" fill="#4b4bcc"/><path fill="#b21900" d="M1990 400.4L1764 400.4 1709 427 1661 400.4 1326 400.4 1318 408 1318 505 1324 511.4 1377 511.4 1412 537 1432 540 1448 552 1454.5 560 1454.5 630 1461 636 1549 636 1556 643 1556 712.5 1990 712.5Z"/><path fill="none" stroke="#fdfdfb" stroke-width="19" stroke-linejoin="round" d="M1990 400.4L1764 400.4 1709 427 1661 400.4 1326 400.4 1318 408 1318 505 1324 511.4 1377 511.4 1412 537 1432 540 1448 552 1454.5 560 1454.5 630 1461 636 1549 636 1556 643 1556 712.5"/><path stroke="#c5cbbd" stroke-width="1.6" d="M1336 391.5v17.5M1352.3 391.5v17.5M1368.6 391.5v17.5M1384.9 391.5v17.5M1401.2 391.5v17.5M1417.5 391.5v17.5M1433.8 391.5v17.5M1450.1 391.5v17.5M1466.4 391.5v17.5M1482.7 391.5v17.5M1499 391.5v17.5M1515.3 391.5v17.5M1531.6 391.5v17.5M1547.9 391.5v17.5M1564.2 391.5v17.5M1580.5 391.5v17.5M1596.8 391.5v17.5M1613.1 391.5v17.5M1629.4 391.5v17.5M1645.7 391.5v17.5M1776.1 391.5v17.5M1792.4 391.5v17.5M1808.7 391.5v17.5M1825 391.5v17.5M1841.3 391.5v17.5M1857.6 391.5v17.5M1873.9 391.5v17.5M1890.2 391.5v17.5M1906.5 391.5v17.5M1922.8 391.5v17.5M1939.1 391.5v17.5M1955.4 391.5v17.5M1971.7 391.5v17.5M1988 391.5v17.5"/><path fill="#1d1d26" d="M1202.5 42h14.4v14.4h-14.4zM1290.3 42h14.4v14.4h-14.4zM1508.6 42h14.4v14.4h-14.4zM1596.4 42h14.4v14.4h-14.4zM1726.9 42h14.4v14.4h-14.4zM1290.3 182.5h14.4v14.4h-14.4zM1799.6 182.5h14.4v14.4h-14.4zM1945.1 182.5h14.4v14.4h-14.4zM1247.2 323h14.4v14.4h-14.4zM1290.3 323h14.4v14.4h-14.4zM1333 323h14.4v14.4h-14.4zM1399.2 323h14.4v14.4h-14.4zM1508.6 323h14.4v14.4h-14.4zM1596.4 323h14.4v14.4h-14.4zM1726.9 323h14.4v14.4h-14.4zM1799.6 323h14.4v14.4h-14.4zM1945.1 323h14.4v14.4h-14.4zM1290.3 463.4h14.4v14.4h-14.4zM1333 463.4h14.4v14.4h-14.4zM1399.2 463.4h14.4v14.4h-14.4zM1508.6 463.4h14.4v14.4h-14.4zM1596.4 463.4h14.4v14.4h-14.4zM1799.6 463.4h14.4v14.4h-14.4zM1945.1 463.4h14.4v14.4h-14.4zM1333 533.7h14.4v14.4h-14.4zM1726.9 533.7h14.4v14.4h-14.4zM1508.6 575.8h14.4v14.4h-14.4zM1290.3 603.9h14.4v14.4h-14.4zM1333 603.9h14.4v14.4h-14.4zM1399.2 603.9h14.4v14.4h-14.4zM1508.6 603.9h14.4v14.4h-14.4zM1596.4 603.9h14.4v14.4h-14.4zM1799.6 603.9h14.4v14.4h-14.4zM1945.1 603.9h14.4v14.4h-14.4zM1726.9 621h14.4v14.4h-14.4zM1202.5 660.1h14.4v14.4h-14.4zM1247.2 660.1h14.4v14.4h-14.4zM1290.3 660.1h14.4v14.4h-14.4zM1333 660.1h14.4v14.4h-14.4zM1399.2 660.1h14.4v14.4h-14.4zM1508.6 660.1h14.4v14.4h-14.4zM1596.4 660.1h14.4v14.4h-14.4zM1799.6 660.1h14.4v14.4h-14.4zM1945.1 660.1h14.4v14.4h-14.4zM1290.3 675.2h14.4v14.4h-14.4z"/><rect x="1171.4" y="16.0" width="818.6" height="696.5" fill="none" stroke="#2a2a40" stroke-width="1.2"/><path stroke="#2a2a50" stroke-width="1" d="M1209.7 16.0v7M1209.7 712.5v-7M1341 16.0v7M1341 712.5v-7M1472.3 16.0v7M1472.3 712.5v-7M1603.6 16.0v7M1603.6 712.5v-7M1734.9 16.0v7M1734.9 712.5v-7M1866.2 16.0v7M1866.2 712.5v-7M1171.4 611.1h7M1990.0 611.1h-7M1171.4 470.6h7M1990.0 470.6h-7M1171.4 330.1h7M1990.0 330.1h-7M1171.4 189.6h7M1990.0 189.6h-7M1171.4 49.1h7M1990.0 49.1h-7"/><text x="1143" y="51.1" font-size="25" text-anchor="middle" font-family="'Liberation Serif','Times New Roman',serif" fill="#333" textLength="23.5" lengthAdjust="spacingAndGlyphs">25</text><text x="1143" y="191.6" font-size="25" text-anchor="middle" font-family="'Liberation Serif','Times New Roman',serif" fill="#333" textLength="23.5" lengthAdjust="spacingAndGlyphs">20</text><text x="1143" y="332.1" font-size="25" text-anchor="middle" font-family="'Liberation Serif','Times New Roman',serif" fill="#333" textLength="23.5" lengthAdjust="spacingAndGlyphs">15</text><text x="1143" y="472.6" font-size="25" text-anchor="middle" font-family="'Liberation Serif','Times New Roman',serif" fill="#333" textLength="23.5" lengthAdjust="spacingAndGlyphs">10</text><text x="1149.5" y="613.1" font-size="25" text-anchor="middle" font-family="'Liberation Serif','Times New Roman',serif" fill="#333" textLength="11.8" lengthAdjust="spacingAndGlyphs">5</text><text x="1203.2" y="741.5" font-size="25" text-anchor="middle" font-family="'Liberation Serif','Times New Roman',serif" fill="#333" textLength="28.5" lengthAdjust="spacingAndGlyphs">0.1</text><text x="1335.2" y="741.5" font-size="25" text-anchor="middle" font-family="'Liberation Serif','Times New Roman',serif" fill="#333" textLength="28.5" lengthAdjust="spacingAndGlyphs">0.2</text><text x="1465.6" y="741.5" font-size="25" text-anchor="middle" font-family="'Liberation Serif','Times New Roman',serif" fill="#333" textLength="28.5" lengthAdjust="spacingAndGlyphs">0.3</text><text x="1597.1" y="741.5" font-size="25" text-anchor="middle" font-family="'Liberation Serif','Times New Roman',serif" fill="#333" textLength="28.5" lengthAdjust="spacingAndGlyphs">0.4</text><text x="1727.5" y="741.5" font-size="25" text-anchor="middle" font-family="'Liberation Serif','Times New Roman',serif" fill="#333" textLength="28.5" lengthAdjust="spacingAndGlyphs">0.5</text><text x="1859" y="741.5" font-size="25" text-anchor="middle" font-family="'Liberation Serif','Times New Roman',serif" fill="#333" textLength="28.5" lengthAdjust="spacingAndGlyphs">0.6</text><text x="1574.5" y="780.9" font-size="24" text-anchor="middle" font-family="'Liberation Serif','Times New Roman',serif" fill="#333" textLength="36" lengthAdjust="spacingAndGlyphs">2r/d</text><text x="1092.8" y="379.5" font-size="24" text-anchor="middle" font-family="'Liberation Serif','Times New Roman',serif" fill="#333" textLength="30" lengthAdjust="spacingAndGlyphs" transform="rotate(-90 1092.8 371.3)">h/d</text><text x="1623.5" y="220.8" font-size="64" text-anchor="middle" font-family="Carlito,'Liberation Sans',Arial,sans-serif" fill="#fff" font-weight="bold" textLength="608" lengthAdjust="spacingAndGlyphs">Electrical Breakdown</text><text x="1762" y="562.8" font-size="64" text-anchor="middle" font-family="Carlito,'Liberation Sans',Arial,sans-serif" fill="#fff" font-weight="bold" textLength="287" lengthAdjust="spacingAndGlyphs">Instability</text><text x="1062" y="60.1" font-size="68" text-anchor="middle" font-family="Carlito,'Liberation Sans',Arial,sans-serif" fill="#000" font-weight="bold" textLength="78.9" lengthAdjust="spacingAndGlyphs">(b)</text><line x1="94.7" y1="1593.7" x2="94.7" y2="1076.7" stroke="#858585" stroke-width="1.1"/><line x1="94.7" y1="1076.7" x2="412.7" y2="858.5" stroke="#858585" stroke-width="1.1"/><line x1="412.7" y1="858.5" x2="977.8" y2="983.8" stroke="#858585" stroke-width="1.1"/><line x1="977.8" y1="983.8" x2="977.8" y2="1500.8" stroke="#858585" stroke-width="1.1"/><line x1="412.7" y1="858.5" x2="412.7" y2="1375.5" stroke="#858585" stroke-width="1.1"/><line x1="94.7" y1="1593.7" x2="659.8" y2="1719" stroke="#858585" stroke-width="1.1"/><line x1="659.8" y1="1719" x2="977.8" y2="1500.8" stroke="#858585" stroke-width="1.1"/><line x1="412.7" y1="1375.5" x2="977.8" y2="1500.8" stroke="#858585" stroke-width="1.1"/><line x1="94.7" y1="1593.7" x2="412.7" y2="1375.5" stroke="#858585" stroke-width="1.1"/><line x1="94.7" y1="1593.7" x2="81" y2="1590.7" stroke="#858585" stroke-width="1.0"/><line x1="94.7" y1="1490.3" x2="81" y2="1487.3" stroke="#858585" stroke-width="1.0"/><line x1="94.7" y1="1386.9" x2="81" y2="1383.9" stroke="#858585" stroke-width="1.0"/><line x1="94.7" y1="1283.5" x2="81" y2="1280.5" stroke="#858585" stroke-width="1.0"/><line x1="94.7" y1="1180.1" x2="81" y2="1177.1" stroke="#858585" stroke-width="1.0"/><line x1="94.7" y1="1076.7" x2="81" y2="1073.7" stroke="#858585" stroke-width="1.0"/><text x="69.8" y="1086" font-size="27" text-anchor="end" font-family="'Liberation Serif','Times New Roman',serif" fill="#444">50</text><text x="69.8" y="1188.7" font-size="27" text-anchor="end" font-family="'Liberation Serif','Times New Roman',serif" fill="#444">40</text><text x="69.8" y="1291.3" font-size="27" text-anchor="end" font-family="'Liberation Serif','Times New Roman',serif" fill="#444">30</text><text x="69.8" y="1396.6" font-size="27" text-anchor="end" font-family="'Liberation Serif','Times New Roman',serif" fill="#444">20</text><text x="69.8" y="1499.2" font-size="27" text-anchor="end" font-family="'Liberation Serif','Times New Roman',serif" fill="#444">10</text><text x="69.8" y="1602.9" font-size="27" text-anchor="end" font-family="'Liberation Serif','Times New Roman',serif" fill="#444">0</text><line x1="161.5" y1="1608.5" x2="149.9" y2="1616.4" stroke="#858585" stroke-width="1.0"/><text x="123.3" y="1651.4" font-size="27" text-anchor="middle" font-family="'Liberation Serif','Times New Roman',serif" fill="#444">0.6</text><line x1="261.1" y1="1630.6" x2="249.6" y2="1638.5" stroke="#858585" stroke-width="1.0"/><text x="222" y="1673.8" font-size="27" text-anchor="middle" font-family="'Liberation Serif','Times New Roman',serif" fill="#444">0.5</text><line x1="360.8" y1="1652.7" x2="349.3" y2="1660.6" stroke="#858585" stroke-width="1.0"/><text x="322.2" y="1696.2" font-size="27" text-anchor="middle" font-family="'Liberation Serif','Times New Roman',serif" fill="#444">0.4</text><line x1="460.5" y1="1674.8" x2="448.9" y2="1682.7" stroke="#858585" stroke-width="1.0"/><text x="422.3" y="1718.7" font-size="27" text-anchor="middle" font-family="'Liberation Serif','Times New Roman',serif" fill="#444">0.3</text><line x1="560.1" y1="1696.9" x2="548.6" y2="1704.8" stroke="#858585" stroke-width="1.0"/><text x="521" y="1739.6" font-size="27" text-anchor="middle" font-family="'Liberation Serif','Times New Roman',serif" fill="#444">0.2</text><line x1="659.8" y1="1719" x2="648.3" y2="1726.9" stroke="#858585" stroke-width="1.0"/><text x="621.1" y="1762" font-size="27" text-anchor="middle" font-family="'Liberation Serif','Times New Roman',serif" fill="#444">0.1</text><line x1="943.7" y1="1524.2" x2="957.4" y2="1527.2" stroke="#858585" stroke-width="1.0"/><text x="972.3" y="1557.6" font-size="27" text-anchor="middle" font-family="'Liberation Serif','Times New Roman',serif" fill="#444">5</text><line x1="872.7" y1="1572.9" x2="886.4" y2="1575.9" stroke="#858585" stroke-width="1.0"/><text x="909.1" y="1605.2" font-size="27" text-anchor="middle" font-family="'Liberation Serif','Times New Roman',serif" fill="#444">10</text><line x1="801.8" y1="1621.6" x2="815.4" y2="1624.6" stroke="#858585" stroke-width="1.0"/><text x="838.2" y="1655.2" font-size="27" text-anchor="middle" font-family="'Liberation Serif','Times New Roman',serif" fill="#444">15</text><line x1="730.8" y1="1670.3" x2="744.5" y2="1673.3" stroke="#858585" stroke-width="1.0"/><text x="766.2" y="1703.9" font-size="27" text-anchor="middle" font-family="'Liberation Serif','Times New Roman',serif" fill="#444">20</text><line x1="659.8" y1="1719" x2="673.5" y2="1722" stroke="#858585" stroke-width="1.0"/><text x="695.3" y="1752.6" font-size="27" text-anchor="middle" font-family="'Liberation Serif','Times New Roman',serif" fill="#444">25</text><text x="343" y="1754.6" font-size="27" text-anchor="middle" font-family="'Liberation Serif','Times New Roman',serif" fill="#444">2r/d</text><text x="888.1" y="1668.4" font-size="27" text-anchor="middle" font-family="'Liberation Serif','Times New Roman',serif" fill="#444">h/d</text><text x="23.7" y="1346.2" font-size="27" text-anchor="middle" font-family="'Liberation Serif','Times New Roman',serif" fill="#555" textLength="258" lengthAdjust="spacingAndGlyphs" transform="rotate(-90 23.7 1337)">Actuation strain (%)</text><g><path fill="#30123b" stroke="#30123b" stroke-width="0.6" d="M648.5 1713.8l11.3 3.8 6.4 -5.8 -11.3 -3.8z"/><path fill="#321543" stroke="#321543" stroke-width="0.6" d="M614.6 1703.3l11.3 3.9 6.4 -5.7 -11.3 -3.7zM625.9 1707.1l11.3 3.3 6.4 -5.8 -11.3 -3.3zM637.2 1710.4l11.3 3.3 6.4 -5.7 -11.3 -3.3zM643.6 1704.7l11.3 3.3 6.4 -5.8 -11.3 -3.5zM654.9 1708l11.3 3.8 6.4 -5.8 -11.3 -3.8zM661.2 1702.2l11.3 3.8 6.4 -5.8 -11.3 -3.9z"/><path fill="#341b51" stroke="#341b51" stroke-width="0.6" d="M592 1695.1l11.3 3.8 6.4 -5.3 -11.3 -3.9zM603.3 1698.9l11.3 4.4 6.4 -5.5 -11.3 -4.1zM609.6 1693.7l11.3 4.1 6.4 -6.1 -11.3 -3.9zM621 1697.8l11.3 3.7 6.4 -6.1 -11.3 -3.6zM632.3 1701.4l11.3 3.3 6.4 -5.9 -11.3 -3.4zM638.6 1695.3l11.3 3.4 6.4 -6.1 -11.3 -3.6zM649.9 1698.7l11.3 3.5 6.4 -5.9 -11.3 -3.7zM656.3 1692.7l11.3 3.7 6.4 -6 -11.3 -3.9zM667.6 1696.3l11.3 3.9 6.4 -5.8 -11.3 -4.1zM673.9 1690.3l11.3 4.1 6.4 -5.8 -11.3 -4.3z"/><path fill="#351e58" stroke="#351e58" stroke-width="0.6" d="M151.9 1542l11.3 2.3 6.4 -4.1 -11.3 -2.3zM158.3 1538l11.3 2.3 6.4 -4.1 -11.3 -2.3zM164.7 1533.9l11.3 2.3 6.4 -4.2 -11.3 -2.3zM171 1529.7l11.3 2.3 6.4 -4.3 -11.3 -2.3zM177.4 1525.4l11.3 2.3 6.4 -4.5 -11.3 -2.3zM169.6 1540.3l11.3 2.3 6.4 -4.1 -11.3 -2.3zM176 1536.2l11.3 2.3 6.4 -4.2 -11.3 -2.2zM182.3 1532l11.3 2.2 6.4 -4.4 -11.3 -2.2zM188.7 1527.7l11.3 2.2 6.4 -4.5 -11.3 -2.2zM524.2 1678.4l11.3 3 6.4 -6.2 -11.3 -3.2zM535.5 1681.4l11.3 2.5 6.4 -6 -11.3 -2.7zM546.8 1683.8l11.3 2.5 6.4 -5.8 -11.3 -2.6zM558.1 1686.3l11.3 2.6 6.4 -5.7 -11.3 -2.8zM569.4 1688.9l11.3 2.9 6.4 -5.5 -11.3 -3.1zM580.7 1691.8l11.3 3.3 6.4 -5.3 -11.3 -3.5zM587 1686.3l11.3 3.5 6.4 -5.8 -11.3 -3.6zM598.3 1689.8l11.3 3.9 6.4 -5.9 -11.3 -3.8zM604.7 1683.9l11.3 3.8 6.4 -6.3 -11.3 -3.8zM616 1687.8l11.3 3.9 6.4 -6.3 -11.3 -3.8zM627.3 1691.7l11.3 3.6 6.4 -6.3 -11.3 -3.7zM633.7 1685.4l11.3 3.7 6.4 -6.4 -11.3 -3.8zM645 1689.1l11.3 3.6 6.4 -6.2 -11.3 -3.8zM651.3 1682.7l11.3 3.8 6.4 -6.2 -11.3 -4zM662.6 1686.5l11.3 3.9 6.4 -6 -11.3 -4.1zM669 1680.2l11.3 4.1 6.4 -6 -11.3 -4.3zM680.3 1684.3l11.3 4.3 6.4 -5.8 -11.3 -4.6zM686.7 1678.3l11.3 4.6 6.4 -5.8 -11.3 -4.8z"/><path fill="#372466" stroke="#372466" stroke-width="0.6" d="M94.7 1580.9l11.3 2.2 6.4 -4.6 -11.3 -2.2zM101.1 1576.3l11.3 2.2 6.4 -4.5 -11.3 -2.2zM107.4 1571.9l11.3 2.2 6.4 -4.4 -11.3 -2.2zM113.8 1567.5l11.3 2.2 6.4 -4.3 -11.3 -2.2zM120.1 1563.2l11.3 2.2 6.4 -4.3 -11.3 -2.2zM126.5 1558.9l11.3 2.2 6.4 -4.2 -11.3 -2.2zM132.9 1554.6l11.3 2.2 6.4 -4.2 -11.3 -2.3zM139.2 1550.4l11.3 2.3 6.4 -4.2 -11.3 -2.3zM145.6 1546.2l11.3 2.3 6.4 -4.1 -11.3 -2.3zM183.7 1520.9l11.3 2.3 6.4 -4.8 -11.3 -2.2zM190.1 1516.2l11.3 2.2 6.4 -5 -11.3 -2.2zM196.5 1511.1l11.3 2.2 6.4 -5.4 -11.3 -2.2zM202.8 1505.8l11.3 2.2 6.4 -5.7 -11.3 -2.2zM106 1583.1l11.3 2.2 6.4 -4.6 -11.3 -2.2zM112.4 1578.5l11.3 2.2 6.4 -4.5 -11.3 -2.2zM118.7 1574l11.3 2.2 6.4 -4.4 -11.3 -2.2zM125.1 1569.7l11.3 2.2 6.4 -4.3 -11.3 -2.2zM131.4 1565.4l11.3 2.2 6.4 -4.2 -11.3 -2.2zM137.8 1561.1l11.3 2.2 6.4 -4.2 -11.3 -2.2zM144.2 1556.9l11.3 2.2 6.4 -4.2 -11.3 -2.3zM150.5 1552.7l11.3 2.3 6.4 -4.1 -11.3 -2.3zM156.9 1548.5l11.3 2.3 6.4 -4.1 -11.3 -2.3zM163.2 1544.4l11.3 2.3 6.4 -4.1 -11.3 -2.3zM195 1523.1l11.3 2.2 6.4 -4.8 -11.3 -2.1zM201.4 1518.4l11.3 2.1 6.4 -5.1 -11.3 -2.1zM207.8 1513.3l11.3 2.1 6.4 -5.4 -11.3 -2.1zM117.3 1585.2l11.3 2.1 6.4 -4.6 -11.3 -2.1zM123.7 1580.7l11.3 2.1 6.4 -4.5 -11.3 -2.1zM130 1576.2l11.3 2.1 6.4 -4.4 -11.3 -2.1zM136.4 1571.8l11.3 2.1 6.4 -4.3 -11.3 -2.1zM142.7 1567.5l11.3 2.1 6.4 -4.2 -11.3 -2.2zM149.1 1563.3l11.3 2.2 6.4 -4.2 -11.3 -2.2zM155.5 1559.1l11.3 2.2 6.4 -4.1 -11.3 -2.2zM161.8 1555l11.3 2.2 6.4 -4.1 -11.3 -2.2zM168.2 1550.8l11.3 2.2 6.4 -4.1 -11.3 -2.3zM174.5 1546.7l11.3 2.3 6.4 -4.1 -11.3 -2.2zM180.9 1542.6l11.3 2.2 6.4 -4.2 -11.3 -2.2zM187.3 1538.5l11.3 2.2 6.4 -4.3 -11.3 -2.2zM193.6 1534.2l11.3 2.2 6.4 -4.4 -11.3 -2.1zM200 1529.9l11.3 2.1 6.4 -4.6 -11.3 -2.1zM206.3 1525.3l11.3 2.1 6.4 -4.8 -11.3 -2.1zM212.7 1520.5l11.3 2.1 6.4 -5 -11.3 -2.1zM219.1 1515.5l11.3 2.1 6.4 -5.3 -11.3 -2.1zM128.6 1587.4l11.3 2 6.4 -4.6 -11.3 -2zM135 1582.8l11.3 2 6.4 -4.5 -11.3 -2zM141.3 1578.3l11.3 2 6.4 -4.4 -11.3 -2zM147.7 1574l11.3 2 6.4 -4.3 -11.3 -2.1zM154 1569.7l11.3 2.1 6.4 -4.2 -11.3 -2.1zM160.4 1565.5l11.3 2.1 6.4 -4.1 -11.3 -2.1zM166.8 1561.3l11.3 2.1 6.4 -4.1 -11.3 -2.1zM173.1 1557.2l11.3 2.1 6.4 -4.1 -11.3 -2.1zM179.5 1553.1l11.3 2.1 6.4 -4.1 -11.3 -2.1zM185.8 1549l11.3 2.1 6.4 -4.1 -11.3 -2.1zM192.2 1544.8l11.3 2.1 6.4 -4.2 -11.3 -2.1zM198.6 1540.6l11.3 2.1 6.4 -4.3 -11.3 -2.1zM204.9 1536.4l11.3 2.1 6.4 -4.4 -11.3 -2zM211.3 1532l11.3 2 6.4 -4.6 -11.3 -2zM217.6 1527.4l11.3 2 6.4 -4.8 -11.3 -2zM224 1522.6l11.3 2 6.4 -5 -11.3 -2.1zM230.4 1517.6l11.3 2.1 6.4 -5.3 -11.3 -2.1zM139.9 1589.4l11.3 1.9 6.4 -4.6 -11.3 -1.9zM146.3 1584.8l11.3 1.9 6.4 -4.5 -11.3 -1.9zM152.6 1580.4l11.3 1.9 6.4 -4.4 -11.3 -2zM159 1576l11.3 2 6.4 -4.3 -11.3 -2zM165.3 1571.7l11.3 2 6.4 -4.2 -11.3 -2zM171.7 1567.5l11.3 2 6.4 -4.1 -11.3 -2zM178.1 1563.4l11.3 2 6.4 -4.1 -11.3 -2zM184.4 1559.3l11.3 2 6.4 -4.1 -11.3 -2zM190.8 1555.2l11.3 2 6.4 -4.1 -11.3 -2zM197.1 1551.1l11.3 2 6.4 -4.2 -11.3 -2zM203.5 1546.9l11.3 2 6.4 -4.2 -11.3 -1.9zM209.9 1542.7l11.3 1.9 6.4 -4.3 -11.3 -1.9zM216.2 1538.4l11.3 1.9 6.4 -4.4 -11.3 -1.9zM222.6 1534l11.3 1.9 6.4 -4.6 -11.3 -1.9zM228.9 1529.4l11.3 1.9 6.4 -4.8 -11.3 -1.9zM235.3 1524.6l11.3 1.9 6.4 -5 -11.3 -2zM183 1569.5l11.3 1.9 6.4 -4.2 -11.3 -1.9zM189.4 1565.4l11.3 1.9 6.4 -4.1 -11.3 -1.8zM195.7 1561.3l11.3 1.8 6.4 -4.1 -11.3 -1.8zM202.1 1557.2l11.3 1.8 6.4 -4.1 -11.3 -1.8zM208.4 1553.1l11.3 1.8 6.4 -4.2 -11.3 -1.8zM214.8 1548.9l11.3 1.8 6.4 -4.2 -11.3 -1.8zM221.2 1544.7l11.3 1.8 6.4 -4.3 -11.3 -1.8zM227.5 1540.4l11.3 1.8 6.4 -4.4 -11.3 -1.8zM233.9 1535.9l11.3 1.8 6.4 -4.6 -11.3 -1.8zM240.2 1531.3l11.3 1.8 6.4 -4.7 -11.3 -1.8zM219.8 1554.9l11.3 1.7 6.4 -4.2 -11.3 -1.6zM226.1 1550.7l11.3 1.6 6.4 -4.3 -11.3 -1.6zM232.5 1546.4l11.3 1.6 6.4 -4.3 -11.3 -1.6zM238.8 1542.1l11.3 1.6 6.4 -4.4 -11.3 -1.6zM245.2 1537.7l11.3 1.6 6.4 -4.6 -11.3 -1.6zM490.3 1667.1l11.3 3.7 6.4 -6.4 -11.3 -3.7zM501.6 1670.8l11.3 3.8 6.4 -6.4 -11.3 -3.9zM512.9 1674.6l11.3 3.8 6.4 -6.4 -11.3 -3.8zM530.5 1672l11.3 3.2 6.4 -7 -11.3 -3.3zM541.8 1675.1l11.3 2.7 6.4 -6.7 -11.3 -3zM553.1 1677.8l11.3 2.6 6.4 -6.4 -11.3 -2.9zM564.4 1680.4l11.3 2.8 6.4 -6.1 -11.3 -3zM570.8 1674l11.3 3 6.4 -6.6 -11.3 -3.3zM575.7 1683.2l11.3 3.1 6.4 -5.9 -11.3 -3.3zM582.1 1677.1l11.3 3.3 6.4 -6.4 -11.3 -3.5zM593.4 1680.4l11.3 3.6 6.4 -6.3 -11.3 -3.7zM611.1 1677.7l11.3 3.8 6.4 -6.6 -11.3 -3.9zM622.4 1681.5l11.3 3.8 6.4 -6.5 -11.3 -3.9zM628.7 1674.9l11.3 3.9 6.4 -6.6 -11.3 -4zM640 1678.9l11.3 3.8 6.4 -6.4 -11.3 -4zM657.7 1676.2l11.3 4 6.4 -6.3 -11.3 -4.2zM675.4 1674l11.3 4.3 6.4 -6 -11.3 -4.6zM681.7 1667.7l11.3 4.6 6.4 -6 -11.3 -4.8zM693 1672.3l11.3 4.8 6.4 -5.8 -11.3 -5zM699.4 1666.3l11.3 5 6.4 -5.8 -11.3 -5.2z"/><path fill="#392a73" stroke="#392a73" stroke-width="0.6" d="M209.2 1500l11.3 2.2 6.4 -6 -11.3 -2.2zM214.1 1508l11.3 2.1 6.4 -5.7 -11.3 -2.2zM220.5 1502.3l11.3 2.2 6.4 -6 -11.3 -2.2zM225.4 1510.1l11.3 2.1 6.4 -5.6 -11.3 -2.2zM231.8 1504.4l11.3 2.2 6.4 -5.9 -11.3 -2.2zM236.7 1512.2l11.3 2.1 6.4 -5.6 -11.3 -2.2zM243.1 1506.6l11.3 2.2 6.4 -5.9 -11.3 -2.2zM241.7 1519.6l11.3 2 6.4 -5.2 -11.3 -2zM248 1514.3l11.3 2 6.4 -5.5 -11.3 -2.1zM254.4 1508.8l11.3 2.1 6.4 -5.7 -11.3 -2.2zM151.2 1591.3l11.3 1.8 6.4 -4.6 -11.3 -1.8zM157.6 1586.8l11.3 1.8 6.4 -4.4 -11.3 -1.9zM163.9 1582.3l11.3 1.9 6.4 -4.3 -11.3 -1.9zM170.3 1578l11.3 1.9 6.4 -4.3 -11.3 -1.9zM176.6 1573.7l11.3 1.9 6.4 -4.2 -11.3 -1.9zM246.6 1526.6l11.3 1.8 6.4 -4.9 -11.3 -1.8zM253 1521.6l11.3 1.8 6.4 -5.2 -11.3 -1.9zM259.3 1516.4l11.3 1.9 6.4 -5.4 -11.3 -2zM265.7 1510.9l11.3 2 6.4 -5.6 -11.3 -2.2zM162.5 1593.2l11.3 1.8 6.4 -4.6 -11.3 -1.8zM168.9 1588.6l11.3 1.8 6.4 -4.4 -11.3 -1.8zM175.2 1584.2l11.3 1.8 6.4 -4.3 -11.3 -1.8zM181.6 1579.8l11.3 1.8 6.4 -4.3 -11.3 -1.8zM188 1575.6l11.3 1.8 6.4 -4.2 -11.3 -1.8zM194.3 1571.4l11.3 1.8 6.4 -4.2 -11.3 -1.7zM200.7 1567.2l11.3 1.7 6.4 -4.1 -11.3 -1.7zM207 1563.1l11.3 1.7 6.4 -4.1 -11.3 -1.7zM213.4 1559l11.3 1.7 6.4 -4.2 -11.3 -1.7zM251.6 1533.1l11.3 1.6 6.4 -4.7 -11.3 -1.6zM257.9 1528.4l11.3 1.6 6.4 -4.9 -11.3 -1.7zM264.3 1523.4l11.3 1.7 6.4 -5.1 -11.3 -1.7zM270.6 1518.3l11.3 1.7 6.4 -5.3 -11.3 -1.9zM173.8 1595l11.3 1.7 6.4 -4.6 -11.3 -1.7zM180.2 1590.4l11.3 1.7 6.4 -4.5 -11.3 -1.7zM186.5 1586l11.3 1.7 6.4 -4.4 -11.3 -1.7zM192.9 1581.6l11.3 1.7 6.4 -4.3 -11.3 -1.7zM199.3 1577.3l11.3 1.7 6.4 -4.2 -11.3 -1.7zM205.6 1573.1l11.3 1.7 6.4 -4.2 -11.3 -1.6zM212 1569l11.3 1.6 6.4 -4.2 -11.3 -1.6zM218.3 1564.8l11.3 1.6 6.4 -4.2 -11.3 -1.5zM224.7 1560.7l11.3 1.5 6.4 -4.2 -11.3 -1.5zM231.1 1556.5l11.3 1.5 6.4 -4.2 -11.3 -1.5zM237.4 1552.3l11.3 1.5 6.4 -4.3 -11.3 -1.4zM243.8 1548.1l11.3 1.4 6.4 -4.4 -11.3 -1.4zM250.1 1543.7l11.3 1.4 6.4 -4.4 -11.3 -1.4zM256.5 1539.3l11.3 1.4 6.4 -4.6 -11.3 -1.4zM262.9 1534.7l11.3 1.4 6.4 -4.7 -11.3 -1.4zM269.2 1530l11.3 1.4 6.4 -4.9 -11.3 -1.4zM275.6 1525.1l11.3 1.4 6.4 -5 -11.3 -1.5zM185.1 1596.7l11.3 1.7 6.4 -4.6 -11.3 -1.7zM191.5 1592.2l11.3 1.7 6.4 -4.5 -11.3 -1.7zM197.8 1587.7l11.3 1.7 6.4 -4.4 -11.3 -1.6zM204.2 1583.3l11.3 1.6 6.4 -4.3 -11.3 -1.6zM210.6 1579l11.3 1.6 6.4 -4.3 -11.3 -1.6zM216.9 1574.8l11.3 1.6 6.4 -4.3 -11.3 -1.5zM223.3 1570.6l11.3 1.5 6.4 -4.2 -11.3 -1.5zM229.6 1566.4l11.3 1.5 6.4 -4.2 -11.3 -1.4zM236 1562.2l11.3 1.4 6.4 -4.3 -11.3 -1.4zM242.4 1558l11.3 1.4 6.4 -4.3 -11.3 -1.3zM248.7 1553.8l11.3 1.3 6.4 -4.3 -11.3 -1.2zM255.1 1549.5l11.3 1.2 6.4 -4.4 -11.3 -1.2zM261.4 1545.1l11.3 1.2 6.4 -4.5 -11.3 -1.2zM267.8 1540.7l11.3 1.2 6.4 -4.6 -11.3 -1.2zM274.2 1536.1l11.3 1.2 6.4 -4.7 -11.3 -1.2zM456.4 1657.2l11.3 3 6.4 -6.4 -11.3 -3zM467.7 1660.3l11.3 3.3 6.4 -6.5 -11.3 -3.2zM479 1663.5l11.3 3.5 6.4 -6.5 -11.3 -3.5zM496.6 1660.6l11.3 3.7 6.4 -7.2 -11.3 -3.7zM507.9 1664.3l11.3 3.9 6.4 -7.2 -11.3 -3.8zM519.2 1668.2l11.3 3.8 6.4 -7.2 -11.3 -3.7zM536.9 1664.7l11.3 3.3 6.4 -7.6 -11.3 -3.6zM548.2 1668.1l11.3 3 6.4 -7.3 -11.3 -3.3zM559.5 1671.1l11.3 2.9 6.4 -6.9 -11.3 -3.3zM577.2 1667.1l11.3 3.3 6.4 -7 -11.3 -3.6zM588.5 1670.5l11.3 3.5 6.4 -6.8 -11.3 -3.7zM599.8 1674l11.3 3.7 6.4 -6.6 -11.3 -3.8zM606.1 1667.2l11.3 3.8 6.4 -6.9 -11.3 -4zM617.4 1671l11.3 3.9 6.4 -6.8 -11.3 -4.1zM635.1 1668.2l11.3 4 6.4 -6.7 -11.3 -4.2zM646.4 1672.2l11.3 4 6.4 -6.5 -11.3 -4.2zM652.8 1665.5l11.3 4.2 6.4 -6.5 -11.3 -4.4zM664.1 1669.8l11.3 4.2 6.4 -6.3 -11.3 -4.5zM670.4 1663.3l11.3 4.5 6.4 -6.3 -11.3 -4.7zM688.1 1661.5l11.3 4.8 6.4 -6 -11.3 -5.1zM705.7 1660.3l11.3 5.2 6.4 -5.8 -11.3 -5.5zM712.1 1654.3l11.3 5.5 6.4 -5.8 -11.3 -5.6z"/><path fill="#3a2d79" stroke="#3a2d79" stroke-width="0.6" d="M215.5 1494l11.3 2.2 6.4 -6.2 -11.3 -2.2zM221.9 1487.8l11.3 2.2 6.4 -6.4 -11.3 -2.2zM226.8 1496.2l11.3 2.2 6.4 -6.2 -11.3 -2.2zM233.2 1490l11.3 2.2 6.4 -6.4 -11.3 -2.2zM238.1 1498.4l11.3 2.2 6.4 -6.2 -11.3 -2.3zM244.5 1492.2l11.3 2.3 6.4 -6.4 -11.3 -2.3zM249.4 1500.7l11.3 2.2 6.4 -6.1 -11.3 -2.3zM255.8 1494.5l11.3 2.3 6.4 -6.3 -11.3 -2.4zM260.7 1502.9l11.3 2.2 6.4 -6 -11.3 -2.3zM267.1 1496.8l11.3 2.3 6.4 -6.2 -11.3 -2.4zM272 1505.1l11.3 2.2 6.4 -5.8 -11.3 -2.3zM277 1512.9l11.3 1.9 6.4 -5.5 -11.3 -2zM283.4 1507.3l11.3 2 6.4 -5.7 -11.3 -2.2zM281.9 1520l11.3 1.5 6.4 -5.2 -11.3 -1.6zM288.3 1514.7l11.3 1.6 6.4 -5.3 -11.3 -1.7zM294.7 1509.3l11.3 1.7 6.4 -5.5 -11.3 -1.9zM280.5 1531.4l11.3 1.2 6.4 -4.8 -11.3 -1.2zM286.9 1526.5l11.3 1.2 6.4 -5 -11.3 -1.2zM293.2 1521.5l11.3 1.2 6.4 -5.1 -11.3 -1.3zM299.6 1516.4l11.3 1.3 6.4 -5.2 -11.3 -1.4zM196.4 1598.4l11.3 1.6 6.4 -4.6 -11.3 -1.6zM202.8 1593.8l11.3 1.6 6.4 -4.5 -11.3 -1.6zM209.1 1589.3l11.3 1.6 6.4 -4.4 -11.3 -1.6zM215.5 1585l11.3 1.6 6.4 -4.4 -11.3 -1.5zM221.9 1580.6l11.3 1.5 6.4 -4.3 -11.3 -1.5zM228.2 1576.3l11.3 1.5 6.4 -4.3 -11.3 -1.4zM234.6 1572.1l11.3 1.4 6.4 -4.3 -11.3 -1.4zM240.9 1567.9l11.3 1.4 6.4 -4.3 -11.3 -1.3zM247.3 1563.6l11.3 1.3 6.4 -4.3 -11.3 -1.2zM253.7 1559.4l11.3 1.2 6.4 -4.4 -11.3 -1.1zM260 1555.1l11.3 1.1 6.4 -4.4 -11.3 -1.1zM266.4 1550.7l11.3 1.1 6.4 -4.5 -11.3 -1zM272.7 1546.3l11.3 1 6.4 -4.5 -11.3 -0.9zM279.1 1541.8l11.3 0.9 6.4 -4.6 -11.3 -0.9zM285.5 1537.3l11.3 0.9 6.4 -4.7 -11.3 -0.9zM291.8 1532.5l11.3 0.9 6.4 -4.8 -11.3 -0.9zM298.2 1527.7l11.3 0.9 6.4 -4.9 -11.3 -0.9zM304.5 1522.8l11.3 0.9 6.4 -5.1 -11.3 -1zM207.7 1600l11.3 1.6 6.4 -4.6 -11.3 -1.6zM214.1 1595.4l11.3 1.6 6.4 -4.5 -11.3 -1.6zM220.4 1590.9l11.3 1.6 6.4 -4.4 -11.3 -1.5zM226.8 1586.5l11.3 1.5 6.4 -4.4 -11.3 -1.5zM233.2 1582.2l11.3 1.5 6.4 -4.4 -11.3 -1.4zM239.5 1577.8l11.3 1.4 6.4 -4.4 -11.3 -1.4zM245.9 1573.5l11.3 1.4 6.4 -4.4 -11.3 -1.3zM252.2 1569.2l11.3 1.3 6.4 -4.4 -11.3 -1.2zM258.6 1564.9l11.3 1.2 6.4 -4.4 -11.3 -1.1zM265 1560.6l11.3 1.1 6.4 -4.5 -11.3 -1zM271.3 1556.2l11.3 1 6.4 -4.5 -11.3 -0.9zM277.7 1551.8l11.3 0.9 6.4 -4.6 -11.3 -0.8zM284 1547.3l11.3 0.8 6.4 -4.6 -11.3 -0.7zM290.4 1542.8l11.3 0.7 6.4 -4.7 -11.3 -0.7zM219 1601.6l11.3 1.6 6.4 -4.6 -11.3 -1.6zM225.4 1597l11.3 1.6 6.4 -4.5 -11.3 -1.6zM231.7 1592.5l11.3 1.6 6.4 -4.5 -11.3 -1.5zM238.1 1588.1l11.3 1.5 6.4 -4.5 -11.3 -1.5zM244.5 1583.6l11.3 1.5 6.4 -4.5 -11.3 -1.4zM250.8 1579.3l11.3 1.4 6.4 -4.5 -11.3 -1.3zM257.2 1574.9l11.3 1.3 6.4 -4.5 -11.3 -1.2zM230.3 1603.2l11.3 1.7 6.4 -4.6 -11.3 -1.7zM399.9 1641l11.3 3.2 6.4 -6.1 -11.3 -3.2zM411.2 1644.2l11.3 3.4 6.4 -6.2 -11.3 -3.4zM422.5 1647.6l11.3 3.6 6.4 -6.3 -11.3 -3.4zM433.8 1651.2l11.3 3.2 6.4 -6.4 -11.3 -3.1zM445.1 1654.4l11.3 2.9 6.4 -6.4 -11.3 -2.9zM451.4 1648l11.3 2.9 6.4 -7.2 -11.3 -2.9zM462.7 1650.9l11.3 3 6.4 -7.1 -11.3 -3zM474 1653.8l11.3 3.2 6.4 -7.1 -11.3 -3.2zM485.3 1657.1l11.3 3.5 6.4 -7.1 -11.3 -3.5zM503 1653.4l11.3 3.7 6.4 -7.8 -11.3 -3.7zM514.3 1657.2l11.3 3.8 6.4 -7.8 -11.3 -3.8zM525.6 1661l11.3 3.7 6.4 -7.8 -11.3 -3.8zM543.3 1656.9l11.3 3.6 6.4 -8 -11.3 -3.8zM554.6 1660.5l11.3 3.3 6.4 -7.7 -11.3 -3.7zM565.9 1663.9l11.3 3.3 6.4 -7.3 -11.3 -3.6zM583.5 1659.8l11.3 3.6 6.4 -7.3 -11.3 -4zM594.8 1663.4l11.3 3.7 6.4 -7.1 -11.3 -4zM612.5 1660.1l11.3 4 6.4 -7.1 -11.3 -4.2zM623.8 1664.1l11.3 4.1 6.4 -6.9 -11.3 -4.2zM630.1 1657.1l11.3 4.2 6.4 -6.9 -11.3 -4.5zM641.4 1661.3l11.3 4.2 6.4 -6.7 -11.3 -4.4zM659.1 1658.8l11.3 4.4 6.4 -6.5 -11.3 -4.7zM676.8 1656.8l11.3 4.7 6.4 -6.2 -11.3 -4.9zM683.1 1650.3l11.3 4.9 6.4 -6.2 -11.3 -5.2zM694.4 1655.2l11.3 5.1 6.4 -6 -11.3 -5.3zM700.8 1649l11.3 5.3 6.4 -6 -11.3 -5.5zM718.5 1648.3l11.3 5.6 6.4 -5.9 -11.3 -5.8zM724.8 1642.2l11.3 5.8 6.4 -5.9 -11.3 -5.9z"/><path fill="#3c3286" stroke="#3c3286" stroke-width="0.6" d="M228.3 1481.4l11.3 2.2 6.4 -6.5 -11.3 -2.2zM239.6 1483.6l11.3 2.2 6.4 -6.5 -11.3 -2.3zM250.9 1485.8l11.3 2.3 6.4 -6.5 -11.3 -2.3zM262.2 1488.1l11.3 2.4 6.4 -6.5 -11.3 -2.4zM273.5 1490.5l11.3 2.4 6.4 -6.4 -11.3 -2.5zM278.4 1499.1l11.3 2.3 6.4 -6.1 -11.3 -2.4zM284.8 1492.9l11.3 2.4 6.4 -6.3 -11.3 -2.6zM289.7 1501.4l11.3 2.2 6.4 -5.9 -11.3 -2.3zM296.1 1495.4l11.3 2.3 6.4 -6.2 -11.3 -2.4zM301 1503.6l11.3 1.9 6.4 -5.8 -11.3 -2.1zM307.4 1497.7l11.3 2.1 6.4 -6.1 -11.3 -2.2zM306 1511l11.3 1.4 6.4 -5.4 -11.3 -1.5zM312.3 1505.5l11.3 1.5 6.4 -5.7 -11.3 -1.6zM310.9 1517.7l11.3 1 6.4 -5.2 -11.3 -1zM317.3 1512.4l11.3 1 6.4 -5.4 -11.3 -1.1zM323.6 1507l11.3 1.1 6.4 -5.6 -11.3 -1.2zM296.8 1538.2l11.3 0.7 6.4 -4.8 -11.3 -0.6zM303.1 1533.4l11.3 0.6 6.4 -4.8 -11.3 -0.6zM309.5 1528.6l11.3 0.6 6.4 -4.9 -11.3 -0.6zM315.8 1523.7l11.3 0.6 6.4 -5 -11.3 -0.6zM322.2 1518.6l11.3 0.6 6.4 -5.2 -11.3 -0.7zM263.5 1570.5l11.3 1.2 6.4 -4.5 -11.3 -1.1zM269.9 1566.1l11.3 1.1 6.4 -4.5 -11.3 -1zM276.3 1561.6l11.3 1 6.4 -4.6 -11.3 -0.8zM282.6 1557.2l11.3 0.8 6.4 -4.6 -11.3 -0.7zM289 1552.7l11.3 0.7 6.4 -4.7 -11.3 -0.6zM295.3 1548.1l11.3 0.6 6.4 -4.7 -11.3 -0.5zM301.7 1543.5l11.3 0.5 6.4 -4.8 -11.3 -0.4zM308.1 1538.8l11.3 0.4 6.4 -4.8 -11.3 -0.4zM314.4 1534.1l11.3 0.4 6.4 -4.9 -11.3 -0.3zM236.7 1598.6l11.3 1.7 6.4 -4.6 -11.3 -1.6zM243 1594.1l11.3 1.6 6.4 -4.5 -11.3 -1.6zM249.4 1589.6l11.3 1.6 6.4 -4.5 -11.3 -1.5zM255.8 1585.1l11.3 1.5 6.4 -4.6 -11.3 -1.4zM262.1 1580.6l11.3 1.4 6.4 -4.6 -11.3 -1.3zM268.5 1576.2l11.3 1.3 6.4 -4.6 -11.3 -1.1zM274.8 1571.7l11.3 1.1 6.4 -4.7 -11.3 -1zM281.2 1567.2l11.3 1 6.4 -4.7 -11.3 -0.9zM287.6 1562.6l11.3 0.9 6.4 -4.7 -11.3 -0.7zM293.9 1558l11.3 0.7 6.4 -4.8 -11.3 -0.6zM300.3 1553.4l11.3 0.6 6.4 -4.8 -11.3 -0.4zM241.6 1604.9l11.3 1.8 6.4 -4.6 -11.3 -1.8zM248 1600.3l11.3 1.8 6.4 -4.6 -11.3 -1.7zM254.3 1595.7l11.3 1.7 6.4 -4.6 -11.3 -1.6zM260.7 1591.2l11.3 1.6 6.4 -4.6 -11.3 -1.5zM267.1 1586.6l11.3 1.5 6.4 -4.7 -11.3 -1.4zM273.4 1582l11.3 1.4 6.4 -4.7 -11.3 -1.3zM279.8 1577.4l11.3 1.3 6.4 -4.8 -11.3 -1.1zM286.1 1572.8l11.3 1.1 6.4 -4.8 -11.3 -1zM252.9 1606.7l11.3 2 6.4 -4.7 -11.3 -2zM259.3 1602l11.3 2 6.4 -4.7 -11.3 -1.9zM265.6 1597.4l11.3 1.9 6.4 -4.7 -11.3 -1.8zM272 1592.8l11.3 1.8 6.4 -4.8 -11.3 -1.6zM278.4 1588.1l11.3 1.6 6.4 -4.8 -11.3 -1.5zM264.2 1608.7l11.3 2.3 6.4 -4.8 -11.3 -2.2zM270.6 1604l11.3 2.2 6.4 -4.8 -11.3 -2zM277 1599.3l11.3 2 6.4 -4.9 -11.3 -1.9zM275.5 1610.9l11.3 2.4 6.4 -4.9 -11.3 -2.3zM281.9 1606.1l11.3 2.3 6.4 -5 -11.3 -2.2zM288.3 1601.3l11.3 2.2 6.4 -5 -11.3 -2zM286.8 1613.4l11.3 2.6 6.4 -5 -11.3 -2.5zM293.2 1608.5l11.3 2.5 6.4 -5.1 -11.3 -2.3zM298.1 1615.9l11.3 2.7 6.4 -5.1 -11.3 -2.6zM304.5 1610.9l11.3 2.6 6.4 -5.3 -11.3 -2.4zM309.4 1618.6l11.3 2.8 6.4 -5.2 -11.3 -2.7zM315.8 1613.5l11.3 2.7 6.4 -5.4 -11.3 -2.5zM320.7 1621.4l11.3 2.9 6.4 -5.3 -11.3 -2.8zM327.1 1616.2l11.3 2.8 6.4 -5.6 -11.3 -2.6zM332 1624.3l11.3 2.9 6.4 -5.5 -11.3 -2.8zM338.4 1619l11.3 2.8 6.4 -5.9 -11.3 -2.6zM343.3 1627.3l11.3 2.7 6.4 -5.6 -11.3 -2.6zM349.7 1621.8l11.3 2.6 6.4 -6 -11.3 -2.4zM354.6 1630l11.3 2.5 6.4 -5.7 -11.3 -2.4zM361 1624.4l11.3 2.4 6.4 -6.1 -11.3 -2.3zM365.9 1632.5l11.3 2.6 6.4 -5.8 -11.3 -2.5zM372.3 1626.8l11.3 2.5 6.4 -6.3 -11.3 -2.4zM377.2 1635.2l11.3 2.8 6.4 -5.9 -11.3 -2.7zM383.6 1629.3l11.3 2.7 6.4 -6.4 -11.3 -2.5zM388.6 1638l11.3 3 6.4 -6 -11.3 -2.9zM394.9 1632l11.3 2.9 6.4 -6.6 -11.3 -2.7zM406.2 1634.9l11.3 3.2 6.4 -6.7 -11.3 -3zM417.5 1638.1l11.3 3.4 6.4 -6.9 -11.3 -3.2zM428.8 1641.5l11.3 3.4 6.4 -7.2 -11.3 -3.2zM440.1 1644.9l11.3 3.1 6.4 -7.2 -11.3 -3.1zM469.1 1643.7l11.3 3 6.4 -7.8 -11.3 -3.1zM480.4 1646.7l11.3 3.2 6.4 -7.8 -11.3 -3.3zM491.7 1649.9l11.3 3.5 6.4 -7.8 -11.3 -3.5zM520.7 1649.4l11.3 3.8 6.4 -8.3 -11.3 -3.8zM532 1653.2l11.3 3.8 6.4 -8.2 -11.3 -3.9zM560.9 1652.5l11.3 3.7 6.4 -8 -11.3 -4zM572.2 1656.2l11.3 3.6 6.4 -7.6 -11.3 -4zM589.9 1652.2l11.3 4 6.4 -7.5 -11.3 -4.3zM601.2 1656.1l11.3 4 6.4 -7.3 -11.3 -4.3zM618.8 1652.8l11.3 4.2 6.4 -7.2 -11.3 -4.5zM636.5 1649.9l11.3 4.5 6.4 -7 -11.3 -4.7zM647.8 1654.4l11.3 4.4 6.4 -6.7 -11.3 -4.7zM654.2 1647.4l11.3 4.7 6.4 -6.7 -11.3 -4.9zM665.5 1652.1l11.3 4.7 6.4 -6.5 -11.3 -4.9zM671.8 1645.4l11.3 4.9 6.4 -6.4 -11.3 -5.1zM689.5 1643.8l11.3 5.2 6.4 -6.2 -11.3 -5.4zM707.2 1642.8l11.3 5.5 6.4 -6 -11.3 -5.6zM713.5 1636.6l11.3 5.6 6.4 -6 -11.3 -5.8zM731.2 1636.2l11.3 5.9 6.4 -5.9 -11.3 -6.1zM737.5 1630.2l11.3 6.1 6.4 -6 -11.3 -6.2z"/><path fill="#3d358b" stroke="#3d358b" stroke-width="0.6" d="M234.6 1474.9l11.3 2.2 6.4 -6.5 -11.3 -2.2zM241 1468.4l11.3 2.2 6.4 -6.3 -11.3 -2.2zM245.9 1477.1l11.3 2.3 6.4 -6.5 -11.3 -2.3zM252.3 1470.6l11.3 2.3 6.4 -6.4 -11.3 -2.2zM257.2 1479.4l11.3 2.3 6.4 -6.5 -11.3 -2.2zM263.6 1472.9l11.3 2.2 6.4 -6.4 -11.3 -2.2zM268.5 1481.6l11.3 2.4 6.4 -6.6 -11.3 -2.3zM279.8 1484l11.3 2.5 6.4 -6.5 -11.3 -2.5zM291.1 1486.5l11.3 2.6 6.4 -6.5 -11.3 -2.6zM302.4 1489.1l11.3 2.4 6.4 -6.4 -11.3 -2.5zM313.7 1491.5l11.3 2.2 6.4 -6.4 -11.3 -2.2zM318.7 1499.8l11.3 1.6 6.4 -6 -11.3 -1.7zM325 1493.7l11.3 1.7 6.4 -6.2 -11.3 -1.8zM330 1501.3l11.3 1.2 6.4 -5.8 -11.3 -1.3zM336.3 1495.4l11.3 1.3 6.4 -6.1 -11.3 -1.5zM328.6 1513.4l11.3 0.7 6.4 -5.3 -11.3 -0.7zM334.9 1508.1l11.3 0.7 6.4 -5.5 -11.3 -0.8zM341.3 1502.5l11.3 0.8 6.4 -5.7 -11.3 -0.9zM320.8 1529.2l11.3 0.3 6.4 -5 -11.3 -0.3zM327.1 1524.3l11.3 0.3 6.4 -5 -11.3 -0.3zM333.5 1519.3l11.3 0.3 6.4 -5.1 -11.3 -0.3zM339.9 1514.1l11.3 0.3 6.4 -5.3 -11.3 -0.4zM306.6 1548.7l11.3 0.4 6.4 -4.8 -11.3 -0.3zM313 1544l11.3 0.3 6.4 -4.9 -11.3 -0.2zM319.4 1539.3l11.3 0.2 6.4 -4.9 -11.3 -0.1zM325.7 1534.5l11.3 0.1 6.4 -4.9 -11.3 -0.1zM332.1 1529.6l11.3 0.1 6.4 -5 -11.3 0zM292.5 1568.2l11.3 1 6.4 -4.9 -11.3 -0.8zM298.9 1563.5l11.3 0.8 6.4 -4.9 -11.3 -0.6zM305.2 1558.7l11.3 0.6 6.4 -4.9 -11.3 -0.4zM311.6 1554l11.3 0.4 6.4 -5 -11.3 -0.3zM317.9 1549.2l11.3 0.3 6.4 -5 -11.3 -0.1zM284.7 1583.5l11.3 1.5 6.4 -4.9 -11.3 -1.3zM291.1 1578.7l11.3 1.3 6.4 -5 -11.3 -1.1zM297.4 1573.9l11.3 1.1 6.4 -5 -11.3 -0.9zM303.8 1569.1l11.3 0.9 6.4 -5.1 -11.3 -0.7zM310.2 1564.3l11.3 0.7 6.4 -5.1 -11.3 -0.5zM283.3 1594.5l11.3 1.9 6.4 -4.9 -11.3 -1.7zM289.7 1589.8l11.3 1.7 6.4 -5 -11.3 -1.5zM296 1584.9l11.3 1.5 6.4 -5.1 -11.3 -1.3zM302.4 1580l11.3 1.3 6.4 -5.2 -11.3 -1.1zM294.6 1596.4l11.3 2 6.4 -5.1 -11.3 -1.8zM301 1591.5l11.3 1.8 6.4 -5.2 -11.3 -1.6zM307.3 1586.5l11.3 1.6 6.4 -5.3 -11.3 -1.4zM299.6 1603.5l11.3 2.3 6.4 -5.2 -11.3 -2.1zM305.9 1598.4l11.3 2.1 6.4 -5.4 -11.3 -1.9zM312.3 1593.3l11.3 1.9 6.4 -5.5 -11.3 -1.7zM310.9 1605.8l11.3 2.4 6.4 -5.4 -11.3 -2.2zM317.2 1600.6l11.3 2.2 6.4 -5.6 -11.3 -2zM322.2 1608.3l11.3 2.5 6.4 -5.7 -11.3 -2.3zM328.5 1602.8l11.3 2.3 6.4 -5.9 -11.3 -2zM333.5 1610.8l11.3 2.6 6.4 -5.9 -11.3 -2.3zM339.8 1605.1l11.3 2.3 6.4 -6.1 -11.3 -2.1zM344.8 1613.4l11.3 2.6 6.4 -6.2 -11.3 -2.3zM356.1 1615.9l11.3 2.4 6.4 -6.4 -11.3 -2.2zM367.4 1618.4l11.3 2.3 6.4 -6.5 -11.3 -2.2zM378.7 1620.7l11.3 2.4 6.4 -6.7 -11.3 -2.2zM390 1623.1l11.3 2.5 6.4 -6.9 -11.3 -2.3zM401.3 1625.6l11.3 2.7 6.4 -7.1 -11.3 -2.5zM412.6 1628.4l11.3 3 6.4 -7.3 -11.3 -2.7zM423.9 1631.3l11.3 3.2 6.4 -7.6 -11.3 -2.9zM435.2 1634.5l11.3 3.2 6.4 -7.8 -11.3 -3zM446.5 1637.7l11.3 3.1 6.4 -7.9 -11.3 -3zM457.8 1640.8l11.3 2.9 6.4 -7.9 -11.3 -3zM486.7 1638.9l11.3 3.3 6.4 -8.4 -11.3 -3.3zM498 1642.1l11.3 3.5 6.4 -8.4 -11.3 -3.5zM509.3 1645.6l11.3 3.7 6.4 -8.4 -11.3 -3.7zM538.3 1644.9l11.3 3.9 6.4 -8.6 -11.3 -4zM549.6 1648.7l11.3 3.8 6.4 -8.3 -11.3 -4zM567.3 1644.2l11.3 4 6.4 -8.2 -11.3 -4.3zM578.6 1648.2l11.3 4 6.4 -7.8 -11.3 -4.3zM596.2 1644.3l11.3 4.3 6.4 -7.7 -11.3 -4.6zM607.5 1648.6l11.3 4.3 6.4 -7.4 -11.3 -4.5zM625.2 1645.5l11.3 4.5 6.4 -7.2 -11.3 -4.7zM642.9 1642.7l11.3 4.7 6.4 -6.9 -11.3 -4.9zM660.5 1640.5l11.3 4.9 6.4 -6.7 -11.3 -5.1zM678.2 1638.7l11.3 5.1 6.4 -6.4 -11.3 -5.3zM695.9 1637.4l11.3 5.4 6.4 -6.2 -11.3 -5.5zM702.2 1631.1l11.3 5.5 6.4 -6.2 -11.3 -5.7zM719.9 1630.5l11.3 5.8 6.4 -6.1 -11.3 -5.9zM726.2 1624.3l11.3 5.9 6.4 -6.1 -11.3 -5.9zM743.9 1624l11.3 6.2 6.4 -6.1 -11.3 -6.3zM750.3 1617.9l11.3 6.3 6.4 -6.2 -11.3 -6.4z"/><path fill="#3f3b97" stroke="#3f3b97" stroke-width="0.6" d="M247.3 1462.1l11.3 2.2 6.4 -6.2 -11.3 -2.2zM253.7 1455.9l11.3 2.2 6.4 -6.3 -11.3 -2.1zM258.6 1464.3l11.3 2.2 6.4 -6.3 -11.3 -2.2zM269.9 1466.5l11.3 2.2 6.4 -6.4 -11.3 -2.1zM274.9 1475.1l11.3 2.3 6.4 -6.5 -11.3 -2.2zM281.2 1468.7l11.3 2.2 6.4 -6.4 -11.3 -2.2zM286.2 1477.4l11.3 2.5 6.4 -6.5 -11.3 -2.5zM292.5 1471l11.3 2.5 6.4 -6.6 -11.3 -2.3zM297.5 1480l11.3 2.6 6.4 -6.6 -11.3 -2.6zM303.8 1473.4l11.3 2.6 6.4 -6.7 -11.3 -2.4zM308.8 1482.6l11.3 2.5 6.4 -6.6 -11.3 -2.5zM315.2 1476l11.3 2.5 6.4 -6.8 -11.3 -2.4zM320.1 1485.1l11.3 2.2 6.4 -6.6 -11.3 -2.2zM326.5 1478.5l11.3 2.2 6.4 -6.8 -11.3 -2.2zM331.4 1487.3l11.3 1.8 6.4 -6.5 -11.3 -1.9zM342.7 1489.1l11.3 1.5 6.4 -6.3 -11.3 -1.6zM347.6 1496.7l11.3 0.9 6.4 -5.9 -11.3 -1.1zM354 1490.6l11.3 1.1 6.4 -6.1 -11.3 -1.3zM346.2 1508.8l11.3 0.4 6.4 -5.4 -11.3 -0.5zM352.6 1503.3l11.3 0.5 6.4 -5.6 -11.3 -0.6zM358.9 1497.6l11.3 0.6 6.4 -5.7 -11.3 -0.8zM338.4 1524.6l11.3 0 6.4 -5.1 -11.3 0zM344.8 1519.6l11.3 0 6.4 -5.1 -11.3 0zM351.2 1514.5l11.3 0 6.4 -5.2 -11.3 -0.1zM357.5 1509.2l11.3 0.1 6.4 -5.3 -11.3 -0.1zM324.3 1544.4l11.3 0.1 6.4 -5 -11.3 0zM330.7 1539.5l11.3 0 6.4 -5 -11.3 0.1zM337 1534.6l11.3 -0.1 6.4 -5 -11.3 0.2zM343.4 1529.7l11.3 -0.2 6.4 -5.1 -11.3 0.3zM349.7 1524.7l11.3 -0.3 6.4 -5.1 -11.3 0.3zM316.5 1559.4l11.3 0.5 6.4 -5.1 -11.3 -0.3zM322.9 1554.4l11.3 0.3 6.4 -5.2 -11.3 -0.1zM329.2 1549.5l11.3 0.1 6.4 -5.2 -11.3 0.1zM335.6 1544.5l11.3 -0.1 6.4 -5.2 -11.3 0.2zM308.8 1575.1l11.3 1.1 6.4 -5.2 -11.3 -0.9zM315.1 1570l11.3 0.9 6.4 -5.3 -11.3 -0.7zM321.5 1565l11.3 0.7 6.4 -5.3 -11.3 -0.4zM327.8 1559.9l11.3 0.4 6.4 -5.4 -11.3 -0.2zM313.7 1581.3l11.3 1.4 6.4 -5.4 -11.3 -1.1zM320.1 1576.2l11.3 1.1 6.4 -5.5 -11.3 -0.9zM326.4 1570.9l11.3 0.9 6.4 -5.6 -11.3 -0.6zM318.6 1588.1l11.3 1.7 6.4 -5.6 -11.3 -1.4zM325 1582.7l11.3 1.4 6.4 -5.7 -11.3 -1.1zM323.6 1595.2l11.3 2 6.4 -5.7 -11.3 -1.7zM329.9 1589.7l11.3 1.7 6.4 -5.9 -11.3 -1.4zM334.9 1597.2l11.3 2 6.4 -6 -11.3 -1.8zM341.2 1591.5l11.3 1.8 6.4 -6.2 -11.3 -1.5zM346.2 1599.2l11.3 2.1 6.4 -6.3 -11.3 -1.8zM351.1 1607.4l11.3 2.3 6.4 -6.4 -11.3 -2zM357.5 1601.3l11.3 2 6.4 -6.6 -11.3 -1.8zM362.4 1609.7l11.3 2.2 6.4 -6.6 -11.3 -2zM373.7 1612l11.3 2.2 6.4 -6.9 -11.3 -2zM385 1614.2l11.3 2.2 6.4 -7.1 -11.3 -2zM396.3 1616.4l11.3 2.3 6.4 -7.3 -11.3 -2.1zM407.6 1618.7l11.3 2.5 6.4 -7.6 -11.3 -2.3zM418.9 1621.3l11.3 2.7 6.4 -7.8 -11.3 -2.5zM430.2 1624l11.3 2.9 6.4 -8.1 -11.3 -2.7zM441.5 1626.9l11.3 3 6.4 -8.3 -11.3 -2.8zM452.8 1629.9l11.3 3 6.4 -8.4 -11.3 -2.9zM464.1 1632.9l11.3 3 6.4 -8.4 -11.3 -2.9zM475.4 1635.8l11.3 3.1 6.4 -8.4 -11.3 -3.1zM515.7 1637.3l11.3 3.7 6.4 -8.8 -11.3 -3.7zM527 1641l11.3 3.8 6.4 -8.7 -11.3 -3.9zM556 1640.2l11.3 4 6.4 -8.5 -11.3 -4.3zM584.9 1640l11.3 4.3 6.4 -7.9 -11.3 -4.6zM602.6 1636.4l11.3 4.6 6.4 -7.7 -11.3 -4.8zM613.9 1640.9l11.3 4.5 6.4 -7.4 -11.3 -4.8zM631.6 1638l11.3 4.7 6.4 -7.2 -11.3 -5zM649.2 1635.6l11.3 4.9 6.4 -6.9 -11.3 -5.2zM666.9 1633.6l11.3 5.1 6.4 -6.6 -11.3 -5.3zM673.2 1626.8l11.3 5.3 6.4 -6.5 -11.3 -5.5zM684.6 1632.1l11.3 5.3 6.4 -6.3 -11.3 -5.5zM690.9 1625.6l11.3 5.5 6.4 -6.3 -11.3 -5.6zM708.6 1624.8l11.3 5.7 6.4 -6.2 -11.3 -5.8zM714.9 1618.5l11.3 5.8 6.4 -6.2 -11.3 -5.8zM732.6 1618.1l11.3 5.9 6.4 -6.2 -11.3 -6zM739 1611.9l11.3 6 6.4 -6.3 -11.3 -6.1zM756.6 1611.6l11.3 6.4 6.4 -6.3 -11.3 -6.5zM763 1605.1l11.3 6.5 6.4 -6.5 -11.3 -6.6z"/><path fill="#4040a2" stroke="#4040a2" stroke-width="0.6" d="M260.1 1449.6l11.3 2.1 6.4 -6.6 -11.3 -2.1zM265 1458.1l11.3 2.2 6.4 -6.4 -11.3 -2.1zM271.4 1451.7l11.3 2.1 6.4 -6.7 -11.3 -2zM276.3 1460.2l11.3 2.1 6.4 -6.5 -11.3 -2zM287.6 1462.3l11.3 2.2 6.4 -6.6 -11.3 -2.1zM298.9 1464.5l11.3 2.3 6.4 -6.8 -11.3 -2.2zM310.2 1466.8l11.3 2.4 6.4 -7 -11.3 -2.3zM321.5 1469.3l11.3 2.4 6.4 -7.1 -11.3 -2.3zM332.8 1471.6l11.3 2.2 6.4 -7.1 -11.3 -2.2zM337.8 1480.7l11.3 1.9 6.4 -6.7 -11.3 -2zM344.1 1473.9l11.3 2 6.4 -7 -11.3 -2.1zM349.1 1482.6l11.3 1.6 6.4 -6.6 -11.3 -1.8zM360.4 1484.3l11.3 1.3 6.4 -6.4 -11.3 -1.5zM365.3 1491.7l11.3 0.8 6.4 -5.9 -11.3 -1zM363.9 1503.8l11.3 0.1 6.4 -5.5 -11.3 -0.3zM370.2 1498.2l11.3 0.3 6.4 -5.6 -11.3 -0.4zM356.1 1519.6l11.3 -0.3 6.4 -5.1 -11.3 0.3zM362.5 1514.5l11.3 -0.3 6.4 -5.2 -11.3 0.3zM368.8 1509.3l11.3 -0.3 6.4 -5.3 -11.3 0.2zM342 1539.5l11.3 -0.2 6.4 -5.1 -11.3 0.4zM348.3 1534.5l11.3 -0.4 6.4 -5.1 -11.3 0.5zM354.7 1529.4l11.3 -0.5 6.4 -5.1 -11.3 0.6zM361 1524.4l11.3 -0.6 6.4 -5.1 -11.3 0.6zM334.2 1554.7l11.3 0.2 6.4 -5.4 -11.3 0zM340.5 1549.6l11.3 0 6.4 -5.4 -11.3 0.2zM346.9 1544.4l11.3 -0.2 6.4 -5.4 -11.3 0.4zM332.8 1565.6l11.3 0.6 6.4 -5.6 -11.3 -0.4zM339.1 1560.3l11.3 0.4 6.4 -5.6 -11.3 -0.1zM331.4 1577.3l11.3 1.1 6.4 -5.8 -11.3 -0.9zM337.7 1571.8l11.3 0.9 6.4 -5.8 -11.3 -0.6zM336.3 1584.1l11.3 1.4 6.4 -6 -11.3 -1.2zM342.7 1578.4l11.3 1.2 6.4 -6.1 -11.3 -0.9zM347.6 1585.6l11.3 1.5 6.4 -6.3 -11.3 -1.2zM352.5 1593.2l11.3 1.8 6.4 -6.5 -11.3 -1.5zM358.9 1587l11.3 1.5 6.4 -6.6 -11.3 -1.2zM363.8 1595l11.3 1.8 6.4 -6.8 -11.3 -1.5zM368.8 1603.3l11.3 2 6.4 -6.9 -11.3 -1.7zM375.1 1596.7l11.3 1.7 6.4 -7.1 -11.3 -1.4zM380.1 1605.3l11.3 2 6.4 -7.1 -11.3 -1.7zM391.4 1607.3l11.3 2 6.4 -7.4 -11.3 -1.7zM402.7 1609.3l11.3 2.1 6.4 -7.7 -11.3 -1.8zM414 1611.4l11.3 2.3 6.4 -7.9 -11.3 -2zM425.3 1613.7l11.3 2.5 6.4 -8.2 -11.3 -2.2zM447.9 1618.8l11.3 2.8 6.4 -8.7 -11.3 -2.6zM459.2 1621.6l11.3 2.9 6.4 -8.8 -11.3 -2.7zM470.5 1624.5l11.3 2.9 6.4 -8.8 -11.3 -2.9zM481.8 1627.4l11.3 3.1 6.4 -8.8 -11.3 -3.1zM493.1 1630.5l11.3 3.3 6.4 -8.8 -11.3 -3.3zM504.4 1633.8l11.3 3.5 6.4 -8.8 -11.3 -3.5zM533.4 1632.2l11.3 3.9 6.4 -9 -11.3 -4zM544.7 1636.1l11.3 4 6.4 -8.8 -11.3 -4.2zM562.3 1631.4l11.3 4.3 6.4 -8.6 -11.3 -4.6zM573.6 1635.7l11.3 4.3 6.4 -8.3 -11.3 -4.7zM591.3 1631.8l11.3 4.6 6.4 -8 -11.3 -4.9zM609 1628.4l11.3 4.8 6.4 -7.7 -11.3 -5.1zM620.3 1633.2l11.3 4.8 6.4 -7.4 -11.3 -5zM637.9 1630.6l11.3 5 6.4 -7.1 -11.3 -5.2zM655.6 1628.4l11.3 5.2 6.4 -6.8 -11.3 -5.4zM661.9 1621.4l11.3 5.4 6.4 -6.7 -11.3 -5.6zM679.6 1620.1l11.3 5.5 6.4 -6.4 -11.3 -5.7zM697.3 1619.2l11.3 5.6 6.4 -6.3 -11.3 -5.7zM703.6 1612.8l11.3 5.7 6.4 -6.2 -11.3 -5.8zM721.3 1612.3l11.3 5.8 6.4 -6.2 -11.3 -5.8zM745.3 1605.5l11.3 6.1 6.4 -6.4 -11.3 -6.1zM769.3 1598.5l11.3 6.6 6.4 -6.6 -11.3 -6.8z"/><path fill="#4143a7" stroke="#4143a7" stroke-width="0.6" d="M266.4 1443l11.3 2.1 6.4 -7 -11.3 -2.1zM277.7 1445.2l11.3 2 6.4 -7.1 -11.3 -1.8zM282.7 1453.8l11.3 2 6.4 -6.8 -11.3 -1.9zM294 1455.8l11.3 2.1 6.4 -7 -11.3 -1.9zM305.3 1457.9l11.3 2.2 6.4 -7.2 -11.3 -2zM316.6 1460l11.3 2.3 6.4 -7.3 -11.3 -2.1zM327.9 1462.3l11.3 2.3 6.4 -7.4 -11.3 -2.2zM339.2 1464.6l11.3 2.2 6.4 -7.4 -11.3 -2.2zM350.5 1466.8l11.3 2.1 6.4 -7.3 -11.3 -2.2zM355.4 1475.9l11.3 1.8 6.4 -6.8 -11.3 -2zM361.8 1468.9l11.3 2 6.4 -7.1 -11.3 -2.1zM366.7 1477.7l11.3 1.5 6.4 -6.6 -11.3 -1.7zM371.7 1485.6l11.3 1 6.4 -6.1 -11.3 -1.2zM378 1479.2l11.3 1.2 6.4 -6.3 -11.3 -1.4zM376.6 1492.5l11.3 0.4 6.4 -5.7 -11.3 -0.6zM383 1486.5l11.3 0.6 6.4 -5.9 -11.3 -0.8zM375.2 1503.9l11.3 -0.2 6.4 -5.4 -11.3 0.1zM381.5 1498.5l11.3 -0.1 6.4 -5.5 -11.3 0zM387.9 1492.9l11.3 0 6.4 -5.6 -11.3 -0.2zM367.4 1519.3l11.3 -0.6 6.4 -5.2 -11.3 0.6zM373.8 1514.2l11.3 -0.6 6.4 -5.2 -11.3 0.6zM380.1 1509l11.3 -0.6 6.4 -5.2 -11.3 0.6zM353.3 1539.3l11.3 -0.4 6.4 -5.3 -11.3 0.6zM359.6 1534.1l11.3 -0.6 6.4 -5.3 -11.3 0.7zM366 1529l11.3 -0.7 6.4 -5.2 -11.3 0.8zM345.5 1554.9l11.3 0.1 6.4 -5.6 -11.3 0.2zM351.9 1549.5l11.3 -0.2 6.4 -5.6 -11.3 0.4zM358.2 1544.2l11.3 -0.4 6.4 -5.6 -11.3 0.6zM344.1 1566.2l11.3 0.6 6.4 -5.9 -11.3 -0.3zM350.4 1560.6l11.3 0.3 6.4 -5.9 -11.3 0zM349 1572.7l11.3 0.9 6.4 -6.1 -11.3 -0.6zM355.4 1566.8l11.3 0.6 6.4 -6.2 -11.3 -0.3zM354 1579.6l11.3 1.2 6.4 -6.4 -11.3 -0.9zM360.3 1573.5l11.3 0.9 6.4 -6.4 -11.3 -0.6zM365.3 1580.8l11.3 1.2 6.4 -6.7 -11.3 -0.9zM370.2 1588.5l11.3 1.5 6.4 -6.9 -11.3 -1.1zM381.5 1590l11.3 1.4 6.4 -7.2 -11.3 -1.1zM386.4 1598.5l11.3 1.7 6.4 -7.3 -11.3 -1.4zM397.7 1600.2l11.3 1.7 6.4 -7.6 -11.3 -1.5zM409 1601.9l11.3 1.8 6.4 -7.9 -11.3 -1.5zM436.6 1616.2l11.3 2.7 6.4 -8.5 -11.3 -2.4zM499.5 1621.7l11.3 3.3 6.4 -9.1 -11.3 -3.3zM510.8 1625l11.3 3.5 6.4 -9.1 -11.3 -3.5zM522.1 1628.5l11.3 3.7 6.4 -9.1 -11.3 -3.8zM551 1627.2l11.3 4.2 6.4 -8.9 -11.3 -4.4zM580 1627.1l11.3 4.7 6.4 -8.3 -11.3 -5zM597.7 1623.5l11.3 4.9 6.4 -7.9 -11.3 -5.2zM626.6 1625.6l11.3 5 6.4 -7.4 -11.3 -5.3zM644.3 1623.2l11.3 5.2 6.4 -7.1 -11.3 -5.5zM650.6 1615.9l11.3 5.5 6.4 -6.9 -11.3 -5.7zM668.3 1614.4l11.3 5.6 6.4 -6.6 -11.3 -5.8zM686 1613.5l11.3 5.7 6.4 -6.4 -11.3 -5.8zM692.3 1607l11.3 5.8 6.4 -6.3 -11.3 -5.9zM710 1606.5l11.3 5.8 6.4 -6.3 -11.3 -5.8zM727.7 1606l11.3 5.8 6.4 -6.4 -11.3 -5.8zM734 1599.7l11.3 5.8 6.4 -6.5 -11.3 -5.8zM751.7 1599l11.3 6.1 6.4 -6.6 -11.3 -6.2zM775.7 1591.8l11.3 6.8 6.4 -6.7 -11.3 -6.9z"/><path fill="#4249b1" stroke="#4249b1" stroke-width="0.6" d="M272.8 1436.1l11.3 2.1 6.4 -7.5 -11.3 -2.1zM284.1 1438.2l11.3 1.8 6.4 -7.7 -11.3 -1.7zM289 1447.1l11.3 1.9 6.4 -7.3 -11.3 -1.7zM300.3 1449l11.3 1.9 6.4 -7.5 -11.3 -1.7zM311.6 1450.9l11.3 2 6.4 -7.6 -11.3 -1.8zM322.9 1452.9l11.3 2.1 6.4 -7.8 -11.3 -2zM334.2 1455l11.3 2.2 6.4 -7.8 -11.3 -2.1zM345.5 1457.2l11.3 2.2 6.4 -7.8 -11.3 -2.2zM356.8 1459.4l11.3 2.2 6.4 -7.7 -11.3 -2.3zM368.1 1461.6l11.3 2.1 6.4 -7.5 -11.3 -2.4zM373.1 1470.9l11.3 1.7 6.4 -6.9 -11.3 -2zM384.4 1472.6l11.3 1.4 6.4 -6.6 -11.3 -1.7zM389.3 1480.4l11.3 0.8 6.4 -6.1 -11.3 -1.1zM395.7 1474.1l11.3 1.1 6.4 -6.3 -11.3 -1.4zM394.3 1487.1l11.3 0.2 6.4 -5.7 -11.3 -0.4zM400.6 1481.2l11.3 0.4 6.4 -5.9 -11.3 -0.6zM386.5 1503.7l11.3 -0.6 6.4 -5.3 -11.3 0.5zM392.8 1498.4l11.3 -0.5 6.4 -5.3 -11.3 0.4zM399.2 1492.9l11.3 -0.4 6.4 -5.4 -11.3 0.2zM372.4 1523.8l11.3 -0.8 6.4 -5.2 -11.3 0.9zM378.7 1518.7l11.3 -0.9 6.4 -5.2 -11.3 1zM385.1 1513.5l11.3 -1 6.4 -5.2 -11.3 1zM391.4 1508.4l11.3 -1 6.4 -5.2 -11.3 1zM364.6 1538.8l11.3 -0.6 6.4 -5.5 -11.3 0.8zM370.9 1533.5l11.3 -0.8 6.4 -5.4 -11.3 1zM377.3 1528.2l11.3 -1 6.4 -5.4 -11.3 1.1zM356.8 1555l11.3 0 6.4 -5.9 -11.3 0.3zM363.2 1549.4l11.3 -0.3 6.4 -5.9 -11.3 0.6zM369.5 1543.8l11.3 -0.6 6.4 -5.8 -11.3 0.8zM361.7 1560.9l11.3 0.3 6.4 -6.2 -11.3 0zM368.1 1555l11.3 0 6.4 -6.2 -11.3 0.3zM366.7 1567.4l11.3 0.6 6.4 -6.5 -11.3 -0.2zM371.6 1574.4l11.3 0.9 6.4 -6.8 -11.3 -0.5zM376.6 1581.9l11.3 1.1 6.4 -7 -11.3 -0.8zM387.9 1583.1l11.3 1.1 6.4 -7.3 -11.3 -0.8zM392.8 1591.4l11.3 1.4 6.4 -7.5 -11.3 -1.1zM404.1 1592.8l11.3 1.5 6.4 -7.8 -11.3 -1.1zM420.4 1603.8l11.3 2 6.4 -8.2 -11.3 -1.7zM431.7 1605.8l11.3 2.2 6.4 -8.5 -11.3 -1.9zM443 1608l11.3 2.4 6.4 -8.8 -11.3 -2.1zM454.3 1610.4l11.3 2.6 6.4 -9 -11.3 -2.4zM465.6 1613l11.3 2.7 6.4 -9.1 -11.3 -2.6zM476.9 1615.7l11.3 2.9 6.4 -9.1 -11.3 -2.8zM488.2 1618.6l11.3 3.1 6.4 -9.1 -11.3 -3.1zM528.4 1619.4l11.3 3.8 6.4 -9.3 -11.3 -3.8zM539.7 1623.2l11.3 4 6.4 -9.1 -11.3 -4.1zM568.7 1622.5l11.3 4.6 6.4 -8.6 -11.3 -5zM586.4 1618.5l11.3 5 6.4 -8.2 -11.3 -5.3zM604 1615.3l11.3 5.2 6.4 -7.8 -11.3 -5.3zM615.3 1620.5l11.3 5.1 6.4 -7.6 -11.3 -5.3zM633 1617.9l11.3 5.3 6.4 -7.3 -11.3 -5.5zM657 1608.7l11.3 5.7 6.4 -6.8 -11.3 -6zM674.7 1607.6l11.3 5.8 6.4 -6.5 -11.3 -6zM681 1601l11.3 6 6.4 -6.3 -11.3 -6.1zM698.7 1600.6l11.3 5.9 6.4 -6.3 -11.3 -5.9zM716.4 1600.3l11.3 5.8 6.4 -6.4 -11.3 -5.7zM722.7 1594l11.3 5.7 6.4 -6.5 -11.3 -5.6zM740.4 1593.2l11.3 5.8 6.4 -6.7 -11.3 -5.9zM758 1592.3l11.3 6.2 6.4 -6.8 -11.3 -6.4zM764.4 1585.4l11.3 6.4 6.4 -6.9 -11.3 -6.6zM782.1 1584.9l11.3 6.9 6.4 -6.9 -11.3 -7z"/><path fill="#424bb5" stroke="#424bb5" stroke-width="0.6" d="M279.1 1428.6l11.3 2.1 6.4 -8.3 -11.3 -2zM295.4 1440l11.3 1.7 6.4 -7.9 -11.3 -1.5zM306.7 1441.7l11.3 1.7 6.4 -8.1 -11.3 -1.5zM318 1443.4l11.3 1.8 6.4 -8.2 -11.3 -1.7zM329.3 1445.3l11.3 2 6.4 -8.3 -11.3 -1.9zM379.4 1463.8l11.3 2 6.4 -7.2 -11.3 -2.3zM390.7 1465.8l11.3 1.7 6.4 -6.8 -11.3 -2.1zM402 1467.5l11.3 1.4 6.4 -6.5 -11.3 -1.7zM407 1475.1l11.3 0.6 6.4 -6 -11.3 -0.9zM413.3 1468.9l11.3 0.9 6.4 -6.2 -11.3 -1.2zM405.6 1487.3l11.3 -0.2 6.4 -5.5 -11.3 0zM411.9 1481.6l11.3 0 6.4 -5.7 -11.3 -0.1zM418.3 1475.8l11.3 0.1 6.4 -5.8 -11.3 -0.4zM397.8 1503.2l11.3 -1 6.4 -5.2 -11.3 0.9zM404.1 1497.9l11.3 -0.9 6.4 -5.2 -11.3 0.8zM410.5 1492.5l11.3 -0.8 6.4 -5.3 -11.3 0.7zM383.7 1523l11.3 -1.1 6.4 -5.3 -11.3 1.2zM390 1517.8l11.3 -1.2 6.4 -5.3 -11.3 1.3zM396.4 1512.6l11.3 -1.3 6.4 -5.2 -11.3 1.3zM375.9 1538.2l11.3 -0.8 6.4 -5.8 -11.3 1.1zM382.2 1532.7l11.3 -1.1 6.4 -5.6 -11.3 1.2zM374.5 1549.1l11.3 -0.3 6.4 -6.2 -11.3 0.7zM373 1561.2l11.3 0.2 6.4 -6.5 -11.3 0.1zM379.4 1555l11.3 -0.1 6.4 -6.5 -11.3 0.4zM378 1568l11.3 0.5 6.4 -6.8 -11.3 -0.2zM384.3 1561.5l11.3 0.2 6.4 -6.8 -11.3 0.1zM382.9 1575.2l11.3 0.8 6.4 -7.1 -11.3 -0.5zM389.3 1568.5l11.3 0.5 6.4 -7.1 -11.3 -0.2zM394.2 1576.1l11.3 0.8 6.4 -7.4 -11.3 -0.5zM399.2 1584.2l11.3 1.1 6.4 -7.6 -11.3 -0.8zM410.5 1585.3l11.3 1.1 6.4 -7.9 -11.3 -0.8zM415.4 1594.3l11.3 1.5 6.4 -8.1 -11.3 -1.2zM426.7 1595.8l11.3 1.7 6.4 -8.4 -11.3 -1.4zM438 1597.5l11.3 1.9 6.4 -8.7 -11.3 -1.6zM449.3 1599.4l11.3 2.1 6.4 -9 -11.3 -1.9zM471.9 1604l11.3 2.6 6.4 -9.3 -11.3 -2.5zM483.2 1606.6l11.3 2.8 6.4 -9.3 -11.3 -2.8zM494.5 1609.5l11.3 3.1 6.4 -9.4 -11.3 -3zM505.8 1612.5l11.3 3.3 6.4 -9.3 -11.3 -3.3zM517.1 1615.8l11.3 3.5 6.4 -9.3 -11.3 -3.6zM546.1 1613.9l11.3 4.1 6.4 -9.2 -11.3 -4.3zM557.4 1618l11.3 4.4 6.4 -9 -11.3 -4.7zM575.1 1613.5l11.3 5 6.4 -8.5 -11.3 -5.4zM592.7 1610l11.3 5.3 6.4 -8 -11.3 -5.5zM621.7 1612.7l11.3 5.3 6.4 -7.6 -11.3 -5.5zM639.3 1610.4l11.3 5.5 6.4 -7.2 -11.3 -5.8zM645.7 1602.9l11.3 5.8 6.4 -7 -11.3 -6.1zM663.4 1601.7l11.3 6 6.4 -6.6 -11.3 -6.1zM687.4 1594.6l11.3 6.1 6.4 -6.3 -11.3 -6.1zM705 1594.4l11.3 5.9 6.4 -6.3 -11.3 -5.8zM711.4 1588.2l11.3 5.8 6.4 -6.4 -11.3 -5.7zM729.1 1587.5l11.3 5.6 6.4 -6.7 -11.3 -5.6zM746.7 1586.4l11.3 5.9 6.4 -6.9 -11.3 -6zM770.8 1578.3l11.3 6.6 6.4 -6.9 -11.3 -6.7zM788.4 1578l11.3 7 6.4 -7 -11.3 -7z"/><path fill="#4451bf" stroke="#4451bf" stroke-width="0.6" d="M290.4 1430.6l11.3 1.7 6.4 -8.4 -11.3 -1.5zM301.7 1432.3l11.3 1.5 6.4 -8.7 -11.3 -1.2zM313 1433.8l11.3 1.5 6.4 -8.9 -11.3 -1.3zM340.6 1447.3l11.3 2.1 6.4 -8.4 -11.3 -2.1zM351.9 1449.4l11.3 2.2 6.4 -8.3 -11.3 -2.3zM363.2 1451.6l11.3 2.3 6.4 -8.2 -11.3 -2.5zM374.5 1453.9l11.3 2.4 6.4 -7.9 -11.3 -2.6zM385.8 1456.3l11.3 2.3 6.4 -7.5 -11.3 -2.7zM397.1 1458.6l11.3 2.1 6.4 -7.1 -11.3 -2.5zM408.4 1460.7l11.3 1.7 6.4 -6.7 -11.3 -2.1zM419.7 1462.4l11.3 1.2 6.4 -6.4 -11.3 -1.6zM424.6 1469.8l11.3 0.4 6.4 -5.9 -11.3 -0.6zM431 1463.6l11.3 0.6 6.4 -6 -11.3 -0.9zM416.9 1487.1l11.3 -0.7 6.4 -5.4 -11.3 0.5zM423.2 1481.6l11.3 -0.5 6.4 -5.5 -11.3 0.4zM429.6 1475.9l11.3 -0.4 6.4 -5.6 -11.3 0.2zM402.7 1507.4l11.3 -1.3 6.4 -5.2 -11.3 1.3zM409.1 1502.2l11.3 -1.3 6.4 -5.2 -11.3 1.3zM415.5 1497l11.3 -1.3 6.4 -5.2 -11.3 1.2zM421.8 1491.7l11.3 -1.2 6.4 -5.2 -11.3 1.1zM388.6 1527.2l11.3 -1.2 6.4 -5.5 -11.3 1.4zM395 1521.9l11.3 -1.4 6.4 -5.4 -11.3 1.5zM401.3 1516.6l11.3 -1.5 6.4 -5.4 -11.3 1.6zM380.8 1543.2l11.3 -0.7 6.4 -6.2 -11.3 1zM387.2 1537.4l11.3 -1 6.4 -6 -11.3 1.3zM385.8 1548.8l11.3 -0.4 6.4 -6.5 -11.3 0.7zM390.7 1554.9l11.3 -0.1 6.4 -6.9 -11.3 0.4zM395.6 1561.7l11.3 0.2 6.4 -7.2 -11.3 0.1zM400.6 1569l11.3 0.5 6.4 -7.4 -11.3 -0.2zM405.5 1576.9l11.3 0.8 6.4 -7.7 -11.3 -0.5zM416.8 1577.7l11.3 0.8 6.4 -8 -11.3 -0.5zM421.8 1586.5l11.3 1.2 6.4 -8.3 -11.3 -0.9zM433.1 1587.7l11.3 1.4 6.4 -8.6 -11.3 -1.1zM460.6 1601.6l11.3 2.4 6.4 -9.2 -11.3 -2.2zM523.5 1606.5l11.3 3.6 6.4 -9.4 -11.3 -3.6zM534.8 1610.1l11.3 3.8 6.4 -9.3 -11.3 -3.9zM563.8 1608.8l11.3 4.7 6.4 -8.9 -11.3 -5zM581.4 1604.7l11.3 5.4 6.4 -8.2 -11.3 -5.7zM599.1 1601.8l11.3 5.5 6.4 -7.9 -11.3 -5.5zM610.4 1607.3l11.3 5.3 6.4 -7.7 -11.3 -5.4zM628 1604.9l11.3 5.5 6.4 -7.5 -11.3 -5.7zM634.4 1597.2l11.3 5.7 6.4 -7.3 -11.3 -6zM652.1 1595.6l11.3 6.1 6.4 -6.8 -11.3 -6.3zM669.7 1594.9l11.3 6.1 6.4 -6.5 -11.3 -6.3zM676.1 1588.3l11.3 6.3 6.4 -6.3 -11.3 -6.4zM693.7 1588.2l11.3 6.1 6.4 -6.2 -11.3 -6.1zM700.1 1582.1l11.3 6.1 6.4 -6.3 -11.3 -6zM717.8 1581.9l11.3 5.7 6.4 -6.7 -11.3 -5.5zM735.4 1580.9l11.3 5.6 6.4 -7 -11.3 -5.6zM753.1 1579.4l11.3 6 6.4 -7 -11.3 -6.2zM777.1 1571.3l11.3 6.7 6.4 -7 -11.3 -6.7zM794.8 1570.9l11.3 7 6.4 -7.3 -11.3 -7z"/><path fill="#4456c7" stroke="#4456c7" stroke-width="0.6" d="M285.5 1420.4l11.3 2 6.4 -9.2 -11.3 -1.9zM296.8 1422.4l11.3 1.5 6.4 -9.3 -11.3 -1.4zM324.3 1435.3l11.3 1.7 6.4 -9 -11.3 -1.6zM335.6 1437l11.3 1.9 6.4 -9 -11.3 -1.9zM347 1438.9l11.3 2.1 6.4 -9 -11.3 -2.1zM358.3 1441l11.3 2.3 6.4 -8.9 -11.3 -2.3zM369.6 1443.3l11.3 2.5 6.4 -8.7 -11.3 -2.7zM380.9 1445.8l11.3 2.6 6.4 -8.3 -11.3 -3zM392.2 1448.4l11.3 2.7 6.4 -7.9 -11.3 -3.2zM403.5 1451.1l11.3 2.5 6.4 -7.4 -11.3 -2.9zM414.8 1453.6l11.3 2.1 6.4 -7 -11.3 -2.5zM421.1 1446.2l11.3 2.5 6.4 -7.3 -11.3 -2.8zM426.1 1455.6l11.3 1.6 6.4 -6.6 -11.3 -2zM432.4 1448.6l11.3 2 6.4 -6.8 -11.3 -2.5zM437.4 1457.2l11.3 0.9 6.4 -6.2 -11.3 -1.3zM435.9 1470.1l11.3 -0.2 6.4 -5.7 -11.3 0zM442.3 1464.2l11.3 0 6.4 -5.8 -11.3 -0.2zM428.2 1486.4l11.3 -1.1 6.4 -5.3 -11.3 1zM434.5 1481.1l11.3 -1 6.4 -5.4 -11.3 0.9zM440.9 1475.5l11.3 -0.9 6.4 -5.5 -11.3 0.8zM407.7 1511.3l11.3 -1.6 6.4 -5.3 -11.3 1.7zM414 1506.1l11.3 -1.7 6.4 -5.2 -11.3 1.7zM420.4 1500.9l11.3 -1.7 6.4 -5.2 -11.3 1.7zM426.8 1495.7l11.3 -1.7 6.4 -5.1 -11.3 1.7zM393.5 1531.6l11.3 -1.3 6.4 -5.9 -11.3 1.5zM399.9 1526l11.3 -1.5 6.4 -5.7 -11.3 1.6zM406.3 1520.5l11.3 -1.6 6.4 -5.5 -11.3 1.8zM392.1 1542.5l11.3 -0.7 6.4 -6.5 -11.3 1.1zM398.5 1536.4l11.3 -1.1 6.4 -6.4 -11.3 1.4zM397.1 1548.4l11.3 -0.4 6.4 -6.9 -11.3 0.7zM402 1554.8l11.3 -0.1 6.4 -7.2 -11.3 0.4zM406.9 1561.9l11.3 0.2 6.4 -7.5 -11.3 0.1zM411.9 1569.5l11.3 0.5 6.4 -7.7 -11.3 -0.2zM428.1 1578.6l11.3 0.9 6.4 -8.3 -11.3 -0.6zM444.4 1589.1l11.3 1.6 6.4 -8.9 -11.3 -1.3zM455.7 1590.7l11.3 1.9 6.4 -9.1 -11.3 -1.6zM467 1592.6l11.3 2.2 6.4 -9.3 -11.3 -2.1zM478.3 1594.8l11.3 2.5 6.4 -9.4 -11.3 -2.4zM489.6 1597.4l11.3 2.8 6.4 -9.4 -11.3 -2.7zM500.9 1600.1l11.3 3 6.4 -9.4 -11.3 -3zM512.2 1603.2l11.3 3.3 6.4 -9.4 -11.3 -3.3zM541.1 1600.7l11.3 3.9 6.4 -9.3 -11.3 -3.9zM552.5 1604.6l11.3 4.3 6.4 -9.2 -11.3 -4.4zM570.1 1599.6l11.3 5 6.4 -8.6 -11.3 -5.4zM587.8 1596.1l11.3 5.7 6.4 -7.9 -11.3 -5.9zM616.7 1599.5l11.3 5.4 6.4 -7.7 -11.3 -5.6zM640.8 1589.6l11.3 6 6.4 -7 -11.3 -6.3zM658.4 1588.6l11.3 6.3 6.4 -6.6 -11.3 -6.4zM682.4 1581.8l11.3 6.4 6.4 -6.2 -11.3 -6.5zM688.8 1575.5l11.3 6.5 6.4 -6.2 -11.3 -6.6zM706.5 1575.9l11.3 6 6.4 -6.5 -11.3 -5.9zM724.1 1575.4l11.3 5.5 6.4 -7 -11.3 -5.4zM741.8 1573.8l11.3 5.6 6.4 -7.3 -11.3 -5.7zM759.5 1572.1l11.3 6.2 6.4 -7.1 -11.3 -6.5zM765.8 1564.8l11.3 6.5 6.4 -7 -11.3 -6.6zM783.5 1564.3l11.3 6.7 6.4 -7.3 -11.3 -6.6zM801.1 1563.7l11.3 7 6.4 -7.5 -11.3 -7.2zM807.5 1556l11.3 7.2 6.4 -7.3 -11.3 -7.6z"/><path fill="#4559cb" stroke="#4559cb" stroke-width="0.6" d="M308.1 1423.9l11.3 1.2 6.4 -9.6 -11.3 -1zM319.4 1425.2l11.3 1.3 6.4 -9.8 -11.3 -1.1zM330.7 1426.4l11.3 1.6 6.4 -9.8 -11.3 -1.5zM387.2 1437.1l11.3 3 6.4 -8.8 -11.3 -3.4zM398.5 1440.1l11.3 3.2 6.4 -8.2 -11.3 -3.7zM409.8 1443.2l11.3 2.9 6.4 -7.7 -11.3 -3.5zM438.8 1441.3l11.3 2.5 6.4 -7.1 -11.3 -3.1zM443.7 1450.6l11.3 1.3 6.4 -6.4 -11.3 -1.8zM450.1 1443.8l11.3 1.8 6.4 -6.7 -11.3 -2.1zM448.7 1458.2l11.3 0.2 6.4 -5.9 -11.3 -0.5zM455 1452l11.3 0.5 6.4 -6.2 -11.3 -0.7zM447.3 1469.9l11.3 -0.8 6.4 -5.7 -11.3 0.7zM453.6 1464.2l11.3 -0.7 6.4 -5.7 -11.3 0.6zM433.1 1490.5l11.3 -1.7 6.4 -5.1 -11.3 1.6zM439.5 1485.3l11.3 -1.6 6.4 -5.1 -11.3 1.5zM445.8 1480.1l11.3 -1.5 6.4 -5.3 -11.3 1.4zM412.6 1515.1l11.3 -1.8 6.4 -5.5 -11.3 1.9zM419 1509.7l11.3 -1.9 6.4 -5.4 -11.3 2zM425.3 1504.4l11.3 -2 6.4 -5.3 -11.3 2.1zM404.8 1530.3l11.3 -1.4 6.4 -6.1 -11.3 1.7zM411.2 1524.5l11.3 -1.7 6.4 -5.9 -11.3 1.9zM403.4 1541.8l11.3 -0.7 6.4 -6.8 -11.3 1zM408.4 1548l11.3 -0.4 6.4 -7.2 -11.3 0.7zM413.3 1554.7l11.3 -0.1 6.4 -7.5 -11.3 0.4zM418.2 1562.1l11.3 0.2 6.4 -7.8 -11.3 0.1zM423.2 1570l11.3 0.5 6.4 -8 -11.3 -0.2zM434.5 1570.6l11.3 0.6 6.4 -8.4 -11.3 -0.3zM439.4 1579.5l11.3 1.1 6.4 -8.6 -11.3 -0.8zM450.7 1580.5l11.3 1.3 6.4 -8.9 -11.3 -1zM462 1581.8l11.3 1.6 6.4 -9.1 -11.3 -1.4zM507.2 1590.7l11.3 3 6.4 -9.4 -11.3 -3zM518.5 1593.7l11.3 3.3 6.4 -9.4 -11.3 -3.4zM529.8 1597.1l11.3 3.6 6.4 -9.3 -11.3 -3.7zM558.8 1595.3l11.3 4.4 6.4 -8.9 -11.3 -4.5zM605.4 1594l11.3 5.5 6.4 -7.8 -11.3 -5.6zM623.1 1591.7l11.3 5.6 6.4 -7.6 -11.3 -5.8zM647.1 1582.3l11.3 6.3 6.4 -6.7 -11.3 -6.5zM664.8 1581.8l11.3 6.4 6.4 -6.5 -11.3 -6.6zM671.1 1575.3l11.3 6.6 6.4 -6.3 -11.3 -6.7zM695.2 1569.3l11.3 6.6 6.4 -6.4 -11.3 -6.6zM712.8 1569.5l11.3 5.9 6.4 -7 -11.3 -5.8zM730.5 1568.4l11.3 5.4 6.4 -7.4 -11.3 -5.4zM748.2 1566.4l11.3 5.7 6.4 -7.3 -11.3 -5.9zM772.2 1557.7l11.3 6.6 6.4 -7.2 -11.3 -6.7zM789.8 1557.1l11.3 6.6 6.4 -7.7 -11.3 -6.7zM813.9 1548.2l11.3 7.6 6.4 -6.4 -11.3 -8.5z"/><path fill="#455ed3" stroke="#455ed3" stroke-width="0.6" d="M291.9 1411.3l11.3 1.9 6.4 -10.4 -11.3 -1.8zM303.2 1413.2l11.3 1.4 6.4 -10.5 -11.3 -1.3zM342 1428.1l11.3 1.9 6.4 -9.8 -11.3 -1.9zM353.3 1429.9l11.3 2.1 6.4 -9.7 -11.3 -2.2zM364.6 1432.1l11.3 2.3 6.4 -9.5 -11.3 -2.5zM375.9 1434.4l11.3 2.7 6.4 -9.2 -11.3 -3zM404.9 1431.3l11.3 3.7 6.4 -8.8 -11.3 -4.3zM416.2 1435l11.3 3.5 6.4 -8.2 -11.3 -4zM427.5 1438.5l11.3 2.8 6.4 -7.6 -11.3 -3.4zM445.1 1433.7l11.3 3.1 6.4 -7.6 -11.3 -3.5zM456.4 1436.7l11.3 2.1 6.4 -7.4 -11.3 -2.3zM461.4 1445.6l11.3 0.7 6.4 -6.6 -11.3 -0.8zM460 1458.3l11.3 -0.6 6.4 -5.8 -11.3 0.4zM466.3 1452.4l11.3 -0.4 6.4 -6.1 -11.3 0.3zM452.2 1474.7l11.3 -1.4 6.4 -5.4 -11.3 1.3zM458.6 1469.1l11.3 -1.3 6.4 -5.5 -11.3 1.2zM464.9 1463.5l11.3 -1.2 6.4 -5.6 -11.3 1.1zM431.7 1499.1l11.3 -2.1 6.4 -5.3 -11.3 2.1zM438.1 1493.9l11.3 -2.1 6.4 -5.2 -11.3 2.1zM444.4 1488.8l11.3 -2.1 6.4 -5.1 -11.3 2.1zM450.8 1483.7l11.3 -2.1 6.4 -5.1 -11.3 2.1zM417.6 1518.8l11.3 -1.9 6.4 -5.7 -11.3 2.1zM423.9 1513.3l11.3 -2.1 6.4 -5.7 -11.3 2.2zM409.8 1535.3l11.3 -1 6.4 -6.7 -11.3 1.4zM416.1 1528.9l11.3 -1.4 6.4 -6.5 -11.3 1.7zM414.7 1541.1l11.3 -0.7 6.4 -7.1 -11.3 1.1zM419.7 1547.6l11.3 -0.4 6.4 -7.5 -11.3 0.8zM424.6 1554.6l11.3 -0.1 6.4 -7.9 -11.3 0.4zM429.5 1562.3l11.3 0.2 6.4 -8.1 -11.3 0.1zM445.8 1571.1l11.3 0.8 6.4 -8.6 -11.3 -0.5zM473.3 1583.5l11.3 2.1 6.4 -9.3 -11.3 -1.9zM484.6 1585.5l11.3 2.4 6.4 -9.4 -11.3 -2.4zM495.9 1588l11.3 2.7 6.4 -9.4 -11.3 -2.7zM536.2 1587.7l11.3 3.7 6.4 -9.2 -11.3 -3.8zM547.5 1591.4l11.3 3.9 6.4 -9.1 -11.3 -4.1zM576.5 1590.7l11.3 5.4 6.4 -8.1 -11.3 -5.7zM594.1 1588l11.3 5.9 6.4 -7.9 -11.3 -6zM611.8 1586l11.3 5.6 6.4 -7.8 -11.3 -5.8zM629.5 1583.8l11.3 5.8 6.4 -7.3 -11.3 -6zM635.8 1576.2l11.3 6 6.4 -6.9 -11.3 -6.4zM653.5 1575.3l11.3 6.5 6.4 -6.6 -11.3 -6.7zM659.8 1568.6l11.3 6.7 6.4 -6.5 -11.3 -6.9zM677.5 1568.8l11.3 6.7 6.4 -6.2 -11.3 -6.9zM683.9 1562.4l11.3 6.9 6.4 -6.4 -11.3 -7zM701.5 1562.9l11.3 6.6 6.4 -6.9 -11.3 -6.5zM719.2 1562.6l11.3 5.8 6.4 -7.4 -11.3 -5.7zM736.8 1561l11.3 5.4 6.4 -7.5 -11.3 -5.5zM754.5 1558.9l11.3 5.9 6.4 -7.1 -11.3 -6.1zM778.5 1550.4l11.3 6.7 6.4 -7.8 -11.3 -6.6zM796.2 1549.3l11.3 6.7 6.4 -7.8 -11.3 -6.9zM820.2 1540.9l11.3 8.5 6.4 -6.6 -11.3 -9.2z"/><path fill="#4661d6" stroke="#4661d6" stroke-width="0.6" d="M314.5 1414.6l11.3 1 6.4 -10.6 -11.3 -0.9zM325.8 1415.6l11.3 1.1 6.4 -10.7 -11.3 -1zM382.3 1424.9l11.3 3 6.4 -9.8 -11.3 -3.4zM393.6 1427.9l11.3 3.4 6.4 -9.3 -11.3 -4zM422.5 1426.3l11.3 4 6.4 -8.8 -11.3 -4.8zM433.8 1430.3l11.3 3.4 6.4 -8 -11.3 -4.2zM467.8 1438.9l11.3 0.8 6.4 -7.3 -11.3 -0.9zM472.7 1446.3l11.3 -0.3 6.4 -6.6 -11.3 0.3zM471.3 1457.8l11.3 -1.1 6.4 -5.8 -11.3 1.1zM477.6 1452l11.3 -1.1 6.4 -6.1 -11.3 1.2zM457.1 1478.6l11.3 -2.1 6.4 -5.2 -11.3 2zM463.5 1473.3l11.3 -2 6.4 -5.3 -11.3 1.8zM469.9 1467.9l11.3 -1.8 6.4 -5.4 -11.3 1.7zM430.3 1507.8l11.3 -2.2 6.4 -5.6 -11.3 2.4zM436.6 1502.4l11.3 -2.4 6.4 -5.4 -11.3 2.5zM443 1497l11.3 -2.5 6.4 -5.3 -11.3 2.5zM422.5 1522.8l11.3 -1.7 6.4 -6.2 -11.3 2zM428.9 1516.9l11.3 -2 6.4 -6 -11.3 2.3zM421.1 1534.3l11.3 -1.1 6.4 -7 -11.3 1.4zM426 1540.4l11.3 -0.8 6.4 -7.5 -11.3 1.1zM431 1547.1l11.3 -0.4 6.4 -7.8 -11.3 0.8zM435.9 1554.5l11.3 -0.1 6.4 -8.2 -11.3 0.4zM440.8 1562.5l11.3 0.3 6.4 -8.4 -11.3 0zM452.2 1562.8l11.3 0.5 6.4 -8.6 -11.3 -0.2zM457.1 1571.9l11.3 1 6.4 -8.9 -11.3 -0.8zM468.4 1572.9l11.3 1.4 6.4 -9 -11.3 -1.2zM479.7 1574.3l11.3 1.9 6.4 -9.2 -11.3 -1.8zM491 1576.3l11.3 2.4 6.4 -9.3 -11.3 -2.2zM502.3 1578.6l11.3 2.7 6.4 -9.3 -11.3 -2.6zM513.6 1581.3l11.3 3 6.4 -9.3 -11.3 -3zM524.9 1584.3l11.3 3.4 6.4 -9.3 -11.3 -3.4zM553.9 1582.2l11.3 4.1 6.4 -8.7 -11.3 -4.3zM565.2 1586.2l11.3 4.5 6.4 -8.3 -11.3 -4.9zM582.8 1582.4l11.3 5.7 6.4 -8 -11.3 -5.8zM600.5 1580.1l11.3 6 6.4 -8 -11.3 -6zM618.2 1578l11.3 5.8 6.4 -7.6 -11.3 -6zM642.2 1569l11.3 6.4 6.4 -6.8 -11.3 -6.7zM666.2 1561.9l11.3 6.9 6.4 -6.4 -11.3 -7zM690.2 1555.9l11.3 7 6.4 -6.8 -11.3 -6.9zM707.9 1556.1l11.3 6.5 6.4 -7.3 -11.3 -6.3zM725.5 1555.3l11.3 5.7 6.4 -7.6 -11.3 -5.7zM743.2 1553.5l11.3 5.5 6.4 -7.4 -11.3 -5.7zM760.9 1551.6l11.3 6.1 6.4 -7.3 -11.3 -6.3zM802.6 1541.3l11.3 6.9 6.4 -7.3 -11.3 -7.5zM826.6 1533.6l11.3 9.2 6.4 -6.8 -11.3 -9.8zM832.9 1526.2l11.3 9.8 6.4 -6.9 -11.3 -10.4z"/><path fill="#4666dd" stroke="#4666dd" stroke-width="0.6" d="M298.2 1401l11.3 1.8 6.4 -11.7 -11.3 -1.8zM337.1 1416.7l11.3 1.5 6.4 -10.8 -11.3 -1.4zM348.4 1418.2l11.3 1.9 6.4 -10.8 -11.3 -1.9zM359.7 1420.1l11.3 2.2 6.4 -10.6 -11.3 -2.4zM371 1422.3l11.3 2.5 6.4 -10.3 -11.3 -2.9zM411.2 1422l11.3 4.3 6.4 -9.5 -11.3 -4.9zM440.2 1421.5l11.3 4.2 6.4 -8.9 -11.3 -5zM451.5 1425.7l11.3 3.5 6.4 -8.4 -11.3 -4zM462.8 1429.2l11.3 2.3 6.4 -8.2 -11.3 -2.5zM474.1 1431.5l11.3 0.9 6.4 -8.2 -11.3 -0.9zM479.1 1439.6l11.3 -0.3 6.4 -7.4 -11.3 0.4zM484 1445.9l11.3 -1.2 6.4 -6.7 -11.3 1.3zM476.2 1462.3l11.3 -1.7 6.4 -5.6 -11.3 1.7zM482.6 1456.7l11.3 -1.7 6.4 -5.8 -11.3 1.7zM449.4 1491.8l11.3 -2.5 6.4 -5.2 -11.3 2.5zM455.7 1486.6l11.3 -2.5 6.4 -5.1 -11.3 2.6zM462.1 1481.6l11.3 -2.6 6.4 -5.1 -11.3 2.5zM468.4 1476.5l11.3 -2.5 6.4 -5.1 -11.3 2.5zM435.2 1511.2l11.3 -2.3 6.4 -5.9 -11.3 2.5zM441.6 1505.6l11.3 -2.5 6.4 -5.7 -11.3 2.6zM427.4 1527.6l11.3 -1.4 6.4 -6.8 -11.3 1.7zM433.8 1521.1l11.3 -1.7 6.4 -6.6 -11.3 2.1zM432.4 1533.2l11.3 -1.1 6.4 -7.3 -11.3 1.4zM437.3 1539.6l11.3 -0.8 6.4 -7.8 -11.3 1.1zM442.3 1546.7l11.3 -0.4 6.4 -8.1 -11.3 0.7zM447.2 1554.4l11.3 0 6.4 -8.4 -11.3 0.3zM463.5 1563.3l11.3 0.8 6.4 -8.8 -11.3 -0.6zM474.8 1564.1l11.3 1.2 6.4 -9 -11.3 -1.1zM531.3 1575l11.3 3.4 6.4 -9.1 -11.3 -3.5zM542.6 1578.4l11.3 3.8 6.4 -9 -11.3 -3.9zM571.5 1577.5l11.3 4.9 6.4 -8.1 -11.3 -5.2zM589.2 1574.3l11.3 5.8 6.4 -8 -11.3 -5.9zM606.9 1572l11.3 6 6.4 -7.8 -11.3 -6.1zM624.5 1570.2l11.3 6 6.4 -7.3 -11.3 -6.3zM630.9 1562.7l11.3 6.3 6.4 -7 -11.3 -6.6zM648.5 1561.9l11.3 6.7 6.4 -6.6 -11.3 -6.9zM672.6 1555.4l11.3 7 6.4 -6.5 -11.3 -7.1zM696.6 1549.2l11.3 6.9 6.4 -7.1 -11.3 -6.6zM714.2 1549l11.3 6.3 6.4 -7.5 -11.3 -6zM731.9 1547.8l11.3 5.7 6.4 -7.6 -11.3 -5.6zM749.6 1545.9l11.3 5.7 6.4 -7.5 -11.3 -5.8zM767.2 1544.1l11.3 6.3 6.4 -7.7 -11.3 -6.3zM784.9 1542.7l11.3 6.6 6.4 -8 -11.3 -6.7zM808.9 1533.3l11.3 7.5 6.4 -7.2 -11.3 -8.2zM839.3 1518.7l11.3 10.4 6.4 -7 -11.3 -11.1z"/><path fill="#466be3" stroke="#466be3" stroke-width="0.6" d="M309.5 1402.8l11.3 1.3 6.4 -11.7 -11.3 -1.2zM320.8 1404.1l11.3 0.9 6.4 -11.7 -11.3 -0.9zM388.6 1414.6l11.3 3.4 6.4 -10.7 -11.3 -3.9zM399.9 1418l11.3 4 6.4 -10.1 -11.3 -4.6zM428.9 1416.7l11.3 4.8 6.4 -9.7 -11.3 -5.6zM457.9 1416.8l11.3 4 6.4 -9.5 -11.3 -4.6zM469.2 1420.8l11.3 2.5 6.4 -9.2 -11.3 -2.8zM485.4 1432.4l11.3 -0.4 6.4 -8.3 -11.3 0.6zM490.4 1439.3l11.3 -1.3 6.4 -7.5 -11.3 1.4zM488.9 1450.9l11.3 -1.7 6.4 -6.2 -11.3 1.8zM474.8 1471.3l11.3 -2.5 6.4 -5.2 -11.3 2.4zM481.2 1466l11.3 -2.4 6.4 -5.3 -11.3 2.3zM487.5 1460.6l11.3 -2.3 6.4 -5.5 -11.3 2.2zM447.9 1500l11.3 -2.6 6.4 -5.5 -11.3 2.8zM454.3 1494.6l11.3 -2.8 6.4 -5.4 -11.3 2.8zM460.7 1489.3l11.3 -2.8 6.4 -5.2 -11.3 2.9zM440.2 1514.9l11.3 -2.1 6.4 -6.3 -11.3 2.4zM438.7 1526.2l11.3 -1.4 6.4 -7.1 -11.3 1.8zM443.7 1532.1l11.3 -1.1 6.4 -7.6 -11.3 1.4zM448.6 1538.8l11.3 -0.7 6.4 -8.1 -11.3 1zM453.6 1546.3l11.3 -0.3 6.4 -8.4 -11.3 0.5zM458.5 1554.4l11.3 0.2 6.4 -8.6 -11.3 0zM469.8 1554.6l11.3 0.6 6.4 -8.8 -11.3 -0.4zM486.1 1565.3l11.3 1.8 6.4 -9.1 -11.3 -1.6zM497.4 1567.1l11.3 2.2 6.4 -9.2 -11.3 -2.1zM508.7 1569.3l11.3 2.6 6.4 -9.3 -11.3 -2.6zM520 1571.9l11.3 3 6.4 -9.2 -11.3 -3.1zM548.9 1569.3l11.3 3.9 6.4 -8.7 -11.3 -4.1zM560.2 1573.2l11.3 4.3 6.4 -8.4 -11.3 -4.6zM577.9 1569.1l11.3 5.2 6.4 -8.1 -11.3 -5.4zM595.6 1566.2l11.3 5.9 6.4 -7.9 -11.3 -6zM613.2 1564.1l11.3 6.1 6.4 -7.6 -11.3 -6.3zM637.2 1555.3l11.3 6.6 6.4 -6.9 -11.3 -6.8zM654.9 1555.1l11.3 6.9 6.4 -6.6 -11.3 -7.1zM661.3 1548.3l11.3 7.1 6.4 -6.6 -11.3 -7.2zM678.9 1548.8l11.3 7.1 6.4 -6.7 -11.3 -7.1zM685.3 1542.2l11.3 7.1 6.4 -6.8 -11.3 -6.9zM702.9 1542.4l11.3 6.6 6.4 -7.3 -11.3 -6.3zM720.6 1541.8l11.3 6 6.4 -7.5 -11.3 -5.8zM738.3 1540.3l11.3 5.6 6.4 -7.6 -11.3 -5.6zM755.9 1538.3l11.3 5.8 6.4 -7.8 -11.3 -5.9zM773.6 1536.4l11.3 6.3 6.4 -8.1 -11.3 -6.3zM791.3 1534.6l11.3 6.7 6.4 -8 -11.3 -7zM815.3 1525.4l11.3 8.2 6.4 -7.4 -11.3 -8.9zM845.7 1511l11.3 11.1 6.4 -6.9 -11.3 -12z"/><path fill="#476ee6" stroke="#476ee6" stroke-width="0.6" d="M332.1 1405l11.3 1 6.4 -11.8 -11.3 -1zM343.4 1406l11.3 1.4 6.4 -11.8 -11.3 -1.4zM354.7 1407.4l11.3 1.9 6.4 -11.8 -11.3 -1.9zM366 1409.4l11.3 2.4 6.4 -11.6 -11.3 -2.5zM377.3 1411.7l11.3 2.9 6.4 -11.2 -11.3 -3.2zM417.6 1411.8l11.3 4.9 6.4 -10.5 -11.3 -5.7zM446.6 1411.8l11.3 5 6.4 -10.1 -11.3 -5.9zM480.5 1423.4l11.3 0.9 6.4 -9.3 -11.3 -0.8zM495.3 1444.8l11.3 -1.8 6.4 -6.9 -11.3 2zM493.9 1455l11.3 -2.2 6.4 -5.8 -11.3 2.3zM500.2 1449.2l11.3 -2.3 6.4 -6.3 -11.3 2.3zM467 1484.1l11.3 -2.9 6.4 -5.1 -11.3 2.9zM473.4 1479l11.3 -2.9 6.4 -5.1 -11.3 2.9zM479.7 1474l11.3 -2.9 6.4 -5.1 -11.3 2.8zM486.1 1468.8l11.3 -2.8 6.4 -5.1 -11.3 2.8zM446.5 1508.9l11.3 -2.4 6.4 -6.1 -11.3 2.6zM452.9 1503.1l11.3 -2.6 6.4 -5.9 -11.3 2.8zM459.2 1497.4l11.3 -2.8 6.4 -5.7 -11.3 3zM445.1 1519.4l11.3 -1.8 6.4 -6.9 -11.3 2.1zM450 1524.8l11.3 -1.4 6.4 -7.5 -11.3 1.7zM464.9 1546l11.3 0 6.4 -8.6 -11.3 0.2zM481.1 1555.2l11.3 1.1 6.4 -9 -11.3 -0.9zM492.4 1556.3l11.3 1.6 6.4 -9.1 -11.3 -1.5zM503.7 1557.9l11.3 2.1 6.4 -9.1 -11.3 -2.1zM515 1560.1l11.3 2.6 6.4 -9.1 -11.3 -2.6zM526.3 1562.7l11.3 3.1 6.4 -9.1 -11.3 -3.1zM537.6 1565.8l11.3 3.5 6.4 -9 -11.3 -3.6zM566.6 1564.4l11.3 4.6 6.4 -8.3 -11.3 -4.9zM584.3 1560.8l11.3 5.4 6.4 -8 -11.3 -5.6zM601.9 1558.2l11.3 6 6.4 -7.7 -11.3 -6.1zM619.6 1556.4l11.3 6.3 6.4 -7.3 -11.3 -6.5zM643.6 1548.2l11.3 6.8 6.4 -6.7 -11.3 -7zM667.6 1541.6l11.3 7.2 6.4 -6.6 -11.3 -7.1zM691.6 1535.5l11.3 6.9 6.4 -7 -11.3 -6.6zM709.3 1535.4l11.3 6.3 6.4 -7.3 -11.3 -6zM727 1534.5l11.3 5.8 6.4 -7.6 -11.3 -5.6zM744.6 1532.7l11.3 5.6 6.4 -7.8 -11.3 -5.5zM762.3 1530.5l11.3 5.9 6.4 -8.1 -11.3 -5.8zM780 1528.3l11.3 6.3 6.4 -8.2 -11.3 -6.4zM797.6 1526.4l11.3 7 6.4 -7.9 -11.3 -7.4zM821.6 1517.4l11.3 8.9 6.4 -7.6 -11.3 -9.5zM852 1503.2l11.3 12 6.4 -6.9 -11.3 -12.9z"/><path fill="#4773eb" stroke="#4773eb" stroke-width="0.6" d="M304.6 1389.4l11.3 1.8 6.4 -12.7 -11.3 -1.7zM315.9 1391.2l11.3 1.2 6.4 -12.8 -11.3 -1.2zM406.3 1407.3l11.3 4.6 6.4 -11.3 -11.3 -5.2zM435.3 1406.2l11.3 5.6 6.4 -11 -11.3 -6.5zM464.2 1406.7l11.3 4.6 6.4 -11 -11.3 -5.4zM475.5 1411.3l11.3 2.8 6.4 -10.7 -11.3 -3.1zM491.8 1424.2l11.3 -0.6 6.4 -9.6 -11.3 0.9zM496.7 1432l11.3 -1.4 6.4 -8.6 -11.3 1.7zM501.7 1438.1l11.3 -2 6.4 -7.7 -11.3 2.2zM506.6 1443l11.3 -2.3 6.4 -7 -11.3 2.4zM492.5 1463.6l11.3 -2.8 6.4 -5.3 -11.3 2.7zM498.8 1458.3l11.3 -2.7 6.4 -5.5 -11.3 2.7zM505.2 1452.8l11.3 -2.7 6.4 -5.8 -11.3 2.7zM465.6 1491.8l11.3 -3 6.4 -5.5 -11.3 3.1zM472 1486.5l11.3 -3.1 6.4 -5.3 -11.3 3.1zM478.3 1481.2l11.3 -3.1 6.4 -5.1 -11.3 3.1zM451.5 1512.8l11.3 -2.1 6.4 -6.6 -11.3 2.4zM457.8 1506.5l11.3 -2.4 6.4 -6.4 -11.3 2.7zM456.4 1517.7l11.3 -1.7 6.4 -7.2 -11.3 2.1zM455 1531l11.3 -1 6.4 -7.9 -11.3 1.3zM459.9 1538.1l11.3 -0.5 6.4 -8.3 -11.3 0.8zM471.2 1537.6l11.3 -0.2 6.4 -8.5 -11.3 0.4zM476.2 1546l11.3 0.4 6.4 -8.8 -11.3 -0.2zM487.5 1546.4l11.3 0.9 6.4 -8.9 -11.3 -0.8zM544 1556.7l11.3 3.6 6.4 -8.8 -11.3 -3.8zM555.3 1560.3l11.3 4.1 6.4 -8.6 -11.3 -4.3zM572.9 1555.9l11.3 4.9 6.4 -8.2 -11.3 -5.1zM590.6 1552.6l11.3 5.6 6.4 -7.9 -11.3 -5.8zM608.3 1550.3l11.3 6.1 6.4 -7.5 -11.3 -6.3zM625.9 1548.8l11.3 6.5 6.4 -7.1 -11.3 -6.7zM650 1541.3l11.3 7 6.4 -6.7 -11.3 -7.1zM674 1535l11.3 7.1 6.4 -6.7 -11.3 -7zM698 1528.8l11.3 6.6 6.4 -7 -11.3 -6.3zM715.7 1528.4l11.3 6 6.4 -7.4 -11.3 -5.7zM733.3 1527.1l11.3 5.6 6.4 -7.7 -11.3 -5.4zM751 1525l11.3 5.5 6.4 -8 -11.3 -5.4zM768.6 1522.5l11.3 5.8 6.4 -8.4 -11.3 -5.8zM786.3 1519.9l11.3 6.4 6.4 -8.4 -11.3 -6.7zM804 1518l11.3 7.4 6.4 -8 -11.3 -8zM828 1509.1l11.3 9.5 6.4 -7.7 -11.3 -10.2zM858.4 1495.4l11.3 12.9 6.4 -6.8 -11.3 -13.9zM864.7 1487.6l11.3 13.9 6.4 -6.7 -11.3 -14.8z"/><path fill="#4778f0" stroke="#4778f0" stroke-width="0.6" d="M327.2 1392.4l11.3 0.9 6.4 -12.8 -11.3 -0.8zM338.5 1393.3l11.3 1 6.4 -12.9 -11.3 -0.9zM383.7 1400.1l11.3 3.2 6.4 -12.4 -11.3 -3.5zM395 1403.3l11.3 3.9 6.4 -11.9 -11.3 -4.4zM424 1400.5l11.3 5.7 6.4 -11.9 -11.3 -6.5zM452.9 1400.8l11.3 5.9 6.4 -11.7 -11.3 -6.9zM486.8 1414.1l11.3 0.8 6.4 -10.8 -11.3 -0.7zM503.1 1423.6l11.3 -1.7 6.4 -9.9 -11.3 2.1zM508 1430.5l11.3 -2.2 6.4 -8.9 -11.3 2.4zM513 1436.1l11.3 -2.4 6.4 -7.9 -11.3 2.6zM511.5 1446.9l11.3 -2.7 6.4 -6.3 -11.3 2.7zM484.7 1476.1l11.3 -3.1 6.4 -5.1 -11.3 3.1zM491 1471.1l11.3 -3.1 6.4 -5 -11.3 3.1zM497.4 1466l11.3 -3.1 6.4 -5.1 -11.3 3.1zM503.8 1460.9l11.3 -3.1 6.4 -5.2 -11.3 3zM464.2 1500.4l11.3 -2.7 6.4 -6.1 -11.3 2.9zM470.5 1494.5l11.3 -2.9 6.4 -5.8 -11.3 3.1zM462.8 1510.8l11.3 -2.1 6.4 -7 -11.3 2.4zM461.3 1523.4l11.3 -1.3 6.4 -7.8 -11.3 1.6zM466.3 1530l11.3 -0.8 6.4 -8.2 -11.3 1zM482.5 1537.4l11.3 0.2 6.4 -8.7 -11.3 -0.1zM498.8 1547.4l11.3 1.5 6.4 -9 -11.3 -1.4zM510.1 1548.9l11.3 2.1 6.4 -9.1 -11.3 -2zM521.4 1550.9l11.3 2.6 6.4 -9 -11.3 -2.6zM532.7 1553.5l11.3 3.1 6.4 -8.9 -11.3 -3.2zM561.6 1551.5l11.3 4.3 6.4 -8.4 -11.3 -4.6zM579.3 1547.4l11.3 5.1 6.4 -8.1 -11.3 -5.3zM597 1544.5l11.3 5.8 6.4 -7.7 -11.3 -6zM614.6 1542.5l11.3 6.3 6.4 -7.3 -11.3 -6.5zM632.3 1541.5l11.3 6.7 6.4 -6.9 -11.3 -6.9zM638.7 1534.4l11.3 6.9 6.4 -6.8 -11.3 -7.1zM656.3 1534.5l11.3 7.1 6.4 -6.6 -11.3 -7.2zM662.7 1527.9l11.3 7.2 6.4 -6.5 -11.3 -7.1zM680.3 1528.5l11.3 7 6.4 -6.7 -11.3 -6.8zM686.7 1522l11.3 6.8 6.4 -6.7 -11.3 -6.5zM704.4 1522.1l11.3 6.3 6.4 -7 -11.3 -5.9zM722 1521.4l11.3 5.7 6.4 -7.5 -11.3 -5.4zM739.7 1519.6l11.3 5.4 6.4 -7.9 -11.3 -5.1zM757.3 1517.1l11.3 5.4 6.4 -8.3 -11.3 -5.2zM810.3 1509.4l11.3 8 6.4 -8.2 -11.3 -8.5zM834.4 1500.7l11.3 10.2 6.4 -7.8 -11.3 -11zM871.1 1479.9l11.3 14.8 6.4 -6.6 -11.3 -15.8zM960.1 1402.4l11.3 26.7 6.4 -1.7 -11.3 -25.9z"/><path fill="#477bf2" stroke="#477bf2" stroke-width="0.6" d="M349.8 1394.2l11.3 1.4 6.4 -12.9 -11.3 -1.4zM361.1 1395.6l11.3 1.9 6.4 -12.8 -11.3 -2zM372.4 1397.6l11.3 2.5 6.4 -12.7 -11.3 -2.7zM498.1 1414.9l11.3 -0.9 6.4 -11.1 -11.3 1.2zM517.9 1440.6l11.3 -2.7 6.4 -7 -11.3 2.7zM510.1 1455.6l11.3 -3 6.4 -5.5 -11.3 3zM516.5 1450.1l11.3 -3 6.4 -5.8 -11.3 3zM476.9 1488.9l11.3 -3.1 6.4 -5.6 -11.3 3.2zM483.3 1483.4l11.3 -3.2 6.4 -5.3 -11.3 3.3zM489.6 1478.1l11.3 -3.3 6.4 -5.2 -11.3 3.3zM496 1473l11.3 -3.3 6.4 -5 -11.3 3.3zM469.1 1504.1l11.3 -2.4 6.4 -6.7 -11.3 2.7zM467.7 1515.9l11.3 -1.6 6.4 -7.6 -11.3 1.9zM472.6 1522.1l11.3 -1 6.4 -8.1 -11.3 1.3zM477.6 1529.3l11.3 -0.4 6.4 -8.5 -11.3 0.7zM493.8 1537.7l11.3 0.8 6.4 -8.9 -11.3 -0.7zM505.1 1538.4l11.3 1.4 6.4 -8.9 -11.3 -1.3zM516.4 1539.8l11.3 2 6.4 -9 -11.3 -2zM527.7 1541.9l11.3 2.6 6.4 -8.9 -11.3 -2.7zM539 1544.5l11.3 3.2 6.4 -8.8 -11.3 -3.3zM550.3 1547.7l11.3 3.8 6.4 -8.6 -11.3 -4zM568 1542.9l11.3 4.6 6.4 -8.3 -11.3 -4.8zM585.7 1539.1l11.3 5.3 6.4 -7.9 -11.3 -5.5zM603.3 1536.5l11.3 6 6.4 -7.6 -11.3 -6.2zM621 1535l11.3 6.5 6.4 -7.1 -11.3 -6.7zM645 1527.4l11.3 7.1 6.4 -6.6 -11.3 -7.2zM669 1521.4l11.3 7.1 6.4 -6.5 -11.3 -7zM693.1 1515.6l11.3 6.5 6.4 -6.7 -11.3 -6.2zM710.7 1515.4l11.3 5.9 6.4 -7.1 -11.3 -5.5zM728.4 1514.3l11.3 5.4 6.4 -7.6 -11.3 -5zM746 1512l11.3 5.1 6.4 -8.2 -11.3 -4.8zM775 1514.1l11.3 5.8 6.4 -8.6 -11.3 -5.9zM792.7 1511.3l11.3 6.7 6.4 -8.6 -11.3 -7zM840.7 1492.2l11.3 11 6.4 -7.8 -11.3 -12zM877.5 1472.3l11.3 15.8 6.4 -6.5 -11.3 -16.8zM953.8 1403.7l11.3 27.4 6.4 -2 -11.3 -26.7z"/><path fill="#4680f6" stroke="#4680f6" stroke-width="0.6" d="M310.9 1376.8l11.3 1.7 6.4 -13.6 -11.3 -1.6zM322.2 1378.4l11.3 1.2 6.4 -13.7 -11.3 -1.1zM412.7 1395.3l11.3 5.2 6.4 -12.7 -11.3 -5.8zM441.6 1394.3l11.3 6.5 6.4 -12.7 -11.3 -7.5zM470.6 1395l11.3 5.4 6.4 -12.9 -11.3 -6.4zM481.9 1400.4l11.3 3.1 6.4 -12.5 -11.3 -3.5zM493.2 1403.5l11.3 0.7 6.4 -12.7 -11.3 -0.5zM514.4 1421.9l11.3 -2.4 6.4 -10.2 -11.3 2.7zM519.3 1428.4l11.3 -2.6 6.4 -9.1 -11.3 2.8zM524.3 1433.7l11.3 -2.7 6.4 -7.9 -11.3 2.8zM522.8 1444.2l11.3 -3 6.4 -6.3 -11.3 3zM502.3 1467.9l11.3 -3.3 6.4 -5 -11.3 3.2zM508.7 1462.9l11.3 -3.2 6.4 -5.1 -11.3 3.2zM515.1 1457.8l11.3 -3.2 6.4 -5.2 -11.3 3.2zM521.4 1452.5l11.3 -3.2 6.4 -5.5 -11.3 3.2zM475.5 1497.7l11.3 -2.7 6.4 -6.4 -11.3 2.9zM481.8 1491.6l11.3 -2.9 6.4 -6 -11.3 3.1zM488.2 1485.8l11.3 -3.1 6.4 -5.7 -11.3 3.2zM474.1 1508.7l11.3 -1.9 6.4 -7.3 -11.3 2.2zM479 1514.3l11.3 -1.3 6.4 -7.9 -11.3 1.6zM484 1521.1l11.3 -0.7 6.4 -8.3 -11.3 0.9zM488.9 1528.9l11.3 0.1 6.4 -8.6 -11.3 0.1zM500.2 1528.9l11.3 0.7 6.4 -8.8 -11.3 -0.5zM545.4 1535.6l11.3 3.3 6.4 -8.7 -11.3 -3.4zM556.7 1538.9l11.3 4 6.4 -8.5 -11.3 -4.1zM574.4 1534.4l11.3 4.8 6.4 -8.2 -11.3 -5zM609.7 1528.7l11.3 6.2 6.4 -7.3 -11.3 -6.4zM627.4 1527.6l11.3 6.7 6.4 -6.9 -11.3 -6.9zM651.4 1520.7l11.3 7.2 6.4 -6.5 -11.3 -7.1zM657.7 1514.2l11.3 7.1 6.4 -6.3 -11.3 -7.1zM675.4 1515.1l11.3 7 6.4 -6.4 -11.3 -6.7zM681.8 1508.9l11.3 6.7 6.4 -6.3 -11.3 -6.4zM699.4 1509.3l11.3 6.2 6.4 -6.7 -11.3 -5.8zM717.1 1508.8l11.3 5.5 6.4 -7.2 -11.3 -5.1zM734.7 1507l11.3 5 6.4 -7.9 -11.3 -4.5zM763.7 1508.9l11.3 5.2 6.4 -8.7 -11.3 -5.1zM781.4 1505.4l11.3 5.9 6.4 -8.9 -11.3 -6zM799 1502.4l11.3 7 6.4 -8.8 -11.3 -7.5zM816.7 1500.6l11.3 8.5 6.4 -8.4 -11.3 -9.2zM847.1 1483.4l11.3 12 6.4 -7.8 -11.3 -13zM883.8 1464.8l11.3 16.8 6.4 -6.4 -11.3 -17.9zM890.2 1457.3l11.3 17.9 6.4 -6.1 -11.3 -19.2zM941.1 1409.2l11.3 27.5 6.4 -3.1 -11.3 -27.7zM947.4 1405.8l11.3 27.7 6.4 -2.5 -11.3 -27.4z"/><path fill="#4682f8" stroke="#4682f8" stroke-width="0.6" d="M333.5 1379.6l11.3 0.8 6.4 -13.8 -11.3 -0.7zM344.8 1380.4l11.3 0.9 6.4 -13.9 -11.3 -0.8zM390.1 1387.4l11.3 3.5 6.4 -13.7 -11.3 -3.7zM401.4 1390.9l11.3 4.4 6.4 -13.3 -11.3 -4.8zM430.3 1387.9l11.3 6.5 6.4 -13.6 -11.3 -7.2zM459.3 1388.1l11.3 6.9 6.4 -13.9 -11.3 -7.9zM509.4 1414.1l11.3 -2.1 6.4 -11.5 -11.3 2.4zM530.6 1425.8l11.3 -2.8 6.4 -9.1 -11.3 2.8zM529.2 1437.9l11.3 -3 6.4 -6.9 -11.3 2.9zM527.8 1447.1l11.3 -3.2 6.4 -5.8 -11.3 3.2zM494.6 1480.2l11.3 -3.2 6.4 -5.4 -11.3 3.3zM500.9 1474.9l11.3 -3.3 6.4 -5.2 -11.3 3.3zM507.3 1469.7l11.3 -3.3 6.4 -5 -11.3 3.2zM513.6 1464.7l11.3 -3.2 6.4 -5 -11.3 3.2zM480.4 1501.7l11.3 -2.2 6.4 -7 -11.3 2.5zM486.8 1495l11.3 -2.5 6.4 -6.6 -11.3 2.8zM485.4 1506.8l11.3 -1.6 6.4 -7.6 -11.3 1.9zM490.3 1513l11.3 -0.9 6.4 -8.1 -11.3 1.2zM495.3 1520.4l11.3 -0.1 6.4 -8.5 -11.3 0.3zM511.5 1529.6l11.3 1.3 6.4 -8.8 -11.3 -1.2zM522.8 1530.9l11.3 2 6.4 -8.8 -11.3 -2zM534.1 1532.9l11.3 2.7 6.4 -8.8 -11.3 -2.7zM563.1 1530.2l11.3 4.1 6.4 -8.4 -11.3 -4.3zM592 1531l11.3 5.5 6.4 -7.8 -11.3 -5.8zM616.1 1521.2l11.3 6.4 6.4 -7.1 -11.3 -6.6zM633.7 1520.5l11.3 6.9 6.4 -6.7 -11.3 -7zM640.1 1513.7l11.3 7 6.4 -6.5 -11.3 -7.1zM664.1 1508l11.3 7.1 6.4 -6.2 -11.3 -6.9zM670.5 1502l11.3 6.9 6.4 -6 -11.3 -6.6zM688.1 1502.9l11.3 6.4 6.4 -6.3 -11.3 -6zM694.5 1497l11.3 6 6.4 -6.3 -11.3 -5.6zM705.8 1503l11.3 5.8 6.4 -6.8 -11.3 -5.3zM712.1 1496.7l11.3 5.3 6.4 -6.9 -11.3 -4.8zM723.4 1502l11.3 5.1 6.4 -7.4 -11.3 -4.6zM741.1 1499.6l11.3 4.5 6.4 -8.2 -11.3 -4.1zM752.4 1504.2l11.3 4.8 6.4 -8.5 -11.3 -4.4zM770.1 1500.4l11.3 5.1 6.4 -9.1 -11.3 -5zM823.1 1491.6l11.3 9.2 6.4 -8.6 -11.3 -9.8zM853.4 1474.6l11.3 13 6.4 -7.7 -11.3 -14zM896.5 1450l11.3 19.2 6.4 -5.7 -11.3 -20.4zM902.9 1443l11.3 20.4 6.4 -5.2 -11.3 -21.7zM909.3 1436.6l11.3 21.7 6.4 -4.8 -11.3 -22.9zM915.6 1430.5l11.3 22.9 6.4 -4.6 -11.3 -24.3zM922 1424.5l11.3 24.3 6.4 -4.4 -11.3 -25.6zM928.3 1418.8l11.3 25.6 6.4 -4.1 -11.3 -26.8zM934.7 1413.6l11.3 26.8 6.4 -3.7 -11.3 -27.5z"/><path fill="#4687fb" stroke="#4687fb" stroke-width="0.6" d="M356.1 1381.4l11.3 1.4 6.4 -13.9 -11.3 -1.4zM367.4 1382.8l11.3 2 6.4 -13.9 -11.3 -2zM378.8 1384.8l11.3 2.7 6.4 -13.9 -11.3 -2.7zM504.5 1404.1l11.3 -1.2 6.4 -13 -11.3 1.5zM520.7 1412l11.3 -2.7 6.4 -11.8 -11.3 3.1zM525.7 1419.5l11.3 -2.8 6.4 -10.5 -11.3 3zM535.6 1430.9l11.3 -2.9 6.4 -7.8 -11.3 2.8zM534.1 1441.2l11.3 -3.2 6.4 -6.3 -11.3 3.2zM540.5 1434.9l11.3 -3.2 6.4 -6.9 -11.3 3.1zM520 1459.6l11.3 -3.2 6.4 -5 -11.3 3.2zM526.4 1454.6l11.3 -3.2 6.4 -5.2 -11.3 3.2zM532.7 1449.3l11.3 -3.2 6.4 -5.5 -11.3 3.2zM493.1 1488.7l11.3 -2.8 6.4 -6.2 -11.3 3zM499.5 1482.7l11.3 -3 6.4 -5.8 -11.3 3.1zM491.7 1499.5l11.3 -1.9 6.4 -7.3 -11.3 2.3zM496.7 1505.1l11.3 -1.2 6.4 -7.9 -11.3 1.5zM501.6 1512.1l11.3 -0.3 6.4 -8.4 -11.3 0.5zM506.6 1520.3l11.3 0.5 6.4 -8.7 -11.3 -0.4zM517.9 1520.8l11.3 1.2 6.4 -8.7 -11.3 -1.2zM529.2 1522.1l11.3 2 6.4 -8.7 -11.3 -2zM540.5 1524.1l11.3 2.7 6.4 -8.6 -11.3 -2.8zM551.8 1526.8l11.3 3.4 6.4 -8.5 -11.3 -3.6zM569.4 1521.7l11.3 4.3 6.4 -8.2 -11.3 -4.5zM580.7 1526l11.3 5 6.4 -8 -11.3 -5.2zM598.4 1523l11.3 5.8 6.4 -7.6 -11.3 -6zM604.8 1515.2l11.3 6 6.4 -7.3 -11.3 -6.2zM622.4 1513.9l11.3 6.6 6.4 -6.8 -11.3 -6.8zM646.4 1507.1l11.3 7.1 6.4 -6.2 -11.3 -7.1zM652.8 1501l11.3 7.1 6.4 -6 -11.3 -6.9zM676.8 1496.3l11.3 6.6 6.4 -5.9 -11.3 -6.3zM683.2 1490.7l11.3 6.3 6.4 -5.9 -11.3 -5.9zM700.8 1491.1l11.3 5.6 6.4 -6.4 -11.3 -5.2zM718.5 1490.2l11.3 4.8 6.4 -7.2 -11.3 -4.3zM729.8 1495.1l11.3 4.6 6.4 -7.7 -11.3 -4zM758.8 1495.9l11.3 4.4 6.4 -9 -11.3 -4.1zM787.7 1496.4l11.3 6 6.4 -9.2 -11.3 -6.3zM805.4 1493.1l11.3 7.5 6.4 -9 -11.3 -8zM829.4 1482.3l11.3 9.8 6.4 -8.7 -11.3 -10.6zM859.8 1465.9l11.3 14 6.4 -7.6 -11.3 -15z"/><path fill="#458cfd" stroke="#458cfd" stroke-width="0.6" d="M317.3 1363.2l11.3 1.6 6.4 -14.4 -11.3 -1.6zM328.6 1364.8l11.3 1.1 6.4 -14.4 -11.3 -1.1zM419 1382l11.3 5.8 6.4 -14.4 -11.3 -6.3zM448 1380.7l11.3 7.5 6.4 -14.9 -11.3 -8.3zM488.2 1387.5l11.3 3.5 6.4 -14.9 -11.3 -4.1zM515.8 1402.9l11.3 -2.4 6.4 -13.3 -11.3 2.7zM537 1416.7l11.3 -2.8 6.4 -10.6 -11.3 2.9zM541.9 1423l11.3 -2.8 6.4 -8.9 -11.3 2.7zM546.9 1428l11.3 -3.1 6.4 -7.6 -11.3 2.9zM539.1 1443.9l11.3 -3.2 6.4 -5.8 -11.3 3.2zM545.4 1438.1l11.3 -3.2 6.4 -6.3 -11.3 3.2zM505.9 1477l11.3 -3.1 6.4 -5.4 -11.3 3.1zM512.2 1471.6l11.3 -3.1 6.4 -5.1 -11.3 3.1zM518.6 1466.4l11.3 -3.1 6.4 -5 -11.3 3zM524.9 1461.4l11.3 -3 6.4 -4.9 -11.3 3zM531.3 1456.4l11.3 -3 6.4 -5 -11.3 2.9zM498.1 1492.5l11.3 -2.3 6.4 -6.9 -11.3 2.5zM504.4 1485.9l11.3 -2.5 6.4 -6.4 -11.3 2.7zM503 1497.5l11.3 -1.5 6.4 -7.6 -11.3 1.8zM508 1504l11.3 -0.5 6.4 -8.1 -11.3 0.8zM512.9 1511.8l11.3 0.4 6.4 -8.5 -11.3 -0.3zM524.2 1512.2l11.3 1.2 6.4 -8.5 -11.3 -1.1zM546.8 1515.4l11.3 2.8 6.4 -8.5 -11.3 -2.9zM558.1 1518.1l11.3 3.6 6.4 -8.3 -11.3 -3.7zM587.1 1517.8l11.3 5.2 6.4 -7.8 -11.3 -5.4zM611.1 1507.7l11.3 6.2 6.4 -7 -11.3 -6.4zM628.8 1506.9l11.3 6.8 6.4 -6.5 -11.3 -6.9zM635.1 1500.3l11.3 6.9 6.4 -6.2 -11.3 -6.9zM659.2 1495.1l11.3 6.9 6.4 -5.8 -11.3 -6.7zM665.5 1489.6l11.3 6.7 6.4 -5.6 -11.3 -6.5zM689.5 1485.1l11.3 5.9 6.4 -6 -11.3 -5.5zM707.2 1485.1l11.3 5.2 6.4 -6.7 -11.3 -4.7zM724.9 1483.6l11.3 4.3 6.4 -7.6 -11.3 -3.8zM736.2 1487.8l11.3 4 6.4 -8.2 -11.3 -3.5zM747.5 1491.9l11.3 4.1 6.4 -8.7 -11.3 -3.6zM776.4 1491.4l11.3 5 6.4 -9.5 -11.3 -5zM794.1 1486.8l11.3 6.3 6.4 -9.5 -11.3 -6.7zM811.8 1483.6l11.3 8 6.4 -9.2 -11.3 -8.5zM866.2 1457.3l11.3 15 6.4 -7.5 -11.3 -16.1z"/><path fill="#448ffe" stroke="#448ffe" stroke-width="0.6" d="M339.9 1365.9l11.3 0.7 6.4 -14.7 -11.3 -0.5zM407.7 1377.2l11.3 4.8 6.4 -14.9 -11.3 -5zM476.9 1381.1l11.3 6.4 6.4 -15.5 -11.3 -7.8zM499.5 1391l11.3 0.5 6.4 -15.2 -11.3 -0.1zM532 1409.2l11.3 -3 6.4 -12.1 -11.3 3.2zM551.8 1431.8l11.3 -3.2 6.4 -6.8 -11.3 3.1zM537.7 1451.4l11.3 -2.9 6.4 -5.2 -11.3 2.9zM544 1446.2l11.3 -2.9 6.4 -5.5 -11.3 2.9zM510.8 1479.7l11.3 -2.7 6.4 -5.9 -11.3 2.8zM517.2 1473.9l11.3 -2.8 6.4 -5.4 -11.3 2.8zM509.4 1490.3l11.3 -1.8 6.4 -7.2 -11.3 2.1zM519.3 1503.4l11.3 0.3 6.4 -8.3 -11.3 -0.1zM535.5 1513.3l11.3 2 6.4 -8.5 -11.3 -2zM564.5 1509.7l11.3 3.7 6.4 -8.1 -11.3 -3.8zM575.8 1513.4l11.3 4.5 6.4 -8 -11.3 -4.6zM593.4 1509.9l11.3 5.4 6.4 -7.5 -11.3 -5.5zM617.5 1500.5l11.3 6.4 6.4 -6.6 -11.3 -6.5zM641.5 1494l11.3 6.9 6.4 -5.9 -11.3 -6.8zM647.9 1488.3l11.3 6.8 6.4 -5.5 -11.3 -6.7zM654.2 1482.9l11.3 6.7 6.4 -5.3 -11.3 -6.4zM671.9 1484.2l11.3 6.5 6.4 -5.5 -11.3 -6.1zM678.2 1479l11.3 6.1 6.4 -5.6 -11.3 -5.8zM684.6 1473.7l11.3 5.8 6.4 -5.8 -11.3 -5.5zM695.9 1479.5l11.3 5.5 6.4 -6.2 -11.3 -5.2zM702.3 1473.7l11.3 5.2 6.4 -6.7 -11.3 -4.8zM713.6 1478.9l11.3 4.7 6.4 -7.1 -11.3 -4.3zM742.5 1480.2l11.3 3.5 6.4 -8.7 -11.3 -3zM753.8 1483.7l11.3 3.6 6.4 -9.2 -11.3 -3.1zM765.1 1487.3l11.3 4.1 6.4 -9.5 -11.3 -3.8zM835.8 1472.8l11.3 10.6 6.4 -8.8 -11.3 -11.6zM872.5 1448.7l11.3 16.1 6.4 -7.5 -11.3 -17.3z"/><path fill="#4294ff" stroke="#4294ff" stroke-width="0.6" d="M351.2 1366.6l11.3 0.8 6.4 -14.9 -11.3 -0.6zM362.5 1367.5l11.3 1.4 6.4 -14.9 -11.3 -1.3zM373.8 1368.8l11.3 2 6.4 -15 -11.3 -2zM385.1 1370.9l11.3 2.7 6.4 -15.1 -11.3 -2.6zM396.4 1373.6l11.3 3.7 6.4 -15.1 -11.3 -3.6zM436.7 1373.5l11.3 7.2 6.4 -15.8 -11.3 -7.8zM465.6 1373.2l11.3 7.9 6.4 -16.8 -11.3 -9zM510.9 1391.4l11.3 -1.5 6.4 -15.4 -11.3 1.7zM527.1 1400.5l11.3 -3.1 6.4 -13.6 -11.3 3.3zM548.3 1413.9l11.3 -2.7 6.4 -10.4 -11.3 2.5zM553.2 1420.2l11.3 -2.9 6.4 -8.7 -11.3 2.7zM558.2 1424.9l11.3 -3.1 6.4 -7.5 -11.3 3zM550.4 1440.7l11.3 -2.9 6.4 -5.8 -11.3 2.9zM556.7 1434.9l11.3 -2.9 6.4 -6.3 -11.3 2.9zM523.5 1468.5l11.3 -2.8 6.4 -5.1 -11.3 2.7zM529.9 1463.3l11.3 -2.7 6.4 -4.9 -11.3 2.6zM536.2 1458.4l11.3 -2.6 6.4 -4.8 -11.3 2.5zM542.6 1453.5l11.3 -2.5 6.4 -4.9 -11.3 2.4zM549 1448.5l11.3 -2.4 6.4 -5.1 -11.3 2.4zM515.8 1483.4l11.3 -2.1 6.4 -6.6 -11.3 2.3zM514.3 1496.1l11.3 -0.8 6.4 -7.8 -11.3 1.1zM525.6 1495.3l11.3 0.1 6.4 -8 -11.3 0zM530.6 1503.7l11.3 1.1 6.4 -8.3 -11.3 -1.1zM541.9 1504.8l11.3 2 6.4 -8.3 -11.3 -2.1zM553.2 1506.8l11.3 2.9 6.4 -8.2 -11.3 -2.9zM570.8 1501.5l11.3 3.8 6.4 -7.8 -11.3 -3.8zM582.1 1505.3l11.3 4.6 6.4 -7.7 -11.3 -4.7zM599.8 1502.2l11.3 5.5 6.4 -7.2 -11.3 -5.7zM606.2 1494.8l11.3 5.7 6.4 -6.8 -11.3 -5.9zM623.8 1493.7l11.3 6.5 6.4 -6.2 -11.3 -6.6zM630.2 1487.4l11.3 6.6 6.4 -5.8 -11.3 -6.5zM636.5 1481.7l11.3 6.5 6.4 -5.4 -11.3 -6.4zM660.6 1477.8l11.3 6.4 6.4 -5.2 -11.3 -6.2zM666.9 1472.8l11.3 6.2 6.4 -5.3 -11.3 -5.9zM673.3 1467.8l11.3 5.9 6.4 -5.5 -11.3 -5.7zM691 1468.2l11.3 5.5 6.4 -6.3 -11.3 -5.2zM708.6 1467.4l11.3 4.8 6.4 -7.4 -11.3 -4.4zM719.9 1472.2l11.3 4.3 6.4 -7.8 -11.3 -3.9zM731.2 1476.4l11.3 3.8 6.4 -8.2 -11.3 -3.3zM782.8 1481.8l11.3 5 6.4 -10 -11.3 -5.1zM800.4 1476.9l11.3 6.7 6.4 -9.7 -11.3 -7.3zM818.1 1473.9l11.3 8.5 6.4 -9.5 -11.3 -8.9zM842.1 1463l11.3 11.6 6.4 -8.7 -11.3 -12.7zM878.9 1440l11.3 17.3 6.4 -7.3 -11.3 -18.8z"/><path fill="#4196ff" stroke="#4196ff" stroke-width="0.6" d="M323.7 1348.8l11.3 1.6 6.4 -15.1 -11.3 -1.6zM543.3 1406.3l11.3 -2.9 6.4 -12.3 -11.3 3zM563.1 1428.6l11.3 -2.9 6.4 -6.9 -11.3 2.9zM555.3 1443.3l11.3 -2.4 6.4 -5.4 -11.3 2.4zM561.7 1437.8l11.3 -2.4 6.4 -5.8 -11.3 2.3zM522.1 1477l11.3 -2.3 6.4 -6 -11.3 2.4zM528.5 1471.1l11.3 -2.4 6.4 -5.4 -11.3 2.3zM534.8 1465.7l11.3 -2.3 6.4 -4.9 -11.3 2.2zM541.2 1460.6l11.3 -2.2 6.4 -4.7 -11.3 2zM547.6 1455.7l11.3 -2 6.4 -4.7 -11.3 1.9zM553.9 1450.9l11.3 -1.9 6.4 -4.8 -11.3 1.7zM520.7 1488.5l11.3 -1.1 6.4 -7.5 -11.3 1.3zM527.1 1481.3l11.3 -1.3 6.4 -6.9 -11.3 1.6zM532 1487.4l11.3 0 6.4 -7.6 -11.3 0.2zM536.9 1495.4l11.3 1.1 6.4 -8 -11.3 -1.1zM548.2 1496.5l11.3 2.1 6.4 -7.9 -11.3 -2.1zM559.5 1498.6l11.3 2.9 6.4 -7.9 -11.3 -3zM577.2 1493.6l11.3 3.8 6.4 -7.5 -11.3 -3.8zM588.5 1497.4l11.3 4.7 6.4 -7.4 -11.3 -4.8zM594.9 1489.9l11.3 4.8 6.4 -6.9 -11.3 -5zM612.5 1487.8l11.3 5.9 6.4 -6.3 -11.3 -6zM618.9 1481.5l11.3 6 6.4 -5.7 -11.3 -6zM642.9 1476.5l11.3 6.4 6.4 -5.1 -11.3 -6.1zM649.3 1471.7l11.3 6.1 6.4 -5 -11.3 -5.9zM655.6 1466.9l11.3 5.9 6.4 -5 -11.3 -5.7zM662 1462.1l11.3 5.7 6.4 -5.3 -11.3 -5.5zM679.7 1462.5l11.3 5.7 6.4 -6 -11.3 -5.4zM697.3 1462.2l11.3 5.2 6.4 -7.1 -11.3 -4.9zM726.3 1464.8l11.3 3.9 6.4 -8.7 -11.3 -3.7zM737.6 1468.7l11.3 3.3 6.4 -9 -11.3 -3zM748.9 1472l11.3 3 6.4 -9.5 -11.3 -2.6zM760.2 1475l11.3 3.1 6.4 -9.8 -11.3 -2.7zM771.5 1478.1l11.3 3.8 6.4 -10.1 -11.3 -3.4zM848.5 1453.2l11.3 12.7 6.4 -8.6 -11.3 -13.7zM885.2 1431.1l11.3 18.8 6.4 -7 -11.3 -20.7zM948.8 1373.1l11.3 29.3 6.4 -0.9 -11.3 -28.4z"/><path fill="#3e9bfe" stroke="#3e9bfe" stroke-width="0.6" d="M335 1350.4l11.3 1.1 6.4 -15.1 -11.3 -1.1zM425.4 1367.2l11.3 6.3 6.4 -16.4 -11.3 -6.4zM454.3 1364.9l11.3 8.3 6.4 -17.9 -11.3 -8.8zM522.2 1389.9l11.3 -2.7 6.4 -15.4 -11.3 2.7zM538.4 1397.4l11.3 -3.2 6.4 -13.8 -11.3 3.4zM559.6 1411.2l11.3 -2.7 6.4 -10.1 -11.3 2.3zM564.5 1417.2l11.3 -3 6.4 -8.4 -11.3 2.8zM569.5 1421.8l11.3 -2.9 6.4 -7.5 -11.3 2.8zM568 1432l11.3 -2.3 6.4 -6.2 -11.3 2.3zM574.4 1425.7l11.3 -2.3 6.4 -6.8 -11.3 2.2zM560.3 1446l11.3 -1.7 6.4 -5 -11.3 1.7zM566.6 1440.9l11.3 -1.7 6.4 -5.3 -11.3 1.6zM573 1435.5l11.3 -1.6 6.4 -5.7 -11.3 1.5zM533.4 1474.7l11.3 -1.6 6.4 -6.1 -11.3 1.7zM539.8 1468.7l11.3 -1.7 6.4 -5.2 -11.3 1.6zM546.1 1463.4l11.3 -1.6 6.4 -4.7 -11.3 1.4zM552.5 1458.4l11.3 -1.4 6.4 -4.6 -11.3 1.2zM558.9 1453.7l11.3 -1.2 6.4 -4.5 -11.3 1zM565.2 1449.1l11.3 -1 6.4 -4.6 -11.3 0.8zM538.4 1480l11.3 -0.2 6.4 -7.1 -11.3 0.5zM543.3 1487.4l11.3 1.1 6.4 -7.6 -11.3 -1.2zM554.6 1488.5l11.3 2.1 6.4 -7.5 -11.3 -2.2zM565.9 1490.6l11.3 3 6.4 -7.5 -11.3 -3zM583.6 1486.1l11.3 3.8 6.4 -7.1 -11.3 -3.7zM601.2 1482.9l11.3 5 6.4 -6.4 -11.3 -5zM625.2 1475.8l11.3 6 6.4 -5.2 -11.3 -5.7zM631.6 1470.8l11.3 5.7 6.4 -4.9 -11.3 -5.5zM638 1466.1l11.3 5.5 6.4 -4.7 -11.3 -5.3zM644.3 1461.6l11.3 5.3 6.4 -4.8 -11.3 -5.1zM650.7 1457l11.3 5.1 6.4 -5.1 -11.3 -4.9zM668.3 1457l11.3 5.5 6.4 -5.7 -11.3 -5.2zM674.7 1451.5l11.3 5.2 6.4 -6.5 -11.3 -5zM686 1456.8l11.3 5.4 6.4 -6.7 -11.3 -5.2zM703.7 1455.5l11.3 4.9 6.4 -8.2 -11.3 -4.5zM715 1460.4l11.3 4.4 6.4 -8.5 -11.3 -4.1zM789.1 1471.7l11.3 5.1 6.4 -10.3 -11.3 -5.5zM806.8 1466.6l11.3 7.3 6.4 -9.9 -11.3 -7.7zM824.5 1463.9l11.3 8.9 6.4 -9.9 -11.3 -9.6zM891.6 1422.3l11.3 20.7 6.4 -6.4 -11.3 -23zM898 1413.6l11.3 23 6.4 -6.1 -11.3 -25.4zM942.5 1373.5l11.3 30.1 6.4 -1.3 -11.3 -29.3z"/><path fill="#3ba0fd" stroke="#3ba0fd" stroke-width="0.6" d="M346.3 1351.5l11.3 0.5 6.4 -15.3 -11.3 -0.3zM357.6 1352l11.3 0.6 6.4 -15.6 -11.3 -0.3zM414.1 1362.1l11.3 5 6.4 -16.5 -11.3 -5zM483.3 1364.2l11.3 7.8 6.4 -19.3 -11.3 -9.2zM494.6 1372l11.3 4.1 6.4 -18.3 -11.3 -5.1zM505.9 1376.1l11.3 0.1 6.4 -18.4 -11.3 0zM554.6 1403.4l11.3 -2.5 6.4 -12.2 -11.3 2.5zM570.9 1408.6l11.3 -2.8 6.4 -9.8 -11.3 2.5zM575.8 1414.2l11.3 -2.8 6.4 -8.3 -11.3 2.7zM580.8 1418.9l11.3 -2.2 6.4 -7.3 -11.3 2.1zM579.4 1429.7l11.3 -1.5 6.4 -6.1 -11.3 1.3zM571.6 1444.3l11.3 -0.8 6.4 -4.9 -11.3 0.8zM577.9 1439.2l11.3 -0.8 6.4 -5.2 -11.3 0.6zM584.3 1433.9l11.3 -0.6 6.4 -5.5 -11.3 0.5zM544.7 1473.1l11.3 -0.5 6.4 -6.2 -11.3 0.6zM551.1 1467l11.3 -0.6 6.4 -5.1 -11.3 0.5zM557.4 1461.8l11.3 -0.5 6.4 -4.6 -11.3 0.3zM563.8 1457.1l11.3 -0.3 6.4 -4.4 -11.3 0.2zM570.2 1452.5l11.3 -0.2 6.4 -4.3 -11.3 0.1zM576.5 1448.1l11.3 -0.1 6.4 -4.5 -11.3 -0.1zM582.9 1443.4l11.3 0.1 6.4 -4.8 -11.3 -0.2zM549.7 1479.7l11.3 1.2 6.4 -7 -11.3 -1.3zM556 1472.6l11.3 1.3 6.4 -6.3 -11.3 -1.1zM561 1480.9l11.3 2.2 6.4 -6.9 -11.3 -2.3zM567.3 1473.9l11.3 2.3 6.4 -6.3 -11.3 -2.3zM572.3 1483.1l11.3 3 6.4 -7 -11.3 -2.9zM578.6 1476.2l11.3 2.9 6.4 -6.4 -11.3 -2.9zM589.9 1479.1l11.3 3.7 6.4 -6.4 -11.3 -3.7zM596.3 1472.8l11.3 3.7 6.4 -5.6 -11.3 -3.7zM602.6 1467.2l11.3 3.7 6.4 -4.9 -11.3 -3.7zM609 1462.3l11.3 3.7 6.4 -4.5 -11.3 -3.7zM615.4 1457.8l11.3 3.7 6.4 -4.4 -11.3 -3.6zM607.6 1476.5l11.3 5 6.4 -5.7 -11.3 -4.8zM613.9 1470.9l11.3 4.8 6.4 -5 -11.3 -4.8zM620.3 1466l11.3 4.8 6.4 -4.7 -11.3 -4.6zM626.7 1461.5l11.3 4.6 6.4 -4.5 -11.3 -4.5zM633 1457.1l11.3 4.5 6.4 -4.6 -11.3 -4.4zM639.4 1452.7l11.3 4.4 6.4 -4.9 -11.3 -4.1zM645.7 1448l11.3 4.1 6.4 -5.3 -11.3 -4zM657 1452.1l11.3 4.9 6.4 -5.5 -11.3 -4.7zM663.4 1446.9l11.3 4.7 6.4 -6.2 -11.3 -4.4zM692.4 1450.3l11.3 5.2 6.4 -7.9 -11.3 -4.9zM721.3 1452.1l11.3 4.1 6.4 -10.1 -11.3 -4zM732.6 1456.2l11.3 3.7 6.4 -10.1 -11.3 -3.7zM743.9 1460l11.3 3 6.4 -10.2 -11.3 -2.9zM755.2 1463l11.3 2.6 6.4 -10.4 -11.3 -2.4zM766.5 1465.5l11.3 2.7 6.4 -10.4 -11.3 -2.7zM777.8 1468.3l11.3 3.4 6.4 -10.6 -11.3 -3.3zM830.8 1453.4l11.3 9.6 6.4 -9.8 -11.3 -10.6zM854.9 1443.6l11.3 13.7 6.4 -8.6 -11.3 -14.9zM904.3 1405.1l11.3 25.4 6.4 -6 -11.3 -27.5zM910.7 1397.1l11.3 27.5 6.4 -5.7 -11.3 -29.1zM929.8 1378.2l11.3 31 6.4 -3.4 -11.3 -30.8zM936.1 1375l11.3 30.8 6.4 -2.1 -11.3 -30.1z"/><path fill="#3aa3fc" stroke="#3aa3fc" stroke-width="0.6" d="M368.9 1352.6l11.3 1.3 6.4 -15.8 -11.3 -1.2zM380.2 1353.9l11.3 2 6.4 -16 -11.3 -1.8zM391.5 1355.9l11.3 2.6 6.4 -16.2 -11.3 -2.4zM402.8 1358.5l11.3 3.6 6.4 -16.5 -11.3 -3.4zM443 1357.1l11.3 7.8 6.4 -18.4 -11.3 -8zM533.5 1387.2l11.3 -3.3 6.4 -15.4 -11.3 3.3zM549.7 1394.2l11.3 -3 6.4 -14 -11.3 3.2zM565.9 1400.8l11.3 -2.3 6.4 -12.1 -11.3 2.2zM585.7 1423.4l11.3 -1.3 6.4 -6.6 -11.3 1.1zM590.7 1428.2l11.3 -0.5 6.4 -6 -11.3 0.3zM597 1422.1l11.3 -0.3 6.4 -6.5 -11.3 0.3zM589.2 1438.5l11.3 0.2 6.4 -5.1 -11.3 -0.4zM595.6 1433.3l11.3 0.4 6.4 -5.4 -11.3 -0.5zM602 1427.7l11.3 0.5 6.4 -5.9 -11.3 -0.5zM562.4 1466.4l11.3 1.1 6.4 -5.3 -11.3 -0.9zM568.7 1461.3l11.3 0.9 6.4 -4.7 -11.3 -0.8zM575.1 1456.7l11.3 0.8 6.4 -4.4 -11.3 -0.8zM581.5 1452.3l11.3 0.8 6.4 -4.3 -11.3 -0.9zM587.8 1448l11.3 0.9 6.4 -4.4 -11.3 -1zM594.2 1443.5l11.3 1 6.4 -4.6 -11.3 -1.1zM600.5 1438.7l11.3 1.1 6.4 -5 -11.3 -1.2zM606.9 1433.7l11.3 1.2 6.4 -5.4 -11.3 -1.2zM573.7 1467.6l11.3 2.3 6.4 -5.5 -11.3 -2.1zM580 1462.3l11.3 2.1 6.4 -4.9 -11.3 -1.9zM586.4 1457.5l11.3 1.9 6.4 -4.5 -11.3 -1.8zM592.8 1453.1l11.3 1.8 6.4 -4.3 -11.3 -1.8zM599.1 1448.9l11.3 1.8 6.4 -4.3 -11.3 -1.9zM605.5 1444.5l11.3 1.9 6.4 -4.6 -11.3 -1.9zM611.8 1439.9l11.3 1.9 6.4 -4.9 -11.3 -2zM585 1469.9l11.3 2.9 6.4 -5.6 -11.3 -2.9zM591.3 1464.3l11.3 2.9 6.4 -4.9 -11.3 -2.8zM597.7 1459.4l11.3 2.8 6.4 -4.5 -11.3 -2.8zM604.1 1455l11.3 2.8 6.4 -4.3 -11.3 -2.8zM610.4 1450.7l11.3 2.8 6.4 -4.3 -11.3 -2.7zM616.8 1446.4l11.3 2.7 6.4 -4.6 -11.3 -2.7zM623.1 1441.8l11.3 2.7 6.4 -5 -11.3 -2.7zM621.7 1453.5l11.3 3.6 6.4 -4.4 -11.3 -3.6zM628.1 1449.1l11.3 3.6 6.4 -4.7 -11.3 -3.5zM634.4 1444.5l11.3 3.5 6.4 -5.1 -11.3 -3.3zM640.8 1439.5l11.3 3.3 6.4 -5.8 -11.3 -3.2zM652.1 1442.9l11.3 4 6.4 -6 -11.3 -3.8zM669.8 1440.9l11.3 4.4 6.4 -7.2 -11.3 -4.1zM681.1 1445.3l11.3 5 6.4 -7.6 -11.3 -4.6zM698.7 1442.7l11.3 4.9 6.4 -9.6 -11.3 -4.4zM710 1447.6l11.3 4.5 6.4 -9.9 -11.3 -4.2zM795.5 1461.1l11.3 5.5 6.4 -10.4 -11.3 -5.8zM813.2 1456.2l11.3 7.7 6.4 -10.5 -11.3 -8zM861.2 1433.8l11.3 14.9 6.4 -8.7 -11.3 -16.3zM917 1389.7l11.3 29.1 6.4 -5.2 -11.3 -30.3zM923.4 1383.3l11.3 30.3 6.4 -4.4 -11.3 -31z"/><path fill="#37a8fa" stroke="#37a8fa" stroke-width="0.6" d="M330 1333.6l11.3 1.6 6.4 -15.9 -11.3 -1.5zM517.2 1376.2l11.3 -1.7 6.4 -18 -11.3 1.4zM582.2 1405.8l11.3 -2.7 6.4 -9.5 -11.3 2.4zM587.1 1411.4l11.3 -2.1 6.4 -8.1 -11.3 1.8zM592.1 1416.7l11.3 -1.1 6.4 -7.2 -11.3 1zM603.4 1415.5l11.3 -0.3 6.4 -7.2 -11.3 0.3zM608.3 1421.8l11.3 0.5 6.4 -6.6 -11.3 -0.4zM613.3 1428.2l11.3 1.2 6.4 -6 -11.3 -1.2zM618.2 1434.9l11.3 2 6.4 -5.5 -11.3 -1.9zM624.6 1429.5l11.3 1.9 6.4 -6.2 -11.3 -1.7zM629.5 1436.9l11.3 2.7 6.4 -5.6 -11.3 -2.5zM635.9 1431.4l11.3 2.5 6.4 -6.4 -11.3 -2.3zM647.2 1433.9l11.3 3.2 6.4 -6.7 -11.3 -2.9zM658.5 1437.1l11.3 3.8 6.4 -7 -11.3 -3.5zM687.4 1438.1l11.3 4.6 6.4 -9.2 -11.3 -4.2zM750.3 1449.8l11.3 2.9 6.4 -11.8 -11.3 -3.1zM761.6 1452.7l11.3 2.4 6.4 -11.5 -11.3 -2.7zM772.9 1455.1l11.3 2.7 6.4 -11.2 -11.3 -2.9zM784.2 1457.8l11.3 3.3 6.4 -10.7 -11.3 -3.8zM837.2 1442.5l11.3 10.6 6.4 -9.6 -11.3 -12.1z"/><path fill="#35abf8" stroke="#35abf8" stroke-width="0.6" d="M341.3 1335.3l11.3 1.1 6.4 -15.9 -11.3 -1zM352.6 1336.4l11.3 0.3 6.4 -15.9 -11.3 -0.3zM431.7 1350.7l11.3 6.4 6.4 -18.5 -11.3 -6.2zM472 1355.3l11.3 9 6.4 -20.7 -11.3 -9.8zM528.5 1374.5l11.3 -2.7 6.4 -17.7 -11.3 2.4zM544.8 1383.8l11.3 -3.4 6.4 -15.5 -11.3 3.5zM561 1391.1l11.3 -2.5 6.4 -14.2 -11.3 2.7zM577.2 1398.5l11.3 -2.5 6.4 -11.8 -11.3 2.2zM593.5 1403.1l11.3 -1.8 6.4 -9.3 -11.3 1.7zM598.4 1409.3l11.3 -1 6.4 -8 -11.3 1zM614.7 1415.3l11.3 0.4 6.4 -7.4 -11.3 -0.2zM619.6 1422.3l11.3 1.2 6.4 -6.8 -11.3 -0.9zM630.9 1423.4l11.3 1.7 6.4 -7.1 -11.3 -1.4zM642.2 1425.2l11.3 2.3 6.4 -7.5 -11.3 -2zM653.5 1427.5l11.3 2.9 6.4 -7.9 -11.3 -2.5zM664.8 1430.4l11.3 3.5 6.4 -8.3 -11.3 -3.1zM676.1 1433.9l11.3 4.1 6.4 -8.7 -11.3 -3.7zM716.4 1438l11.3 4.2 6.4 -11.9 -11.3 -3.9zM727.7 1442.2l11.3 4 6.4 -12 -11.3 -3.9zM739 1446.2l11.3 3.7 6.4 -12 -11.3 -3.7zM801.9 1450.4l11.3 5.8 6.4 -10.9 -11.3 -6.3zM819.5 1445.3l11.3 8 6.4 -10.8 -11.3 -8.9zM867.6 1423.7l11.3 16.3 6.4 -8.8 -11.3 -17.9z"/><path fill="#31aff5" stroke="#31aff5" stroke-width="0.6" d="M363.9 1336.7l11.3 0.3 6.4 -16.1 -11.3 -0.2zM420.4 1345.7l11.3 5 6.4 -18.3 -11.3 -4.5zM572.3 1388.6l11.3 -2.2 6.4 -14.3 -11.3 2.3zM588.5 1396l11.3 -2.4 6.4 -11.4 -11.3 2zM604.8 1401.3l11.3 -1 6.4 -9.3 -11.3 1zM609.7 1408.3l11.3 -0.3 6.4 -8.2 -11.3 0.4zM621 1408l11.3 0.2 6.4 -8.5 -11.3 0.1zM626 1415.7l11.3 0.9 6.4 -7.8 -11.3 -0.6zM637.3 1416.6l11.3 1.4 6.4 -8.3 -11.3 -1zM693.8 1429.4l11.3 4.2 6.4 -11 -11.3 -3.6zM705.1 1433.6l11.3 4.4 6.4 -11.6 -11.3 -3.8zM790.6 1446.6l11.3 3.8 6.4 -11.4 -11.3 -4.6zM843.6 1431.5l11.3 12.1 6.4 -9.8 -11.3 -13.6zM873.9 1413.2l11.3 17.9 6.4 -8.8 -11.3 -20.1z"/><path fill="#2eb4f2" stroke="#2eb4f2" stroke-width="0.6" d="M375.2 1337l11.3 1.2 6.4 -16.6 -11.3 -0.7zM386.5 1338.2l11.3 1.8 6.4 -17.1 -11.3 -1.3zM397.8 1339.9l11.3 2.4 6.4 -17.5 -11.3 -2zM409.1 1342.3l11.3 3.4 6.4 -17.8 -11.3 -3zM460.7 1346.5l11.3 8.8 6.4 -21.5 -11.3 -8.7zM539.8 1371.8l11.3 -3.3 6.4 -17.4 -11.3 3.1zM556.1 1380.4l11.3 -3.2 6.4 -15.8 -11.3 3.6zM599.8 1393.6l11.3 -1.7 6.4 -11.1 -11.3 1.3zM616.1 1400.3l11.3 -0.4 6.4 -9.4 -11.3 0.5zM632.3 1408.2l11.3 0.6 6.4 -9 -11.3 -0.1zM648.6 1418l11.3 2 6.4 -8.8 -11.3 -1.4zM659.9 1420l11.3 2.5 6.4 -9.4 -11.3 -2zM671.2 1422.5l11.3 3.1 6.4 -9.9 -11.3 -2.6zM682.5 1425.7l11.3 3.7 6.4 -10.5 -11.3 -3.2zM756.7 1437.8l11.3 3.1 6.4 -13.4 -11.3 -3.6zM768 1440.9l11.3 2.7 6.4 -12.8 -11.3 -3.4zM779.3 1443.7l11.3 2.9 6.4 -12.2 -11.3 -3.6zM808.2 1439l11.3 6.3 6.4 -11.7 -11.3 -7.2zM825.9 1433.6l11.3 8.9 6.4 -11 -11.3 -10.4z"/><path fill="#2cb7f0" stroke="#2cb7f0" stroke-width="0.6" d="M336.4 1317.9l11.3 1.5 6.4 -16.6 -11.3 -1.3zM501 1352.7l11.3 5.1 6.4 -23.1 -11.3 -5.8zM512.3 1357.8l11.3 0 6.4 -21.7 -11.3 -1.5zM583.6 1386.4l11.3 -2.2 6.4 -14.1 -11.3 2zM611.2 1392l11.3 -1 6.4 -10.9 -11.3 0.8zM627.4 1399.9l11.3 -0.1 6.4 -9.7 -11.3 0.4zM643.6 1408.8l11.3 1 6.4 -9.6 -11.3 -0.3zM722.8 1426.4l11.3 3.9 6.4 -14.2 -11.3 -3.6zM734.1 1430.3l11.3 3.9 6.4 -14.2 -11.3 -3.8zM745.4 1434.1l11.3 3.7 6.4 -14 -11.3 -3.9zM849.9 1420.1l11.3 13.6 6.4 -10.1 -11.3 -15.3zM880.3 1402.2l11.3 20.1 6.4 -8.7 -11.3 -22.7zM937.5 1344l11.3 29.1 6.4 0 -11.3 -28.5z"/><path fill="#28bceb" stroke="#28bceb" stroke-width="0.6" d="M347.7 1319.4l11.3 1 6.4 -16.7 -11.3 -0.9zM359 1320.4l11.3 0.3 6.4 -16.7 -11.3 -0.3zM449.4 1338.6l11.3 8 6.4 -21.4 -11.3 -7.4zM489.7 1343.6l11.3 9.2 6.4 -23.9 -11.3 -9.7zM523.6 1357.9l11.3 -1.4 6.4 -21 -11.3 0.7zM551.1 1368.5l11.3 -3.5 6.4 -17.5 -11.3 3.6zM567.4 1377.1l11.3 -2.7 6.4 -16.3 -11.3 3.2zM594.9 1384.2l11.3 -2 6.4 -13.7 -11.3 1.6zM622.5 1391l11.3 -0.5 6.4 -10.9 -11.3 0.6zM638.7 1399.7l11.3 0.1 6.4 -10.3 -11.3 0.5zM654.9 1409.7l11.3 1.4 6.4 -10.3 -11.3 -0.7zM666.2 1411.2l11.3 2 6.4 -11.1 -11.3 -1.3zM677.5 1413.2l11.3 2.6 6.4 -11.8 -11.3 -1.9zM688.8 1415.8l11.3 3.2 6.4 -12.5 -11.3 -2.5zM700.1 1418.9l11.3 3.6 6.4 -13.2 -11.3 -2.9zM711.5 1422.5l11.3 3.8 6.4 -13.8 -11.3 -3.2zM796.9 1434.4l11.3 4.6 6.4 -12.6 -11.3 -5.5zM832.2 1421.1l11.3 10.4 6.4 -11.4 -11.3 -12.4zM886.7 1390.9l11.3 22.7 6.4 -8.5 -11.3 -25.4zM931.2 1343.9l11.3 29.6 6.4 -0.5 -11.3 -29.1z"/><path fill="#25c0e7" stroke="#25c0e7" stroke-width="0.6" d="M370.3 1320.7l11.3 0.2 6.4 -17 -11.3 0.1zM534.9 1356.5l11.3 -2.4 6.4 -20.5 -11.3 1.9zM578.7 1374.4l11.3 -2.3 6.4 -16.6 -11.3 2.6zM606.2 1382.3l11.3 -1.3 6.4 -13.3 -11.3 0.9zM633.8 1390.5l11.3 -0.4 6.4 -11.1 -11.3 0.7zM650 1399.8l11.3 0.3 6.4 -11.1 -11.3 0.5zM774.3 1427.5l11.3 3.4 6.4 -14.4 -11.3 -4.3zM785.6 1430.9l11.3 3.6 6.4 -13.5 -11.3 -4.5zM814.6 1426.4l11.3 7.2 6.4 -12.5 -11.3 -8.7zM856.3 1408.4l11.3 15.3 6.4 -10.5 -11.3 -16.9zM893 1379.8l11.3 25.4 6.4 -8 -11.3 -27.3z"/><path fill="#23c3e4" stroke="#23c3e4" stroke-width="0.6" d="M381.6 1320.9l11.3 0.7 6.4 -17.7 -11.3 0zM438.1 1332.3l11.3 6.2 6.4 -20.9 -11.3 -5.6zM478.4 1333.8l11.3 9.8 6.4 -24.4 -11.3 -9.8zM562.4 1364.9l11.3 -3.6 6.4 -18 -11.3 4.1zM617.5 1380.9l11.3 -0.8 6.4 -12.9 -11.3 0.4zM661.3 1400.1l11.3 0.7 6.4 -12.1 -11.3 0.2zM751.7 1420l11.3 3.9 6.4 -16.2 -11.3 -4.4zM763 1423.9l11.3 3.6 6.4 -15.3 -11.3 -4.5zM899.4 1369.7l11.3 27.3 6.4 -7.4 -11.3 -28.7zM918.5 1348.3l11.3 30 6.4 -3.2 -11.3 -29.9zM924.8 1345.1l11.3 29.9 6.4 -1.5 -11.3 -29.6z"/><path fill="#20c7df" stroke="#20c7df" stroke-width="0.6" d="M342.7 1301.6l11.3 1.3 6.4 -17.2 -11.3 -1zM392.9 1321.6l11.3 1.3 6.4 -18.4 -11.3 -0.6zM404.2 1322.8l11.3 2 6.4 -18.9 -11.3 -1.4zM415.5 1324.8l11.3 3 6.4 -19.6 -11.3 -2.4zM426.8 1327.8l11.3 4.5 6.4 -20.3 -11.3 -3.8zM546.2 1354.1l11.3 -3.1 6.4 -20.2 -11.3 2.7zM590 1372.1l11.3 -2 6.4 -16.5 -11.3 1.9zM628.8 1380.1l11.3 -0.6 6.4 -12.8 -11.3 0.4zM645.1 1390l11.3 -0.5 6.4 -11.7 -11.3 1.1zM672.6 1400.8l11.3 1.3 6.4 -13 -11.3 -0.3zM683.9 1402.1l11.3 1.9 6.4 -14 -11.3 -0.9zM729.1 1412.6l11.3 3.6 6.4 -16.8 -11.3 -3.2zM740.4 1416.1l11.3 3.8 6.4 -16.7 -11.3 -3.9zM803.3 1420.9l11.3 5.5 6.4 -14 -11.3 -6.8zM838.6 1407.7l11.3 12.4 6.4 -11.7 -11.3 -14.5zM862.6 1396.3l11.3 16.9 6.4 -11 -11.3 -18.9zM905.7 1361l11.3 28.7 6.4 -6.4 -11.3 -29.5zM912.1 1353.8l11.3 29.5 6.4 -5 -11.3 -30z"/><path fill="#1fc9dd" stroke="#1fc9dd" stroke-width="0.6" d="M354 1302.9l11.3 0.9 6.4 -17.4 -11.3 -0.6zM467.1 1325.1l11.3 8.7 6.4 -24.5 -11.3 -8zM573.7 1361.3l11.3 -3.2 6.4 -18.7 -11.3 3.9zM601.3 1370.1l11.3 -1.6 6.4 -16.4 -11.3 1.4zM640.1 1379.6l11.3 -0.7 6.4 -12.8 -11.3 0.7zM656.4 1389.5l11.3 -0.5 6.4 -12.8 -11.3 1.6zM695.2 1404l11.3 2.5 6.4 -14.9 -11.3 -1.6zM706.5 1406.4l11.3 2.9 6.4 -15.7 -11.3 -2.1zM717.8 1409.3l11.3 3.2 6.4 -16.4 -11.3 -2.5zM792 1416.4l11.3 4.5 6.4 -15.3 -11.3 -5.6zM820.9 1412.4l11.3 8.7 6.4 -13.3 -11.3 -10.8z"/><path fill="#1ccdd8" stroke="#1ccdd8" stroke-width="0.6" d="M365.3 1303.7l11.3 0.3 6.4 -17.6 -11.3 -0.1zM557.5 1351.1l11.3 -3.6 6.4 -20.2 -11.3 3.6zM612.6 1368.5l11.3 -0.9 6.4 -16 -11.3 0.6zM651.4 1378.9l11.3 -1.1 6.4 -13.2 -11.3 1.6zM667.7 1389l11.3 -0.2 6.4 -13.9 -11.3 1.4zM780.7 1412.2l11.3 4.3 6.4 -16.5 -11.3 -5.5zM845 1393.8l11.3 14.5 6.4 -12.1 -11.3 -16.6zM869 1383.3l11.3 18.9 6.4 -11.4 -11.3 -21.2z"/><path fill="#1ad2d2" stroke="#1ad2d2" stroke-width="0.6" d="M376.6 1304l11.3 -0.1 6.4 -18.1 -11.3 0.6zM455.8 1317.7l11.3 7.4 6.4 -23.8 -11.3 -6.7zM507.3 1328.9l11.3 5.8 6.4 -25.9 -11.3 -6zM518.6 1334.7l11.3 1.5 6.4 -24.8 -11.3 -2.6zM529.9 1336.2l11.3 -0.7 6.4 -24.1 -11.3 0zM585 1358.1l11.3 -2.6 6.4 -19 -11.3 2.9zM623.9 1367.6l11.3 -0.4 6.4 -15.4 -11.3 -0.3zM635.2 1367.2l11.3 -0.4 6.4 -15.1 -11.3 0.1zM679 1388.7l11.3 0.3 6.4 -15.1 -11.3 0.8zM769.4 1407.7l11.3 4.5 6.4 -17.7 -11.3 -5.7zM809.6 1405.6l11.3 6.8 6.4 -15.5 -11.3 -8.6z"/><path fill="#1ad4d0" stroke="#1ad4d0" stroke-width="0.6" d="M349.1 1284.7l11.3 1 6.4 -17.9 -11.3 -0.6zM387.9 1303.9l11.3 0 6.4 -19.1 -11.3 1zM496 1319.1l11.3 9.7 6.4 -26.1 -11.3 -9.8zM568.8 1347.4l11.3 -4.1 6.4 -20.7 -11.3 4.7zM596.3 1355.6l11.3 -1.9 6.4 -19.1 -11.3 2.1zM646.5 1366.8l11.3 -0.7 6.4 -14.7 -11.3 0.3zM662.7 1377.8l11.3 -1.6 6.4 -14.4 -11.3 2.7zM690.3 1389.1l11.3 0.9 6.4 -16.4 -11.3 0.4zM758.1 1403.3l11.3 4.4 6.4 -18.9 -11.3 -5.1zM827.3 1397l11.3 10.8 6.4 -13.9 -11.3 -13.4zM875.4 1369.7l11.3 21.2 6.4 -11.1 -11.3 -23.1zM926.2 1317.8l11.3 26.2 6.4 0.6 -11.3 -24.7z"/><path fill="#18d7ca" stroke="#18d7ca" stroke-width="0.6" d="M360.4 1285.7l11.3 0.6 6.4 -18.3 -11.3 -0.2zM399.2 1303.9l11.3 0.6 6.4 -20 -11.3 0.3zM410.6 1304.5l11.3 1.4 6.4 -20.8 -11.3 -0.6zM421.9 1305.9l11.3 2.4 6.4 -21.6 -11.3 -1.5zM433.2 1308.2l11.3 3.8 6.4 -22.4 -11.3 -3zM444.5 1312l11.3 5.6 6.4 -23.1 -11.3 -5zM541.2 1335.5l11.3 -1.9 6.4 -23.8 -11.3 1.6zM701.6 1390l11.3 1.6 6.4 -17.6 -11.3 -0.3zM712.9 1391.6l11.3 2.1 6.4 -18.7 -11.3 -1.1zM724.2 1393.6l11.3 2.5 6.4 -19.4 -11.3 -1.8zM735.5 1396.2l11.3 3.2 6.4 -19.8 -11.3 -2.9zM746.8 1399.4l11.3 3.9 6.4 -19.6 -11.3 -4.1zM798.3 1400l11.3 5.6 6.4 -17.3 -11.3 -7.5zM851.3 1379.7l11.3 16.6 6.4 -12.9 -11.3 -18.6z"/><path fill="#18d9c8" stroke="#18d9c8" stroke-width="0.6" d="M371.7 1286.3l11.3 0.1 6.4 -18.7 -11.3 0.3zM484.7 1309.3l11.3 9.8 6.4 -26.2 -11.3 -9.4zM552.5 1333.6l11.3 -2.7 6.4 -23.8 -11.3 2.7zM607.6 1353.6l11.3 -1.4 6.4 -19.3 -11.3 1.5zM657.8 1366.2l11.3 -1.6 6.4 -14.6 -11.3 1.5zM674 1376.2l11.3 -1.4 6.4 -15.7 -11.3 2.8zM881.7 1356.7l11.3 23.1 6.4 -10 -11.3 -24.5zM919.9 1317.2l11.3 26.7 6.4 0.1 -11.3 -26.2z"/><path fill="#18ddc2" stroke="#18ddc2" stroke-width="0.6" d="M383 1286.4l11.3 -0.6 6.4 -19.5 -11.3 1.4zM580.1 1343.3l11.3 -3.9 6.4 -21.3 -11.3 4.5zM618.9 1352.2l11.3 -0.6 6.4 -19.3 -11.3 0.7zM630.2 1351.6l11.3 0.3 6.4 -18.4 -11.3 -1.2zM685.3 1374.8l11.3 -0.8 6.4 -17.1 -11.3 2.2zM787 1394.5l11.3 5.5 6.4 -19.1 -11.3 -7.3zM816 1388.3l11.3 8.6 6.4 -16.5 -11.3 -11.3zM833.7 1380.4l11.3 13.4 6.4 -14.2 -11.3 -16.1zM888.1 1345.3l11.3 24.5 6.4 -8.7 -11.3 -25.4zM913.5 1318.7l11.3 26.4 6.4 -1.2 -11.3 -26.7z"/><path fill="#18e0bd" stroke="#18e0bd" stroke-width="0.6" d="M473.4 1301.3l11.3 8 6.4 -25.9 -11.3 -7.2zM563.8 1330.9l11.3 -3.6 6.4 -23.8 -11.3 3.7zM591.4 1339.4l11.3 -2.9 6.4 -21.6 -11.3 3.1zM641.5 1351.9l11.3 -0.1 6.4 -17.8 -11.3 -0.4zM652.8 1351.7l11.3 -0.3 6.4 -17.1 -11.3 -0.4zM669.1 1364.6l11.3 -2.7 6.4 -15.9 -11.3 4zM775.7 1388.8l11.3 5.7 6.4 -20.9 -11.3 -7.1zM857.7 1364.7l11.3 18.6 6.4 -13.7 -11.3 -20.5zM894.4 1335.6l11.3 25.4 6.4 -7.3 -11.3 -25.9zM907.2 1322.2l11.3 26.1 6.4 -3.2 -11.3 -26.4z"/><path fill="#19e2bb" stroke="#19e2bb" stroke-width="0.6" d="M355.5 1267.2l11.3 0.6 6.4 -18.3 -11.3 -0.1zM394.3 1285.8l11.3 -1 6.4 -20.6 -11.3 2zM696.6 1374l11.3 -0.4 6.4 -18.9 -11.3 2.3zM900.8 1327.8l11.3 25.9 6.4 -5.5 -11.3 -26.1z"/><path fill="#1ae4b6" stroke="#1ae4b6" stroke-width="0.6" d="M366.8 1267.8l11.3 0.2 6.4 -19.1 -11.3 0.5zM405.6 1284.8l11.3 -0.3 6.4 -21.8 -11.3 1.5zM462.1 1294.6l11.3 6.7 6.4 -25 -11.3 -6.2zM513.7 1302.7l11.3 6 6.4 -27.1 -11.3 -5.9zM525 1308.7l11.3 2.6 6.4 -26.9 -11.3 -2.9zM602.7 1336.5l11.3 -2.1 6.4 -22 -11.3 2.5zM664.1 1351.4l11.3 -1.5 6.4 -17.1 -11.3 1.5zM680.4 1361.9l11.3 -2.8 6.4 -17.2 -11.3 4.1zM707.9 1373.6l11.3 0.3 6.4 -21 -11.3 1.7zM764.4 1383.7l11.3 5.1 6.4 -22.4 -11.3 -5.7zM804.7 1380.9l11.3 7.5 6.4 -19.2 -11.3 -10.2zM840 1363.6l11.3 16.1 6.4 -15 -11.3 -18.4z"/><path fill="#1ce6b4" stroke="#1ce6b4" stroke-width="0.6" d="M378.1 1268l11.3 -0.3 6.4 -20 -11.3 1.3zM416.9 1284.5l11.3 0.6 6.4 -22.9 -11.3 0.5zM450.8 1289.6l11.3 5 6.4 -24.5 -11.3 -4.6zM502.4 1292.9l11.3 9.8 6.4 -27 -11.3 -8.9zM536.3 1311.4l11.3 0 6.4 -26.8 -11.3 -0.1zM575.1 1327.2l11.3 -4.7 6.4 -24.1 -11.3 4.9zM719.2 1373.9l11.3 1.1 6.4 -22.4 -11.3 0.4zM730.5 1375l11.3 1.8 6.4 -22.9 -11.3 -1.3zM741.8 1376.7l11.3 2.9 6.4 -22.9 -11.3 -2.8zM753.1 1379.6l11.3 4.1 6.4 -23 -11.3 -4.1zM822.4 1369.1l11.3 11.3 6.4 -16.8 -11.3 -14.5zM864 1349.2l11.3 20.5 6.4 -13 -11.3 -21.9zM914.9 1293.2l11.3 24.6 6.4 2.1 -11.3 -21.5z"/><path fill="#1fe9af" stroke="#1fe9af" stroke-width="0.6" d="M428.2 1285.1l11.3 1.5 6.4 -23.7 -11.3 -0.7zM439.5 1286.6l11.3 3 6.4 -24.1 -11.3 -2.6zM547.6 1311.4l11.3 -1.6 6.4 -27.1 -11.3 1.9zM614 1334.5l11.3 -1.5 6.4 -22.8 -11.3 2.3zM675.4 1349.9l11.3 -4 6.4 -18 -11.3 4.9zM691.7 1359.1l11.3 -2.2 6.4 -19.2 -11.3 4.2zM793.4 1373.5l11.3 7.3 6.4 -21.9 -11.3 -9.5z"/><path fill="#22ebaa" stroke="#22ebaa" stroke-width="0.6" d="M389.4 1267.6l11.3 -1.4 6.4 -20.8 -11.3 2.2zM491.1 1283.4l11.3 9.4 6.4 -26.1 -11.3 -8.7zM586.4 1322.6l11.3 -4.5 6.4 -24.3 -11.3 4.7zM625.3 1332.9l11.3 -0.7 6.4 -23.3 -11.3 1.2zM636.6 1332.3l11.3 1.2 6.4 -23.3 -11.3 -1.2zM647.9 1333.5l11.3 0.4 6.4 -21.9 -11.3 -1.8zM870.4 1334.7l11.3 21.9 6.4 -11.4 -11.3 -23.1zM908.6 1291.7l11.3 25.5 6.4 0.6 -11.3 -24.6z"/><path fill="#25eca7" stroke="#25eca7" stroke-width="0.6" d="M361.8 1249.4l11.3 0.1 6.4 -18.6 -11.3 0.5zM400.7 1266.3l11.3 -2 6.4 -21.6 -11.3 2.8zM558.9 1309.8l11.3 -2.7 6.4 -27.6 -11.3 3.1zM659.2 1333.9l11.3 0.4 6.4 -20.6 -11.3 -1.7zM703 1356.9l11.3 -2.3 6.4 -21.5 -11.3 4.6zM846.4 1346.3l11.3 18.4 6.4 -15.5 -11.3 -20.3z"/><path fill="#2aefa1" stroke="#2aefa1" stroke-width="0.6" d="M373.1 1249.5l11.3 -0.5 6.4 -19.4 -11.3 1.4zM479.8 1276.3l11.3 7.2 6.4 -25.3 -11.3 -6.9zM597.7 1318.1l11.3 -3.1 6.4 -25 -11.3 3.8zM670.5 1334.4l11.3 -1.5 6.4 -20.9 -11.3 1.8zM686.7 1346l11.3 -4.1 6.4 -19.9 -11.3 6zM782.1 1366.4l11.3 7.1 6.4 -24.1 -11.3 -8.4zM811.1 1358.9l11.3 10.2 6.4 -20 -11.3 -13.3zM828.7 1349.1l11.3 14.5 6.4 -17.3 -11.3 -17.2zM876.8 1322.2l11.3 23.1 6.4 -9.6 -11.3 -24zM902.2 1293.3l11.3 25.4 6.4 -1.5 -11.3 -25.5z"/><path fill="#2cf09e" stroke="#2cf09e" stroke-width="0.6" d="M384.4 1248.9l11.3 -1.3 6.4 -20.4 -11.3 2.2zM412 1264.2l11.3 -1.5 6.4 -22.7 -11.3 2.6zM468.5 1270.1l11.3 6.2 6.4 -25.1 -11.3 -5.9zM570.2 1307.1l11.3 -3.7 6.4 -27.9 -11.3 4zM714.3 1354.6l11.3 -1.7 6.4 -24.2 -11.3 4.4zM883.1 1311.6l11.3 24 6.4 -7.8 -11.3 -24.8zM889.5 1303l11.3 24.8 6.4 -5.7 -11.3 -25.2zM895.8 1297l11.3 25.2 6.4 -3.5 -11.3 -25.4z"/><path fill="#32f298" stroke="#32f298" stroke-width="0.6" d="M423.3 1262.7l11.3 -0.5 6.4 -23.9 -11.3 1.7zM520 1275.7l11.3 5.9 6.4 -27.3 -11.3 -5.3zM531.4 1281.6l11.3 2.9 6.4 -27.7 -11.3 -2.4zM609 1314.9l11.3 -2.5 6.4 -26.5 -11.3 3.9zM770.8 1360.7l11.3 5.7 6.4 -25.4 -11.3 -6.1zM852.7 1328.9l11.3 20.3 6.4 -14.5 -11.3 -22.2zM903.6 1268l11.3 25.2 6.4 5.2 -11.3 -23.2z"/><path fill="#38f491" stroke="#38f491" stroke-width="0.6" d="M368.2 1231.4l11.3 -0.5 6.4 -18.6 -11.3 1zM395.7 1247.7l11.3 -2.2 6.4 -21 -11.3 2.8zM434.6 1262.2l11.3 0.7 6.4 -24.6 -11.3 0zM445.9 1262.9l11.3 2.6 6.4 -24.8 -11.3 -2.4zM457.2 1265.5l11.3 4.6 6.4 -24.8 -11.3 -4.6zM508.7 1266.8l11.3 8.9 6.4 -26.7 -11.3 -8.1zM542.7 1284.5l11.3 0.1 6.4 -28.2 -11.3 0.4zM581.5 1303.4l11.3 -4.9 6.4 -28 -11.3 5zM681.8 1332.9l11.3 -4.9 6.4 -22.6 -11.3 6.5zM698 1341.9l11.3 -4.2 6.4 -22.1 -11.3 6.4zM725.6 1352.9l11.3 -0.4 6.4 -25.8 -11.3 2zM736.9 1352.6l11.3 1.3 6.4 -25.8 -11.3 -1.4zM748.2 1353.9l11.3 2.8 6.4 -25.6 -11.3 -3zM759.5 1356.7l11.3 4.1 6.4 -25.8 -11.3 -3.8zM799.8 1349.5l11.3 9.5 6.4 -23.1 -11.3 -11.6z"/><path fill="#3cf58e" stroke="#3cf58e" stroke-width="0.6" d="M620.3 1312.5l11.3 -2.3 6.4 -28.6 -11.3 4.5zM835.1 1329.1l11.3 17.2 6.4 -17.4 -11.3 -19.5z"/><path fill="#43f787" stroke="#43f787" stroke-width="0.6" d="M379.5 1230.9l11.3 -1.4 6.4 -19.4 -11.3 2.1zM407 1245.5l11.3 -2.8 6.4 -21.6 -11.3 3.4zM497.4 1258.1l11.3 8.7 6.4 -25.8 -11.3 -7.8zM554 1284.6l11.3 -1.9 6.4 -28.9 -11.3 2.6zM817.4 1335.8l11.3 13.3 6.4 -20 -11.3 -16.1zM859.1 1312.6l11.3 22.2 6.4 -12.6 -11.3 -23.8z"/><path fill="#4af880" stroke="#4af880" stroke-width="0.6" d="M390.8 1229.5l11.3 -2.2 6.4 -20.1 -11.3 2.9zM592.8 1298.5l11.3 -4.7 6.4 -28.7 -11.3 5.4zM631.6 1310.1l11.3 -1.2 6.4 -30.4 -11.3 3zM643 1309l11.3 1.2 6.4 -30.1 -11.3 -1.5zM654.3 1310.2l11.3 1.8 6.4 -29.3 -11.3 -2.6zM665.6 1312l11.3 1.7 6.4 -27.7 -11.3 -3.3zM693.1 1328l11.3 -6 6.4 -24.5 -11.3 7.9zM709.3 1337.8l11.3 -4.6 6.4 -24.4 -11.3 6.9zM788.5 1341.1l11.3 8.4 6.4 -25.2 -11.3 -9.7zM897.3 1265l11.3 26.6 6.4 1.6 -11.3 -25.2z"/><path fill="#4ef97d" stroke="#4ef97d" stroke-width="0.6" d="M418.3 1242.6l11.3 -2.6 6.4 -22.3 -11.3 3.3zM486.1 1251.2l11.3 6.9 6.4 -25 -11.3 -6.3zM565.3 1282.7l11.3 -3.1 6.4 -29.6 -11.3 3.9zM676.9 1313.7l11.3 -1.8 6.4 -27.1 -11.3 1.1zM865.5 1298.4l11.3 23.8 6.4 -10.5 -11.3 -25.2zM890.9 1266.5l11.3 26.8 6.4 -1.7 -11.3 -26.6z"/><path fill="#55fa76" stroke="#55fa76" stroke-width="0.6" d="M374.5 1213.3l11.3 -1 6.4 -18.7 -11.3 1.4zM402.1 1227.3l11.3 -2.8 6.4 -20.4 -11.3 3.1zM429.6 1240l11.3 -1.7 6.4 -22.9 -11.3 2.3zM474.8 1245.3l11.3 5.9 6.4 -24.4 -11.3 -5.7zM604.1 1293.8l11.3 -3.8 6.4 -30.6 -11.3 5.7zM841.4 1309.4l11.3 19.5 6.4 -16.4 -11.3 -21.6zM871.8 1286.4l11.3 25.2 6.4 -8.6 -11.3 -26zM878.2 1277.1l11.3 26 6.4 -6 -11.3 -26.4zM884.5 1270.6l11.3 26.4 6.4 -3.7 -11.3 -26.8z"/><path fill="#59fb73" stroke="#59fb73" stroke-width="0.6" d="M385.8 1212.2l11.3 -2.1 6.4 -19.1 -11.3 2.6zM440.9 1238.3l11.3 0 6.4 -23.5 -11.3 0.6zM452.2 1238.3l11.3 2.4 6.4 -23.8 -11.3 -2.1zM463.5 1240.7l11.3 4.6 6.4 -24.1 -11.3 -4.3zM526.4 1249.1l11.3 5.3 6.4 -26.6 -11.3 -4.5zM576.6 1279.5l11.3 -4 6.4 -30.2 -11.3 4.6zM720.6 1333.2l11.3 -4.4 6.4 -27 -11.3 7zM777.2 1335l11.3 6.1 6.4 -26.5 -11.3 -6.7zM806.1 1324.2l11.3 11.6 6.4 -22.8 -11.3 -13.5zM892.3 1237.5l11.3 30.5 6.4 7.1 -11.3 -32.8z"/><path fill="#61fc6c" stroke="#61fc6c" stroke-width="0.6" d="M413.4 1224.4l11.3 -3.4 6.4 -20.5 -11.3 3.5zM515.1 1241l11.3 8.1 6.4 -25.8 -11.3 -7zM537.7 1254.4l11.3 2.4 6.4 -27.1 -11.3 -2zM704.4 1322l11.3 -6.4 6.4 -26.9 -11.3 8.8zM765.9 1331.1l11.3 3.8 6.4 -27.1 -11.3 -4.1zM823.8 1313l11.3 16.1 6.4 -19.6 -11.3 -18.3z"/><path fill="#69fd66" stroke="#69fd66" stroke-width="0.6" d="M397.1 1210.1l11.3 -2.9 6.4 -19.4 -11.3 3.2zM503.8 1233.1l11.3 7.8 6.4 -24.7 -11.3 -7zM549 1256.8l11.3 -0.4 6.4 -27.6 -11.3 0.9zM688.2 1311.9l11.3 -6.5 6.4 -28.6 -11.3 8.1zM731.9 1328.7l11.3 -2 6.4 -28.2 -11.3 3.2zM743.3 1326.7l11.3 1.4 6.4 -27.9 -11.3 -1.6zM754.6 1328.1l11.3 3 6.4 -27.4 -11.3 -3.6zM847.8 1290.9l11.3 21.6 6.4 -14.2 -11.3 -23.7z"/><path fill="#6dfe62" stroke="#6dfe62" stroke-width="0.6" d="M380.9 1194.9l11.3 -1.4 6.4 -19 -11.3 1.7zM424.7 1221l11.3 -3.3 6.4 -20.5 -11.3 3.4zM587.9 1275.5l11.3 -5 6.4 -31.1 -11.3 5.9zM615.4 1290l11.3 -3.9 6.4 -34 -11.3 7.4z"/><path fill="#75fe5c" stroke="#75fe5c" stroke-width="0.6" d="M408.4 1207.1l11.3 -3.1 6.4 -19.4 -11.3 3.2zM492.5 1226.9l11.3 6.3 6.4 -23.8 -11.3 -5.9zM560.3 1256.4l11.3 -2.6 6.4 -28.4 -11.3 3.4zM794.8 1314.6l11.3 9.7 6.4 -24.8 -11.3 -10.7zM886 1236.1l11.3 29 6.4 3 -11.3 -30.5z"/><path fill="#79fe59" stroke="#79fe59" stroke-width="0.6" d="M392.2 1193.5l11.3 -2.6 6.4 -18.9 -11.3 2.5zM436 1217.7l11.3 -2.3 6.4 -20.7 -11.3 2.5zM481.2 1221.2l11.3 5.7 6.4 -23.4 -11.3 -4.9zM715.7 1315.6l11.3 -6.9 6.4 -29 -11.3 9zM830.1 1291.2l11.3 18.3 6.4 -18.5 -11.3 -20.2zM854.2 1274.6l11.3 23.7 6.4 -11.9 -11.3 -25.4z"/><path fill="#80ff53" stroke="#80ff53" stroke-width="0.6" d="M419.7 1204l11.3 -3.5 6.4 -19.1 -11.3 3.2zM447.3 1215.4l11.3 -0.6 6.4 -20.9 -11.3 0.9zM458.6 1214.8l11.3 2.1 6.4 -21.7 -11.3 -1.3zM469.9 1216.9l11.3 4.3 6.4 -22.7 -11.3 -3.4zM571.6 1253.8l11.3 -3.9 6.4 -29.3 -11.3 4.8zM599.2 1270.5l11.3 -5.4 6.4 -32.7 -11.3 7zM626.7 1286l11.3 -4.5 6.4 -37.6 -11.3 8.1zM699.5 1305.4l11.3 -7.9 6.4 -30.5 -11.3 9.7zM812.5 1299.4l11.3 13.5 6.4 -21.8 -11.3 -15.4zM860.5 1261l11.3 25.4 6.4 -9.4 -11.3 -26.4zM879.6 1238.8l11.3 27.7 6.4 -1.5 -11.3 -29z"/><path fill="#88ff4e" stroke="#88ff4e" stroke-width="0.6" d="M403.5 1191l11.3 -3.2 6.4 -18.7 -11.3 2.9zM532.8 1223.3l11.3 4.5 6.4 -25.4 -11.3 -3.9zM544.1 1227.8l11.3 2 6.4 -25.6 -11.3 -1.7zM783.5 1307.9l11.3 6.7 6.4 -25.8 -11.3 -7.8zM866.9 1250.7l11.3 26.4 6.4 -6.5 -11.3 -26.9zM873.2 1243.7l11.3 26.9 6.4 -4.1 -11.3 -27.7z"/><path fill="#8bff4b" stroke="#8bff4b" stroke-width="0.6" d="M387.3 1176.2l11.3 -1.7 6.4 -18.9 -11.3 1.7zM414.8 1187.8l11.3 -3.2 6.4 -18.4 -11.3 2.9zM431 1200.5l11.3 -3.4 6.4 -18.8 -11.3 3zM521.5 1216.3l11.3 7 6.4 -24.8 -11.3 -5.5zM638 1281.5l11.3 -3 6.4 -39.1 -11.3 4.5zM660.6 1280.1l11.3 2.6 6.4 -38.3 -11.3 -3.6zM671.9 1282.7l11.3 3.3 6.4 -38.7 -11.3 -2.9zM727 1308.7l11.3 -7 6.4 -30.1 -11.3 8.2zM772.2 1303.7l11.3 4.1 6.4 -26.9 -11.3 -5.6z"/><path fill="#92ff47" stroke="#92ff47" stroke-width="0.6" d="M442.4 1197.2l11.3 -2.5 6.4 -18.7 -11.3 2.4zM510.2 1209.3l11.3 7 6.4 -23.3 -11.3 -6.1zM555.4 1229.7l11.3 -0.9 6.4 -26 -11.3 1.3zM582.9 1249.9l11.3 -4.6 6.4 -30.3 -11.3 5.7zM610.5 1265.1l11.3 -5.7 6.4 -35.4 -11.3 8.4zM649.3 1278.6l11.3 1.5 6.4 -39.3 -11.3 -1.4zM683.2 1286l11.3 -1.1 6.4 -38.5 -11.3 1zM760.9 1300.2l11.3 3.6 6.4 -28.4 -11.3 -4.6zM836.5 1270.8l11.3 20.2 6.4 -16.3 -11.3 -21.6z"/><path fill="#96fe44" stroke="#96fe44" stroke-width="0.6" d="M398.6 1174.5l11.3 -2.5 6.4 -18.5 -11.3 2.2zM426.1 1184.6l11.3 -3.2 6.4 -17.9 -11.3 2.7zM453.7 1194.7l11.3 -0.9 6.4 -19 -11.3 1.2zM498.9 1203.4l11.3 5.9 6.4 -22.3 -11.3 -5.4zM710.8 1297.5l11.3 -8.8 6.4 -33 -11.3 11.3zM738.3 1301.7l11.3 -3.2 6.4 -30 -11.3 3zM749.6 1298.5l11.3 1.6 6.4 -29.4 -11.3 -2.2zM801.2 1288.7l11.3 10.7 6.4 -23.7 -11.3 -12.1zM881 1206.3l11.3 31.2 6.4 4.8 -11.3 -33.4z"/><path fill="#9cfe40" stroke="#9cfe40" stroke-width="0.6" d="M409.9 1172l11.3 -2.9 6.4 -18.1 -11.3 2.5zM465 1193.9l11.3 1.3 6.4 -19.9 -11.3 -0.4zM476.3 1195.2l11.3 3.4 6.4 -21 -11.3 -2.2zM487.6 1198.5l11.3 4.9 6.4 -21.9 -11.3 -4zM566.7 1228.8l11.3 -3.4 6.4 -26.7 -11.3 4.1zM818.8 1275.8l11.3 15.4 6.4 -20.4 -11.3 -17z"/><path fill="#a1fd3d" stroke="#a1fd3d" stroke-width="0.6" d="M437.4 1181.4l11.3 -3 6.4 -17.4 -11.3 2.5zM594.2 1245.3l11.3 -5.9 6.4 -31.3 -11.3 6.9zM694.5 1284.8l11.3 -8.1 6.4 -36.5 -11.3 6zM842.9 1253l11.3 21.6 6.4 -13.6 -11.3 -22.8z"/><path fill="#a4fc3c" stroke="#a4fc3c" stroke-width="0.6" d="M393.6 1157.4l11.3 -1.7 6.4 -18.2 -11.3 1.6zM421.2 1169.1l11.3 -2.9 6.4 -17.5 -11.3 2.4zM448.7 1178.4l11.3 -2.4 6.4 -17.2 -11.3 2.1zM539.1 1198.5l11.3 3.9 6.4 -24.1 -11.3 -3.2zM578 1225.4l11.3 -4.8 6.4 -27.5 -11.3 5.6zM789.9 1280.9l11.3 7.8 6.4 -25 -11.3 -9.3zM874.7 1207l11.3 29 6.4 1.5 -11.3 -31.2z"/><path fill="#a9fb39" stroke="#a9fb39" stroke-width="0.6" d="M404.9 1155.7l11.3 -2.2 6.4 -17.8 -11.3 1.7zM432.5 1166.2l11.3 -2.7 6.4 -16.9 -11.3 2.1zM460 1176l11.3 -1.2 6.4 -17.4 -11.3 1.4zM516.5 1187l11.3 6.1 6.4 -21.8 -11.3 -4.9zM527.8 1193l11.3 5.5 6.4 -23.4 -11.3 -3.9zM550.4 1202.4l11.3 1.7 6.4 -24.3 -11.3 -1.5zM621.8 1259.4l11.3 -7.4 6.4 -38.7 -11.3 10.7zM722.1 1288.7l11.3 -9 6.4 -34 -11.3 10zM849.2 1238.3l11.3 22.8 6.4 -10.3 -11.3 -24z"/><path fill="#affa37" stroke="#affa37" stroke-width="0.6" d="M416.2 1153.5l11.3 -2.5 6.4 -17.3 -11.3 1.9zM471.3 1174.9l11.3 0.4 6.4 -18 -11.3 0.2zM505.2 1181.5l11.3 5.4 6.4 -20.7 -11.3 -4.7zM561.7 1204.1l11.3 -1.3 6.4 -24.5 -11.3 1.4zM605.5 1239.3l11.3 -7 6.4 -32.4 -11.3 8zM778.6 1275.3l11.3 5.6 6.4 -26.5 -11.3 -7.6zM825.2 1253.8l11.3 17 6.4 -17.7 -11.3 -18.1zM855.6 1226.7l11.3 24 6.4 -7 -11.3 -25.7zM861.9 1217.9l11.3 25.7 6.4 -4.9 -11.3 -27.5zM868.3 1211.3l11.3 27.5 6.4 -2.7 -11.3 -29z"/><path fill="#b1f936" stroke="#b1f936" stroke-width="0.6" d="M443.8 1163.5l11.3 -2.5 6.4 -16.3 -11.3 1.9zM482.6 1175.3l11.3 2.2 6.4 -19 -11.3 -1.3zM493.9 1177.5l11.3 4 6.4 -19.9 -11.3 -3zM589.3 1220.6l11.3 -5.7 6.4 -27.8 -11.3 6zM705.8 1276.8l11.3 -9.7 6.4 -38.1 -11.3 11.3zM807.5 1263.7l11.3 12.1 6.4 -22 -11.3 -13.3z"/><path fill="#b7f735" stroke="#b7f735" stroke-width="0.6" d="M400 1139l11.3 -1.6 6.4 -17.2 -11.3 1.4zM427.5 1151l11.3 -2.4 6.4 -16.7 -11.3 1.8zM455.1 1161l11.3 -2.1 6.4 -16 -11.3 1.8zM573 1202.9l11.3 -4.1 6.4 -24.7 -11.3 4.3zM733.4 1279.8l11.3 -8.2 6.4 -33.6 -11.3 7.8zM767.3 1270.7l11.3 4.6 6.4 -28.5 -11.3 -6.5z"/><path fill="#b9f635" stroke="#b9f635" stroke-width="0.6" d="M411.3 1137.4l11.3 -1.7 6.4 -16.8 -11.3 1.3zM438.8 1148.7l11.3 -2.1 6.4 -16.1 -11.3 1.5zM466.4 1158.9l11.3 -1.4 6.4 -16 -11.3 1.3zM633.1 1252l11.3 -8.1 6.4 -40.7 -11.3 10.1zM756 1268.5l11.3 2.2 6.4 -30.4 -11.3 -3.8z"/><path fill="#bef434" stroke="#bef434" stroke-width="0.6" d="M422.6 1135.7l11.3 -1.9 6.4 -16.3 -11.3 1.4zM450.1 1146.6l11.3 -1.9 6.4 -15.6 -11.3 1.4zM477.7 1157.5l11.3 -0.2 6.4 -16.2 -11.3 0.5zM522.9 1166.3l11.3 4.9 6.4 -20.4 -11.3 -3.5zM534.2 1171.2l11.3 3.9 6.4 -21.6 -11.3 -2.7zM545.5 1175.1l11.3 3.2 6.4 -22.7 -11.3 -2.1zM600.6 1214.9l11.3 -6.9 6.4 -27.9 -11.3 7.1zM616.8 1232.4l11.3 -8.4 6.4 -32.9 -11.3 8.9zM744.7 1271.6l11.3 -3 6.4 -32 -11.3 1.4zM796.2 1254.4l11.3 9.3 6.4 -23.2 -11.3 -11.4zM831.6 1234.9l11.3 18.1 6.4 -14.7 -11.3 -19.3z"/><path fill="#c3f134" stroke="#c3f134" stroke-width="0.6" d="M406.3 1121.6l11.3 -1.4 6.4 -16 -11.3 1.3zM433.9 1133.8l11.3 -1.8 6.4 -15.7 -11.3 1.3zM461.4 1144.7l11.3 -1.8 6.4 -15.2 -11.3 1.4zM489 1157.3l11.3 1.3 6.4 -16.7 -11.3 -0.7zM500.3 1158.6l11.3 3 6.4 -17.6 -11.3 -2.2zM511.6 1161.6l11.3 4.7 6.4 -18.9 -11.3 -3.4zM556.8 1178.3l11.3 1.5 6.4 -23.6 -11.3 -0.7zM584.3 1198.8l11.3 -5.6 6.4 -24.6 -11.3 5.5zM644.4 1243.9l11.3 -4.5 6.4 -41.3 -11.3 5zM813.9 1240.5l11.3 13.3 6.4 -18.9 -11.3 -15.1zM869.7 1178.4l11.3 28 6.4 2.6 -11.3 -29.1z"/><path fill="#c6f034" stroke="#c6f034" stroke-width="0.6" d="M445.2 1132l11.3 -1.5 6.4 -15.3 -11.3 1.1zM568.1 1179.8l11.3 -1.4 6.4 -23.8 -11.3 1.7zM655.7 1239.4l11.3 1.4 6.4 -42.1 -11.3 -0.5zM667 1240.8l11.3 3.6 6.4 -43.3 -11.3 -2.4zM717.1 1267.1l11.3 -11.3 6.4 -39.5 -11.3 12.6zM837.9 1219l11.3 19.3 6.4 -11.6 -11.3 -21z"/><path fill="#cbed34" stroke="#cbed34" stroke-width="0.6" d="M417.6 1120.2l11.3 -1.3 6.4 -15.8 -11.3 1zM472.7 1142.9l11.3 -1.3 6.4 -14.9 -11.3 1zM678.3 1244.4l11.3 2.9 6.4 -46 -11.3 -0.2zM784.9 1246.8l11.3 7.6 6.4 -25.4 -11.3 -10.4zM844.3 1205.7l11.3 21 6.4 -8.8 -11.3 -23zM863.4 1180.6l11.3 26.4 6.4 -0.7 -11.3 -28z"/><path fill="#cdec34" stroke="#cdec34" stroke-width="0.6" d="M428.9 1118.9l11.3 -1.4 6.4 -15.4 -11.3 1zM456.5 1130.5l11.3 -1.4 6.4 -14.9 -11.3 1zM484 1141.6l11.3 -0.5 6.4 -14.8 -11.3 0.4zM495.3 1141.1l11.3 0.7 6.4 -15.1 -11.3 -0.4zM579.4 1178.4l11.3 -4.3 6.4 -23.4 -11.3 3.9zM595.6 1193.1l11.3 -6 6.4 -24.6 -11.3 6.1zM611.9 1208l11.3 -8 6.4 -28 -11.3 8.1zM628.1 1224l11.3 -10.7 6.4 -33.4 -11.3 11.1zM689.6 1247.3l11.3 -1 6.4 -47.7 -11.3 2.7zM850.6 1194.9l11.3 23 6.4 -6.6 -11.3 -24.7zM857 1186.6l11.3 24.7 6.4 -4.3 -11.3 -26.4z"/><path fill="#d2e935" stroke="#d2e935" stroke-width="0.6" d="M440.2 1117.5l11.3 -1.3 6.4 -15 -11.3 0.8zM467.8 1129.1l11.3 -1.4 6.4 -14.4 -11.3 0.9zM506.6 1141.8l11.3 2.2 6.4 -15.9 -11.3 -1.4zM517.9 1144l11.3 3.4 6.4 -17.3 -11.3 -2zM529.2 1147.4l11.3 3.5 6.4 -18.8 -11.3 -2zM540.5 1150.9l11.3 2.7 6.4 -20 -11.3 -1.4zM802.6 1229l11.3 11.4 6.4 -20.7 -11.3 -14.2zM820.3 1219.7l11.3 15.1 6.4 -15.9 -11.3 -17.1z"/><path fill="#d7e535" stroke="#d7e535" stroke-width="0.6" d="M451.5 1116.3l11.3 -1.1 6.4 -14.6 -11.3 0.7zM479.1 1127.7l11.3 -1 6.4 -14.1 -11.3 0.7zM551.8 1153.5l11.3 2.1 6.4 -21.4 -11.3 -0.7zM728.4 1255.8l11.3 -10 6.4 -39.1 -11.3 9.6zM773.6 1240.4l11.3 6.5 6.4 -28.2 -11.3 -9.2z"/><path fill="#d9e436" stroke="#d9e436" stroke-width="0.6" d="M462.8 1115.2l11.3 -1 6.4 -14.2 -11.3 0.6zM490.4 1126.7l11.3 -0.4 6.4 -13.9 -11.3 0.3zM501.7 1126.3l11.3 0.4 6.4 -14.2 -11.3 -0.2zM563.1 1155.6l11.3 0.7 6.4 -22.5 -11.3 0.5zM590.7 1174.1l11.3 -5.5 6.4 -23.1 -11.3 5.2zM606.9 1187.1l11.3 -7.1 6.4 -25.3 -11.3 7.7zM700.9 1246.3l11.3 -6 6.4 -49 -11.3 7.3z"/><path fill="#dde037" stroke="#dde037" stroke-width="0.6" d="M474.2 1114.2l11.3 -0.9 6.4 -13.8 -11.3 0.5zM513 1126.7l11.3 1.4 6.4 -14.8 -11.3 -0.7zM524.3 1128.1l11.3 2 6.4 -16 -11.3 -0.9zM574.5 1156.3l11.3 -1.7 6.4 -23.1 -11.3 2.2zM623.2 1200l11.3 -8.9 6.4 -29.1 -11.3 10zM639.4 1213.3l11.3 -10.1 6.4 -34.9 -11.3 11.6zM739.7 1245.7l11.3 -7.8 6.4 -35.8 -11.3 4.5zM762.3 1236.6l11.3 3.8 6.4 -30.9 -11.3 -5.9zM826.6 1201.9l11.3 17.1 6.4 -13.3 -11.3 -19z"/><path fill="#dfdf37" stroke="#dfdf37" stroke-width="0.6" d="M485.5 1113.3l11.3 -0.7 6.4 -13.5 -11.3 0.4zM496.8 1112.6l11.3 -0.3 6.4 -13.4 -11.3 0.2zM535.6 1130.1l11.3 2 6.4 -17.3 -11.3 -0.6zM751 1238l11.3 -1.4 6.4 -33 -11.3 -1.4zM791.3 1218.6l11.3 10.4 6.4 -23.5 -11.3 -14.1zM858.4 1155.9l11.3 22.5 6.4 1.4 -11.3 -24.4z"/><path fill="#e3db38" stroke="#e3db38" stroke-width="0.6" d="M508.1 1112.3l11.3 0.2 6.4 -13.6 -11.3 0zM546.9 1132.1l11.3 1.4 6.4 -18.6 -11.3 -0.1zM585.8 1154.6l11.3 -3.9 6.4 -23.1 -11.3 3.9zM602 1168.6l11.3 -6.1 6.4 -23.8 -11.3 6.8zM809 1205.5l11.3 14.2 6.4 -17.9 -11.3 -17.3zM833 1186.7l11.3 19 6.4 -10.8 -11.3 -20.5z"/><path fill="#e7d739" stroke="#e7d739" stroke-width="0.6" d="M519.4 1112.6l11.3 0.7 6.4 -14.2 -11.3 -0.1zM558.2 1133.5l11.3 0.7 6.4 -19.9 -11.3 0.5zM618.2 1180.1l11.3 -8.1 6.4 -27.3 -11.3 10.2zM712.2 1240.3l11.3 -11.3 6.4 -47.6 -11.3 10zM839.3 1174.4l11.3 20.5 6.4 -8.3 -11.3 -21.3zM852.1 1159l11.3 21.6 6.4 -2.2 -11.3 -22.5z"/><path fill="#e9d539" stroke="#e9d539" stroke-width="0.6" d="M530.7 1113.2l11.3 0.9 6.4 -15.1 -11.3 0zM569.5 1134.2l11.3 -0.5 6.4 -20.9 -11.3 1.5zM650.7 1203.2l11.3 -5 6.4 -38.6 -11.3 8.7zM845.7 1165.3l11.3 21.3 6.4 -6 -11.3 -21.6z"/><path fill="#ecd13a" stroke="#ecd13a" stroke-width="0.6" d="M542 1114.1l11.3 0.6 6.4 -16.1 -11.3 0.5zM597.1 1150.7l11.3 -5.2 6.4 -23.4 -11.3 5.6zM634.5 1191.1l11.3 -11.1 6.4 -31.7 -11.3 13.7zM780 1209.5l11.3 9.2 6.4 -27.2 -11.3 -12.8zM815.3 1184.6l11.3 17.3 6.4 -15.2 -11.3 -19.4z"/><path fill="#efcd3a" stroke="#efcd3a" stroke-width="0.6" d="M553.3 1114.7l11.3 0.1 6.4 -17.2 -11.3 1zM580.8 1133.7l11.3 -2.2 6.4 -21.8 -11.3 3.1zM613.3 1162.5l11.3 -7.7 6.4 -26 -11.3 9.9zM662 1198.2l11.3 0.5 6.4 -42.8 -11.3 3.7z"/><path fill="#f1cb3a" stroke="#f1cb3a" stroke-width="0.6" d="M564.6 1114.8l11.3 -0.5 6.4 -18.1 -11.3 1.4zM723.5 1228.9l11.3 -12.6 6.4 -42.5 -11.3 7.5zM797.7 1191.4l11.3 14.1 6.4 -20.9 -11.3 -18.4z"/><path fill="#f4c73a" stroke="#f4c73a" stroke-width="0.6" d="M592.1 1131.5l11.3 -3.9 6.4 -22.5 -11.3 4.6zM608.4 1145.5l11.3 -6.8 6.4 -25 -11.3 8.3zM629.5 1171.9l11.3 -10 6.4 -31.2 -11.3 13.8zM673.3 1198.7l11.3 2.4 6.4 -48.1 -11.3 2.9zM768.7 1203.6l11.3 5.9 6.4 -30.9 -11.3 -8.1zM821.7 1167.3l11.3 19.4 6.4 -12.3 -11.3 -19.7zM847.1 1136.9l11.3 18.9 6.4 -0.4 -11.3 -20.6z"/><path fill="#f5c53a" stroke="#f5c53a" stroke-width="0.6" d="M575.9 1114.3l11.3 -1.5 6.4 -19 -11.3 2.3zM734.8 1216.3l11.3 -9.6 6.4 -38.6 -11.3 5.7zM828 1154.7l11.3 19.7 6.4 -9.1 -11.3 -19.1z"/><path fill="#f7c13a" stroke="#f7c13a" stroke-width="0.6" d="M746.1 1206.7l11.3 -4.5 6.4 -34.9 -11.3 0.9zM757.4 1202.1l11.3 1.4 6.4 -33 -11.3 -3.3zM834.4 1146.3l11.3 19.1 6.4 -6.3 -11.3 -18.4zM840.8 1140.6l11.3 18.4 6.4 -3.2 -11.3 -18.9z"/><path fill="#f9bc39" stroke="#f9bc39" stroke-width="0.6" d="M587.2 1112.8l11.3 -3.1 6.4 -19.7 -11.3 3.8zM603.4 1127.6l11.3 -5.6 6.4 -23.6 -11.3 6.7zM624.6 1154.8l11.3 -10.2 6.4 -29.8 -11.3 14zM645.8 1179.9l11.3 -11.6 6.4 -36.7 -11.3 16.6zM684.6 1201.1l11.3 0.2 6.4 -54.6 -11.3 6.3zM804 1166.2l11.3 18.4 6.4 -17.3 -11.3 -20.9z"/><path fill="#faba39" stroke="#faba39" stroke-width="0.6" d="M786.4 1178.6l11.3 12.8 6.4 -25.3 -11.3 -16.9z"/><path fill="#fbb637" stroke="#fbb637" stroke-width="0.6" d="M598.5 1109.7l11.3 -4.6 6.4 -20.8 -11.3 5.6zM619.7 1138.7l11.3 -9.9 6.4 -27.3 -11.3 12.3zM810.4 1146.4l11.3 20.9 6.4 -12.6 -11.3 -20.3z"/><path fill="#fcb336" stroke="#fcb336" stroke-width="0.6" d="M695.9 1201.3l11.3 -2.7 6.4 -58.9 -11.3 7zM835.8 1118.8l11.3 18.1 6.4 -2.1 -11.3 -19.1z"/><path fill="#fdae35" stroke="#fdae35" stroke-width="0.6" d="M614.7 1122l11.3 -8.3 6.4 -24.9 -11.3 9.6zM640.8 1161.9l11.3 -13.7 6.4 -36 -11.3 18.6zM816.7 1134.4l11.3 20.3 6.4 -8.4 -11.3 -18.7zM823.1 1127.6l11.3 18.7 6.4 -5.7 -11.3 -17.8zM829.5 1122.8l11.3 17.8 6.4 -3.7 -11.3 -18.1z"/><path fill="#fea933" stroke="#fea933" stroke-width="0.6" d="M657.1 1168.3l11.3 -8.7 6.4 -41.8 -11.3 13.8zM707.2 1198.6l11.3 -7.3 6.4 -56.9 -11.3 5.4zM775.1 1170.5l11.3 8.1 6.4 -29.3 -11.3 -9.8z"/><path fill="#fea732" stroke="#fea732" stroke-width="0.6" d="M609.8 1105.1l11.3 -6.7 6.4 -21.7 -11.3 7.7zM635.9 1144.6l11.3 -13.8 6.4 -33 -11.3 17zM718.5 1191.3l11.3 -10 6.4 -48.2 -11.3 1.3zM792.7 1149.3l11.3 16.9 6.4 -19.8 -11.3 -19.9z"/><path fill="#fea130" stroke="#fea130" stroke-width="0.6" d="M729.8 1181.3l11.3 -7.5 6.4 -40.6 -11.3 -0.1z"/><path fill="#fe9e2f" stroke="#fe9e2f" stroke-width="0.6" d="M631 1128.8l11.3 -14 6.4 -28.6 -11.3 15.3zM741.1 1173.8l11.3 -5.7 6.4 -34.4 -11.3 -0.5zM752.4 1168.1l11.3 -0.9 6.4 -31.3 -11.3 -2.2zM763.8 1167.2l11.3 3.3 6.4 -31 -11.3 -3.6zM799.1 1126.5l11.3 19.9 6.4 -12 -11.3 -20.1zM824.5 1099l11.3 19.8 6.4 -3.1 -11.3 -20.1z"/><path fill="#fe992c" stroke="#fe992c" stroke-width="0.6" d="M626 1113.7l11.3 -12.3 6.4 -25 -11.3 12.3zM668.4 1159.6l11.3 -3.7 6.4 -47.2 -11.3 9.1zM805.4 1114.3l11.3 20.1 6.4 -6.8 -11.3 -20zM811.8 1107.6l11.3 20 6.4 -4.8 -11.3 -19.9zM818.2 1103l11.3 19.9 6.4 -4 -11.3 -19.8z"/><path fill="#fe932a" stroke="#fe932a" stroke-width="0.6" d="M621.1 1098.4l11.3 -9.6 6.4 -21.9 -11.3 9.8z"/><path fill="#fe9029" stroke="#fe9029" stroke-width="0.6" d="M652.1 1148.2l11.3 -16.6 6.4 -37.9 -11.3 18.5zM781.4 1139.5l11.3 9.8 6.4 -22.8 -11.3 -11.8z"/><path fill="#fd8a26" stroke="#fd8a26" stroke-width="0.6" d="M679.7 1155.9l11.3 -2.9 6.4 -53.1 -11.3 8.8z"/><path fill="#fc8725" stroke="#fc8725" stroke-width="0.6" d="M647.2 1130.8l11.3 -18.6 6.4 -31.7 -11.3 17.3z"/><path fill="#fb8122" stroke="#fb8122" stroke-width="0.6" d="M632.4 1088.8l11.3 -12.3 6.4 -20.3 -11.3 10.8zM637.3 1101.4l11.3 -15.3 6.4 -22.9 -11.3 13.1zM642.3 1114.8l11.3 -17 6.4 -26.8 -11.3 15.2zM770.1 1135.9l11.3 3.6 6.4 -24.9 -11.3 -7zM787.8 1114.6l11.3 11.8 6.4 -12.2 -11.3 -16.1zM794.1 1098.2l11.3 16.1 6.4 -6.7 -11.3 -19.5zM806.9 1082.1l11.3 20.9 6.4 -3.9 -11.3 -21.3zM813.2 1077.7l11.3 21.3 6.4 -3.5 -11.3 -21.6z"/><path fill="#fa7b1f" stroke="#fa7b1f" stroke-width="0.6" d="M800.5 1088.1l11.3 19.5 6.4 -4.6 -11.3 -20.9z"/><path fill="#f9781e" stroke="#f9781e" stroke-width="0.6" d="M663.4 1131.6l11.3 -13.8 6.4 -36.9 -11.3 12.8zM691 1153l11.3 -6.3 6.4 -56.7 -11.3 9.9zM758.8 1133.7l11.3 2.2 6.4 -28.2 -11.3 -6.9z"/><path fill="#f8721c" stroke="#f8721c" stroke-width="0.6" d="M747.5 1133.2l11.3 0.5 6.4 -32.9 -11.3 -6.5z"/><path fill="#f66c19" stroke="#f66c19" stroke-width="0.6" d="M643.7 1076.5l11.3 -13.1 6.4 -17.7 -11.3 10.5zM648.6 1086.2l11.3 -15.2 6.4 -19.2 -11.3 11.6zM653.6 1097.7l11.3 -17.3 6.4 -21.6 -11.3 12.1zM658.5 1112.2l11.3 -18.5 6.4 -26.9 -11.3 13.6zM736.2 1133.1l11.3 0.1 6.4 -38.9 -11.3 -6.6zM776.5 1107.7l11.3 7 6.4 -16.5 -11.3 -13.3z"/><path fill="#f56918" stroke="#f56918" stroke-width="0.6" d="M674.8 1117.8l11.3 -9.1 6.4 -37.6 -11.3 9.8z"/><path fill="#f36315" stroke="#f36315" stroke-width="0.6" d="M702.3 1146.8l11.3 -7 6.4 -57.2 -11.3 7.5zM724.9 1134.4l11.3 -1.3 6.4 -45.4 -11.3 -5.5zM782.8 1084.8l11.3 13.3 6.4 -10 -11.3 -18.4zM789.2 1069.7l11.3 18.4 6.4 -6.1 -11.3 -20.7zM795.5 1061.4l11.3 20.7 6.4 -4.4 -11.3 -22zM801.9 1055.7l11.3 22 6.4 -3.8 -11.3 -22.6z"/><path fill="#f26014" stroke="#f26014" stroke-width="0.6" d="M713.6 1139.8l11.3 -5.4 6.4 -52.2 -11.3 0.4z"/><path fill="#f05b12" stroke="#f05b12" stroke-width="0.6" d="M655 1063.3l11.3 -11.6 6.4 -15.8 -11.3 9.7zM659.9 1071l11.3 -12.1 6.4 -16.3 -11.3 9.2zM664.9 1080.5l11.3 -13.6 6.4 -18.1 -11.3 10.1zM669.8 1093.7l11.3 -12.8 6.4 -24.9 -11.3 10.9zM765.2 1100.8l11.3 6.9 6.4 -22.8 -11.3 -12.9z"/><path fill="#ec530f" stroke="#ec530f" stroke-width="0.6" d="M686.1 1108.7l11.3 -8.8 6.4 -39.4 -11.3 10.5z"/><path fill="#ea4e0d" stroke="#ea4e0d" stroke-width="0.6" d="M753.9 1094.3l11.3 6.5 6.4 -28.8 -11.3 -11.5zM771.5 1072l11.3 12.9 6.4 -15.1 -11.3 -18.1z"/><path fill="#e84b0c" stroke="#e84b0c" stroke-width="0.6" d="M666.3 1051.7l11.3 -9.2 6.4 -15.7 -11.3 9zM671.2 1058.9l11.3 -10.1 6.4 -15.5 -11.3 9.3zM777.9 1051.7l11.3 18.1 6.4 -8.3 -11.3 -21.7z"/><path fill="#e5470b" stroke="#e5470b" stroke-width="0.6" d="M676.2 1066.8l11.3 -10.9 6.4 -19.4 -11.3 12.2zM681.1 1080.9l11.3 -9.8 6.4 -27.5 -11.3 12.4zM784.2 1039.7l11.3 21.7 6.4 -5.7 -11.3 -23.5zM790.6 1032.1l11.3 23.5 6.4 -4.4 -11.3 -24.2z"/><path fill="#e2430a" stroke="#e2430a" stroke-width="0.6" d="M697.4 1099.9l11.3 -9.9 6.4 -40.4 -11.3 11zM742.6 1087.7l11.3 6.6 6.4 -33.9 -11.3 -10.8z"/><path fill="#dd3d08" stroke="#dd3d08" stroke-width="0.6" d="M677.6 1042.6l11.3 -9.3 6.4 -17.2 -11.3 10.8zM731.3 1082.2l11.3 5.5 6.4 -38.1 -11.3 -7.4zM760.2 1060.4l11.3 11.5 6.4 -20.3 -11.3 -16.1z"/><path fill="#dc3b07" stroke="#dc3b07" stroke-width="0.6" d="M708.7 1090l11.3 -7.5 6.4 -40.7 -11.3 7.8z"/><path fill="#d83706" stroke="#d83706" stroke-width="0.6" d="M682.5 1048.7l11.3 -12.2 6.4 -19.9 -11.3 16.6zM720 1082.5l11.3 -0.4 6.4 -39.9 -11.3 -0.4zM766.6 1035.6l11.3 16.1 6.4 -12 -11.3 -20.4z"/><path fill="#d43305" stroke="#d43305" stroke-width="0.6" d="M692.4 1071l11.3 -10.5 6.4 -33.2 -11.3 16.2zM772.9 1019.2l11.3 20.4 6.4 -7.5 -11.3 -23.1z"/><path fill="#d23105" stroke="#d23105" stroke-width="0.6" d="M687.5 1056l11.3 -12.4 6.4 -25.8 -11.3 18.8zM748.9 1049.7l11.3 10.8 6.4 -24.8 -11.3 -13.8zM779.3 1009l11.3 23.1 6.4 -5 -11.3 -24.1z"/><path fill="#c82803" stroke="#c82803" stroke-width="0.6" d="M688.9 1033.3l11.3 -16.6 6.4 -21.1 -11.3 20.6z"/><path fill="#c32503" stroke="#c32503" stroke-width="0.6" d="M703.7 1060.6l11.3 -11 6.4 -36.7 -11.3 14.4zM737.6 1042.2l11.3 7.4 6.4 -27.8 -11.3 -9.9zM755.3 1021.8l11.3 13.8 6.4 -16.4 -11.3 -17.1z"/><path fill="#bc2002" stroke="#bc2002" stroke-width="0.6" d="M693.8 1036.6l11.3 -18.8 6.4 -25.2 -11.3 24.1zM726.3 1041.8l11.3 0.4 6.4 -30.3 -11.3 -4zM761.6 1002.2l11.3 17.1 6.4 -10.2 -11.3 -20.1z"/><path fill="#b71d02" stroke="#b71d02" stroke-width="0.6" d="M698.8 1043.5l11.3 -16.2 6.4 -31 -11.3 21.4zM715 1049.6l11.3 -7.8 6.4 -33.9 -11.3 5zM768 989l11.3 20.1 6.4 -6.1 -11.3 -22.1z"/><path fill="#af1801" stroke="#af1801" stroke-width="0.6" d="M744 1011.9l11.3 9.9 6.4 -19.7 -11.3 -12.1z"/><path fill="#a11201" stroke="#a11201" stroke-width="0.6" d="M700.2 1016.7l11.3 -24.1 6.4 -21.5 -11.3 24.5zM732.7 1007.9l11.3 4 6.4 -21.8 -11.3 -7.4zM750.3 990.1l11.3 12.1 6.4 -13.2 -11.3 -14z"/><path fill="#9e1001" stroke="#9e1001" stroke-width="0.6" d="M710.1 1027.3l11.3 -14.4 6.4 -30.4 -11.3 13.9zM721.4 1012.9l11.3 -5 6.4 -25.3 -11.3 -0.1zM756.7 975l11.3 14 6.4 -8.1 -11.3 -17.4z"/><path fill="#980e01" stroke="#980e01" stroke-width="0.6" d="M705.1 1017.8l11.3 -21.4 6.4 -23.9 -11.3 20.1z"/><path fill="#950d01" stroke="#950d01" stroke-width="0.6" d="M739 982.6l11.3 7.4 6.4 -15.1 -11.3 -7.6z"/><path fill="#880802" stroke="#880802" stroke-width="0.6" d="M716.4 996.3l11.3 -13.9 6.4 -17.1 -11.3 7zM727.7 982.5l11.3 0.1 6.4 -15.3 -11.3 -1.9z"/><path fill="#850702" stroke="#850702" stroke-width="0.6" d="M711.5 992.5l11.3 -20.1 6.4 -17.7 -11.3 16.2zM745.4 967.3l11.3 7.6 6.4 -11.5 -11.3 -9.4z"/><path fill="#7a0403" stroke="#7a0403" stroke-width="0.6" d="M722.8 972.4l11.3 -7 6.4 -14.3 -11.3 3.7zM734.1 965.4l11.3 1.9 6.4 -13.2 -11.3 -3.1z"/></g><path fill="none" stroke="#000" stroke-opacity="0.62" stroke-width="1.3" stroke-linejoin="round" d="M94.7 1580.9L101.1 1576.3 107.4 1571.9 113.8 1567.5 120.1 1563.2 126.5 1558.9 132.9 1554.6 139.2 1550.4 145.6 1546.2 151.9 1542 158.3 1538 164.7 1533.9 171 1529.7 177.4 1525.4 183.7 1520.9 190.1 1516.2 196.5 1511.1 202.8 1505.8 209.2 1500 215.5 1494 221.9 1487.8 228.3 1481.4 234.6 1474.9 241 1468.4 247.3 1462.1 253.7 1455.9 260.1 1449.6 266.4 1443 272.8 1436.1 279.1 1428.6 285.5 1420.4 291.9 1411.3 298.2 1401 304.6 1389.4 310.9 1376.8 317.3 1363.2 323.7 1348.8 330 1333.6 336.4 1317.9 342.7 1301.6 349.1 1284.7 355.5 1267.2 361.8 1249.4 368.2 1231.4 374.5 1213.3 380.9 1194.9 387.3 1176.2 393.6 1157.4 400 1139 406.3 1121.6 412.7 1105.5M106 1583.1L112.4 1578.5 118.7 1574 125.1 1569.7 131.4 1565.4 137.8 1561.1 144.2 1556.9 150.5 1552.7 156.9 1548.5 163.2 1544.4 169.6 1540.3 176 1536.2 182.3 1532 188.7 1527.7 195 1523.1 201.4 1518.4 207.8 1513.3 214.1 1508 220.5 1502.3 226.8 1496.2 233.2 1490 239.6 1483.6 245.9 1477.1 252.3 1470.6 258.6 1464.3 265 1458.1 271.4 1451.7 277.7 1445.2 284.1 1438.2 290.4 1430.6 296.8 1422.4 303.2 1413.2 309.5 1402.8 315.9 1391.2 322.2 1378.4 328.6 1364.8 335 1350.4 341.3 1335.3 347.7 1319.4 354 1302.9 360.4 1285.7 366.8 1267.8 373.1 1249.5 379.5 1230.9 385.8 1212.2 392.2 1193.5 398.6 1174.5 404.9 1155.7 411.3 1137.4 417.6 1120.2 424 1104.2M117.3 1585.2L123.7 1580.7 130 1576.2 136.4 1571.8 142.7 1567.5 149.1 1563.3 155.5 1559.1 161.8 1555 168.2 1550.8 174.5 1546.7 180.9 1542.6 187.3 1538.5 193.6 1534.2 200 1529.9 206.3 1525.3 212.7 1520.5 219.1 1515.5 225.4 1510.1 231.8 1504.4 238.1 1498.4 244.5 1492.2 250.9 1485.8 257.2 1479.4 263.6 1472.9 269.9 1466.5 276.3 1460.2 282.7 1453.8 289 1447.1 295.4 1440 301.7 1432.3 308.1 1423.9 314.5 1414.6 320.8 1404.1 327.2 1392.4 333.5 1379.6 339.9 1365.9 346.3 1351.5 352.6 1336.4 359 1320.4 365.3 1303.7 371.7 1286.3 378.1 1268 384.4 1248.9 390.8 1229.5 397.1 1210.1 403.5 1191 409.9 1172 416.2 1153.5 422.6 1135.7 428.9 1118.9 435.3 1103.1M128.6 1587.4L135 1582.8 141.3 1578.3 147.7 1574 154 1569.7 160.4 1565.5 166.8 1561.3 173.1 1557.2 179.5 1553.1 185.8 1549 192.2 1544.8 198.6 1540.6 204.9 1536.4 211.3 1532 217.6 1527.4 224 1522.6 230.4 1517.6 236.7 1512.2 243.1 1506.6 249.4 1500.7 255.8 1494.5 262.2 1488.1 268.5 1481.6 274.9 1475.1 281.2 1468.7 287.6 1462.3 294 1455.8 300.3 1449 306.7 1441.7 313 1433.8 319.4 1425.2 325.8 1415.6 332.1 1405 338.5 1393.3 344.8 1380.4 351.2 1366.6 357.6 1352 363.9 1336.7 370.3 1320.7 376.6 1304 383 1286.4 389.4 1267.6 395.7 1247.7 402.1 1227.3 408.4 1207.1 414.8 1187.8 421.2 1169.1 427.5 1151 433.9 1133.8 440.2 1117.5 446.6 1102.2M139.9 1589.4L146.3 1584.8 152.6 1580.4 159 1576 165.3 1571.7 171.7 1567.5 178.1 1563.4 184.4 1559.3 190.8 1555.2 197.1 1551.1 203.5 1546.9 209.9 1542.7 216.2 1538.4 222.6 1534 228.9 1529.4 235.3 1524.6 241.7 1519.6 248 1514.3 254.4 1508.8 260.7 1502.9 267.1 1496.8 273.5 1490.5 279.8 1484 286.2 1477.4 292.5 1471 298.9 1464.5 305.3 1457.9 311.6 1450.9 318 1443.4 324.3 1435.3 330.7 1426.4 337.1 1416.7 343.4 1406 349.8 1394.2 356.1 1381.4 362.5 1367.5 368.9 1352.6 375.2 1337 381.6 1320.9 387.9 1303.9 394.3 1285.8 400.7 1266.3 407 1245.5 413.4 1224.4 419.7 1204 426.1 1184.6 432.5 1166.2 438.8 1148.7 445.2 1132 451.5 1116.3 457.9 1101.3M151.2 1591.3L157.6 1586.8 163.9 1582.3 170.3 1578 176.6 1573.7 183 1569.5 189.4 1565.4 195.7 1561.3 202.1 1557.2 208.4 1553.1 214.8 1548.9 221.2 1544.7 227.5 1540.4 233.9 1535.9 240.2 1531.3 246.6 1526.6 253 1521.6 259.3 1516.4 265.7 1510.9 272 1505.1 278.4 1499.1 284.8 1492.9 291.1 1486.5 297.5 1480 303.8 1473.4 310.2 1466.8 316.6 1460 322.9 1452.9 329.3 1445.3 335.6 1437 342 1428.1 348.4 1418.2 354.7 1407.4 361.1 1395.6 367.4 1382.8 373.8 1368.8 380.2 1353.9 386.5 1338.2 392.9 1321.6 399.2 1303.9 405.6 1284.8 412 1264.2 418.3 1242.6 424.7 1221 431 1200.5 437.4 1181.4 443.8 1163.5 450.1 1146.6 456.5 1130.5 462.8 1115.2 469.2 1100.6M162.5 1593.2L168.9 1588.6 175.2 1584.2 181.6 1579.8 188 1575.6 194.3 1571.4 200.7 1567.2 207 1563.1 213.4 1559 219.8 1554.9 226.1 1550.7 232.5 1546.4 238.8 1542.1 245.2 1537.7 251.6 1533.1 257.9 1528.4 264.3 1523.4 270.6 1518.3 277 1512.9 283.4 1507.3 289.7 1501.4 296.1 1495.4 302.4 1489.1 308.8 1482.6 315.2 1476 321.5 1469.3 327.9 1462.3 334.2 1455 340.6 1447.3 347 1438.9 353.3 1429.9 359.7 1420.1 366 1409.4 372.4 1397.6 378.8 1384.8 385.1 1370.9 391.5 1355.9 397.8 1339.9 404.2 1322.8 410.6 1304.5 416.9 1284.5 423.3 1262.7 429.6 1240 436 1217.7 442.4 1197.2 448.7 1178.4 455.1 1161 461.4 1144.7 467.8 1129.1 474.2 1114.2 480.5 1100M173.8 1595L180.2 1590.4 186.5 1586 192.9 1581.6 199.3 1577.3 205.6 1573.1 212 1569 218.3 1564.8 224.7 1560.7 231.1 1556.5 237.4 1552.3 243.8 1548.1 250.1 1543.7 256.5 1539.3 262.9 1534.7 269.2 1530 275.6 1525.1 281.9 1520 288.3 1514.7 294.7 1509.3 301 1503.6 307.4 1497.7 313.7 1491.5 320.1 1485.1 326.5 1478.5 332.8 1471.6 339.2 1464.6 345.5 1457.2 351.9 1449.4 358.3 1441 364.6 1432.1 371 1422.3 377.3 1411.7 383.7 1400.1 390.1 1387.4 396.4 1373.6 402.8 1358.5 409.1 1342.3 415.5 1324.8 421.9 1305.9 428.2 1285.1 434.6 1262.2 440.9 1238.3 447.3 1215.4 453.7 1194.7 460 1176 466.4 1158.9 472.7 1142.9 479.1 1127.7 485.5 1113.3 491.8 1099.5M185.1 1596.7L191.5 1592.2 197.8 1587.7 204.2 1583.3 210.6 1579 216.9 1574.8 223.3 1570.6 229.6 1566.4 236 1562.2 242.4 1558 248.7 1553.8 255.1 1549.5 261.4 1545.1 267.8 1540.7 274.2 1536.1 280.5 1531.4 286.9 1526.5 293.2 1521.5 299.6 1516.4 306 1511 312.3 1505.5 318.7 1499.8 325 1493.7 331.4 1487.3 337.8 1480.7 344.1 1473.9 350.5 1466.8 356.8 1459.4 363.2 1451.6 369.6 1443.3 375.9 1434.4 382.3 1424.9 388.6 1414.6 395 1403.3 401.4 1390.9 407.7 1377.2 414.1 1362.1 420.4 1345.7 426.8 1327.8 433.2 1308.2 439.5 1286.6 445.9 1262.9 452.2 1238.3 458.6 1214.8 465 1193.9 471.3 1174.9 477.7 1157.5 484 1141.6 490.4 1126.7 496.8 1112.6 503.1 1099.1M196.4 1598.4L202.8 1593.8 209.1 1589.3 215.5 1585 221.9 1580.6 228.2 1576.3 234.6 1572.1 240.9 1567.9 247.3 1563.6 253.7 1559.4 260 1555.1 266.4 1550.7 272.7 1546.3 279.1 1541.8 285.5 1537.3 291.8 1532.5 298.2 1527.7 304.5 1522.8 310.9 1517.7 317.3 1512.4 323.6 1507 330 1501.3 336.3 1495.4 342.7 1489.1 349.1 1482.6 355.4 1475.9 361.8 1468.9 368.1 1461.6 374.5 1453.9 380.9 1445.8 387.2 1437.1 393.6 1427.9 399.9 1418 406.3 1407.3 412.7 1395.3 419 1382 425.4 1367.2 431.7 1350.7 438.1 1332.3 444.5 1312 450.8 1289.6 457.2 1265.5 463.5 1240.7 469.9 1216.9 476.3 1195.2 482.6 1175.3 489 1157.3 495.3 1141.1 501.7 1126.3 508.1 1112.3 514.4 1098.9M207.7 1600L214.1 1595.4 220.4 1590.9 226.8 1586.5 233.2 1582.2 239.5 1577.8 245.9 1573.5 252.2 1569.2 258.6 1564.9 265 1560.6 271.3 1556.2 277.7 1551.8 284 1547.3 290.4 1542.8 296.8 1538.2 303.1 1533.4 309.5 1528.6 315.8 1523.7 322.2 1518.6 328.6 1513.4 334.9 1508.1 341.3 1502.5 347.6 1496.7 354 1490.6 360.4 1484.3 366.7 1477.7 373.1 1470.9 379.4 1463.8 385.8 1456.3 392.2 1448.4 398.5 1440.1 404.9 1431.3 411.2 1422 417.6 1411.8 424 1400.5 430.3 1387.9 436.7 1373.5 443 1357.1 449.4 1338.6 455.8 1317.7 462.1 1294.6 468.5 1270.1 474.8 1245.3 481.2 1221.2 487.6 1198.5 493.9 1177.5 500.3 1158.6 506.6 1141.8 513 1126.7 519.4 1112.6 525.7 1099M219 1601.6L225.4 1597 231.7 1592.5 238.1 1588.1 244.5 1583.6 250.8 1579.3 257.2 1574.9 263.5 1570.5 269.9 1566.1 276.3 1561.6 282.6 1557.2 289 1552.7 295.3 1548.1 301.7 1543.5 308.1 1538.8 314.4 1534.1 320.8 1529.2 327.1 1524.3 333.5 1519.3 339.9 1514.1 346.2 1508.8 352.6 1503.3 358.9 1497.6 365.3 1491.7 371.7 1485.6 378 1479.2 384.4 1472.6 390.7 1465.8 397.1 1458.6 403.5 1451.1 409.8 1443.2 416.2 1435 422.5 1426.3 428.9 1416.7 435.3 1406.2 441.6 1394.3 448 1380.7 454.3 1364.9 460.7 1346.5 467.1 1325.1 473.4 1301.3 479.8 1276.3 486.1 1251.2 492.5 1226.9 498.9 1203.4 505.2 1181.5 511.6 1161.6 517.9 1144 524.3 1128.1 530.7 1113.2 537 1099.1M230.3 1603.2L236.7 1598.6 243 1594.1 249.4 1589.6 255.8 1585.1 262.1 1580.6 268.5 1576.2 274.8 1571.7 281.2 1567.2 287.6 1562.6 293.9 1558 300.3 1553.4 306.6 1548.7 313 1544 319.4 1539.3 325.7 1534.5 332.1 1529.6 338.4 1524.6 344.8 1519.6 351.2 1514.5 357.5 1509.2 363.9 1503.8 370.2 1498.2 376.6 1492.5 383 1486.5 389.3 1480.4 395.7 1474.1 402 1467.5 408.4 1460.7 414.8 1453.6 421.1 1446.2 427.5 1438.5 433.8 1430.3 440.2 1421.5 446.6 1411.8 452.9 1400.8 459.3 1388.1 465.6 1373.2 472 1355.3 478.4 1333.8 484.7 1309.3 491.1 1283.4 497.4 1258.1 503.8 1233.1 510.2 1209.3 516.5 1187 522.9 1166.3 529.2 1147.4 535.6 1130.1 542 1114.1 548.3 1099.1M241.6 1604.9L248 1600.3 254.3 1595.7 260.7 1591.2 267.1 1586.6 273.4 1582 279.8 1577.4 286.1 1572.8 292.5 1568.2 298.9 1563.5 305.2 1558.7 311.6 1554 317.9 1549.2 324.3 1544.4 330.7 1539.5 337 1534.6 343.4 1529.7 349.7 1524.7 356.1 1519.6 362.5 1514.5 368.8 1509.3 375.2 1503.9 381.5 1498.5 387.9 1492.9 394.3 1487.1 400.6 1481.2 407 1475.1 413.3 1468.9 419.7 1462.4 426.1 1455.6 432.4 1448.6 438.8 1441.3 445.1 1433.7 451.5 1425.7 457.9 1416.8 464.2 1406.7 470.6 1395 476.9 1381.1 483.3 1364.2 489.7 1343.6 496 1319.1 502.4 1292.9 508.7 1266.8 515.1 1241 521.5 1216.3 527.8 1193 534.2 1171.2 540.5 1150.9 546.9 1132.1 553.3 1114.7 559.6 1098.6M252.9 1606.7L259.3 1602 265.6 1597.4 272 1592.8 278.4 1588.1 284.7 1583.5 291.1 1578.7 297.4 1573.9 303.8 1569.1 310.2 1564.3 316.5 1559.4 322.9 1554.4 329.2 1549.5 335.6 1544.5 342 1539.5 348.3 1534.5 354.7 1529.4 361 1524.4 367.4 1519.3 373.8 1514.2 380.1 1509 386.5 1503.7 392.8 1498.4 399.2 1492.9 405.6 1487.3 411.9 1481.6 418.3 1475.8 424.6 1469.8 431 1463.6 437.4 1457.2 443.7 1450.6 450.1 1443.8 456.4 1436.7 462.8 1429.2 469.2 1420.8 475.5 1411.3 481.9 1400.4 488.2 1387.5 494.6 1372 501 1352.7 507.3 1328.9 513.7 1302.7 520 1275.7 526.4 1249.1 532.8 1223.3 539.1 1198.5 545.5 1175.1 551.8 1153.5 558.2 1133.5 564.6 1114.8 570.9 1097.6M264.2 1608.7L270.6 1604 277 1599.3 283.3 1594.5 289.7 1589.8 296 1584.9 302.4 1580 308.8 1575.1 315.1 1570 321.5 1565 327.8 1559.9 334.2 1554.7 340.5 1549.6 346.9 1544.4 353.3 1539.3 359.6 1534.1 366 1529 372.4 1523.8 378.7 1518.7 385.1 1513.5 391.4 1508.4 397.8 1503.2 404.1 1497.9 410.5 1492.5 416.9 1487.1 423.2 1481.6 429.6 1475.9 435.9 1470.1 442.3 1464.2 448.7 1458.2 455 1452 461.4 1445.6 467.8 1438.9 474.1 1431.5 480.5 1423.4 486.8 1414.1 493.2 1403.5 499.5 1391 505.9 1376.1 512.3 1357.8 518.6 1334.7 525 1308.7 531.4 1281.6 537.7 1254.4 544.1 1227.8 550.4 1202.4 556.8 1178.3 563.1 1155.6 569.5 1134.2 575.9 1114.3 582.2 1096.2M275.5 1610.9L281.9 1606.1 288.3 1601.3 294.6 1596.4 301 1591.5 307.3 1586.5 313.7 1581.3 320.1 1576.2 326.4 1570.9 332.8 1565.6 339.1 1560.3 345.5 1554.9 351.9 1549.5 358.2 1544.2 364.6 1538.8 370.9 1533.5 377.3 1528.2 383.7 1523 390 1517.8 396.4 1512.6 402.7 1507.4 409.1 1502.2 415.5 1497 421.8 1491.7 428.2 1486.4 434.5 1481.1 440.9 1475.5 447.3 1469.9 453.6 1464.2 460 1458.3 466.3 1452.4 472.7 1446.3 479.1 1439.6 485.4 1432.4 491.8 1424.2 498.1 1414.9 504.5 1404.1 510.9 1391.4 517.2 1376.2 523.6 1357.9 529.9 1336.2 536.3 1311.4 542.7 1284.5 549 1256.8 555.4 1229.7 561.7 1204.1 568.1 1179.8 574.5 1156.3 580.8 1133.7 587.2 1112.8 593.5 1093.9M286.8 1613.4L293.2 1608.5 299.6 1603.5 305.9 1598.4 312.3 1593.3 318.6 1588.1 325 1582.7 331.4 1577.3 337.7 1571.8 344.1 1566.2 350.4 1560.6 356.8 1555 363.2 1549.4 369.5 1543.8 375.9 1538.2 382.2 1532.7 388.6 1527.2 395 1521.9 401.3 1516.6 407.7 1511.3 414 1506.1 420.4 1500.9 426.8 1495.7 433.1 1490.5 439.5 1485.3 445.8 1480.1 452.2 1474.7 458.6 1469.1 464.9 1463.5 471.3 1457.8 477.6 1452 484 1445.9 490.4 1439.3 496.7 1432 503.1 1423.6 509.4 1414.1 515.8 1402.9 522.2 1389.9 528.5 1374.5 534.9 1356.5 541.2 1335.5 547.6 1311.4 554 1284.6 560.3 1256.4 566.7 1228.8 573 1202.9 579.4 1178.4 585.8 1154.6 592.1 1131.5 598.5 1109.7 604.8 1090M298.1 1615.9L304.5 1610.9 310.9 1605.8 317.2 1600.6 323.6 1595.2 329.9 1589.7 336.3 1584.1 342.7 1578.4 349 1572.7 355.4 1566.8 361.7 1560.9 368.1 1555 374.5 1549.1 380.8 1543.2 387.2 1537.4 393.5 1531.6 399.9 1526 406.3 1520.5 412.6 1515.1 419 1509.7 425.3 1504.4 431.7 1499.1 438.1 1493.9 444.4 1488.8 450.8 1483.7 457.1 1478.6 463.5 1473.3 469.9 1467.9 476.2 1462.3 482.6 1456.7 488.9 1450.9 495.3 1444.8 501.7 1438.1 508 1430.5 514.4 1421.9 520.7 1412 527.1 1400.5 533.5 1387.2 539.8 1371.8 546.2 1354.1 552.5 1333.6 558.9 1309.8 565.3 1282.7 571.6 1253.8 578 1225.4 584.3 1198.8 590.7 1174.1 597.1 1150.7 603.4 1127.6 609.8 1105.1 616.1 1084.4M309.4 1618.6L315.8 1613.5 322.2 1608.3 328.5 1602.8 334.9 1597.2 341.2 1591.5 347.6 1585.6 354 1579.6 360.3 1573.5 366.7 1567.4 373 1561.2 379.4 1555 385.8 1548.8 392.1 1542.5 398.5 1536.4 404.8 1530.3 411.2 1524.5 417.6 1518.8 423.9 1513.3 430.3 1507.8 436.6 1502.4 443 1497 449.4 1491.8 455.7 1486.6 462.1 1481.6 468.4 1476.5 474.8 1471.3 481.2 1466 487.5 1460.6 493.9 1455 500.2 1449.2 506.6 1443 513 1436.1 519.3 1428.4 525.7 1419.5 532 1409.2 538.4 1397.4 544.8 1383.8 551.1 1368.5 557.5 1351.1 563.8 1330.9 570.2 1307.1 576.6 1279.5 582.9 1249.9 589.3 1220.6 595.6 1193.1 602 1168.6 608.4 1145.5 614.7 1122 621.1 1098.4 627.4 1076.7M320.7 1621.4L327.1 1616.2 333.5 1610.8 339.8 1605.1 346.2 1599.2 352.5 1593.2 358.9 1587 365.3 1580.8 371.6 1574.4 378 1568 384.3 1561.5 390.7 1554.9 397.1 1548.4 403.4 1541.8 409.8 1535.3 416.1 1528.9 422.5 1522.8 428.9 1516.9 435.2 1511.2 441.6 1505.6 447.9 1500 454.3 1494.6 460.7 1489.3 467 1484.1 473.4 1479 479.7 1474 486.1 1468.8 492.5 1463.6 498.8 1458.3 505.2 1452.8 511.5 1446.9 517.9 1440.6 524.3 1433.7 530.6 1425.8 537 1416.7 543.3 1406.3 549.7 1394.2 556.1 1380.4 562.4 1364.9 568.8 1347.4 575.1 1327.2 581.5 1303.4 587.9 1275.5 594.2 1245.3 600.6 1214.9 606.9 1187.1 613.3 1162.5 619.7 1138.7 626 1113.7 632.4 1088.8 638.7 1066.9M332 1624.3L338.4 1619 344.8 1613.4 351.1 1607.4 357.5 1601.3 363.8 1595 370.2 1588.5 376.6 1581.9 382.9 1575.2 389.3 1568.5 395.6 1561.7 402 1554.8 408.4 1548 414.7 1541.1 421.1 1534.3 427.4 1527.6 433.8 1521.1 440.2 1514.9 446.5 1508.9 452.9 1503.1 459.2 1497.4 465.6 1491.8 472 1486.5 478.3 1481.2 484.7 1476.1 491 1471.1 497.4 1466 503.8 1460.9 510.1 1455.6 516.5 1450.1 522.8 1444.2 529.2 1437.9 535.6 1430.9 541.9 1423 548.3 1413.9 554.6 1403.4 561 1391.1 567.4 1377.1 573.7 1361.3 580.1 1343.3 586.4 1322.6 592.8 1298.5 599.2 1270.5 605.5 1239.3 611.9 1208 618.2 1180.1 624.6 1154.8 631 1128.8 637.3 1101.4 643.7 1076.5 650 1056.1M343.3 1627.3L349.7 1621.8 356.1 1615.9 362.4 1609.7 368.8 1603.3 375.1 1596.7 381.5 1590 387.9 1583.1 394.2 1576.1 400.6 1569 406.9 1561.9 413.3 1554.7 419.7 1547.6 426 1540.4 432.4 1533.2 438.7 1526.2 445.1 1519.4 451.5 1512.8 457.8 1506.5 464.2 1500.4 470.5 1494.5 476.9 1488.9 483.3 1483.4 489.6 1478.1 496 1473 502.3 1467.9 508.7 1462.9 515.1 1457.8 521.4 1452.5 527.8 1447.1 534.1 1441.2 540.5 1434.9 546.9 1428 553.2 1420.2 559.6 1411.2 565.9 1400.8 572.3 1388.6 578.7 1374.4 585 1358.1 591.4 1339.4 597.7 1318.1 604.1 1293.8 610.5 1265.1 616.8 1232.4 623.2 1200 629.5 1171.9 635.9 1144.6 642.3 1114.8 648.6 1086.2 655 1063.3 661.3 1045.6M354.6 1630L361 1624.4 367.4 1618.4 373.7 1612 380.1 1605.3 386.4 1598.5 392.8 1591.4 399.2 1584.2 405.5 1576.9 411.9 1569.5 418.2 1562.1 424.6 1554.6 431 1547.1 437.3 1539.6 443.7 1532.1 450 1524.8 456.4 1517.7 462.8 1510.8 469.1 1504.1 475.5 1497.7 481.8 1491.6 488.2 1485.8 494.6 1480.2 500.9 1474.9 507.3 1469.7 513.6 1464.7 520 1459.6 526.4 1454.6 532.7 1449.3 539.1 1443.9 545.4 1438.1 551.8 1431.8 558.2 1424.9 564.5 1417.2 570.9 1408.6 577.2 1398.5 583.6 1386.4 590 1372.1 596.3 1355.6 602.7 1336.5 609 1314.9 615.4 1290 621.8 1259.4 628.1 1224 634.5 1191.1 640.8 1161.9 647.2 1130.8 653.6 1097.7 659.9 1071 666.3 1051.7 672.6 1035.9M365.9 1632.5L372.3 1626.8 378.7 1620.7 385 1614.2 391.4 1607.3 397.7 1600.2 404.1 1592.8 410.5 1585.3 416.8 1577.7 423.2 1570 429.5 1562.3 435.9 1554.5 442.3 1546.7 448.6 1538.8 455 1531 461.3 1523.4 467.7 1515.9 474.1 1508.7 480.4 1501.7 486.8 1495 493.1 1488.7 499.5 1482.7 505.9 1477 512.2 1471.6 518.6 1466.4 524.9 1461.4 531.3 1456.4 537.7 1451.4 544 1446.2 550.4 1440.7 556.7 1434.9 563.1 1428.6 569.5 1421.8 575.8 1414.2 582.2 1405.8 588.5 1396 594.9 1384.2 601.3 1370.1 607.6 1353.6 614 1334.5 620.3 1312.5 626.7 1286 633.1 1252 639.4 1213.3 645.8 1179.9 652.1 1148.2 658.5 1112.2 664.9 1080.5 671.2 1058.9 677.6 1042.6 683.9 1026.9M377.2 1635.2L383.6 1629.3 390 1623.1 396.3 1616.4 402.7 1609.3 409 1601.9 415.4 1594.3 421.8 1586.5 428.1 1578.6 434.5 1570.6 440.8 1562.5 447.2 1554.4 453.6 1546.3 459.9 1538.1 466.3 1530 472.6 1522.1 479 1514.3 485.4 1506.8 491.7 1499.5 498.1 1492.5 504.4 1485.9 510.8 1479.7 517.2 1473.9 523.5 1468.5 529.9 1463.3 536.2 1458.4 542.6 1453.5 549 1448.5 555.3 1443.3 561.7 1437.8 568 1432 574.4 1425.7 580.8 1418.9 587.1 1411.4 593.5 1403.1 599.8 1393.6 606.2 1382.3 612.6 1368.5 618.9 1352.2 625.3 1332.9 631.6 1310.1 638 1281.5 644.4 1243.9 650.7 1203.2 657.1 1168.3 663.4 1131.6 669.8 1093.7 676.2 1066.8 682.5 1048.7 688.9 1033.3 695.2 1016.1M388.6 1638L394.9 1632 401.3 1625.6 407.6 1618.7 414 1611.4 420.4 1603.8 426.7 1595.8 433.1 1587.7 439.4 1579.5 445.8 1571.1 452.2 1562.8 458.5 1554.4 464.9 1546 471.2 1537.6 477.6 1529.3 484 1521.1 490.3 1513 496.7 1505.1 503 1497.5 509.4 1490.3 515.8 1483.4 522.1 1477 528.5 1471.1 534.8 1465.7 541.2 1460.6 547.6 1455.7 553.9 1450.9 560.3 1446 566.6 1440.9 573 1435.5 579.4 1429.7 585.7 1423.4 592.1 1416.7 598.4 1409.3 604.8 1401.3 611.2 1392 617.5 1380.9 623.9 1367.6 630.2 1351.6 636.6 1332.3 643 1309 649.3 1278.6 655.7 1239.4 662 1198.2 668.4 1159.6 674.8 1117.8 681.1 1080.9 687.5 1056 693.8 1036.6 700.2 1016.7 706.6 995.5M399.9 1641L406.2 1634.9 412.6 1628.4 418.9 1621.3 425.3 1613.7 431.7 1605.8 438 1597.5 444.4 1589.1 450.7 1580.5 457.1 1571.9 463.5 1563.3 469.8 1554.6 476.2 1546 482.5 1537.4 488.9 1528.9 495.3 1520.4 501.6 1512.1 508 1504 514.3 1496.1 520.7 1488.5 527.1 1481.3 533.4 1474.7 539.8 1468.7 546.1 1463.4 552.5 1458.4 558.9 1453.7 565.2 1449.1 571.6 1444.3 577.9 1439.2 584.3 1433.9 590.7 1428.2 597 1422.1 603.4 1415.5 609.7 1408.3 616.1 1400.3 622.5 1391 628.8 1380.1 635.2 1367.2 641.5 1351.9 647.9 1333.5 654.3 1310.2 660.6 1280.1 667 1240.8 673.3 1198.7 679.7 1155.9 686.1 1108.7 692.4 1071 698.8 1043.5 705.1 1017.8 711.5 992.5 717.9 971M411.2 1644.2L417.5 1638.1 423.9 1631.3 430.2 1624 436.6 1616.2 443 1608 449.3 1599.4 455.7 1590.7 462 1581.8 468.4 1572.9 474.8 1564.1 481.1 1555.2 487.5 1546.4 493.8 1537.7 500.2 1528.9 506.6 1520.3 512.9 1511.8 519.3 1503.4 525.6 1495.3 532 1487.4 538.4 1480 544.7 1473.1 551.1 1467 557.4 1461.8 563.8 1457.1 570.2 1452.5 576.5 1448.1 582.9 1443.4 589.2 1438.5 595.6 1433.3 602 1427.7 608.3 1421.8 614.7 1415.3 621 1408 627.4 1399.9 633.8 1390.5 640.1 1379.6 646.5 1366.8 652.8 1351.7 659.2 1333.9 665.6 1312 671.9 1282.7 678.3 1244.4 684.6 1201.1 691 1153 697.4 1099.9 703.7 1060.6 710.1 1027.3 716.4 996.3 722.8 972.4 729.2 954.7M422.5 1647.6L428.8 1641.5 435.2 1634.5 441.5 1626.9 447.9 1618.8 454.3 1610.4 460.6 1601.6 467 1592.6 473.3 1583.5 479.7 1574.3 486.1 1565.3 492.4 1556.3 498.8 1547.4 505.1 1538.4 511.5 1529.6 517.9 1520.8 524.2 1512.2 530.6 1503.7 536.9 1495.4 543.3 1487.4 549.7 1479.7 556 1472.6 562.4 1466.4 568.7 1461.3 575.1 1456.7 581.5 1452.3 587.8 1448 594.2 1443.5 600.5 1438.7 606.9 1433.7 613.3 1428.2 619.6 1422.3 626 1415.7 632.3 1408.2 638.7 1399.7 645.1 1390 651.4 1378.9 657.8 1366.2 664.1 1351.4 670.5 1334.4 676.9 1313.7 683.2 1286 689.6 1247.3 695.9 1201.3 702.3 1146.8 708.7 1090 715 1049.6 721.4 1012.9 727.7 982.5 734.1 965.4 740.5 951M433.8 1651.2L440.1 1644.9 446.5 1637.7 452.8 1629.9 459.2 1621.6 465.6 1613 471.9 1604 478.3 1594.8 484.6 1585.5 491 1576.3 497.4 1567.1 503.7 1557.9 510.1 1548.9 516.4 1539.8 522.8 1530.9 529.2 1522.1 535.5 1513.3 541.9 1504.8 548.2 1496.5 554.6 1488.5 561 1480.9 567.3 1473.9 573.7 1467.6 580 1462.3 586.4 1457.5 592.8 1453.1 599.1 1448.9 605.5 1444.5 611.8 1439.9 618.2 1434.9 624.6 1429.5 630.9 1423.4 637.3 1416.6 643.6 1408.8 650 1399.8 656.4 1389.5 662.7 1377.8 669.1 1364.6 675.4 1349.9 681.8 1332.9 688.2 1311.9 694.5 1284.8 700.9 1246.3 707.2 1198.6 713.6 1139.8 720 1082.5 726.3 1041.8 732.7 1007.9 739 982.6 745.4 967.3 751.8 954.1M445.1 1654.4L451.4 1648 457.8 1640.8 464.1 1632.9 470.5 1624.5 476.9 1615.7 483.2 1606.6 489.6 1597.4 495.9 1588 502.3 1578.6 508.7 1569.3 515 1560.1 521.4 1550.9 527.7 1541.9 534.1 1532.9 540.5 1524.1 546.8 1515.4 553.2 1506.8 559.5 1498.6 565.9 1490.6 572.3 1483.1 578.6 1476.2 585 1469.9 591.3 1464.3 597.7 1459.4 604.1 1455 610.4 1450.7 616.8 1446.4 623.1 1441.8 629.5 1436.9 635.9 1431.4 642.2 1425.2 648.6 1418 654.9 1409.7 661.3 1400.1 667.7 1389 674 1376.2 680.4 1361.9 686.7 1346 693.1 1328 699.5 1305.4 705.8 1276.8 712.2 1240.3 718.5 1191.3 724.9 1134.4 731.3 1082.2 737.6 1042.2 744 1011.9 750.3 990.1 756.7 975 763.1 963.5M456.4 1657.2L462.7 1650.9 469.1 1643.7 475.4 1635.8 481.8 1627.4 488.2 1618.6 494.5 1609.5 500.9 1600.1 507.2 1590.7 513.6 1581.3 520 1571.9 526.3 1562.7 532.7 1553.5 539 1544.5 545.4 1535.6 551.8 1526.8 558.1 1518.1 564.5 1509.7 570.8 1501.5 577.2 1493.6 583.6 1486.1 589.9 1479.1 596.3 1472.8 602.6 1467.2 609 1462.3 615.4 1457.8 621.7 1453.5 628.1 1449.1 634.4 1444.5 640.8 1439.5 647.2 1433.9 653.5 1427.5 659.9 1420 666.2 1411.2 672.6 1400.8 679 1388.7 685.3 1374.8 691.7 1359.1 698 1341.9 704.4 1322 710.8 1297.5 717.1 1267.1 723.5 1228.9 729.8 1181.3 736.2 1133.1 742.6 1087.7 748.9 1049.7 755.3 1021.8 761.6 1002.2 768 989 774.4 980.9M467.7 1660.3L474 1653.8 480.4 1646.7 486.7 1638.9 493.1 1630.5 499.5 1621.7 505.8 1612.5 512.2 1603.2 518.5 1593.7 524.9 1584.3 531.3 1575 537.6 1565.8 544 1556.7 550.3 1547.7 556.7 1538.9 563.1 1530.2 569.4 1521.7 575.8 1513.4 582.1 1505.3 588.5 1497.4 594.9 1489.9 601.2 1482.9 607.6 1476.5 613.9 1470.9 620.3 1466 626.7 1461.5 633 1457.1 639.4 1452.7 645.7 1448 652.1 1442.9 658.5 1437.1 664.8 1430.4 671.2 1422.5 677.5 1413.2 683.9 1402.1 690.3 1389.1 696.6 1374 703 1356.9 709.3 1337.8 715.7 1315.6 722.1 1288.7 728.4 1255.8 734.8 1216.3 741.1 1173.8 747.5 1133.2 753.9 1094.3 760.2 1060.4 766.6 1035.6 772.9 1019.2 779.3 1009 785.7 1003M479 1663.5L485.3 1657.1 491.7 1649.9 498 1642.1 504.4 1633.8 510.8 1625 517.1 1615.8 523.5 1606.5 529.8 1597.1 536.2 1587.7 542.6 1578.4 548.9 1569.3 555.3 1560.3 561.6 1551.5 568 1542.9 574.4 1534.4 580.7 1526 587.1 1517.8 593.4 1509.9 599.8 1502.2 606.2 1494.8 612.5 1487.8 618.9 1481.5 625.2 1475.8 631.6 1470.8 638 1466.1 644.3 1461.6 650.7 1457 657 1452.1 663.4 1446.9 669.8 1440.9 676.1 1433.9 682.5 1425.7 688.8 1415.8 695.2 1404 701.6 1390 707.9 1373.6 714.3 1354.6 720.6 1333.2 727 1308.7 733.4 1279.8 739.7 1245.7 746.1 1206.7 752.4 1168.1 758.8 1133.7 765.2 1100.8 771.5 1072 777.9 1051.7 784.2 1039.7 790.6 1032.1 797 1027.1M490.3 1667.1L496.6 1660.6 503 1653.4 509.3 1645.6 515.7 1637.3 522.1 1628.5 528.4 1619.4 534.8 1610.1 541.1 1600.7 547.5 1591.4 553.9 1582.2 560.2 1573.2 566.6 1564.4 572.9 1555.9 579.3 1547.4 585.7 1539.1 592 1531 598.4 1523 604.8 1515.2 611.1 1507.7 617.5 1500.5 623.8 1493.7 630.2 1487.4 636.5 1481.7 642.9 1476.5 649.3 1471.7 655.6 1466.9 662 1462.1 668.3 1457 674.7 1451.5 681.1 1445.3 687.4 1438.1 693.8 1429.4 700.1 1418.9 706.5 1406.4 712.9 1391.6 719.2 1373.9 725.6 1352.9 731.9 1328.7 738.3 1301.7 744.7 1271.6 751 1238 757.4 1202.1 763.8 1167.2 770.1 1135.9 776.5 1107.7 782.8 1084.8 789.2 1069.7 795.5 1061.4 801.9 1055.7 808.3 1051.3M501.6 1670.8L507.9 1664.3 514.3 1657.2 520.7 1649.4 527 1641 533.4 1632.2 539.7 1623.2 546.1 1613.9 552.5 1604.6 558.8 1595.3 565.2 1586.2 571.5 1577.5 577.9 1569.1 584.3 1560.8 590.6 1552.6 597 1544.5 603.3 1536.5 609.7 1528.7 616.1 1521.2 622.4 1513.9 628.8 1506.9 635.1 1500.3 641.5 1494 647.9 1488.3 654.2 1482.9 660.6 1477.8 666.9 1472.8 673.3 1467.8 679.7 1462.5 686 1456.8 692.4 1450.3 698.7 1442.7 705.1 1433.6 711.5 1422.5 717.8 1409.3 724.2 1393.6 730.5 1375 736.9 1352.6 743.3 1326.7 749.6 1298.5 756 1268.5 762.3 1236.6 768.7 1203.6 775.1 1170.5 781.4 1139.5 787.8 1114.6 794.1 1098.2 800.5 1088.1 806.9 1082.1 813.2 1077.7 819.6 1074M512.9 1674.6L519.2 1668.2 525.6 1661 532 1653.2 538.3 1644.9 544.7 1636.1 551 1627.2 557.4 1618 563.8 1608.8 570.1 1599.6 576.5 1590.7 582.8 1582.4 589.2 1574.3 595.6 1566.2 601.9 1558.2 608.3 1550.3 614.6 1542.5 621 1535 627.4 1527.6 633.7 1520.5 640.1 1513.7 646.4 1507.1 652.8 1501 659.2 1495.1 665.5 1489.6 671.9 1484.2 678.2 1479 684.6 1473.7 691 1468.2 697.3 1462.2 703.7 1455.5 710 1447.6 716.4 1438 722.8 1426.4 729.1 1412.6 735.5 1396.2 741.8 1376.7 748.2 1353.9 754.6 1328.1 760.9 1300.2 767.3 1270.7 773.6 1240.4 780 1209.5 786.4 1178.6 792.7 1149.3 799.1 1126.5 805.4 1114.3 811.8 1107.6 818.2 1103 824.5 1099 830.9 1095.6M524.2 1678.4L530.5 1672 536.9 1664.7 543.3 1656.9 549.6 1648.7 556 1640.2 562.3 1631.4 568.7 1622.5 575.1 1613.5 581.4 1604.7 587.8 1596.1 594.1 1588 600.5 1580.1 606.9 1572 613.2 1564.1 619.6 1556.4 625.9 1548.8 632.3 1541.5 638.7 1534.4 645 1527.4 651.4 1520.7 657.7 1514.2 664.1 1508 670.5 1502 676.8 1496.3 683.2 1490.7 689.5 1485.1 695.9 1479.5 702.3 1473.7 708.6 1467.4 715 1460.4 721.3 1452.1 727.7 1442.2 734.1 1430.3 740.4 1416.1 746.8 1399.4 753.1 1379.6 759.5 1356.7 765.9 1331.1 772.2 1303.7 778.6 1275.3 784.9 1246.8 791.3 1218.6 797.7 1191.4 804 1166.2 810.4 1146.4 816.7 1134.4 823.1 1127.6 829.5 1122.8 835.8 1118.8 842.2 1115.7M535.5 1681.4L541.8 1675.1 548.2 1668.1 554.6 1660.5 560.9 1652.5 567.3 1644.2 573.6 1635.7 580 1627.1 586.4 1618.5 592.7 1610 599.1 1601.8 605.4 1594 611.8 1586 618.2 1578 624.5 1570.2 630.9 1562.7 637.2 1555.3 643.6 1548.2 650 1541.3 656.3 1534.5 662.7 1527.9 669 1521.4 675.4 1515.1 681.8 1508.9 688.1 1502.9 694.5 1497 700.8 1491.1 707.2 1485.1 713.6 1478.9 719.9 1472.2 726.3 1464.8 732.6 1456.2 739 1446.2 745.4 1434.1 751.7 1420 758.1 1403.3 764.4 1383.7 770.8 1360.7 777.2 1335 783.5 1307.9 789.9 1280.9 796.2 1254.4 802.6 1229 809 1205.5 815.3 1184.6 821.7 1167.3 828 1154.7 834.4 1146.3 840.8 1140.6 847.1 1136.9 853.5 1134.8M546.8 1683.8L553.1 1677.8 559.5 1671.1 565.9 1663.9 572.2 1656.2 578.6 1648.2 584.9 1640 591.3 1631.8 597.7 1623.5 604 1615.3 610.4 1607.3 616.7 1599.5 623.1 1591.7 629.5 1583.8 635.8 1576.2 642.2 1569 648.5 1561.9 654.9 1555.1 661.3 1548.3 667.6 1541.6 674 1535 680.3 1528.5 686.7 1522 693.1 1515.6 699.4 1509.3 705.8 1503 712.1 1496.7 718.5 1490.2 724.9 1483.6 731.2 1476.4 737.6 1468.7 743.9 1460 750.3 1449.8 756.7 1437.8 763 1423.9 769.4 1407.7 775.7 1388.8 782.1 1366.4 788.5 1341.1 794.8 1314.6 801.2 1288.7 807.5 1263.7 813.9 1240.5 820.3 1219.7 826.6 1201.9 833 1186.7 839.3 1174.4 845.7 1165.3 852.1 1159 858.4 1155.9 864.8 1155.4M558.1 1686.3L564.4 1680.4 570.8 1674 577.2 1667.1 583.5 1659.8 589.9 1652.2 596.2 1644.3 602.6 1636.4 609 1628.4 615.3 1620.5 621.7 1612.7 628 1604.9 634.4 1597.2 640.8 1589.6 647.1 1582.3 653.5 1575.3 659.8 1568.6 666.2 1561.9 672.6 1555.4 678.9 1548.8 685.3 1542.2 691.6 1535.5 698 1528.8 704.4 1522.1 710.7 1515.4 717.1 1508.8 723.4 1502 729.8 1495.1 736.2 1487.8 742.5 1480.2 748.9 1472 755.2 1463 761.6 1452.7 768 1440.9 774.3 1427.5 780.7 1412.2 787 1394.5 793.4 1373.5 799.8 1349.5 806.1 1324.2 812.5 1299.4 818.8 1275.8 825.2 1253.8 831.6 1234.9 837.9 1219 844.3 1205.7 850.6 1194.9 857 1186.6 863.4 1180.6 869.7 1178.4 876.1 1179.8M569.4 1688.9L575.7 1683.2 582.1 1677.1 588.5 1670.5 594.8 1663.4 601.2 1656.1 607.5 1648.6 613.9 1640.9 620.3 1633.2 626.6 1625.6 633 1617.9 639.3 1610.4 645.7 1602.9 652.1 1595.6 658.4 1588.6 664.8 1581.8 671.1 1575.3 677.5 1568.8 683.9 1562.4 690.2 1555.9 696.6 1549.2 702.9 1542.4 709.3 1535.4 715.7 1528.4 722 1521.4 728.4 1514.3 734.7 1507 741.1 1499.6 747.5 1491.9 753.8 1483.7 760.2 1475 766.5 1465.5 772.9 1455.1 779.3 1443.7 785.6 1430.9 792 1416.4 798.3 1400 804.7 1380.9 811.1 1358.9 817.4 1335.8 823.8 1313 830.1 1291.2 836.5 1270.8 842.9 1253 849.2 1238.3 855.6 1226.7 861.9 1217.9 868.3 1211.3 874.7 1207 881 1206.3 887.4 1209M580.7 1691.8L587 1686.3 593.4 1680.4 599.8 1674 606.1 1667.2 612.5 1660.1 618.8 1652.8 625.2 1645.5 631.6 1638 637.9 1630.6 644.3 1623.2 650.6 1615.9 657 1608.7 663.4 1601.7 669.7 1594.9 676.1 1588.3 682.4 1581.8 688.8 1575.5 695.2 1569.3 701.5 1562.9 707.9 1556.1 714.2 1549 720.6 1541.8 727 1534.5 733.3 1527.1 739.7 1519.6 746 1512 752.4 1504.2 758.8 1495.9 765.1 1487.3 771.5 1478.1 777.8 1468.3 784.2 1457.8 790.6 1446.6 796.9 1434.4 803.3 1420.9 809.6 1405.6 816 1388.3 822.4 1369.1 828.7 1349.1 835.1 1329.1 841.4 1309.4 847.8 1290.9 854.2 1274.6 860.5 1261 866.9 1250.7 873.2 1243.7 879.6 1238.8 886 1236.1 892.3 1237.5 898.7 1242.4M592 1695.1L598.3 1689.8 604.7 1683.9 611.1 1677.7 617.4 1671 623.8 1664.1 630.1 1657.1 636.5 1649.9 642.9 1642.7 649.2 1635.6 655.6 1628.4 661.9 1621.4 668.3 1614.4 674.7 1607.6 681 1601 687.4 1594.6 693.7 1588.2 700.1 1582.1 706.5 1575.9 712.8 1569.5 719.2 1562.6 725.5 1555.3 731.9 1547.8 738.3 1540.3 744.6 1532.7 751 1525 757.3 1517.1 763.7 1508.9 770.1 1500.4 776.4 1491.4 782.8 1481.8 789.1 1471.7 795.5 1461.1 801.9 1450.4 808.2 1439 814.6 1426.4 820.9 1412.4 827.3 1397 833.7 1380.4 840 1363.6 846.4 1346.3 852.7 1328.9 859.1 1312.6 865.5 1298.4 871.8 1286.4 878.2 1277.1 884.5 1270.6 890.9 1266.5 897.3 1265 903.6 1268 910 1275.1M603.3 1698.9L609.6 1693.7 616 1687.8 622.4 1681.5 628.7 1674.9 635.1 1668.2 641.4 1661.3 647.8 1654.4 654.2 1647.4 660.5 1640.5 666.9 1633.6 673.2 1626.8 679.6 1620.1 686 1613.5 692.3 1607 698.7 1600.6 705 1594.4 711.4 1588.2 717.8 1581.9 724.1 1575.4 730.5 1568.4 736.8 1561 743.2 1553.5 749.6 1545.9 755.9 1538.3 762.3 1530.5 768.6 1522.5 775 1514.1 781.4 1505.4 787.7 1496.4 794.1 1486.8 800.4 1476.9 806.8 1466.6 813.2 1456.2 819.5 1445.3 825.9 1433.6 832.2 1421.1 838.6 1407.7 845 1393.8 851.3 1379.7 857.7 1364.7 864 1349.2 870.4 1334.7 876.8 1322.2 883.1 1311.6 889.5 1303 895.8 1297 902.2 1293.3 908.6 1291.7 914.9 1293.2 921.3 1298.4M614.6 1703.3L621 1697.8 627.3 1691.7 633.7 1685.4 640 1678.9 646.4 1672.2 652.8 1665.5 659.1 1658.8 665.5 1652.1 671.8 1645.4 678.2 1638.7 684.6 1632.1 690.9 1625.6 697.3 1619.2 703.6 1612.8 710 1606.5 716.4 1600.3 722.7 1594 729.1 1587.5 735.4 1580.9 741.8 1573.8 748.2 1566.4 754.5 1558.9 760.9 1551.6 767.2 1544.1 773.6 1536.4 780 1528.3 786.3 1519.9 792.7 1511.3 799 1502.4 805.4 1493.1 811.8 1483.6 818.1 1473.9 824.5 1463.9 830.8 1453.4 837.2 1442.5 843.6 1431.5 849.9 1420.1 856.3 1408.4 862.6 1396.3 869 1383.3 875.4 1369.7 881.7 1356.7 888.1 1345.3 894.4 1335.6 900.8 1327.8 907.2 1322.2 913.5 1318.7 919.9 1317.2 926.2 1317.8 932.6 1319.9M625.9 1707.1L632.3 1701.4 638.6 1695.3 645 1689.1 651.3 1682.7 657.7 1676.2 664.1 1669.8 670.4 1663.3 676.8 1656.8 683.1 1650.3 689.5 1643.8 695.9 1637.4 702.2 1631.1 708.6 1624.8 714.9 1618.5 721.3 1612.3 727.7 1606 734 1599.7 740.4 1593.2 746.7 1586.4 753.1 1579.4 759.5 1572.1 765.8 1564.8 772.2 1557.7 778.5 1550.4 784.9 1542.7 791.3 1534.6 797.6 1526.4 804 1518 810.3 1509.4 816.7 1500.6 823.1 1491.6 829.4 1482.3 835.8 1472.8 842.1 1463 848.5 1453.2 854.9 1443.6 861.2 1433.8 867.6 1423.7 873.9 1413.2 880.3 1402.2 886.7 1390.9 893 1379.8 899.4 1369.7 905.7 1361 912.1 1353.8 918.5 1348.3 924.8 1345.1 931.2 1343.9 937.5 1344 943.9 1344.5M637.2 1710.4L643.6 1704.7 649.9 1698.7 656.3 1692.7 662.6 1686.5 669 1680.2 675.4 1674 681.7 1667.7 688.1 1661.5 694.4 1655.2 700.8 1649 707.2 1642.8 713.5 1636.6 719.9 1630.5 726.2 1624.3 732.6 1618.1 739 1611.9 745.3 1605.5 751.7 1599 758 1592.3 764.4 1585.4 770.8 1578.3 777.1 1571.3 783.5 1564.3 789.8 1557.1 796.2 1549.3 802.6 1541.3 808.9 1533.3 815.3 1525.4 821.6 1517.4 828 1509.1 834.4 1500.7 840.7 1492.2 847.1 1483.4 853.4 1474.6 859.8 1465.9 866.2 1457.3 872.5 1448.7 878.9 1440 885.2 1431.1 891.6 1422.3 898 1413.6 904.3 1405.1 910.7 1397.1 917 1389.7 923.4 1383.3 929.8 1378.2 936.1 1375 942.5 1373.5 948.8 1373.1 955.2 1373.1M648.5 1713.8L654.9 1708 661.2 1702.2 667.6 1696.3 673.9 1690.3 680.3 1684.3 686.7 1678.3 693 1672.3 699.4 1666.3 705.7 1660.3 712.1 1654.3 718.5 1648.3 724.8 1642.2 731.2 1636.2 737.5 1630.2 743.9 1624 750.3 1617.9 756.6 1611.6 763 1605.1 769.3 1598.5 775.7 1591.8 782.1 1584.9 788.4 1578 794.8 1570.9 801.1 1563.7 807.5 1556 813.9 1548.2 820.2 1540.9 826.6 1533.6 832.9 1526.2 839.3 1518.7 845.7 1511 852 1503.2 858.4 1495.4 864.7 1487.6 871.1 1479.9 877.5 1472.3 883.8 1464.8 890.2 1457.3 896.5 1450 902.9 1443 909.3 1436.6 915.6 1430.5 922 1424.5 928.3 1418.8 934.7 1413.6 941.1 1409.2 947.4 1405.8 953.8 1403.7 960.1 1402.4 966.5 1401.5M659.8 1717.6L666.2 1711.8 672.5 1706 678.9 1700.3 685.2 1694.5 691.6 1688.7 698 1682.9 704.3 1677.1 710.7 1671.3 717 1665.5 723.4 1659.7 729.8 1653.9 736.1 1648 742.5 1642.2 748.8 1636.2 755.2 1630.2 761.6 1624.1 767.9 1617.9 774.3 1611.6 780.6 1605.1 787 1598.5 793.4 1591.8 799.7 1585 806.1 1577.9 812.4 1570.7 818.8 1563.1 825.2 1555.8 831.5 1549.4 837.9 1542.8 844.2 1536 850.6 1529.1 857 1522.1 863.3 1515.2 869.7 1508.3 876 1501.5 882.4 1494.8 888.8 1488.1 895.1 1481.6 901.5 1475.2 907.8 1469.1 914.2 1463.5 920.6 1458.3 926.9 1453.4 933.3 1448.8 939.6 1444.5 946 1440.4 952.4 1436.7 958.7 1433.6 965.1 1431.1 971.4 1429.1 977.8 1427.4M94.7 1580.9L106 1583.1 117.3 1585.2 128.6 1587.4 139.9 1589.4 151.2 1591.3 162.5 1593.2 173.8 1595 185.1 1596.7 196.4 1598.4 207.7 1600 219 1601.6 230.3 1603.2 241.6 1604.9 252.9 1606.7 264.2 1608.7 275.5 1610.9 286.8 1613.4 298.1 1615.9 309.4 1618.6 320.7 1621.4 332 1624.3 343.3 1627.3 354.6 1630 365.9 1632.5 377.2 1635.2 388.6 1638 399.9 1641 411.2 1644.2 422.5 1647.6 433.8 1651.2 445.1 1654.4 456.4 1657.2 467.7 1660.3 479 1663.5 490.3 1667.1 501.6 1670.8 512.9 1674.6 524.2 1678.4 535.5 1681.4 546.8 1683.8 558.1 1686.3 569.4 1688.9 580.7 1691.8 592 1695.1 603.3 1698.9 614.6 1703.3 625.9 1707.1 637.2 1710.4 648.5 1713.8 659.8 1717.6M101.1 1576.3L112.4 1578.5 123.7 1580.7 135 1582.8 146.3 1584.8 157.6 1586.8 168.9 1588.6 180.2 1590.4 191.5 1592.2 202.8 1593.8 214.1 1595.4 225.4 1597 236.7 1598.6 248 1600.3 259.3 1602 270.6 1604 281.9 1606.1 293.2 1608.5 304.5 1610.9 315.8 1613.5 327.1 1616.2 338.4 1619 349.7 1621.8 361 1624.4 372.3 1626.8 383.6 1629.3 394.9 1632 406.2 1634.9 417.5 1638.1 428.8 1641.5 440.1 1644.9 451.4 1648 462.7 1650.9 474 1653.8 485.3 1657.1 496.6 1660.6 507.9 1664.3 519.2 1668.2 530.5 1672 541.8 1675.1 553.1 1677.8 564.4 1680.4 575.7 1683.2 587 1686.3 598.3 1689.8 609.6 1693.7 621 1697.8 632.3 1701.4 643.6 1704.7 654.9 1708 666.2 1711.8M107.4 1571.9L118.7 1574 130 1576.2 141.3 1578.3 152.6 1580.4 163.9 1582.3 175.2 1584.2 186.5 1586 197.8 1587.7 209.1 1589.3 220.4 1590.9 231.7 1592.5 243 1594.1 254.3 1595.7 265.6 1597.4 277 1599.3 288.3 1601.3 299.6 1603.5 310.9 1605.8 322.2 1608.3 333.5 1610.8 344.8 1613.4 356.1 1615.9 367.4 1618.4 378.7 1620.7 390 1623.1 401.3 1625.6 412.6 1628.4 423.9 1631.3 435.2 1634.5 446.5 1637.7 457.8 1640.8 469.1 1643.7 480.4 1646.7 491.7 1649.9 503 1653.4 514.3 1657.2 525.6 1661 536.9 1664.7 548.2 1668.1 559.5 1671.1 570.8 1674 582.1 1677.1 593.4 1680.4 604.7 1683.9 616 1687.8 627.3 1691.7 638.6 1695.3 649.9 1698.7 661.2 1702.2 672.5 1706M113.8 1567.5L125.1 1569.7 136.4 1571.8 147.7 1574 159 1576 170.3 1578 181.6 1579.8 192.9 1581.6 204.2 1583.3 215.5 1585 226.8 1586.5 238.1 1588.1 249.4 1589.6 260.7 1591.2 272 1592.8 283.3 1594.5 294.6 1596.4 305.9 1598.4 317.2 1600.6 328.5 1602.8 339.8 1605.1 351.1 1607.4 362.4 1609.7 373.7 1612 385 1614.2 396.3 1616.4 407.6 1618.7 418.9 1621.3 430.2 1624 441.5 1626.9 452.8 1629.9 464.1 1632.9 475.4 1635.8 486.7 1638.9 498 1642.1 509.3 1645.6 520.7 1649.4 532 1653.2 543.3 1656.9 554.6 1660.5 565.9 1663.9 577.2 1667.1 588.5 1670.5 599.8 1674 611.1 1677.7 622.4 1681.5 633.7 1685.4 645 1689.1 656.3 1692.7 667.6 1696.3 678.9 1700.3M120.1 1563.2L131.4 1565.4 142.7 1567.5 154 1569.7 165.3 1571.7 176.6 1573.7 188 1575.6 199.3 1577.3 210.6 1579 221.9 1580.6 233.2 1582.2 244.5 1583.6 255.8 1585.1 267.1 1586.6 278.4 1588.1 289.7 1589.8 301 1591.5 312.3 1593.3 323.6 1595.2 334.9 1597.2 346.2 1599.2 357.5 1601.3 368.8 1603.3 380.1 1605.3 391.4 1607.3 402.7 1609.3 414 1611.4 425.3 1613.7 436.6 1616.2 447.9 1618.8 459.2 1621.6 470.5 1624.5 481.8 1627.4 493.1 1630.5 504.4 1633.8 515.7 1637.3 527 1641 538.3 1644.9 549.6 1648.7 560.9 1652.5 572.2 1656.2 583.5 1659.8 594.8 1663.4 606.1 1667.2 617.4 1671 628.7 1674.9 640 1678.9 651.3 1682.7 662.6 1686.5 673.9 1690.3 685.2 1694.5M126.5 1558.9L137.8 1561.1 149.1 1563.3 160.4 1565.5 171.7 1567.5 183 1569.5 194.3 1571.4 205.6 1573.1 216.9 1574.8 228.2 1576.3 239.5 1577.8 250.8 1579.3 262.1 1580.6 273.4 1582 284.7 1583.5 296 1584.9 307.3 1586.5 318.6 1588.1 329.9 1589.7 341.2 1591.5 352.5 1593.2 363.8 1595 375.1 1596.7 386.4 1598.5 397.7 1600.2 409 1601.9 420.4 1603.8 431.7 1605.8 443 1608 454.3 1610.4 465.6 1613 476.9 1615.7 488.2 1618.6 499.5 1621.7 510.8 1625 522.1 1628.5 533.4 1632.2 544.7 1636.1 556 1640.2 567.3 1644.2 578.6 1648.2 589.9 1652.2 601.2 1656.1 612.5 1660.1 623.8 1664.1 635.1 1668.2 646.4 1672.2 657.7 1676.2 669 1680.2 680.3 1684.3 691.6 1688.7M132.9 1554.6L144.2 1556.9 155.5 1559.1 166.8 1561.3 178.1 1563.4 189.4 1565.4 200.7 1567.2 212 1569 223.3 1570.6 234.6 1572.1 245.9 1573.5 257.2 1574.9 268.5 1576.2 279.8 1577.4 291.1 1578.7 302.4 1580 313.7 1581.3 325 1582.7 336.3 1584.1 347.6 1585.6 358.9 1587 370.2 1588.5 381.5 1590 392.8 1591.4 404.1 1592.8 415.4 1594.3 426.7 1595.8 438 1597.5 449.3 1599.4 460.6 1601.6 471.9 1604 483.2 1606.6 494.5 1609.5 505.8 1612.5 517.1 1615.8 528.4 1619.4 539.7 1623.2 551 1627.2 562.3 1631.4 573.6 1635.7 584.9 1640 596.2 1644.3 607.5 1648.6 618.8 1652.8 630.1 1657.1 641.4 1661.3 652.8 1665.5 664.1 1669.8 675.4 1674 686.7 1678.3 698 1682.9M139.2 1550.4L150.5 1552.7 161.8 1555 173.1 1557.2 184.4 1559.3 195.7 1561.3 207 1563.1 218.3 1564.8 229.6 1566.4 240.9 1567.9 252.2 1569.2 263.5 1570.5 274.8 1571.7 286.1 1572.8 297.4 1573.9 308.8 1575.1 320.1 1576.2 331.4 1577.3 342.7 1578.4 354 1579.6 365.3 1580.8 376.6 1581.9 387.9 1583.1 399.2 1584.2 410.5 1585.3 421.8 1586.5 433.1 1587.7 444.4 1589.1 455.7 1590.7 467 1592.6 478.3 1594.8 489.6 1597.4 500.9 1600.1 512.2 1603.2 523.5 1606.5 534.8 1610.1 546.1 1613.9 557.4 1618 568.7 1622.5 580 1627.1 591.3 1631.8 602.6 1636.4 613.9 1640.9 625.2 1645.5 636.5 1649.9 647.8 1654.4 659.1 1658.8 670.4 1663.3 681.7 1667.7 693 1672.3 704.3 1677.1M145.6 1546.2L156.9 1548.5 168.2 1550.8 179.5 1553.1 190.8 1555.2 202.1 1557.2 213.4 1559 224.7 1560.7 236 1562.2 247.3 1563.6 258.6 1564.9 269.9 1566.1 281.2 1567.2 292.5 1568.2 303.8 1569.1 315.1 1570 326.4 1570.9 337.7 1571.8 349 1572.7 360.3 1573.5 371.6 1574.4 382.9 1575.2 394.2 1576.1 405.5 1576.9 416.8 1577.7 428.1 1578.6 439.4 1579.5 450.7 1580.5 462 1581.8 473.3 1583.5 484.6 1585.5 495.9 1588 507.2 1590.7 518.5 1593.7 529.8 1597.1 541.1 1600.7 552.5 1604.6 563.8 1608.8 575.1 1613.5 586.4 1618.5 597.7 1623.5 609 1628.4 620.3 1633.2 631.6 1638 642.9 1642.7 654.2 1647.4 665.5 1652.1 676.8 1656.8 688.1 1661.5 699.4 1666.3 710.7 1671.3M151.9 1542L163.2 1544.4 174.5 1546.7 185.8 1549 197.1 1551.1 208.4 1553.1 219.8 1554.9 231.1 1556.5 242.4 1558 253.7 1559.4 265 1560.6 276.3 1561.6 287.6 1562.6 298.9 1563.5 310.2 1564.3 321.5 1565 332.8 1565.6 344.1 1566.2 355.4 1566.8 366.7 1567.4 378 1568 389.3 1568.5 400.6 1569 411.9 1569.5 423.2 1570 434.5 1570.6 445.8 1571.1 457.1 1571.9 468.4 1572.9 479.7 1574.3 491 1576.3 502.3 1578.6 513.6 1581.3 524.9 1584.3 536.2 1587.7 547.5 1591.4 558.8 1595.3 570.1 1599.6 581.4 1604.7 592.7 1610 604 1615.3 615.3 1620.5 626.6 1625.6 637.9 1630.6 649.2 1635.6 660.5 1640.5 671.8 1645.4 683.1 1650.3 694.4 1655.2 705.7 1660.3 717 1665.5M158.3 1538L169.6 1540.3 180.9 1542.6 192.2 1544.8 203.5 1546.9 214.8 1548.9 226.1 1550.7 237.4 1552.3 248.7 1553.8 260 1555.1 271.3 1556.2 282.6 1557.2 293.9 1558 305.2 1558.7 316.5 1559.4 327.8 1559.9 339.1 1560.3 350.4 1560.6 361.7 1560.9 373 1561.2 384.3 1561.5 395.6 1561.7 406.9 1561.9 418.2 1562.1 429.5 1562.3 440.8 1562.5 452.2 1562.8 463.5 1563.3 474.8 1564.1 486.1 1565.3 497.4 1567.1 508.7 1569.3 520 1571.9 531.3 1575 542.6 1578.4 553.9 1582.2 565.2 1586.2 576.5 1590.7 587.8 1596.1 599.1 1601.8 610.4 1607.3 621.7 1612.7 633 1617.9 644.3 1623.2 655.6 1628.4 666.9 1633.6 678.2 1638.7 689.5 1643.8 700.8 1649 712.1 1654.3 723.4 1659.7M164.7 1533.9L176 1536.2 187.3 1538.5 198.6 1540.6 209.9 1542.7 221.2 1544.7 232.5 1546.4 243.8 1548.1 255.1 1549.5 266.4 1550.7 277.7 1551.8 289 1552.7 300.3 1553.4 311.6 1554 322.9 1554.4 334.2 1554.7 345.5 1554.9 356.8 1555 368.1 1555 379.4 1555 390.7 1554.9 402 1554.8 413.3 1554.7 424.6 1554.6 435.9 1554.5 447.2 1554.4 458.5 1554.4 469.8 1554.6 481.1 1555.2 492.4 1556.3 503.7 1557.9 515 1560.1 526.3 1562.7 537.6 1565.8 548.9 1569.3 560.2 1573.2 571.5 1577.5 582.8 1582.4 594.1 1588 605.4 1594 616.7 1599.5 628 1604.9 639.3 1610.4 650.6 1615.9 661.9 1621.4 673.2 1626.8 684.6 1632.1 695.9 1637.4 707.2 1642.8 718.5 1648.3 729.8 1653.9M171 1529.7L182.3 1532 193.6 1534.2 204.9 1536.4 216.2 1538.4 227.5 1540.4 238.8 1542.1 250.1 1543.7 261.4 1545.1 272.7 1546.3 284 1547.3 295.3 1548.1 306.6 1548.7 317.9 1549.2 329.2 1549.5 340.5 1549.6 351.9 1549.5 363.2 1549.4 374.5 1549.1 385.8 1548.8 397.1 1548.4 408.4 1548 419.7 1547.6 431 1547.1 442.3 1546.7 453.6 1546.3 464.9 1546 476.2 1546 487.5 1546.4 498.8 1547.4 510.1 1548.9 521.4 1550.9 532.7 1553.5 544 1556.7 555.3 1560.3 566.6 1564.4 577.9 1569.1 589.2 1574.3 600.5 1580.1 611.8 1586 623.1 1591.7 634.4 1597.2 645.7 1602.9 657 1608.7 668.3 1614.4 679.6 1620.1 690.9 1625.6 702.2 1631.1 713.5 1636.6 724.8 1642.2 736.1 1648M177.4 1525.4L188.7 1527.7 200 1529.9 211.3 1532 222.6 1534 233.9 1535.9 245.2 1537.7 256.5 1539.3 267.8 1540.7 279.1 1541.8 290.4 1542.8 301.7 1543.5 313 1544 324.3 1544.4 335.6 1544.5 346.9 1544.4 358.2 1544.2 369.5 1543.8 380.8 1543.2 392.1 1542.5 403.4 1541.8 414.7 1541.1 426 1540.4 437.3 1539.6 448.6 1538.8 459.9 1538.1 471.2 1537.6 482.5 1537.4 493.8 1537.7 505.1 1538.4 516.4 1539.8 527.7 1541.9 539 1544.5 550.3 1547.7 561.6 1551.5 572.9 1555.9 584.3 1560.8 595.6 1566.2 606.9 1572 618.2 1578 629.5 1583.8 640.8 1589.6 652.1 1595.6 663.4 1601.7 674.7 1607.6 686 1613.5 697.3 1619.2 708.6 1624.8 719.9 1630.5 731.2 1636.2 742.5 1642.2M183.7 1520.9L195 1523.1 206.3 1525.3 217.6 1527.4 228.9 1529.4 240.2 1531.3 251.6 1533.1 262.9 1534.7 274.2 1536.1 285.5 1537.3 296.8 1538.2 308.1 1538.8 319.4 1539.3 330.7 1539.5 342 1539.5 353.3 1539.3 364.6 1538.8 375.9 1538.2 387.2 1537.4 398.5 1536.4 409.8 1535.3 421.1 1534.3 432.4 1533.2 443.7 1532.1 455 1531 466.3 1530 477.6 1529.3 488.9 1528.9 500.2 1528.9 511.5 1529.6 522.8 1530.9 534.1 1532.9 545.4 1535.6 556.7 1538.9 568 1542.9 579.3 1547.4 590.6 1552.6 601.9 1558.2 613.2 1564.1 624.5 1570.2 635.8 1576.2 647.1 1582.3 658.4 1588.6 669.7 1594.9 681 1601 692.3 1607 703.6 1612.8 714.9 1618.5 726.2 1624.3 737.5 1630.2 748.8 1636.2M190.1 1516.2L201.4 1518.4 212.7 1520.5 224 1522.6 235.3 1524.6 246.6 1526.6 257.9 1528.4 269.2 1530 280.5 1531.4 291.8 1532.5 303.1 1533.4 314.4 1534.1 325.7 1534.5 337 1534.6 348.3 1534.5 359.6 1534.1 370.9 1533.5 382.2 1532.7 393.5 1531.6 404.8 1530.3 416.1 1528.9 427.4 1527.6 438.7 1526.2 450 1524.8 461.3 1523.4 472.6 1522.1 484 1521.1 495.3 1520.4 506.6 1520.3 517.9 1520.8 529.2 1522.1 540.5 1524.1 551.8 1526.8 563.1 1530.2 574.4 1534.4 585.7 1539.1 597 1544.5 608.3 1550.3 619.6 1556.4 630.9 1562.7 642.2 1569 653.5 1575.3 664.8 1581.8 676.1 1588.3 687.4 1594.6 698.7 1600.6 710 1606.5 721.3 1612.3 732.6 1618.1 743.9 1624 755.2 1630.2M196.5 1511.1L207.8 1513.3 219.1 1515.5 230.4 1517.6 241.7 1519.6 253 1521.6 264.3 1523.4 275.6 1525.1 286.9 1526.5 298.2 1527.7 309.5 1528.6 320.8 1529.2 332.1 1529.6 343.4 1529.7 354.7 1529.4 366 1529 377.3 1528.2 388.6 1527.2 399.9 1526 411.2 1524.5 422.5 1522.8 433.8 1521.1 445.1 1519.4 456.4 1517.7 467.7 1515.9 479 1514.3 490.3 1513 501.6 1512.1 512.9 1511.8 524.2 1512.2 535.5 1513.3 546.8 1515.4 558.1 1518.1 569.4 1521.7 580.7 1526 592 1531 603.3 1536.5 614.6 1542.5 625.9 1548.8 637.2 1555.3 648.5 1561.9 659.8 1568.6 671.1 1575.3 682.4 1581.8 693.7 1588.2 705 1594.4 716.4 1600.3 727.7 1606 739 1611.9 750.3 1617.9 761.6 1624.1M202.8 1505.8L214.1 1508 225.4 1510.1 236.7 1512.2 248 1514.3 259.3 1516.4 270.6 1518.3 281.9 1520 293.2 1521.5 304.5 1522.8 315.8 1523.7 327.1 1524.3 338.4 1524.6 349.7 1524.7 361 1524.4 372.4 1523.8 383.7 1523 395 1521.9 406.3 1520.5 417.6 1518.8 428.9 1516.9 440.2 1514.9 451.5 1512.8 462.8 1510.8 474.1 1508.7 485.4 1506.8 496.7 1505.1 508 1504 519.3 1503.4 530.6 1503.7 541.9 1504.8 553.2 1506.8 564.5 1509.7 575.8 1513.4 587.1 1517.8 598.4 1523 609.7 1528.7 621 1535 632.3 1541.5 643.6 1548.2 654.9 1555.1 666.2 1561.9 677.5 1568.8 688.8 1575.5 700.1 1582.1 711.4 1588.2 722.7 1594 734 1599.7 745.3 1605.5 756.6 1611.6 767.9 1617.9M209.2 1500L220.5 1502.3 231.8 1504.4 243.1 1506.6 254.4 1508.8 265.7 1510.9 277 1512.9 288.3 1514.7 299.6 1516.4 310.9 1517.7 322.2 1518.6 333.5 1519.3 344.8 1519.6 356.1 1519.6 367.4 1519.3 378.7 1518.7 390 1517.8 401.3 1516.6 412.6 1515.1 423.9 1513.3 435.2 1511.2 446.5 1508.9 457.8 1506.5 469.1 1504.1 480.4 1501.7 491.7 1499.5 503 1497.5 514.3 1496.1 525.6 1495.3 536.9 1495.4 548.2 1496.5 559.5 1498.6 570.8 1501.5 582.1 1505.3 593.4 1509.9 604.8 1515.2 616.1 1521.2 627.4 1527.6 638.7 1534.4 650 1541.3 661.3 1548.3 672.6 1555.4 683.9 1562.4 695.2 1569.3 706.5 1575.9 717.8 1581.9 729.1 1587.5 740.4 1593.2 751.7 1599 763 1605.1 774.3 1611.6M215.5 1494L226.8 1496.2 238.1 1498.4 249.4 1500.7 260.7 1502.9 272 1505.1 283.4 1507.3 294.7 1509.3 306 1511 317.3 1512.4 328.6 1513.4 339.9 1514.1 351.2 1514.5 362.5 1514.5 373.8 1514.2 385.1 1513.5 396.4 1512.6 407.7 1511.3 419 1509.7 430.3 1507.8 441.6 1505.6 452.9 1503.1 464.2 1500.4 475.5 1497.7 486.8 1495 498.1 1492.5 509.4 1490.3 520.7 1488.5 532 1487.4 543.3 1487.4 554.6 1488.5 565.9 1490.6 577.2 1493.6 588.5 1497.4 599.8 1502.2 611.1 1507.7 622.4 1513.9 633.7 1520.5 645 1527.4 656.3 1534.5 667.6 1541.6 678.9 1548.8 690.2 1555.9 701.5 1562.9 712.8 1569.5 724.1 1575.4 735.4 1580.9 746.7 1586.4 758 1592.3 769.3 1598.5 780.6 1605.1M221.9 1487.8L233.2 1490 244.5 1492.2 255.8 1494.5 267.1 1496.8 278.4 1499.1 289.7 1501.4 301 1503.6 312.3 1505.5 323.6 1507 334.9 1508.1 346.2 1508.8 357.5 1509.2 368.8 1509.3 380.1 1509 391.4 1508.4 402.7 1507.4 414 1506.1 425.3 1504.4 436.6 1502.4 447.9 1500 459.2 1497.4 470.5 1494.5 481.8 1491.6 493.1 1488.7 504.4 1485.9 515.8 1483.4 527.1 1481.3 538.4 1480 549.7 1479.7 561 1480.9 572.3 1483.1 583.6 1486.1 594.9 1489.9 606.2 1494.8 617.5 1500.5 628.8 1506.9 640.1 1513.7 651.4 1520.7 662.7 1527.9 674 1535 685.3 1542.2 696.6 1549.2 707.9 1556.1 719.2 1562.6 730.5 1568.4 741.8 1573.8 753.1 1579.4 764.4 1585.4 775.7 1591.8 787 1598.5M228.3 1481.4L239.6 1483.6 250.9 1485.8 262.2 1488.1 273.5 1490.5 284.8 1492.9 296.1 1495.4 307.4 1497.7 318.7 1499.8 330 1501.3 341.3 1502.5 352.6 1503.3 363.9 1503.8 375.2 1503.9 386.5 1503.7 397.8 1503.2 409.1 1502.2 420.4 1500.9 431.7 1499.1 443 1497 454.3 1494.6 465.6 1491.8 476.9 1488.9 488.2 1485.8 499.5 1482.7 510.8 1479.7 522.1 1477 533.4 1474.7 544.7 1473.1 556 1472.6 567.3 1473.9 578.6 1476.2 589.9 1479.1 601.2 1482.9 612.5 1487.8 623.8 1493.7 635.1 1500.3 646.4 1507.1 657.7 1514.2 669 1521.4 680.3 1528.5 691.6 1535.5 702.9 1542.4 714.2 1549 725.5 1555.3 736.8 1561 748.2 1566.4 759.5 1572.1 770.8 1578.3 782.1 1584.9 793.4 1591.8M234.6 1474.9L245.9 1477.1 257.2 1479.4 268.5 1481.6 279.8 1484 291.1 1486.5 302.4 1489.1 313.7 1491.5 325 1493.7 336.3 1495.4 347.6 1496.7 358.9 1497.6 370.2 1498.2 381.5 1498.5 392.8 1498.4 404.1 1497.9 415.5 1497 426.8 1495.7 438.1 1493.9 449.4 1491.8 460.7 1489.3 472 1486.5 483.3 1483.4 494.6 1480.2 505.9 1477 517.2 1473.9 528.5 1471.1 539.8 1468.7 551.1 1467 562.4 1466.4 573.7 1467.6 585 1469.9 596.3 1472.8 607.6 1476.5 618.9 1481.5 630.2 1487.4 641.5 1494 652.8 1501 664.1 1508 675.4 1515.1 686.7 1522 698 1528.8 709.3 1535.4 720.6 1541.8 731.9 1547.8 743.2 1553.5 754.5 1558.9 765.8 1564.8 777.1 1571.3 788.4 1578 799.7 1585M241 1468.4L252.3 1470.6 263.6 1472.9 274.9 1475.1 286.2 1477.4 297.5 1480 308.8 1482.6 320.1 1485.1 331.4 1487.3 342.7 1489.1 354 1490.6 365.3 1491.7 376.6 1492.5 387.9 1492.9 399.2 1492.9 410.5 1492.5 421.8 1491.7 433.1 1490.5 444.4 1488.8 455.7 1486.6 467 1484.1 478.3 1481.2 489.6 1478.1 500.9 1474.9 512.2 1471.6 523.5 1468.5 534.8 1465.7 546.1 1463.4 557.4 1461.8 568.7 1461.3 580 1462.3 591.3 1464.3 602.6 1467.2 613.9 1470.9 625.2 1475.8 636.5 1481.7 647.9 1488.3 659.2 1495.1 670.5 1502 681.8 1508.9 693.1 1515.6 704.4 1522.1 715.7 1528.4 727 1534.5 738.3 1540.3 749.6 1545.9 760.9 1551.6 772.2 1557.7 783.5 1564.3 794.8 1570.9 806.1 1577.9M247.3 1462.1L258.6 1464.3 269.9 1466.5 281.2 1468.7 292.5 1471 303.8 1473.4 315.2 1476 326.5 1478.5 337.8 1480.7 349.1 1482.6 360.4 1484.3 371.7 1485.6 383 1486.5 394.3 1487.1 405.6 1487.3 416.9 1487.1 428.2 1486.4 439.5 1485.3 450.8 1483.7 462.1 1481.6 473.4 1479 484.7 1476.1 496 1473 507.3 1469.7 518.6 1466.4 529.9 1463.3 541.2 1460.6 552.5 1458.4 563.8 1457.1 575.1 1456.7 586.4 1457.5 597.7 1459.4 609 1462.3 620.3 1466 631.6 1470.8 642.9 1476.5 654.2 1482.9 665.5 1489.6 676.8 1496.3 688.1 1502.9 699.4 1509.3 710.7 1515.4 722 1521.4 733.3 1527.1 744.6 1532.7 755.9 1538.3 767.2 1544.1 778.5 1550.4 789.8 1557.1 801.1 1563.7 812.4 1570.7M253.7 1455.9L265 1458.1 276.3 1460.2 287.6 1462.3 298.9 1464.5 310.2 1466.8 321.5 1469.3 332.8 1471.6 344.1 1473.9 355.4 1475.9 366.7 1477.7 378 1479.2 389.3 1480.4 400.6 1481.2 411.9 1481.6 423.2 1481.6 434.5 1481.1 445.8 1480.1 457.1 1478.6 468.4 1476.5 479.7 1474 491 1471.1 502.3 1467.9 513.6 1464.7 524.9 1461.4 536.2 1458.4 547.6 1455.7 558.9 1453.7 570.2 1452.5 581.5 1452.3 592.8 1453.1 604.1 1455 615.4 1457.8 626.7 1461.5 638 1466.1 649.3 1471.7 660.6 1477.8 671.9 1484.2 683.2 1490.7 694.5 1497 705.8 1503 717.1 1508.8 728.4 1514.3 739.7 1519.6 751 1525 762.3 1530.5 773.6 1536.4 784.9 1542.7 796.2 1549.3 807.5 1556 818.8 1563.1M260.1 1449.6L271.4 1451.7 282.7 1453.8 294 1455.8 305.3 1457.9 316.6 1460 327.9 1462.3 339.2 1464.6 350.5 1466.8 361.8 1468.9 373.1 1470.9 384.4 1472.6 395.7 1474.1 407 1475.1 418.3 1475.8 429.6 1475.9 440.9 1475.5 452.2 1474.7 463.5 1473.3 474.8 1471.3 486.1 1468.8 497.4 1466 508.7 1462.9 520 1459.6 531.3 1456.4 542.6 1453.5 553.9 1450.9 565.2 1449.1 576.5 1448.1 587.8 1448 599.1 1448.9 610.4 1450.7 621.7 1453.5 633 1457.1 644.3 1461.6 655.6 1466.9 666.9 1472.8 678.2 1479 689.5 1485.1 700.8 1491.1 712.1 1496.7 723.4 1502 734.7 1507 746 1512 757.3 1517.1 768.6 1522.5 780 1528.3 791.3 1534.6 802.6 1541.3 813.9 1548.2 825.2 1555.8M266.4 1443L277.7 1445.2 289 1447.1 300.3 1449 311.6 1450.9 322.9 1452.9 334.2 1455 345.5 1457.2 356.8 1459.4 368.1 1461.6 379.4 1463.8 390.7 1465.8 402 1467.5 413.3 1468.9 424.6 1469.8 435.9 1470.1 447.3 1469.9 458.6 1469.1 469.9 1467.9 481.2 1466 492.5 1463.6 503.8 1460.9 515.1 1457.8 526.4 1454.6 537.7 1451.4 549 1448.5 560.3 1446 571.6 1444.3 582.9 1443.4 594.2 1443.5 605.5 1444.5 616.8 1446.4 628.1 1449.1 639.4 1452.7 650.7 1457 662 1462.1 673.3 1467.8 684.6 1473.7 695.9 1479.5 707.2 1485.1 718.5 1490.2 729.8 1495.1 741.1 1499.6 752.4 1504.2 763.7 1508.9 775 1514.1 786.3 1519.9 797.6 1526.4 808.9 1533.3 820.2 1540.9 831.5 1549.4M272.8 1436.1L284.1 1438.2 295.4 1440 306.7 1441.7 318 1443.4 329.3 1445.3 340.6 1447.3 351.9 1449.4 363.2 1451.6 374.5 1453.9 385.8 1456.3 397.1 1458.6 408.4 1460.7 419.7 1462.4 431 1463.6 442.3 1464.2 453.6 1464.2 464.9 1463.5 476.2 1462.3 487.5 1460.6 498.8 1458.3 510.1 1455.6 521.4 1452.5 532.7 1449.3 544 1446.2 555.3 1443.3 566.6 1440.9 577.9 1439.2 589.2 1438.5 600.5 1438.7 611.8 1439.9 623.1 1441.8 634.4 1444.5 645.7 1448 657 1452.1 668.3 1457 679.7 1462.5 691 1468.2 702.3 1473.7 713.6 1478.9 724.9 1483.6 736.2 1487.8 747.5 1491.9 758.8 1495.9 770.1 1500.4 781.4 1505.4 792.7 1511.3 804 1518 815.3 1525.4 826.6 1533.6 837.9 1542.8M279.1 1428.6L290.4 1430.6 301.7 1432.3 313 1433.8 324.3 1435.3 335.6 1437 347 1438.9 358.3 1441 369.6 1443.3 380.9 1445.8 392.2 1448.4 403.5 1451.1 414.8 1453.6 426.1 1455.6 437.4 1457.2 448.7 1458.2 460 1458.3 471.3 1457.8 482.6 1456.7 493.9 1455 505.2 1452.8 516.5 1450.1 527.8 1447.1 539.1 1443.9 550.4 1440.7 561.7 1437.8 573 1435.5 584.3 1433.9 595.6 1433.3 606.9 1433.7 618.2 1434.9 629.5 1436.9 640.8 1439.5 652.1 1442.9 663.4 1446.9 674.7 1451.5 686 1456.8 697.3 1462.2 708.6 1467.4 719.9 1472.2 731.2 1476.4 742.5 1480.2 753.8 1483.7 765.1 1487.3 776.4 1491.4 787.7 1496.4 799 1502.4 810.3 1509.4 821.6 1517.4 832.9 1526.2 844.2 1536M285.5 1420.4L296.8 1422.4 308.1 1423.9 319.4 1425.2 330.7 1426.4 342 1428.1 353.3 1429.9 364.6 1432.1 375.9 1434.4 387.2 1437.1 398.5 1440.1 409.8 1443.2 421.1 1446.2 432.4 1448.6 443.7 1450.6 455 1452 466.3 1452.4 477.6 1452 488.9 1450.9 500.2 1449.2 511.5 1446.9 522.8 1444.2 534.1 1441.2 545.4 1438.1 556.7 1434.9 568 1432 579.4 1429.7 590.7 1428.2 602 1427.7 613.3 1428.2 624.6 1429.5 635.9 1431.4 647.2 1433.9 658.5 1437.1 669.8 1440.9 681.1 1445.3 692.4 1450.3 703.7 1455.5 715 1460.4 726.3 1464.8 737.6 1468.7 748.9 1472 760.2 1475 771.5 1478.1 782.8 1481.8 794.1 1486.8 805.4 1493.1 816.7 1500.6 828 1509.1 839.3 1518.7 850.6 1529.1M291.9 1411.3L303.2 1413.2 314.5 1414.6 325.8 1415.6 337.1 1416.7 348.4 1418.2 359.7 1420.1 371 1422.3 382.3 1424.9 393.6 1427.9 404.9 1431.3 416.2 1435 427.5 1438.5 438.8 1441.3 450.1 1443.8 461.4 1445.6 472.7 1446.3 484 1445.9 495.3 1444.8 506.6 1443 517.9 1440.6 529.2 1437.9 540.5 1434.9 551.8 1431.8 563.1 1428.6 574.4 1425.7 585.7 1423.4 597 1422.1 608.3 1421.8 619.6 1422.3 630.9 1423.4 642.2 1425.2 653.5 1427.5 664.8 1430.4 676.1 1433.9 687.4 1438.1 698.7 1442.7 710 1447.6 721.3 1452.1 732.6 1456.2 743.9 1460 755.2 1463 766.5 1465.5 777.8 1468.3 789.1 1471.7 800.4 1476.9 811.8 1483.6 823.1 1491.6 834.4 1500.7 845.7 1511 857 1522.1M298.2 1401L309.5 1402.8 320.8 1404.1 332.1 1405 343.4 1406 354.7 1407.4 366 1409.4 377.3 1411.7 388.6 1414.6 399.9 1418 411.2 1422 422.5 1426.3 433.8 1430.3 445.1 1433.7 456.4 1436.7 467.8 1438.9 479.1 1439.6 490.4 1439.3 501.7 1438.1 513 1436.1 524.3 1433.7 535.6 1430.9 546.9 1428 558.2 1424.9 569.5 1421.8 580.8 1418.9 592.1 1416.7 603.4 1415.5 614.7 1415.3 626 1415.7 637.3 1416.6 648.6 1418 659.9 1420 671.2 1422.5 682.5 1425.7 693.8 1429.4 705.1 1433.6 716.4 1438 727.7 1442.2 739 1446.2 750.3 1449.8 761.6 1452.7 772.9 1455.1 784.2 1457.8 795.5 1461.1 806.8 1466.6 818.1 1473.9 829.4 1482.3 840.7 1492.2 852 1503.2 863.3 1515.2M304.6 1389.4L315.9 1391.2 327.2 1392.4 338.5 1393.3 349.8 1394.2 361.1 1395.6 372.4 1397.6 383.7 1400.1 395 1403.3 406.3 1407.3 417.6 1411.8 428.9 1416.7 440.2 1421.5 451.5 1425.7 462.8 1429.2 474.1 1431.5 485.4 1432.4 496.7 1432 508 1430.5 519.3 1428.4 530.6 1425.8 541.9 1423 553.2 1420.2 564.5 1417.2 575.8 1414.2 587.1 1411.4 598.4 1409.3 609.7 1408.3 621 1408 632.3 1408.2 643.6 1408.8 654.9 1409.7 666.2 1411.2 677.5 1413.2 688.8 1415.8 700.1 1418.9 711.5 1422.5 722.8 1426.4 734.1 1430.3 745.4 1434.1 756.7 1437.8 768 1440.9 779.3 1443.7 790.6 1446.6 801.9 1450.4 813.2 1456.2 824.5 1463.9 835.8 1472.8 847.1 1483.4 858.4 1495.4 869.7 1508.3M310.9 1376.8L322.2 1378.4 333.5 1379.6 344.8 1380.4 356.1 1381.4 367.4 1382.8 378.8 1384.8 390.1 1387.4 401.4 1390.9 412.7 1395.3 424 1400.5 435.3 1406.2 446.6 1411.8 457.9 1416.8 469.2 1420.8 480.5 1423.4 491.8 1424.2 503.1 1423.6 514.4 1421.9 525.7 1419.5 537 1416.7 548.3 1413.9 559.6 1411.2 570.9 1408.6 582.2 1405.8 593.5 1403.1 604.8 1401.3 616.1 1400.3 627.4 1399.9 638.7 1399.7 650 1399.8 661.3 1400.1 672.6 1400.8 683.9 1402.1 695.2 1404 706.5 1406.4 717.8 1409.3 729.1 1412.6 740.4 1416.1 751.7 1420 763 1423.9 774.3 1427.5 785.6 1430.9 796.9 1434.4 808.2 1439 819.5 1445.3 830.8 1453.4 842.1 1463 853.4 1474.6 864.7 1487.6 876 1501.5M317.3 1363.2L328.6 1364.8 339.9 1365.9 351.2 1366.6 362.5 1367.5 373.8 1368.8 385.1 1370.9 396.4 1373.6 407.7 1377.2 419 1382 430.3 1387.9 441.6 1394.3 452.9 1400.8 464.2 1406.7 475.5 1411.3 486.8 1414.1 498.1 1414.9 509.4 1414.1 520.7 1412 532 1409.2 543.3 1406.3 554.6 1403.4 565.9 1400.8 577.2 1398.5 588.5 1396 599.8 1393.6 611.2 1392 622.5 1391 633.8 1390.5 645.1 1390 656.4 1389.5 667.7 1389 679 1388.7 690.3 1389.1 701.6 1390 712.9 1391.6 724.2 1393.6 735.5 1396.2 746.8 1399.4 758.1 1403.3 769.4 1407.7 780.7 1412.2 792 1416.4 803.3 1420.9 814.6 1426.4 825.9 1433.6 837.2 1442.5 848.5 1453.2 859.8 1465.9 871.1 1479.9 882.4 1494.8M323.7 1348.8L335 1350.4 346.3 1351.5 357.6 1352 368.9 1352.6 380.2 1353.9 391.5 1355.9 402.8 1358.5 414.1 1362.1 425.4 1367.2 436.7 1373.5 448 1380.7 459.3 1388.1 470.6 1395 481.9 1400.4 493.2 1403.5 504.5 1404.1 515.8 1402.9 527.1 1400.5 538.4 1397.4 549.7 1394.2 561 1391.1 572.3 1388.6 583.6 1386.4 594.9 1384.2 606.2 1382.3 617.5 1380.9 628.8 1380.1 640.1 1379.6 651.4 1378.9 662.7 1377.8 674 1376.2 685.3 1374.8 696.6 1374 707.9 1373.6 719.2 1373.9 730.5 1375 741.8 1376.7 753.1 1379.6 764.4 1383.7 775.7 1388.8 787 1394.5 798.3 1400 809.6 1405.6 820.9 1412.4 832.2 1421.1 843.6 1431.5 854.9 1443.6 866.2 1457.3 877.5 1472.3 888.8 1488.1M330 1333.6L341.3 1335.3 352.6 1336.4 363.9 1336.7 375.2 1337 386.5 1338.2 397.8 1339.9 409.1 1342.3 420.4 1345.7 431.7 1350.7 443 1357.1 454.3 1364.9 465.6 1373.2 476.9 1381.1 488.2 1387.5 499.5 1391 510.9 1391.4 522.2 1389.9 533.5 1387.2 544.8 1383.8 556.1 1380.4 567.4 1377.1 578.7 1374.4 590 1372.1 601.3 1370.1 612.6 1368.5 623.9 1367.6 635.2 1367.2 646.5 1366.8 657.8 1366.2 669.1 1364.6 680.4 1361.9 691.7 1359.1 703 1356.9 714.3 1354.6 725.6 1352.9 736.9 1352.6 748.2 1353.9 759.5 1356.7 770.8 1360.7 782.1 1366.4 793.4 1373.5 804.7 1380.9 816 1388.3 827.3 1397 838.6 1407.7 849.9 1420.1 861.2 1433.8 872.5 1448.7 883.8 1464.8 895.1 1481.6M336.4 1317.9L347.7 1319.4 359 1320.4 370.3 1320.7 381.6 1320.9 392.9 1321.6 404.2 1322.8 415.5 1324.8 426.8 1327.8 438.1 1332.3 449.4 1338.6 460.7 1346.5 472 1355.3 483.3 1364.2 494.6 1372 505.9 1376.1 517.2 1376.2 528.5 1374.5 539.8 1371.8 551.1 1368.5 562.4 1364.9 573.7 1361.3 585 1358.1 596.3 1355.6 607.6 1353.6 618.9 1352.2 630.2 1351.6 641.5 1351.9 652.8 1351.7 664.1 1351.4 675.4 1349.9 686.7 1346 698 1341.9 709.3 1337.8 720.6 1333.2 731.9 1328.7 743.3 1326.7 754.6 1328.1 765.9 1331.1 777.2 1335 788.5 1341.1 799.8 1349.5 811.1 1358.9 822.4 1369.1 833.7 1380.4 845 1393.8 856.3 1408.4 867.6 1423.7 878.9 1440 890.2 1457.3 901.5 1475.2M342.7 1301.6L354 1302.9 365.3 1303.7 376.6 1304 387.9 1303.9 399.2 1303.9 410.6 1304.5 421.9 1305.9 433.2 1308.2 444.5 1312 455.8 1317.7 467.1 1325.1 478.4 1333.8 489.7 1343.6 501 1352.7 512.3 1357.8 523.6 1357.9 534.9 1356.5 546.2 1354.1 557.5 1351.1 568.8 1347.4 580.1 1343.3 591.4 1339.4 602.7 1336.5 614 1334.5 625.3 1332.9 636.6 1332.3 647.9 1333.5 659.2 1333.9 670.5 1334.4 681.8 1332.9 693.1 1328 704.4 1322 715.7 1315.6 727 1308.7 738.3 1301.7 749.6 1298.5 760.9 1300.2 772.2 1303.7 783.5 1307.9 794.8 1314.6 806.1 1324.2 817.4 1335.8 828.7 1349.1 840 1363.6 851.3 1379.7 862.6 1396.3 873.9 1413.2 885.2 1431.1 896.5 1450 907.8 1469.1M349.1 1284.7L360.4 1285.7 371.7 1286.3 383 1286.4 394.3 1285.8 405.6 1284.8 416.9 1284.5 428.2 1285.1 439.5 1286.6 450.8 1289.6 462.1 1294.6 473.4 1301.3 484.7 1309.3 496 1319.1 507.3 1328.9 518.6 1334.7 529.9 1336.2 541.2 1335.5 552.5 1333.6 563.8 1330.9 575.1 1327.2 586.4 1322.6 597.7 1318.1 609 1314.9 620.3 1312.5 631.6 1310.1 643 1309 654.3 1310.2 665.6 1312 676.9 1313.7 688.2 1311.9 699.5 1305.4 710.8 1297.5 722.1 1288.7 733.4 1279.8 744.7 1271.6 756 1268.5 767.3 1270.7 778.6 1275.3 789.9 1280.9 801.2 1288.7 812.5 1299.4 823.8 1313 835.1 1329.1 846.4 1346.3 857.7 1364.7 869 1383.3 880.3 1402.2 891.6 1422.3 902.9 1443 914.2 1463.5M355.5 1267.2L366.8 1267.8 378.1 1268 389.4 1267.6 400.7 1266.3 412 1264.2 423.3 1262.7 434.6 1262.2 445.9 1262.9 457.2 1265.5 468.5 1270.1 479.8 1276.3 491.1 1283.4 502.4 1292.9 513.7 1302.7 525 1308.7 536.3 1311.4 547.6 1311.4 558.9 1309.8 570.2 1307.1 581.5 1303.4 592.8 1298.5 604.1 1293.8 615.4 1290 626.7 1286 638 1281.5 649.3 1278.6 660.6 1280.1 671.9 1282.7 683.2 1286 694.5 1284.8 705.8 1276.8 717.1 1267.1 728.4 1255.8 739.7 1245.7 751 1238 762.3 1236.6 773.6 1240.4 784.9 1246.8 796.2 1254.4 807.5 1263.7 818.8 1275.8 830.1 1291.2 841.4 1309.4 852.7 1328.9 864 1349.2 875.4 1369.7 886.7 1390.9 898 1413.6 909.3 1436.6 920.6 1458.3M361.8 1249.4L373.1 1249.5 384.4 1248.9 395.7 1247.7 407 1245.5 418.3 1242.6 429.6 1240 440.9 1238.3 452.2 1238.3 463.5 1240.7 474.8 1245.3 486.1 1251.2 497.4 1258.1 508.7 1266.8 520 1275.7 531.4 1281.6 542.7 1284.5 554 1284.6 565.3 1282.7 576.6 1279.5 587.9 1275.5 599.2 1270.5 610.5 1265.1 621.8 1259.4 633.1 1252 644.4 1243.9 655.7 1239.4 667 1240.8 678.3 1244.4 689.6 1247.3 700.9 1246.3 712.2 1240.3 723.5 1228.9 734.8 1216.3 746.1 1206.7 757.4 1202.1 768.7 1203.6 780 1209.5 791.3 1218.6 802.6 1229 813.9 1240.5 825.2 1253.8 836.5 1270.8 847.8 1290.9 859.1 1312.6 870.4 1334.7 881.7 1356.7 893 1379.8 904.3 1405.1 915.6 1430.5 926.9 1453.4M368.2 1231.4L379.5 1230.9 390.8 1229.5 402.1 1227.3 413.4 1224.4 424.7 1221 436 1217.7 447.3 1215.4 458.6 1214.8 469.9 1216.9 481.2 1221.2 492.5 1226.9 503.8 1233.1 515.1 1241 526.4 1249.1 537.7 1254.4 549 1256.8 560.3 1256.4 571.6 1253.8 582.9 1249.9 594.2 1245.3 605.5 1239.3 616.8 1232.4 628.1 1224 639.4 1213.3 650.7 1203.2 662 1198.2 673.3 1198.7 684.6 1201.1 695.9 1201.3 707.2 1198.6 718.5 1191.3 729.8 1181.3 741.1 1173.8 752.4 1168.1 763.8 1167.2 775.1 1170.5 786.4 1178.6 797.7 1191.4 809 1205.5 820.3 1219.7 831.6 1234.9 842.9 1253 854.2 1274.6 865.5 1298.4 876.8 1322.2 888.1 1345.3 899.4 1369.7 910.7 1397.1 922 1424.5 933.3 1448.8M374.5 1213.3L385.8 1212.2 397.1 1210.1 408.4 1207.1 419.7 1204 431 1200.5 442.4 1197.2 453.7 1194.7 465 1193.9 476.3 1195.2 487.6 1198.5 498.9 1203.4 510.2 1209.3 521.5 1216.3 532.8 1223.3 544.1 1227.8 555.4 1229.7 566.7 1228.8 578 1225.4 589.3 1220.6 600.6 1214.9 611.9 1208 623.2 1200 634.5 1191.1 645.8 1179.9 657.1 1168.3 668.4 1159.6 679.7 1155.9 691 1153 702.3 1146.8 713.6 1139.8 724.9 1134.4 736.2 1133.1 747.5 1133.2 758.8 1133.7 770.1 1135.9 781.4 1139.5 792.7 1149.3 804 1166.2 815.3 1184.6 826.6 1201.9 837.9 1219 849.2 1238.3 860.5 1261 871.8 1286.4 883.1 1311.6 894.4 1335.6 905.7 1361 917 1389.7 928.3 1418.8 939.6 1444.5M380.9 1194.9L392.2 1193.5 403.5 1191 414.8 1187.8 426.1 1184.6 437.4 1181.4 448.7 1178.4 460 1176 471.3 1174.9 482.6 1175.3 493.9 1177.5 505.2 1181.5 516.5 1187 527.8 1193 539.1 1198.5 550.4 1202.4 561.7 1204.1 573 1202.9 584.3 1198.8 595.6 1193.1 606.9 1187.1 618.2 1180.1 629.5 1171.9 640.8 1161.9 652.1 1148.2 663.4 1131.6 674.8 1117.8 686.1 1108.7 697.4 1099.9 708.7 1090 720 1082.5 731.3 1082.2 742.6 1087.7 753.9 1094.3 765.2 1100.8 776.5 1107.7 787.8 1114.6 799.1 1126.5 810.4 1146.4 821.7 1167.3 833 1186.7 844.3 1205.7 855.6 1226.7 866.9 1250.7 878.2 1277.1 889.5 1303 900.8 1327.8 912.1 1353.8 923.4 1383.3 934.7 1413.6 946 1440.4M387.3 1176.2L398.6 1174.5 409.9 1172 421.2 1169.1 432.5 1166.2 443.8 1163.5 455.1 1161 466.4 1158.9 477.7 1157.5 489 1157.3 500.3 1158.6 511.6 1161.6 522.9 1166.3 534.2 1171.2 545.5 1175.1 556.8 1178.3 568.1 1179.8 579.4 1178.4 590.7 1174.1 602 1168.6 613.3 1162.5 624.6 1154.8 635.9 1144.6 647.2 1130.8 658.5 1112.2 669.8 1093.7 681.1 1080.9 692.4 1071 703.7 1060.6 715 1049.6 726.3 1041.8 737.6 1042.2 748.9 1049.7 760.2 1060.4 771.5 1072 782.8 1084.8 794.1 1098.2 805.4 1114.3 816.7 1134.4 828 1154.7 839.3 1174.4 850.6 1194.9 861.9 1217.9 873.2 1243.7 884.5 1270.6 895.8 1297 907.2 1322.2 918.5 1348.3 929.8 1378.2 941.1 1409.2 952.4 1436.7M393.6 1157.4L404.9 1155.7 416.2 1153.5 427.5 1151 438.8 1148.7 450.1 1146.6 461.4 1144.7 472.7 1142.9 484 1141.6 495.3 1141.1 506.6 1141.8 517.9 1144 529.2 1147.4 540.5 1150.9 551.8 1153.5 563.1 1155.6 574.5 1156.3 585.8 1154.6 597.1 1150.7 608.4 1145.5 619.7 1138.7 631 1128.8 642.3 1114.8 653.6 1097.7 664.9 1080.5 676.2 1066.8 687.5 1056 698.8 1043.5 710.1 1027.3 721.4 1012.9 732.7 1007.9 744 1011.9 755.3 1021.8 766.6 1035.6 777.9 1051.7 789.2 1069.7 800.5 1088.1 811.8 1107.6 823.1 1127.6 834.4 1146.3 845.7 1165.3 857 1186.6 868.3 1211.3 879.6 1238.8 890.9 1266.5 902.2 1293.3 913.5 1318.7 924.8 1345.1 936.1 1375 947.4 1405.8 958.7 1433.6M400 1139L411.3 1137.4 422.6 1135.7 433.9 1133.8 445.2 1132 456.5 1130.5 467.8 1129.1 479.1 1127.7 490.4 1126.7 501.7 1126.3 513 1126.7 524.3 1128.1 535.6 1130.1 546.9 1132.1 558.2 1133.5 569.5 1134.2 580.8 1133.7 592.1 1131.5 603.4 1127.6 614.7 1122 626 1113.7 637.3 1101.4 648.6 1086.2 659.9 1071 671.2 1058.9 682.5 1048.7 693.8 1036.6 705.1 1017.8 716.4 996.3 727.7 982.5 739 982.6 750.3 990.1 761.6 1002.2 772.9 1019.2 784.2 1039.7 795.5 1061.4 806.9 1082.1 818.2 1103 829.5 1122.8 840.8 1140.6 852.1 1159 863.4 1180.6 874.7 1207 886 1236.1 897.3 1265 908.6 1291.7 919.9 1317.2 931.2 1343.9 942.5 1373.5 953.8 1403.7 965.1 1431.1M406.3 1121.6L417.6 1120.2 428.9 1118.9 440.2 1117.5 451.5 1116.3 462.8 1115.2 474.2 1114.2 485.5 1113.3 496.8 1112.6 508.1 1112.3 519.4 1112.6 530.7 1113.2 542 1114.1 553.3 1114.7 564.6 1114.8 575.9 1114.3 587.2 1112.8 598.5 1109.7 609.8 1105.1 621.1 1098.4 632.4 1088.8 643.7 1076.5 655 1063.3 666.3 1051.7 677.6 1042.6 688.9 1033.3 700.2 1016.7 711.5 992.5 722.8 972.4 734.1 965.4 745.4 967.3 756.7 975 768 989 779.3 1009 790.6 1032.1 801.9 1055.7 813.2 1077.7 824.5 1099 835.8 1118.8 847.1 1136.9 858.4 1155.9 869.7 1178.4 881 1206.3 892.3 1237.5 903.6 1268 914.9 1293.2 926.2 1317.8 937.5 1344 948.8 1373.1 960.1 1402.4 971.4 1429.1M412.7 1105.5L424 1104.2 435.3 1103.1 446.6 1102.2 457.9 1101.3 469.2 1100.6 480.5 1100 491.8 1099.5 503.1 1099.1 514.4 1098.9 525.7 1099 537 1099.1 548.3 1099.1 559.6 1098.6 570.9 1097.6 582.2 1096.2 593.5 1093.9 604.8 1090 616.1 1084.4 627.4 1076.7 638.7 1066.9 650 1056.1 661.3 1045.6 672.6 1035.9 683.9 1026.9 695.2 1016.1 706.6 995.5 717.9 971 729.2 954.7 740.5 951 751.8 954.1 763.1 963.5 774.4 980.9 785.7 1003 797 1027.1 808.3 1051.3 819.6 1074 830.9 1095.6 842.2 1115.7 853.5 1134.8 864.8 1155.4 876.1 1179.8 887.4 1209 898.7 1242.4 910 1275.1 921.3 1298.4 932.6 1319.9 943.9 1344.5 955.2 1373.1 966.5 1401.5 977.8 1427.4"/><text x="71.5" y="921.6" font-size="68" text-anchor="middle" font-family="Carlito,'Liberation Sans',Arial,sans-serif" fill="#000" font-weight="bold" textLength="70.8" lengthAdjust="spacingAndGlyphs">(c)</text><rect x="1124.3" y="961.0" width="764.4" height="649.4" fill="#30123b"/><path fill="#36215f" stroke="#0c0c18" stroke-width="1.8" stroke-linejoin="round" fill-rule="evenodd" d="M1191.8 963.5L1198.6 961 1888.7 961 1888.7 1610.4 1124.3 1610.4 1124.3 1028.7 1136.8 1007.6 1146.8 994.1 1154.3 985.8 1164.3 977.1 1172.9 971 1179.3 967.7 1191.7 963.5Z"/><path fill="#476ee6" stroke="#0c0c18" stroke-width="1.8" stroke-linejoin="round" fill-rule="evenodd" d="M1406.8 1093.5L1429.3 1093 1449.3 1094.3 1466.8 1097.7 1486.8 1104.3 1506.8 1113.8 1526.8 1126.2 1542.3 1138.5 1556.8 1153.2 1565 1163.5 1571.3 1173.5 1576.1 1183.5 1580.7 1196 1586.3 1213.5 1590.3 1228.5 1595.9 1253.5 1603.3 1291 1607 1303.5 1611.5 1316 1619.4 1333.5 1626.5 1346 1632.9 1353.5 1641.8 1360.3 1649.3 1363.7 1656.8 1364.4 1684.3 1361.2 1711.8 1354.7 1721.8 1352.9 1734.3 1351.6 1749.3 1351.2 1769.3 1352 1789.3 1353.9 1801.8 1356 1829.3 1361.9 1849.3 1364.4 1869.3 1364.6 1888.7 1361.6 1888.7 1610.4 1149.2 1610.4 1141.9 1551 1136.7 1498.5 1135.3 1466 1135.8 1431 1139.3 1389.6 1141.8 1371.5 1144.6 1356 1147.7 1343.5 1151.8 1329.8 1158.4 1311 1164.3 1296.1 1166.2 1293.5 1185.4 1273.5 1199.6 1256 1206.3 1248.5 1211.8 1243.5 1229.3 1229.7 1239.3 1219.9 1245.6 1211 1260.6 1183.5 1271.8 1165.9 1281.3 1153.5 1291.8 1143.5 1314.3 1126.4 1329.3 1114.2 1334.3 1110.8 1341.8 1107.1 1354.3 1102.7 1371.8 1098.5 1389.3 1095.3 1406.7 1093.5Z"/><path fill="#2eb4f2" stroke="#0c0c18" stroke-width="1.8" stroke-linejoin="round" fill-rule="evenodd" d="M1416.8 1238.2L1429.3 1237.6 1439.3 1239 1444.3 1240.8 1446.8 1242.3 1449.3 1244.3 1452.5 1248.5 1454.8 1253.5 1456.8 1261 1458.5 1281 1458.9 1306 1460.8 1316 1463.8 1326 1470.3 1341 1477.7 1353.5 1486.8 1366 1499.8 1381 1507.1 1388.5 1515.4 1396 1522.1 1401 1529.3 1405.5 1540.2 1411 1599.3 1437.9 1611.8 1442.5 1624.4 1446 1639.3 1448.8 1649.3 1449.2 1656.8 1448.1 1664.3 1446.1 1706.8 1431.1 1719.3 1427.3 1739.3 1423.2 1756.8 1421.8 1771.8 1422 1789.3 1423 1799.3 1424 1834.3 1429.4 1888.7 1432.6 1888.7 1610.4 1182.6 1610.4 1175 1566 1172.5 1546 1171.7 1521 1173 1493.5 1176 1466 1180.2 1446 1184.3 1432.7 1188.8 1421 1194.3 1409 1198.8 1401 1204.3 1393.5 1214.3 1384 1228.6 1373.5 1239.3 1368.4 1244.3 1367.1 1251.8 1366.2 1294.3 1365.6 1311.8 1363 1326.8 1359.6 1337.5 1356 1347.5 1351 1354.7 1346 1360.4 1341 1367.1 1333.5 1371.7 1326 1374.9 1318.5 1377.2 1311 1378.8 1303.5 1380.2 1283.5 1382 1271 1383.9 1263.5 1386.2 1258.5 1391.2 1251 1396.8 1245.4 1404.3 1241.3 1414.7 1238.5Z"/><path fill="#1fe9af" stroke="#0c0c18" stroke-width="1.8" stroke-linejoin="round" fill-rule="evenodd" d="M1326.8 1416L1341.8 1415.8 1356.8 1416.6 1369.3 1417.8 1381.8 1420 1406.8 1427 1424.3 1434.4 1436.8 1440.6 1445.3 1443.5 1456.8 1445.7 1474.3 1448.1 1496.8 1449.8 1519.3 1453.7 1544.3 1459.4 1582.7 1471 1601.8 1475.1 1619.3 1477.9 1636.8 1479 1651.8 1478 1661.8 1476.4 1684.3 1469.9 1706.8 1465.5 1724.3 1463.2 1741.8 1462.6 1756.8 1463.4 1771.8 1465 1784.3 1467.1 1809.3 1472.6 1829.3 1476 1859.3 1480 1888.7 1482.7 1888.7 1610.4 1216 1610.4 1206.8 1584.9 1203.5 1573.5 1198.9 1551 1197.2 1533.5 1198.1 1516 1201.2 1498.5 1205.8 1483.5 1211.8 1471.3 1221.8 1456.5 1231.8 1444.3 1239.3 1437.5 1249.3 1431.5 1264.3 1426.3 1289.3 1420.6 1306.8 1417.7 1326.3 1416Z"/><path fill="#7dff56" stroke="#0c0c18" stroke-width="1.8" stroke-linejoin="round" fill-rule="evenodd" d="M1311.8 1445.9L1341.8 1444.7 1351.8 1445.1 1359.3 1446 1374.3 1450.1 1421 1468.5 1436.8 1474.1 1449.3 1475.7 1486.8 1475.2 1501.8 1476.7 1519.3 1480.4 1599.3 1499.8 1614.3 1502.9 1626.8 1504.8 1641.8 1505.5 1656.8 1504.6 1686.8 1498.5 1721.8 1493.6 1736.8 1493.1 1749.3 1494.1 1769.9 1498.5 1841.8 1520.7 1856.8 1524 1888.7 1529.6 1888.7 1610.4 1247.3 1610.4 1245.2 1593.5 1243.7 1586 1241.8 1580.7 1232.1 1563.5 1230.5 1558.5 1228.8 1548.5 1227.8 1536 1228.2 1523.5 1230 1513.5 1233.7 1501 1238.1 1491 1244.3 1481 1253.2 1471 1264.3 1461.9 1274.3 1456.1 1284.3 1452 1299.3 1447.8 1310.9 1446Z"/><path fill="#cdec34" stroke="#0c0c18" stroke-width="1.8" stroke-linejoin="round" fill-rule="evenodd" d="M1324.3 1470.7L1344.3 1468.6 1354.3 1468.6 1361.8 1469.3 1369.3 1470.8 1379.3 1473.6 1416.8 1486.3 1431.8 1489.7 1454.3 1492 1486.8 1492 1502.2 1493.5 1516.8 1497.5 1571.8 1517.3 1604.3 1528.4 1616.8 1532.1 1626.8 1534 1641.8 1535.3 1664.3 1534.9 1676.8 1534 1701.8 1531 1711.8 1530.6 1726.8 1531.4 1744.3 1534.8 1816.8 1556.9 1854.3 1567.1 1888.7 1577.6 1888.7 1610.4 1274.4 1610.4 1261.2 1568.5 1258.1 1556 1257.3 1546 1257.4 1533.5 1258.4 1523.5 1260.9 1513.5 1264.2 1506 1269.3 1498 1275.4 1491 1281.8 1485.6 1289.5 1481 1299.3 1476.7 1309.3 1473.7 1322.6 1471Z"/><path fill="#fbb637" stroke="#0c0c18" stroke-width="1.8" stroke-linejoin="round" fill-rule="evenodd" d="M1344.3 1490.9L1359.3 1489.7 1374.3 1490.4 1431.8 1502.3 1466.8 1507 1486.8 1508.9 1496.8 1510.9 1504.3 1513.4 1514.3 1517.8 1579.3 1550.7 1594.3 1556.9 1609.3 1562.2 1636.8 1570.4 1798.4 1610.4 1301.5 1610.4 1289.3 1571 1287.2 1561 1286.9 1556 1287.4 1548.5 1288.7 1541 1290.8 1533.5 1294 1526 1298.6 1518.5 1304.9 1511 1310.2 1506 1317.2 1501 1324.3 1497.2 1334.3 1493.3 1343.9 1491Z"/><path fill="#f56918" stroke="#0c0c18" stroke-width="1.8" stroke-linejoin="round" fill-rule="evenodd" d="M1351.8 1513.1L1359.3 1512.4 1381.8 1511.6 1419.3 1512.1 1431.8 1512.9 1444.3 1514.8 1461.4 1518.5 1481.7 1523.5 1496.8 1528.3 1503 1531 1512.3 1536 1535.1 1551 1592.8 1593.5 1614.8 1610.4 1334.9 1610.4 1330.8 1566 1330.6 1548.5 1331.4 1536 1333.2 1528.5 1335.4 1523.5 1337.2 1521 1339.7 1518.5 1343.5 1516 1350 1513.5Z"/><path fill="#ca2a04" stroke="#0c0c18" stroke-width="1.8" stroke-linejoin="round" fill-rule="evenodd" d="M1409.3 1528.2L1424.3 1527 1431.8 1527.4 1439.3 1528.7 1446.8 1530.8 1456.8 1534.5 1471.8 1542 1477.5 1546 1486.2 1553.5 1504.3 1573.7 1509.3 1578.5 1521.4 1588.5 1541.7 1610.4 1370.4 1610.4 1369 1568.5 1370.4 1553.5 1372.5 1546 1375.8 1541 1378.4 1538.5 1382.1 1536 1391.8 1532.1 1407.3 1528.5Z"/><path fill="#7a0403" stroke="#0c0c18" stroke-width="1.8" stroke-linejoin="round" fill-rule="evenodd" d="M1429.3 1550.9L1439.3 1550.5 1444.3 1551.1 1449.3 1552.5 1455.9 1556 1465 1563.5 1474 1573.5 1480.7 1583.5 1485.5 1593.5 1491.4 1610.4 1405.9 1610.4 1403.8 1586 1404.6 1573.5 1406.5 1566 1409.3 1561 1414.3 1556.8 1421.8 1552.9 1428.5 1551Z"/><rect x="1124.3" y="961.0" width="764.4" height="649.4" fill="none" stroke="#262626" stroke-width="1.6"/><path stroke="#333" stroke-width="1" d="M1159.5 961.0v7M1159.5 1610.4v-7M1281.9 961.0v7M1281.9 1610.4v-7M1404.3 961.0v7M1404.3 1610.4v-7M1526.7 961.0v7M1526.7 1610.4v-7M1649.1 961.0v7M1649.1 1610.4v-7M1771.5 961.0v7M1771.5 1610.4v-7M1124.3 1515.5h7M1888.7 1515.5h-7M1124.3 1384.5h7M1888.7 1384.5h-7M1124.3 1253.5h7M1888.7 1253.5h-7M1124.3 1122.5h7M1888.7 1122.5h-7M1124.3 991.5h7M1888.7 991.5h-7"/><text x="1097" y="989.7" font-size="23" text-anchor="middle" font-family="'Liberation Serif','Times New Roman',serif" fill="#333" textLength="20" lengthAdjust="spacingAndGlyphs">25</text><text x="1097" y="1125.8" font-size="23" text-anchor="middle" font-family="'Liberation Serif','Times New Roman',serif" fill="#333" textLength="20" lengthAdjust="spacingAndGlyphs">20</text><text x="1097" y="1257.2" font-size="23" text-anchor="middle" font-family="'Liberation Serif','Times New Roman',serif" fill="#333" textLength="20" lengthAdjust="spacingAndGlyphs">15</text><text x="1097" y="1386.2" font-size="23" text-anchor="middle" font-family="'Liberation Serif','Times New Roman',serif" fill="#333" textLength="20" lengthAdjust="spacingAndGlyphs">10</text><text x="1105.5" y="1517.8" font-size="23" text-anchor="middle" font-family="'Liberation Serif','Times New Roman',serif" fill="#333" textLength="10" lengthAdjust="spacingAndGlyphs">5</text><text x="1154.5" y="1638.4" font-size="20" text-anchor="middle" font-family="'Liberation Serif','Times New Roman',serif" fill="#333" textLength="24" lengthAdjust="spacingAndGlyphs">0.1</text><text x="1276.9" y="1638.4" font-size="20" text-anchor="middle" font-family="'Liberation Serif','Times New Roman',serif" fill="#333" textLength="24" lengthAdjust="spacingAndGlyphs">0.2</text><text x="1399.3" y="1638.4" font-size="20" text-anchor="middle" font-family="'Liberation Serif','Times New Roman',serif" fill="#333" textLength="24" lengthAdjust="spacingAndGlyphs">0.3</text><text x="1521.7" y="1638.4" font-size="20" text-anchor="middle" font-family="'Liberation Serif','Times New Roman',serif" fill="#333" textLength="24" lengthAdjust="spacingAndGlyphs">0.4</text><text x="1644.1" y="1638.4" font-size="20" text-anchor="middle" font-family="'Liberation Serif','Times New Roman',serif" fill="#333" textLength="24" lengthAdjust="spacingAndGlyphs">0.5</text><text x="1766.5" y="1638.4" font-size="20" text-anchor="middle" font-family="'Liberation Serif','Times New Roman',serif" fill="#333" textLength="24" lengthAdjust="spacingAndGlyphs">0.6</text><text x="1511" y="1700.8" font-size="23" text-anchor="middle" font-family="'Liberation Serif','Times New Roman',serif" fill="#333">2r/d</text><text x="1057.7" y="1298.8" font-size="23" text-anchor="middle" font-family="'Liberation Serif','Times New Roman',serif" fill="#333" transform="rotate(-90 1057.7 1291)">h/d</text><rect x="1907.0" y="959.2" width="40.0" height="651.2" fill="url(#cbar)" stroke="#15152a" stroke-width="1.6"/><text x="1953.5" y="1597.2" font-size="20" text-anchor="start" font-family="'Liberation Serif','Times New Roman',serif" fill="#333" textLength="9.5" lengthAdjust="spacingAndGlyphs">0</text><text x="1953.5" y="1526.5" font-size="20" text-anchor="start" font-family="'Liberation Serif','Times New Roman',serif" fill="#333" textLength="9.5" lengthAdjust="spacingAndGlyphs">5</text><text x="1953.5" y="1455.8" font-size="20" text-anchor="start" font-family="'Liberation Serif','Times New Roman',serif" fill="#333" textLength="18.7" lengthAdjust="spacingAndGlyphs">10</text><text x="1953.5" y="1385.1" font-size="20" text-anchor="start" font-family="'Liberation Serif','Times New Roman',serif" fill="#333" textLength="18.7" lengthAdjust="spacingAndGlyphs">15</text><text x="1953.5" y="1314.4" font-size="20" text-anchor="start" font-family="'Liberation Serif','Times New Roman',serif" fill="#333" textLength="18.7" lengthAdjust="spacingAndGlyphs">20</text><text x="1953.5" y="1243.7" font-size="20" text-anchor="start" font-family="'Liberation Serif','Times New Roman',serif" fill="#333" textLength="18.7" lengthAdjust="spacingAndGlyphs">25</text><text x="1953.5" y="1173" font-size="20" text-anchor="start" font-family="'Liberation Serif','Times New Roman',serif" fill="#333" textLength="18.7" lengthAdjust="spacingAndGlyphs">30</text><text x="1953.5" y="1102.3" font-size="20" text-anchor="start" font-family="'Liberation Serif','Times New Roman',serif" fill="#333" textLength="18.7" lengthAdjust="spacingAndGlyphs">35</text><text x="1953.5" y="1031.6" font-size="20" text-anchor="start" font-family="'Liberation Serif','Times New Roman',serif" fill="#333" textLength="18.7" lengthAdjust="spacingAndGlyphs">40</text><text x="1953.5" y="960.9" font-size="20" text-anchor="start" font-family="'Liberation Serif','Times New Roman',serif" fill="#333" textLength="18.7" lengthAdjust="spacingAndGlyphs">45</text><path stroke="#222" stroke-width="1.2" d="M1947.0 1596.9h-6M1947.0 1526.2h-6M1947.0 1455.5h-6M1947.0 1384.8h-6M1947.0 1314.1h-6M1947.0 1243.4h-6M1947.0 1172.7h-6M1947.0 1102h-6M1947.0 1031.3h-6M1947.0 960.6h-6"/><text x="1843" y="935.8" font-size="24" text-anchor="middle" font-family="'Liberation Serif','Times New Roman',serif" fill="#111" font-weight="bold" textLength="202" lengthAdjust="spacingAndGlyphs">Actuation strain (%)</text><text x="1081.5" y="921.6" font-size="68" text-anchor="middle" font-family="Carlito,'Liberation Sans',Arial,sans-serif" fill="#000" font-weight="bold" textLength="78.9" lengthAdjust="spacingAndGlyphs">(d)</text></g></svg></body></html>
